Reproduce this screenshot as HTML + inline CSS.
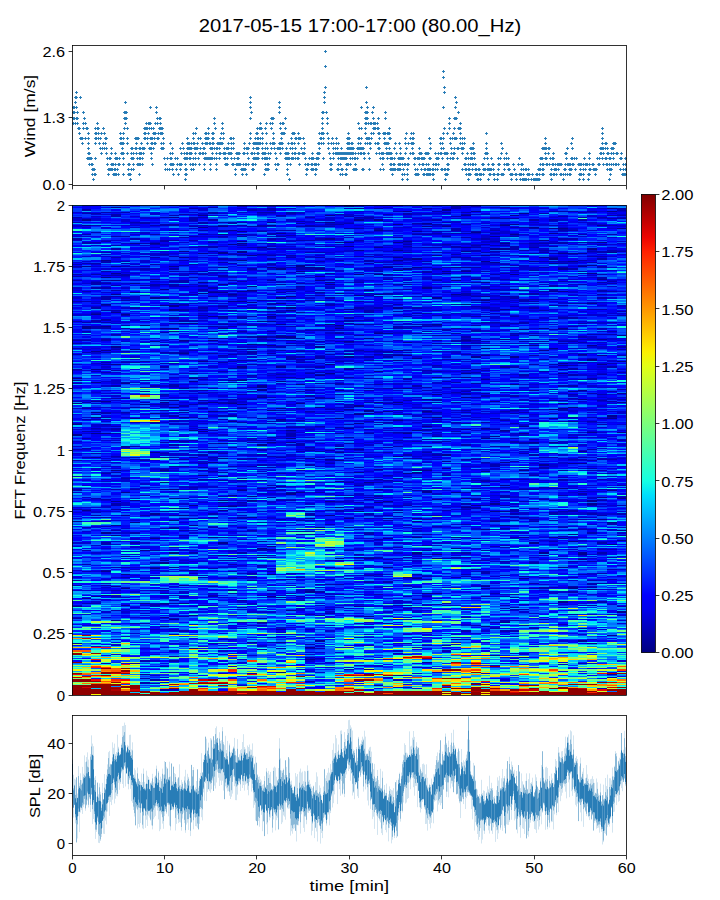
<!DOCTYPE html>
<html><head><meta charset="utf-8"><title>chart</title>
<style>html,body{margin:0;padding:0;background:#fff;overflow:hidden}svg{display:block}text{font-family:"Liberation Sans",sans-serif;fill:#000}</style></head><body>
<svg width="720" height="900" viewBox="0 0 720 900">
<rect width="720" height="900" fill="#fff"/>
<rect x="72.0" y="205.0" width="554.4" height="490.0" fill="#0018e8"/>
<g transform="translate(72.0 694.443) scale(9.7263 -1.11364)" fill="none" stroke-width="1.02" shape-rendering="crispEdges">
<path stroke="#000090" d="M31 8h1M33 17h1M7 18h1M55 18h1M21 20h1M30 22h1M36 29h1M24 31h1M46 33h1M43 35h1M12 41h1M24 42h1M38 44h1M0 46h1M53 46h1M18 47h1M21 47h1M25 48h1M52 48h1M55 53h1M21 58h1M52 59h1M9 61h1M34 61h1M42 61h1M19 65h1M44 65h1M4 66h1M10 67h1M9 69h1M30 70h1M12 71h1M56 74h1M22 75h1M40 76h1M0 79h1M29 79h1M5 80h1M34 80h1M7 82h1M9 82h1M11 82h1M50 83h1M1 86h1M21 87h1M2 88h1M20 88h1M42 88h1M3 89h1M36 91h2M24 92h1M16 93h1M53 94h1M5 95h1M42 95h1M51 95h1M51 96h1M4 97h1M42 97h1M11 98h1M35 104h1M46 104h1M34 105h1M5 108h1M20 108h1M3 110h1M12 111h1M41 112h1M8 113h1M10 114h1M32 114h1M50 114h1M9 118h1M52 121h1M27 122h1M30 122h1M37 122h1M19 123h1M29 123h1M5 124h1M15 125h1M19 125h1M37 126h1M52 126h1M10 127h1M35 127h1M48 127h1M52 127h1M7 129h1M20 130h1M19 131h1M39 131h1M20 133h1M55 135h1M15 136h1M47 136h1M51 137h1M56 138h1M8 140h1M32 140h1M50 140h1M14 141h1M35 141h1M39 141h1M46 141h1M49 141h1M4 143h1M51 144h1M3 145h1M56 147h1M42 148h1M10 149h1M25 150h1M28 150h1M4 152h1M12 152h1M44 152h1M6 154h1M55 154h1M0 155h1M35 155h1M43 155h1M10 156h1M54 157h1M24 158h1M28 158h1M32 158h1M35 158h1M18 159h1M5 161h1M11 161h1M26 161h1M8 162h1M29 164h1M43 164h2M1 165h1M15 165h1M11 167h1M27 168h1M40 168h1M15 169h2M12 170h1M41 170h1M43 171h1M53 171h1M31 172h1M4 173h1M26 173h1M32 173h1M53 173h1M6 174h1M15 174h1M18 174h1M53 174h1M37 175h1M10 176h1M40 176h1M56 176h1M54 177h1M18 178h1M16 179h1M22 180h1M5 181h1M23 181h1M36 181h1M39 181h1M36 182h1M17 183h1M55 183h1M9 184h2M31 184h1M50 185h1M21 187h1M42 188h1M44 188h1M9 190h1M30 190h1M27 191h1M15 196h1M13 197h1M34 198h1M29 199h1M35 199h1M42 200h1M4 201h1M9 201h1M35 201h2M46 201h1M31 202h1M38 203h1M48 206h1M51 207h2M14 208h1M44 208h1M38 209h1M27 210h1M26 211h1M15 212h1M24 212h1M2 213h1M33 214h1M38 215h1M8 217h1M27 217h1M52 218h1M29 220h1M27 221h1M5 223h1M19 224h1M15 225h1M20 226h1M22 226h1M47 226h1M49 226h1M10 228h1M22 230h1M42 230h1M43 232h1M0 233h1M2 234h2M34 234h1M46 234h1M53 235h1M56 235h1M13 236h1M12 237h1M22 237h1M35 237h1M44 237h1M13 238h1M40 238h1M28 239h1M42 239h1M36 241h1M46 241h1M0 242h1M29 243h1M8 244h1M16 245h1M51 245h1M33 246h1M21 247h1M6 248h1M27 248h1M49 248h1M55 248h1M2 249h1M11 249h1M37 249h1M55 250h1M29 251h1M8 252h1M30 252h1M2 253h1M14 254h1M30 254h1M32 254h1M36 254h1M20 255h1M30 255h1M28 256h1M49 256h1M21 257h1M50 257h1M10 258h1M25 258h1M51 258h1M29 259h1M7 260h1M17 260h1M0 261h1M16 261h1M23 261h1M50 261h1M9 262h1M14 262h1M31 262h1M33 262h1M56 262h1M2 263h2M43 263h1M10 264h1M49 264h1M36 265h1M52 265h1M19 267h1M40 267h1M37 269h1M56 270h1M51 272h1M19 273h1M27 273h1M47 273h1M52 273h1M19 274h1M34 275h1M19 276h1M19 277h1M23 278h1M45 278h1M5 279h1M2 280h1M12 281h1M21 281h1M0 282h1M16 282h2M42 283h1M0 284h1M12 284h1M37 285h1M40 285h1M25 286h1M26 288h1M40 288h1M50 288h1M31 290h1M2 292h1M28 292h1M50 292h1M17 294h1M21 294h1M44 294h1M50 295h1M4 296h1M26 296h1M54 296h1M50 297h1M52 298h1M13 299h1M56 299h1M33 300h1M53 300h1M53 301h1M35 302h1M28 303h1M41 303h1M45 303h1M33 304h2M42 304h1M54 304h1M28 305h1M52 305h1M11 306h1M2 308h1M3 309h1M33 309h1M48 309h1M6 310h1M18 310h1M42 311h1M49 311h1M4 312h1M25 312h1M20 313h1M47 313h1M53 313h1M18 314h1M34 316h1M8 317h1M28 317h1M11 318h1M14 318h1M40 318h1M44 319h1M49 319h1M54 319h1M30 320h1M19 321h1M21 321h2M56 322h1M31 324h2M10 326h1M6 328h2M46 328h1M1 329h1M9 329h2M15 329h1M27 329h1M48 329h1M50 329h1M1 330h1M3 330h1M7 331h1M27 331h1M21 332h1M26 332h1M29 332h1M37 332h1M11 333h2M19 335h2M14 339h2M20 339h1M2 341h1M5 341h1M4 343h1M10 345h1M22 345h1M10 346h1M28 346h1M44 346h1M20 347h1M22 347h1M33 347h1M10 348h1M9 349h2M3 350h1M40 350h1M21 351h1M53 351h1M18 352h1M16 353h2M42 354h1M8 356h1M21 356h1M37 356h1M22 357h1M42 357h1M29 358h1M4 359h1M16 359h1M31 359h1M39 359h1M13 360h1M27 360h1M6 361h1M14 361h2M17 362h1M49 362h2M18 363h1M30 363h1M9 364h1M45 364h1M36 365h1M18 366h1M15 368h1M26 368h1M6 369h1M13 370h1M26 370h1M42 370h1M4 372h1M25 372h1M39 372h1M8 373h1M41 373h1M54 373h1M3 374h1M25 375h1M29 377h1M31 377h1M45 377h1M4 378h1M38 378h1M53 378h1M23 380h1M38 380h1M40 380h1M33 381h1M21 382h1M25 382h1M34 382h1M50 382h1M15 383h1M20 383h1M24 383h1M32 383h1M35 383h1M39 383h2M1 384h1M4 384h1M10 384h1M23 384h1M52 384h1M23 385h1M53 385h1M49 387h1M43 388h1M42 389h1M47 389h1M51 389h1M3 390h1M17 390h1M33 390h1M35 391h1M49 391h1M11 392h1M33 392h1M48 392h1M18 394h1M37 394h1M42 394h1M13 396h1M15 396h1M50 396h3M15 397h1M17 397h1M55 397h1M11 398h1M17 398h1M40 398h1M29 399h1M33 399h1M43 400h2M53 400h1M19 401h1M31 401h1M40 401h1M28 402h1M16 404h1M6 405h1M8 405h1M17 405h1M44 405h1M27 406h2M33 406h1M54 406h1M17 407h1M34 407h1M48 408h1M26 409h1M43 411h1M15 413h1M17 413h1M45 413h1M21 414h1M49 414h1M41 415h1M17 416h1M35 416h1M16 417h1M31 417h1M49 418h2M56 418h1M13 419h1M47 419h1M15 420h1M36 420h1M38 420h1M1 421h1M20 421h1M44 421h1M54 421h1M33 422h1M45 422h1M36 423h1M20 424h1M26 424h1M1 426h1M29 426h1M31 426h1M10 428h1M13 430h1M26 430h1M40 430h1M45 430h1M46 432h1M34 434h1M41 434h1M55 434h1M38 435h1M29 436h1M55 436h1M4 437h1M28 438h1M28 439h1"/>
<path stroke="#0000b0" d="M9 4h1M54 5h1M7 10h2M41 10h1M7 11h1M9 11h1M24 12h1M8 13h1M33 13h1M7 14h1M32 15h1M55 15h1M18 19h1M10 20h1M28 22h1M9 25h1M29 26h1M50 27h1M3 28h1M6 28h1M16 28h1M52 28h1M7 30h1M10 30h1M25 32h1M24 33h1M10 34h1M33 37h1M38 39h1M19 40h1M5 41h1M15 41h1M21 41h1M24 41h2M30 44h1M36 44h1M24 45h1M14 46h1M34 46h1M20 47h1M16 49h1M39 49h1M20 51h1M29 51h1M10 54h1M11 57h1M40 57h1M44 57h2M8 58h1M24 58h1M43 59h1M47 59h1M29 60h1M26 62h1M41 62h1M46 62h1M50 63h1M6 64h2M32 64h1M17 65h1M43 65h1M44 66h2M33 67h1M35 67h1M48 67h1M0 68h1M19 68h1M40 69h1M11 70h1M29 70h1M25 71h1M24 72h1M51 72h1M26 73h1M4 75h1M26 76h1M45 76h2M34 77h1M44 77h1M17 78h1M45 78h1M30 79h1M32 79h1M56 79h1M8 80h1M13 80h1M33 80h1M44 80h1M53 80h1M8 81h2M37 81h1M46 81h1M1 82h2M10 82h1M38 82h1M54 83h1M10 84h1M17 84h1M23 84h1M35 85h1M45 87h1M4 88h1M11 88h1M14 88h1M23 88h1M34 88h1M36 88h1M44 88h1M14 89h1M27 90h1M31 90h1M45 90h1M9 91h1M16 91h1M22 91h1M43 91h1M25 92h1M51 92h1M4 93h1M8 93h2M20 93h1M24 93h1M24 94h1M47 95h2M48 96h2M53 96h1M14 97h1M51 97h1M0 98h1M3 98h1M34 98h1M42 98h1M25 99h3M53 99h1M47 100h1M53 100h2M30 101h1M32 101h1M0 102h1M18 102h1M53 102h1M21 103h2M25 103h2M36 103h1M55 103h1M16 104h1M28 104h1M5 105h1M13 105h1M18 105h1M23 105h1M35 105h1M39 105h1M48 105h1M51 105h1M36 106h1M40 106h1M46 106h1M30 107h1M44 107h1M31 108h1M35 108h1M40 108h1M52 108h1M12 109h1M18 109h1M22 109h1M42 109h1M54 109h1M1 110h1M16 110h1M20 110h1M42 110h1M3 111h1M11 111h1M55 112h1M14 113h1M4 114h2M8 114h1M26 114h1M40 115h1M19 116h1M1 117h1M16 117h1M8 118h1M47 118h1M44 119h1M51 119h1M53 119h1M9 120h1M15 120h2M26 120h2M29 120h1M41 120h2M32 121h1M31 122h1M38 122h1M30 123h2M34 123h1M39 123h2M55 123h1M48 125h1M29 126h1M35 126h1M12 127h1M17 127h1M40 127h1M54 127h1M1 129h1M8 129h1M19 129h1M28 129h1M36 129h1M42 129h1M19 130h1M49 130h1M54 130h2M26 132h1M33 132h1M44 132h1M43 133h1M52 133h1M36 134h1M44 134h1M3 135h1M3 136h1M6 136h1M54 136h1M19 137h1M49 137h1M31 139h1M41 140h1M15 141h1M45 141h1M51 141h1M50 142h1M11 143h1M56 143h1M23 144h2M30 144h1M36 144h1M6 145h1M30 145h1M53 145h1M23 146h2M4 147h1M11 147h1M18 147h1M23 148h1M52 148h2M9 149h1M35 149h1M44 149h1M1 150h1M10 150h1M14 150h1M17 150h1M50 150h1M3 151h1M37 151h1M34 152h1M26 153h1M40 153h1M55 153h1M19 154h1M47 155h1M23 156h2M32 156h1M43 156h1M45 156h1M49 156h1M21 157h1M36 157h1M47 157h1M52 157h1M11 158h2M17 158h1M30 158h1M46 158h1M3 159h1M14 159h1M17 159h1M45 159h1M44 160h1M2 161h1M7 161h1M10 161h1M24 161h1M32 161h1M36 161h2M54 161h1M14 162h1M24 162h1M30 162h1M45 162h1M49 162h1M53 162h1M56 162h1M33 163h1M49 163h1M9 164h1M24 164h1M27 164h1M45 164h1M50 164h2M21 165h1M26 165h2M31 165h1M33 165h1M38 165h1M45 165h1M51 165h1M0 166h1M4 166h1M29 166h1M40 166h1M45 166h1M49 166h1M10 167h1M41 167h1M47 167h1M30 168h1M41 168h1M40 169h1M4 170h1M16 170h2M34 170h1M42 170h1M44 170h1M53 170h1M56 170h1M4 171h1M40 171h1M15 172h1M17 172h1M29 172h1M18 173h1M27 173h1M43 173h1M46 173h1M21 174h2M49 174h1M54 174h1M3 175h1M30 175h1M41 175h1M48 175h1M2 176h1M11 176h1M26 176h1M31 176h1M41 176h1M13 177h1M20 177h1M28 177h1M30 177h1M34 177h1M44 177h1M56 177h1M15 178h1M31 178h1M44 178h1M7 179h1M27 179h2M31 179h1M41 179h1M44 179h1M50 179h1M52 180h1M22 181h1M25 181h1M40 181h1M52 182h1M0 183h1M20 183h2M35 183h2M0 184h1M4 184h1M6 184h1M17 184h1M46 184h2M54 184h1M19 185h1M40 185h2M49 185h1M12 186h1M20 186h1M44 186h1M48 186h1M17 187h1M20 188h1M29 188h1M56 188h1M28 190h1M31 190h1M33 191h1M42 191h2M15 192h1M17 192h1M19 192h1M32 192h1M41 192h2M50 192h1M3 193h1M8 193h1M13 193h2M31 193h1M37 193h1M44 193h3M50 193h1M54 193h1M5 194h1M17 194h1M33 194h1M50 195h1M32 197h1M38 197h1M47 197h1M3 198h1M21 198h1M35 198h1M46 198h1M55 198h1M4 199h1M15 199h1M14 200h1M13 201h1M23 201h1M50 201h1M53 201h2M9 202h1M35 202h1M48 203h1M53 203h1M13 204h1M20 204h1M29 204h1M48 204h1M10 205h2M16 205h1M18 205h1M43 205h1M19 206h1M24 206h1M43 206h1M13 207h1M26 207h1M42 208h1M45 209h1M0 210h1M3 210h1M7 210h1M26 210h1M53 210h1M6 211h1M11 211h1M17 211h1M40 211h2M51 211h2M54 211h2M18 212h1M34 212h2M54 212h1M1 213h1M6 213h1M9 213h2M12 213h1M14 213h1M21 213h1M48 213h2M52 213h1M4 214h1M20 214h1M13 215h1M19 215h1M34 215h1M37 215h1M47 215h1M2 216h1M9 216h1M15 216h1M46 216h1M14 217h1M29 217h1M32 217h1M36 217h1M14 218h1M23 218h1M25 218h1M19 219h1M24 219h1M26 219h1M0 220h1M19 220h1M28 220h1M38 220h1M41 220h1M47 220h1M53 220h1M1 221h1M5 222h1M16 222h1M24 222h1M32 222h1M6 223h1M27 223h1M33 223h1M36 223h1M43 223h2M50 223h1M10 224h1M23 224h1M40 224h1M14 225h1M23 225h1M28 225h1M46 225h2M9 226h1M18 226h1M37 226h1M45 226h2M11 227h1M35 227h1M38 227h1M45 227h1M12 228h1M15 228h1M18 228h3M33 228h1M56 228h1M36 229h2M47 229h1M1 230h1M18 230h1M45 230h1M20 231h1M28 231h1M34 231h1M51 231h1M22 232h1M37 232h1M22 233h1M4 234h1M22 234h1M27 234h1M30 234h1M36 234h1M40 234h1M33 235h2M1 236h2M39 236h1M44 236h1M10 237h1M14 237h1M36 237h1M4 238h1M24 238h1M30 238h1M36 238h2M42 238h2M2 239h1M4 239h1M22 240h2M27 240h1M4 241h1M25 241h1M3 242h1M28 242h1M54 242h1M0 243h1M40 243h1M45 243h1M6 244h1M17 244h1M31 244h2M39 244h1M42 244h1M10 245h1M20 245h2M30 245h1M37 245h1M50 245h1M53 245h1M21 246h1M23 246h1M44 246h1M1 247h3M15 247h1M31 247h1M37 247h1M13 248h1M19 248h1M43 248h1M54 248h1M3 249h1M12 249h1M36 249h1M46 249h1M51 249h1M53 249h1M55 249h1M10 250h1M15 250h2M2 251h1M33 251h2M3 252h1M9 252h1M29 252h1M45 252h1M49 252h1M3 253h1M5 253h1M11 253h1M31 253h1M36 253h2M40 253h1M46 253h1M15 254h2M24 254h1M27 254h1M44 254h1M9 255h1M11 255h1M21 255h1M33 255h1M40 255h1M45 255h1M50 255h1M26 256h1M47 256h1M50 256h1M1 257h1M13 257h1M17 257h1M23 257h1M36 257h1M6 258h1M28 258h1M31 258h1M11 259h1M8 260h3M12 260h1M28 260h1M33 260h1M13 261h1M15 261h1M32 261h1M1 262h1M7 262h1M13 262h1M15 262h2M20 262h1M30 262h1M36 262h2M39 262h1M0 263h1M27 263h1M55 263h1M9 264h1M13 264h1M34 264h1M37 264h1M47 264h1M50 264h1M54 264h1M15 265h2M18 265h1M24 265h1M37 265h1M56 265h1M4 266h2M25 266h2M51 266h1M20 267h1M25 267h1M41 267h1M19 268h1M24 268h1M42 268h1M45 268h1M7 269h1M9 269h1M17 269h1M27 269h1M40 269h1M51 269h1M54 269h1M13 270h1M40 270h1M42 270h1M53 270h1M39 271h1M7 272h1M18 272h1M23 272h1M40 272h1M55 272h1M13 273h1M24 273h1M30 273h1M36 273h1M41 273h1M43 273h1M41 274h1M49 274h1M56 274h1M11 275h1M14 275h1M30 275h1M32 275h2M18 276h1M36 276h1M38 276h1M4 277h1M8 277h1M10 277h1M35 277h1M50 277h2M10 278h1M13 278h1M27 278h1M31 278h1M0 279h1M25 279h1M27 279h1M41 279h1M5 280h1M16 280h1M39 280h1M38 281h1M7 282h1M13 283h1M17 283h1M34 283h1M52 283h2M23 284h1M30 284h1M34 284h1M53 284h1M12 285h2M21 285h2M28 285h1M38 285h1M18 286h1M46 286h1M51 286h1M21 287h1M25 287h1M46 287h1M51 287h1M54 287h1M12 288h1M24 288h1M3 289h1M25 289h1M41 289h1M56 289h1M2 290h1M15 290h1M37 290h1M48 290h1M4 291h1M36 291h1M40 291h1M42 291h1M0 292h1M3 292h1M41 292h1M51 292h1M16 293h2M28 293h2M51 293h1M9 294h1M25 294h1M45 294h1M55 294h1M37 295h1M51 295h1M3 296h1M18 296h1M47 296h1M49 296h1M9 297h2M41 297h1M55 297h1M3 298h1M5 298h2M15 298h1M23 298h1M7 299h1M16 299h1M27 299h1M17 300h2M30 300h1M22 301h3M38 301h2M48 301h1M22 302h1M25 302h1M22 303h2M25 303h1M30 303h1M32 303h1M15 304h1M44 304h1M47 304h1M52 304h1M56 304h1M0 305h1M16 305h1M26 305h1M31 305h3M40 305h1M10 306h1M14 306h1M18 306h1M20 306h1M1 307h1M3 307h1M9 307h3M18 307h1M32 307h1M34 307h1M5 308h1M18 308h1M23 308h1M26 308h1M28 308h1M30 308h3M37 308h1M12 309h1M21 309h1M29 309h1M34 309h1M4 310h1M17 310h1M56 310h1M0 311h1M21 312h1M56 312h1M9 313h1M40 313h1M42 313h1M46 313h1M15 314h1M19 314h1M0 315h1M22 315h1M37 315h2M41 315h1M47 315h1M50 315h1M28 316h1M52 316h1M11 317h1M25 317h1M27 317h1M39 317h2M42 317h1M46 317h1M48 317h1M50 317h2M0 318h2M3 318h1M20 318h1M22 318h1M37 318h1M39 318h1M41 318h1M3 319h1M19 319h1M40 319h1M52 319h2M14 320h2M22 320h2M27 320h1M18 321h1M20 321h1M40 321h1M52 321h1M21 322h1M29 322h1M37 322h2M45 322h1M47 322h1M4 323h1M53 323h3M27 324h1M35 324h1M39 324h1M45 324h3M9 325h1M27 325h1M31 325h1M1 326h1M14 326h1M17 326h1M20 326h1M36 326h1M41 326h1M55 326h1M24 327h3M38 327h1M41 327h1M38 328h1M49 328h2M2 329h2M5 329h1M33 329h2M39 329h1M54 329h1M2 330h1M14 330h1M16 330h1M22 330h1M33 330h1M35 330h2M51 330h1M5 331h1M18 331h1M25 331h1M37 331h1M41 331h1M44 331h1M15 332h1M17 332h1M30 332h1M35 332h2M10 333h1M28 333h1M45 333h2M52 333h1M1 334h1M3 334h1M42 334h2M46 334h1M53 334h1M55 334h1M0 335h1M2 335h1M11 335h2M16 335h1M27 335h2M2 336h2M11 336h1M28 336h3M3 337h1M47 337h1M10 338h1M15 338h1M17 338h1M20 338h1M28 338h1M50 338h2M17 339h2M34 339h1M41 339h2M45 339h1M5 340h1M13 340h1M37 340h1M56 340h1M20 341h1M2 342h1M35 342h2M43 342h1M21 343h1M23 343h1M30 343h1M20 344h1M30 344h1M33 344h1M56 344h1M3 345h2M11 345h1M13 345h1M16 345h1M30 345h1M37 345h1M43 345h1M48 345h1M11 346h1M53 346h2M2 347h1M6 347h1M13 347h1M29 347h1M31 347h1M35 347h1M42 347h1M47 347h1M15 348h1M17 348h1M41 348h1M45 348h1M3 349h1M11 349h1M22 349h1M26 349h1M49 349h2M11 350h1M20 350h1M26 350h1M33 350h1M39 350h1M10 351h1M20 351h1M51 351h2M42 352h1M0 353h2M29 353h1M46 353h2M5 354h1M19 354h2M22 354h1M24 354h1M39 354h1M41 354h1M46 354h1M3 355h1M33 355h1M42 355h2M46 355h2M49 355h1M3 356h1M5 356h1M9 356h1M26 356h1M45 356h1M54 356h1M3 357h2M14 357h1M31 357h1M36 357h1M41 357h1M44 357h2M16 358h1M25 358h1M30 358h1M40 358h1M12 359h1M32 359h1M40 359h1M47 359h1M54 359h1M30 360h1M32 360h1M40 360h1M44 360h1M47 360h1M21 361h1M25 361h1M1 362h1M14 362h1M18 362h1M22 362h1M48 362h1M54 362h2M4 363h1M13 363h1M28 363h1M46 363h1M49 363h1M54 363h1M13 364h1M21 364h2M34 364h1M43 364h1M49 364h1M2 365h2M14 365h1M42 365h1M10 366h2M13 366h1M23 366h1M38 366h1M49 366h1M4 367h1M7 367h2M10 367h1M13 367h1M49 367h1M2 368h1M8 368h3M21 368h1M31 368h1M33 368h2M44 368h1M52 368h1M2 369h2M16 369h1M23 369h1M55 369h1M2 370h1M11 370h1M29 370h1M41 370h1M54 370h1M10 371h2M17 371h1M50 371h1M55 371h1M0 372h1M3 372h1M11 372h1M16 372h1M20 372h1M37 372h1M45 372h1M32 373h1M44 373h1M12 374h1M39 374h1M54 374h1M0 375h1M15 375h1M3 376h3M15 376h1M0 377h1M2 377h1M5 377h1M13 377h1M32 377h1M43 377h1M54 377h1M12 378h1M26 378h1M44 378h1M52 378h1M36 379h1M3 380h1M10 380h1M12 380h2M31 380h1M36 380h1M42 380h1M52 380h1M40 381h1M45 381h1M47 381h1M7 382h1M10 382h1M18 382h1M23 382h2M37 382h1M51 382h1M22 383h2M25 383h1M31 383h1M36 383h1M38 383h1M41 383h1M44 383h1M48 383h1M50 383h1M54 383h1M0 384h1M5 384h1M7 384h1M32 384h1M54 384h1M11 385h1M17 385h1M24 385h1M45 385h1M52 385h1M0 386h1M8 386h1M12 386h1M20 386h1M28 386h1M33 386h1M44 386h1M1 387h2M5 387h1M16 387h1M30 387h1M50 387h1M3 388h1M15 388h1M31 388h1M53 388h1M3 389h1M5 389h1M25 389h1M30 389h1M36 389h1M48 389h3M10 390h2M27 390h1M30 390h1M52 390h1M15 391h1M20 391h1M34 391h1M54 391h1M4 392h1M8 392h1M22 392h1M25 392h1M39 392h2M49 392h1M10 393h1M29 393h2M46 393h1M53 393h2M20 394h1M22 394h1M9 395h1M16 395h2M19 395h1M39 395h1M47 396h1M49 396h1M3 397h1M24 397h2M34 397h1M37 397h1M42 397h1M48 397h1M54 397h1M14 398h1M41 398h1M43 398h1M53 398h4M41 399h1M46 399h1M48 399h1M55 399h1M4 400h1M20 400h1M45 400h1M12 401h1M14 401h1M18 401h1M36 401h2M39 401h1M41 401h1M45 401h1M47 401h1M13 402h2M20 402h1M26 402h1M34 402h1M39 402h1M45 402h1M49 402h1M4 403h1M17 403h1M41 403h1M43 403h2M8 404h1M34 404h1M38 404h1M42 404h1M54 404h1M1 405h1M7 405h1M47 405h4M1 406h2M14 406h1M50 406h1M52 406h2M3 407h1M9 407h1M43 407h1M9 408h2M12 408h1M23 408h2M29 408h1M0 409h1M6 409h1M20 409h1M25 409h1M42 409h1M50 409h2M11 410h1M33 410h1M40 410h1M4 411h2M12 411h1M15 411h1M17 411h1M21 411h1M38 411h1M45 411h1M22 412h1M1 413h1M8 413h1M13 413h1M20 413h1M35 413h2M52 413h1M55 413h1M20 414h1M29 414h1M37 414h1M39 414h2M43 414h1M2 415h1M15 416h1M19 416h1M37 416h1M41 416h1M10 417h1M13 417h1M15 417h1M21 417h2M32 417h1M39 417h1M43 417h1M50 417h2M28 418h2M31 418h1M39 418h1M47 418h1M45 419h2M12 420h1M14 420h1M18 420h2M23 420h4M2 421h1M8 421h3M15 421h1M17 421h1M19 421h1M24 421h1M38 421h1M49 421h1M55 421h1M9 422h2M26 422h2M36 422h2M40 422h1M44 422h1M7 423h1M13 423h1M16 423h1M23 423h1M28 423h1M35 423h1M0 424h1M6 424h2M13 424h1M15 424h3M25 424h1M38 424h1M23 425h1M12 426h1M14 426h1M37 426h1M47 426h1M49 426h1M52 426h1M12 427h1M30 427h1M43 427h3M55 427h2M0 428h1M9 428h1M12 428h2M24 428h1M29 428h2M43 428h1M52 428h1M54 428h1M4 429h1M28 429h1M39 429h1M50 429h1M4 430h1M10 430h1M21 430h1M55 430h2M4 431h1M11 431h1M27 431h1M32 431h1M34 431h1M40 431h1M1 432h2M14 432h1M22 432h1M34 432h1M48 432h1M3 433h1M5 433h1M14 433h1M19 433h2M22 433h1M38 433h1M40 433h1M52 433h1M33 434h1M37 434h1M49 434h3M53 434h1M1 435h1M18 435h1M20 435h1M56 435h1M12 436h1M20 436h1M31 436h1M36 436h1M39 436h1M56 436h1M14 437h1M39 437h1M44 437h1M17 438h1M20 438h1M39 438h1M41 438h1M10 439h1M13 439h1M17 439h1M21 439h1M23 439h1M25 439h2M33 439h1M51 439h1"/>
<path stroke="#0000d0" d="M10 4h1M24 6h1M33 6h2M17 8h1M36 9h1M44 10h1M44 13h1M15 14h1M9 15h1M8 17h1M34 17h1M12 19h1M15 19h1M35 19h1M42 19h1M25 20h1M37 20h1M24 21h1M23 22h1M51 23h1M26 24h1M28 24h1M35 24h2M16 25h1M31 25h1M30 26h2M43 26h1M25 28h1M53 28h1M17 29h1M26 29h1M8 30h1M24 30h1M56 30h1M17 31h1M25 31h1M30 31h1M32 31h2M24 32h1M45 32h1M44 33h1M28 34h1M18 35h1M4 36h1M8 36h1M24 36h1M34 36h1M46 36h1M45 37h2M24 38h2M27 38h1M51 38h1M10 39h1M15 39h1M33 39h1M7 41h1M9 42h1M35 42h1M2 43h1M19 43h1M25 43h1M4 44h1M19 44h1M25 44h1M29 44h1M4 45h1M11 45h1M39 45h1M10 46h1M15 46h1M33 46h1M39 47h1M42 47h1M50 48h1M4 49h1M15 49h1M40 49h1M53 49h1M23 50h1M24 51h1M26 51h1M30 51h1M5 52h1M45 52h1M22 54h2M30 54h1M34 54h1M36 54h1M39 54h1M52 54h1M6 55h1M41 55h1M21 56h1M36 56h1M10 57h1M26 57h1M42 57h1M6 58h1M9 58h2M54 58h1M16 59h1M21 59h1M27 59h1M21 60h2M30 60h1M43 60h1M47 60h1M1 62h2M16 62h1M18 62h2M40 62h1M12 63h1M30 63h1M40 63h1M19 64h1M23 64h1M29 64h1M56 64h1M16 65h1M30 65h2M37 66h1M46 66h1M56 66h1M34 67h1M51 67h1M10 68h1M30 68h1M0 69h1M3 69h1M6 69h2M34 69h1M10 70h1M32 70h1M10 71h1M16 71h1M56 71h1M1 72h1M23 72h1M53 72h1M55 72h1M7 73h1M47 73h1M3 74h1M5 74h1M12 74h1M18 74h3M26 74h1M32 74h1M35 74h1M46 74h1M6 75h2M23 75h1M33 75h1M35 75h2M45 75h1M51 75h1M5 76h1M17 76h1M23 76h1M34 76h1M38 76h1M23 77h1M28 77h1M6 78h1M26 78h2M35 78h1M50 78h1M8 79h1M12 79h1M19 79h2M23 79h1M31 79h1M41 79h1M0 80h1M7 80h1M14 80h1M25 80h1M27 80h2M36 80h1M38 80h2M52 80h1M18 81h1M29 81h1M36 81h1M50 81h1M55 81h1M8 82h1M18 82h1M25 82h1M32 82h2M48 82h1M52 82h1M2 83h1M17 83h1M33 83h2M53 83h1M12 84h1M30 84h1M33 84h1M46 84h1M2 85h2M21 85h2M23 86h1M37 86h1M41 86h1M4 87h2M9 87h1M11 87h1M15 87h1M20 87h1M24 87h2M28 87h1M9 88h1M26 88h1M43 88h1M4 89h1M10 89h1M19 89h1M21 89h2M36 89h1M20 90h1M26 90h1M29 90h2M44 90h1M53 90h1M11 91h1M14 91h1M20 91h1M26 91h1M35 91h1M49 91h1M6 92h1M11 92h1M23 92h1M49 92h2M0 93h4M7 93h1M23 93h1M48 93h1M54 94h2M9 95h1M29 95h1M43 95h4M3 96h1M5 96h1M25 96h1M31 96h1M35 96h1M38 96h2M50 96h1M52 96h1M10 97h1M32 97h1M34 97h2M41 97h1M53 97h1M12 98h1M20 98h1M22 98h1M41 98h1M8 99h1M48 99h1M3 100h1M43 100h1M55 100h2M51 102h1M54 102h1M3 103h1M23 103h1M7 104h2M15 104h1M17 104h1M34 104h1M0 105h1M4 105h1M7 105h1M16 105h1M41 105h1M17 106h1M27 106h1M31 106h1M37 106h1M43 106h1M56 106h1M6 107h1M8 107h1M11 107h1M13 107h1M28 107h2M36 107h1M18 108h1M30 108h1M32 108h1M53 108h1M17 109h1M23 109h1M53 109h1M2 110h1M9 110h1M41 110h1M0 111h1M5 111h1M8 111h1M6 112h1M40 112h1M45 112h1M56 112h1M20 113h1M27 113h1M29 113h1M6 114h2M13 114h1M15 114h1M19 114h1M30 114h1M16 115h1M19 115h1M31 115h1M34 115h1M44 115h1M51 115h1M17 116h1M30 116h1M35 116h2M56 116h1M11 118h1M32 118h1M44 118h1M12 119h2M35 119h1M43 119h1M47 119h1M52 119h1M4 120h1M11 120h1M33 120h3M54 120h1M30 121h1M43 121h1M48 121h1M9 122h1M33 122h1M35 122h1M39 122h1M43 122h1M50 122h1M52 122h2M17 123h1M20 123h1M47 123h1M16 124h1M35 124h2M42 124h1M45 124h1M50 124h1M56 124h1M14 125h1M20 125h1M34 125h1M39 125h1M42 125h1M52 125h1M6 126h1M36 126h1M40 126h1M53 126h2M2 127h1M33 127h1M39 127h1M5 128h1M16 128h1M51 128h1M11 129h2M16 129h1M18 129h1M20 129h1M45 129h1M29 130h1M51 130h1M3 131h1M7 131h1M29 131h1M32 131h1M36 131h1M41 131h1M54 131h1M6 132h1M10 132h1M31 132h1M51 132h1M0 133h1M6 133h1M45 133h2M2 134h1M37 134h1M4 135h1M15 135h1M20 135h1M31 135h1M49 135h1M0 136h2M7 136h1M31 136h1M33 136h2M37 136h2M4 137h1M52 137h1M54 137h2M30 138h2M42 138h1M48 138h2M52 138h1M6 139h1M17 139h1M20 139h1M39 139h1M6 140h1M29 140h2M45 140h1M8 141h1M11 141h1M40 141h1M48 141h1M52 141h1M34 142h2M16 143h2M19 143h1M32 143h1M9 144h1M35 144h1M4 145h2M12 145h1M46 145h1M56 145h1M1 146h1M16 146h3M22 146h1M34 146h2M45 146h1M12 147h1M35 147h1M50 147h2M55 147h1M13 148h1M29 148h1M41 148h1M43 148h2M51 148h1M55 148h1M5 149h1M15 149h1M41 149h1M52 149h1M29 150h1M31 150h2M34 150h1M37 150h1M39 150h1M47 150h1M56 150h1M2 151h1M14 151h1M38 151h1M45 151h1M50 151h2M16 152h1M19 152h1M43 152h1M45 152h1M39 153h1M53 153h1M11 154h1M21 154h2M51 154h1M2 155h1M3 156h2M6 156h1M26 156h1M41 156h1M44 156h1M47 156h1M19 157h1M26 157h1M51 157h1M53 157h1M0 158h1M13 158h1M16 158h1M20 158h1M22 158h1M31 158h1M33 158h1M37 158h1M43 158h1M2 159h1M20 159h1M28 159h1M46 159h2M52 159h2M31 160h1M33 160h1M45 160h1M8 161h1M12 161h1M17 161h1M25 161h1M30 161h2M39 161h1M35 162h1M46 162h1M50 162h3M54 162h2M0 163h1M2 163h1M17 163h1M41 163h1M46 163h1M50 163h1M52 163h2M1 164h4M10 164h1M19 164h1M25 164h1M28 164h1M56 164h1M13 165h1M23 165h1M42 165h1M1 166h1M5 166h1M17 166h1M28 166h1M36 166h1M39 166h1M50 166h1M29 167h1M40 167h1M0 168h4M29 168h1M38 168h1M3 169h1M7 169h1M24 169h1M30 169h1M32 169h2M35 169h1M37 169h1M39 169h1M45 169h1M54 169h1M5 170h1M32 170h2M38 170h1M55 170h1M5 171h1M11 171h1M17 171h1M24 171h1M34 171h1M45 171h1M54 171h1M5 172h1M13 172h1M16 172h1M20 172h1M26 172h3M32 172h1M20 173h1M28 173h1M51 173h2M3 174h1M16 174h2M19 174h1M28 174h1M31 174h1M44 174h2M50 174h1M1 175h2M21 175h2M43 175h1M50 175h1M54 175h1M6 176h1M25 176h1M42 176h1M47 176h2M53 176h1M1 177h1M12 177h1M32 177h1M45 177h2M53 177h1M45 178h1M56 178h1M29 179h2M34 179h1M43 179h1M19 180h3M26 180h1M29 180h1M37 180h1M0 181h1M24 181h1M43 181h1M51 181h1M10 182h1M44 182h1M53 182h2M19 183h1M25 183h1M31 183h2M38 183h1M41 183h1M11 184h2M21 184h1M26 184h1M28 184h1M34 184h1M45 184h1M52 184h1M55 184h1M0 185h2M6 185h1M12 185h1M37 185h1M46 185h3M51 185h1M7 186h1M11 186h1M13 186h2M32 186h1M43 186h1M55 186h1M11 187h4M22 187h1M32 187h1M51 187h1M1 188h1M53 188h1M7 189h1M29 189h2M16 190h1M21 190h1M24 190h3M34 190h1M41 190h1M48 190h1M51 190h1M3 191h1M5 191h1M17 191h1M28 191h1M32 191h1M1 192h1M4 192h2M13 192h1M16 192h1M29 192h3M48 192h1M55 192h1M5 193h1M10 193h1M36 193h1M47 193h1M12 194h1M41 194h1M5 195h1M20 195h1M29 195h1M31 195h1M35 195h1M0 196h2M4 196h1M24 196h1M28 196h1M32 196h1M34 196h1M54 196h2M4 197h1M26 197h1M19 198h1M22 198h2M38 198h1M47 198h2M54 198h1M3 199h1M14 199h1M28 199h1M33 199h1M37 199h1M9 200h1M19 200h1M30 200h1M5 201h1M10 201h1M20 201h1M25 201h1M31 201h1M34 201h1M52 201h1M2 202h1M6 202h1M8 202h1M16 202h1M19 202h1M33 202h2M36 202h1M41 202h3M46 202h1M2 203h1M4 203h1M8 203h3M14 203h1M43 203h1M47 203h1M52 203h1M55 203h1M19 204h1M46 204h1M3 205h2M17 205h1M25 205h2M31 205h1M40 205h2M49 205h1M53 205h1M56 205h1M20 206h2M44 206h1M49 206h1M35 207h1M42 207h2M47 207h1M50 207h1M4 208h1M12 208h2M15 208h1M26 208h1M36 208h1M50 208h1M13 209h1M48 209h1M8 210h1M19 210h1M21 210h1M23 210h1M28 210h1M40 210h1M51 210h2M4 211h1M7 211h1M13 211h2M18 211h1M22 211h1M25 211h1M36 211h2M3 212h1M14 212h1M17 212h1M23 212h1M28 212h1M41 212h1M50 212h2M55 212h2M4 213h2M8 213h1M25 213h1M30 213h1M37 213h1M53 213h1M15 214h1M21 214h3M26 214h1M31 214h1M35 214h1M9 215h4M17 215h2M22 215h1M36 215h1M50 215h1M0 216h1M10 216h2M37 216h1M49 216h1M9 217h1M13 217h1M15 217h1M28 217h1M30 217h2M43 217h2M27 218h1M36 218h1M42 218h1M46 218h1M11 219h2M21 219h1M29 219h1M52 219h1M1 220h1M13 220h1M23 220h3M37 220h1M40 220h1M42 220h1M46 220h1M5 221h1M7 221h1M24 221h1M29 221h1M47 221h1M54 221h1M10 222h1M12 222h1M14 222h1M0 223h1M49 223h1M54 223h1M22 224h1M27 224h1M30 224h1M52 224h1M56 224h1M20 225h1M25 225h1M29 225h1M31 225h1M49 225h2M4 226h1M11 226h1M19 226h1M21 226h1M30 226h1M33 226h1M50 226h1M0 227h1M16 227h2M23 227h2M31 227h1M34 227h1M37 227h1M43 227h1M50 227h1M3 228h2M11 228h1M16 228h2M24 228h2M28 228h1M43 228h1M18 229h1M56 229h1M4 230h1M21 230h1M43 230h1M24 231h1M42 231h1M53 231h2M11 232h1M21 232h1M40 232h1M42 232h1M55 232h1M15 233h1M37 233h1M45 233h2M51 233h2M1 234h1M13 234h2M20 234h1M24 234h1M33 234h1M39 234h1M45 234h1M22 235h2M30 235h1M32 235h1M37 235h1M52 235h1M54 235h1M22 236h1M26 236h1M53 236h1M4 237h1M21 237h1M32 237h1M41 237h1M56 237h1M0 238h1M2 238h2M26 238h1M38 238h2M3 239h1M12 239h1M17 239h2M20 239h1M24 239h1M32 239h1M39 239h1M43 239h1M47 239h1M24 240h2M28 240h2M33 240h1M38 240h1M54 240h1M2 241h2M12 241h1M15 241h2M22 241h2M37 241h1M2 242h1M10 242h2M31 242h1M36 242h1M44 242h1M46 242h1M56 242h1M8 243h1M10 243h2M13 243h1M19 243h2M22 243h1M32 243h1M39 243h1M47 243h1M9 244h1M35 244h1M53 244h2M3 245h1M11 245h1M13 245h2M23 245h1M29 245h1M48 245h1M52 245h1M10 246h3M16 246h1M22 246h1M28 246h1M32 246h1M34 246h2M47 246h1M33 247h1M38 247h1M41 247h1M44 247h1M47 247h1M8 248h1M20 248h1M23 248h1M26 248h1M51 248h1M1 249h1M5 249h1M18 249h1M20 249h1M39 249h1M41 249h1M50 249h1M9 250h1M14 250h1M35 250h1M40 250h1M7 251h1M16 251h1M21 251h1M28 251h1M36 251h2M47 251h1M5 252h1M10 252h1M25 252h1M37 252h1M41 252h3M56 252h1M4 253h1M24 253h1M33 253h1M39 253h1M44 253h1M53 253h1M56 253h1M26 254h1M42 254h1M45 254h1M51 254h1M55 254h2M22 255h1M28 255h1M36 255h1M39 255h1M46 255h1M51 255h1M53 255h1M18 256h1M23 256h1M27 256h1M41 256h1M45 256h1M48 256h1M53 256h2M0 257h1M5 257h1M15 257h1M22 257h1M26 257h1M37 257h1M52 257h1M1 258h3M7 258h1M9 258h1M17 258h1M27 258h1M35 258h2M46 258h1M9 259h1M28 259h1M54 259h1M6 260h1M22 260h1M27 260h1M35 260h1M41 260h1M47 260h2M2 261h1M5 261h1M9 261h1M34 261h1M55 261h1M3 262h1M11 262h1M17 262h1M23 262h1M32 262h1M16 263h2M22 263h1M52 263h1M54 263h1M1 264h2M4 264h1M6 264h1M16 264h1M30 264h1M32 264h1M40 264h1M46 264h1M8 265h1M12 265h1M17 265h1M32 265h1M35 265h1M46 265h1M51 265h1M53 265h3M3 266h1M17 266h2M30 266h1M49 266h1M55 266h1M10 267h3M22 267h2M32 267h1M35 267h1M54 267h1M56 267h1M4 268h1M9 268h1M15 268h1M44 268h1M51 268h1M6 269h1M29 269h1M34 269h3M55 269h1M3 270h2M11 270h2M25 270h1M38 270h2M41 270h1M49 270h2M2 271h1M14 271h1M20 271h1M24 271h1M37 271h1M44 271h1M12 272h1M21 272h1M28 272h1M52 272h1M3 273h1M11 273h2M28 273h1M33 273h1M37 273h1M40 273h1M46 273h1M24 274h1M16 275h2M20 275h1M31 275h1M35 275h1M0 276h1M7 276h1M10 276h3M24 276h2M39 276h2M44 276h1M46 276h2M54 276h2M3 277h1M9 277h1M53 277h1M11 278h1M28 278h1M30 278h1M33 278h1M46 278h2M4 279h1M7 279h1M21 279h1M26 279h1M33 279h2M37 279h1M42 279h1M48 279h1M52 279h1M4 280h1M6 280h1M15 280h1M17 280h1M37 280h1M3 281h2M24 281h1M32 281h1M34 281h1M43 281h1M45 281h1M4 282h1M15 282h1M27 282h1M45 282h1M9 283h1M15 283h1M51 283h1M31 284h1M42 284h1M10 285h1M18 285h1M24 285h1M27 285h1M39 285h1M41 285h1M45 285h4M2 286h1M17 286h1M20 286h1M30 286h1M42 286h1M50 286h1M52 286h2M56 286h1M10 287h1M22 287h1M26 287h1M44 287h2M52 287h1M7 288h1M11 288h1M20 288h3M36 288h1M41 288h2M54 288h1M4 289h1M24 289h1M27 289h1M36 289h1M40 289h1M12 290h1M36 290h1M38 290h2M46 290h1M0 291h2M22 291h1M26 291h1M35 291h1M9 292h1M24 292h1M53 292h2M56 292h1M12 293h1M31 293h1M40 293h1M42 293h1M46 293h1M3 294h1M14 294h1M23 294h2M37 294h1M49 294h1M54 294h1M21 295h1M32 295h1M0 296h1M7 296h1M17 296h1M19 296h1M36 296h1M39 296h1M2 297h1M25 297h1M28 297h1M31 297h1M51 297h2M54 297h1M24 298h1M26 298h1M29 298h1M51 298h1M53 298h1M5 299h1M10 299h1M14 299h1M23 299h1M28 299h1M40 299h1M55 299h1M12 300h2M23 300h1M27 300h2M32 300h1M34 300h1M37 300h1M55 300h1M6 301h1M19 301h1M40 301h1M44 301h1M52 301h1M26 302h2M53 302h1M6 303h1M15 303h1M18 303h1M27 303h1M29 303h1M35 303h1M38 303h1M49 303h1M20 304h2M25 304h1M31 304h2M43 304h1M11 305h1M17 305h2M41 305h2M2 306h1M9 306h1M13 306h1M17 306h1M27 306h2M39 306h1M48 306h1M51 306h1M53 306h1M2 307h1M22 307h1M31 307h1M33 307h1M39 307h1M4 308h1M6 308h1M8 308h1M11 308h1M16 308h2M20 308h1M24 308h1M29 308h1M38 308h2M11 309h1M15 309h2M20 309h1M23 309h1M28 309h1M31 309h1M1 310h1M14 310h1M40 310h2M49 310h1M2 311h1M4 311h1M51 311h2M54 311h1M17 312h2M20 312h1M40 312h1M53 312h2M8 313h1M12 313h1M19 313h1M22 313h3M30 313h1M36 313h1M41 313h1M43 313h1M4 314h1M24 314h2M28 314h1M54 314h1M1 315h1M14 315h1M23 315h1M26 315h1M40 315h1M42 315h1M44 315h2M48 315h1M51 315h1M7 316h1M9 316h1M17 316h1M35 316h1M41 316h1M54 316h1M5 317h1M15 317h1M23 317h2M29 317h4M41 317h1M47 317h1M9 318h1M12 318h1M19 318h1M21 318h1M26 318h1M33 318h1M50 318h2M56 318h1M0 319h2M5 319h1M10 319h1M20 319h1M43 319h1M45 319h3M55 319h1M3 320h1M19 320h1M40 320h2M53 320h1M55 320h2M17 321h1M53 321h1M4 322h1M1 323h1M28 323h1M45 323h1M15 324h2M18 324h1M20 324h1M22 324h1M26 324h1M33 324h2M36 324h1M48 324h1M50 324h1M1 325h1M17 325h1M24 325h1M26 325h1M33 325h2M5 326h1M23 326h1M31 326h2M42 326h2M54 326h1M23 327h1M27 327h2M42 327h1M44 327h1M9 328h1M25 328h1M37 328h1M40 328h2M45 328h1M51 328h1M54 328h1M47 329h1M13 330h1M15 330h1M21 330h1M23 330h1M26 330h2M34 330h1M37 330h1M43 330h1M9 331h1M19 331h1M36 331h1M52 331h1M55 331h1M14 332h1M16 332h1M18 332h3M31 332h1M33 332h2M44 332h1M49 332h1M4 333h1M15 333h1M17 333h1M34 333h1M41 333h4M54 333h1M2 334h1M5 334h1M38 334h1M48 334h1M54 334h1M4 335h1M7 335h1M10 335h1M21 335h2M26 335h1M33 335h1M52 335h1M6 336h1M12 336h2M10 337h1M22 337h1M24 337h1M30 337h1M46 337h1M49 337h1M13 338h1M43 338h1M48 338h1M22 339h1M29 339h1M40 339h1M43 339h1M50 339h1M0 340h1M10 340h2M21 340h2M33 340h1M35 340h1M38 340h1M40 340h1M45 340h1M51 340h5M0 341h2M29 341h1M34 341h1M38 341h1M40 341h2M44 341h1M53 341h2M5 342h1M13 342h2M39 342h1M44 342h1M55 342h2M2 343h1M27 343h1M42 343h1M4 344h1M17 344h1M19 344h1M21 344h2M26 344h1M28 344h1M52 344h1M15 345h1M18 345h1M21 345h1M31 345h1M34 345h3M47 345h1M12 346h2M24 346h2M27 346h1M29 346h2M43 346h1M45 346h1M49 346h1M5 347h1M15 347h1M18 347h1M21 347h1M30 347h1M34 347h1M36 347h1M41 347h1M43 347h1M46 347h1M2 348h1M13 348h2M30 348h1M32 348h1M40 348h1M42 348h1M56 348h1M15 349h1M18 349h1M25 349h1M32 349h1M54 349h1M56 349h1M27 350h1M43 350h1M2 351h1M12 351h1M14 351h2M26 351h1M32 351h1M47 351h1M50 351h1M30 352h1M36 352h1M41 352h1M45 352h1M50 352h1M53 352h2M2 353h1M23 353h1M44 353h1M49 353h1M11 354h1M14 354h1M21 354h1M25 354h3M45 354h1M6 355h1M41 355h1M44 355h1M48 355h1M50 355h1M0 356h1M2 356h1M6 356h1M17 356h1M24 356h1M44 356h1M55 356h1M6 357h1M16 357h1M33 357h3M39 357h1M43 357h1M7 358h1M11 358h1M17 358h1M24 358h1M39 358h1M41 358h1M43 358h1M51 358h2M11 359h1M15 359h1M17 359h1M20 359h1M30 359h1M33 359h1M42 359h1M46 359h1M48 359h1M16 360h1M25 360h1M28 360h1M33 360h1M35 360h1M41 360h1M3 361h1M12 361h1M38 361h1M51 361h1M13 362h1M15 362h2M24 362h1M40 362h1M47 362h1M51 362h1M56 362h1M0 363h1M20 363h1M25 363h1M44 363h1M23 364h1M30 364h1M33 364h1M44 364h1M0 365h1M5 365h1M23 365h1M26 365h1M37 365h1M41 365h1M8 366h1M12 366h1M26 366h1M36 366h1M42 366h6M51 366h1M55 366h1M12 368h1M30 368h1M37 368h1M39 368h1M48 368h1M51 368h1M54 368h1M1 369h1M5 369h1M24 369h1M3 370h1M10 370h1M14 370h1M20 370h2M28 370h1M34 370h1M38 370h1M40 370h1M48 370h1M2 371h1M8 371h1M21 371h1M29 371h1M49 371h1M51 371h1M6 372h1M10 372h1M18 372h1M26 372h1M29 372h2M34 372h1M47 372h1M55 372h1M7 373h1M20 373h1M26 373h1M34 373h1M36 373h2M42 373h2M50 373h2M56 373h1M4 374h1M15 374h2M18 374h1M21 374h1M24 374h1M27 374h1M32 374h2M36 374h1M41 374h1M43 374h1M53 374h1M1 375h1M5 375h1M16 375h1M23 375h1M40 375h1M51 375h1M11 376h1M14 376h1M32 376h2M47 376h1M53 376h1M4 377h1M10 377h2M37 377h1M6 378h1M11 378h1M13 378h2M20 378h1M23 378h1M30 378h2M37 378h1M40 378h1M5 379h1M14 379h2M22 379h1M29 379h1M35 379h1M45 379h1M48 379h1M11 380h1M24 380h1M27 380h1M39 380h1M41 380h1M7 381h1M14 381h2M18 381h2M26 381h2M30 381h2M55 381h1M3 382h1M5 382h2M8 382h1M20 382h1M29 382h3M33 382h1M35 382h1M46 382h2M0 383h1M14 383h1M21 383h1M45 383h3M55 383h1M2 384h1M6 384h1M19 384h1M27 384h1M33 384h1M46 384h1M51 384h1M20 385h1M22 385h1M25 385h1M37 385h1M46 385h1M2 386h1M6 386h1M32 386h1M39 386h5M20 387h1M36 387h1M42 387h3M51 387h1M54 387h1M0 388h1M7 388h1M32 388h1M34 388h1M42 388h1M50 388h3M1 389h1M4 389h1M7 389h1M12 389h1M32 389h2M35 389h1M7 390h1M16 390h1M34 390h1M41 390h1M46 390h1M53 390h1M16 391h1M26 391h1M40 391h2M12 392h2M24 392h1M31 392h1M1 393h1M3 393h1M7 393h1M22 393h1M24 393h1M27 393h1M32 393h2M39 393h1M49 393h2M55 393h1M8 394h2M14 394h1M17 394h1M19 394h1M25 394h1M31 394h1M36 394h1M41 394h1M43 394h3M3 395h1M7 395h2M20 395h2M30 395h2M43 395h1M51 395h1M54 395h1M56 395h1M5 396h1M7 396h5M14 396h1M16 396h1M40 396h1M2 397h1M26 397h1M38 397h1M43 397h1M50 397h1M53 397h1M9 398h1M27 398h2M32 398h1M44 398h1M48 398h1M28 399h1M31 399h1M34 399h1M40 399h1M49 399h1M53 399h1M56 399h1M19 400h1M21 400h4M33 400h1M48 400h1M8 401h1M11 401h1M13 401h1M17 401h1M32 401h1M34 401h2M42 401h1M55 401h1M15 402h1M21 402h2M25 402h1M27 402h1M31 402h1M41 402h1M47 402h1M2 403h1M7 403h1M9 403h1M20 403h1M32 403h1M37 403h2M47 403h2M9 404h1M17 404h1M22 404h1M24 404h2M27 404h1M36 404h2M39 404h3M44 404h1M47 404h1M51 404h3M55 404h1M2 405h1M5 405h1M19 405h2M34 405h1M40 405h1M46 405h1M56 405h1M8 406h1M11 406h1M34 406h1M42 406h3M48 406h2M51 406h1M14 407h1M22 407h1M29 407h1M31 407h1M42 407h1M49 407h1M56 407h1M0 408h1M3 408h2M7 408h1M20 408h1M22 408h1M25 408h1M34 408h1M43 408h1M47 408h1M21 409h1M27 409h1M41 409h1M43 409h1M15 410h1M28 410h1M31 410h1M42 410h1M49 410h1M55 410h1M0 411h2M13 411h2M20 411h1M42 411h1M44 411h1M52 411h1M11 412h1M18 412h1M21 412h1M28 412h1M38 412h1M42 412h1M45 412h1M51 412h1M0 413h1M6 413h1M14 413h1M16 413h1M18 413h1M37 413h1M43 413h1M46 413h1M7 414h1M22 414h1M27 414h1M35 414h2M38 414h1M41 414h1M44 414h2M50 414h1M6 415h2M30 415h1M42 415h3M31 416h1M36 416h1M38 416h3M44 416h1M49 416h2M11 417h1M19 417h2M53 417h1M12 418h1M36 418h1M43 418h1M48 418h1M51 418h1M55 418h1M1 419h1M3 419h1M6 419h1M33 419h2M42 419h1M50 419h1M0 420h1M20 420h1M37 420h1M56 420h1M0 421h1M5 421h2M12 421h2M16 421h1M25 421h2M29 421h1M37 421h1M43 421h1M48 421h1M50 421h1M56 421h1M30 422h1M35 422h1M47 422h2M53 422h2M6 423h1M26 423h2M42 423h1M50 423h1M53 423h1M8 424h1M24 424h1M27 424h2M39 424h1M44 424h1M47 424h1M52 424h2M5 425h1M12 425h1M22 425h1M24 425h1M32 425h1M39 425h1M49 425h1M0 426h1M2 426h1M5 426h1M22 426h1M25 426h2M30 426h1M36 426h1M50 426h1M0 427h3M7 427h2M26 427h1M29 427h1M35 427h1M39 427h2M42 427h1M54 427h1M7 428h1M26 428h1M31 428h2M34 428h1M49 428h1M56 428h1M2 429h1M6 429h1M21 429h1M30 429h1M53 429h1M14 430h1M28 430h2M53 430h1M2 431h2M8 431h1M12 431h2M19 431h1M22 431h1M28 431h1M35 431h2M41 431h2M56 431h1M8 432h1M13 432h1M15 432h1M19 432h2M23 432h1M35 432h4M55 432h1M0 433h2M4 433h1M12 433h1M17 433h1M23 433h1M53 433h1M29 434h1M54 434h1M56 434h1M13 435h1M19 435h1M13 436h1M17 436h1M22 436h1M28 436h1M45 436h1M48 436h1M54 436h1M32 437h1M40 437h1M43 437h1M19 438h1M27 438h1M29 438h1M22 439h1M27 439h1M29 439h1M32 439h1M40 439h1"/>
<path stroke="#0000f0" d="M30 4h1M24 5h1M25 6h1M9 8h1M34 9h1M24 11h1M18 12h1M46 12h1M9 13h1M16 14h1M43 14h1M56 16h1M24 17h1M53 17h1M52 19h1M55 20h1M50 21h1M56 21h1M8 22h1M24 22h1M17 23h2M29 23h1M37 23h1M53 23h1M8 25h1M19 27h1M5 28h1M9 28h1M14 28h1M17 28h1M24 28h1M26 28h1M35 28h1M44 28h1M50 29h1M2 30h1M15 30h1M45 30h1M6 34h1M29 34h2M3 35h1M41 35h1M44 35h1M15 36h1M16 37h2M7 38h1M30 38h1M38 38h1M50 38h1M53 38h1M17 39h1M42 39h1M8 40h1M39 40h1M13 41h1M36 41h1M27 42h2M38 42h1M13 43h1M47 43h1M47 45h1M8 46h1M11 46h1M18 46h1M48 46h1M52 46h1M4 47h1M7 47h1M35 47h1M41 47h1M16 48h1M36 48h1M51 48h1M54 48h2M28 49h1M35 49h1M37 50h1M18 51h2M21 51h1M32 51h1M34 51h3M39 51h1M21 52h1M44 52h1M19 54h1M25 54h1M44 54h1M15 55h1M34 55h2M39 55h2M49 55h1M51 55h1M1 56h1M4 56h1M12 56h1M40 56h1M44 56h1M3 57h1M8 57h2M21 57h1M24 57h1M52 57h1M19 58h2M39 58h1M7 59h1M17 59h1M20 59h1M24 59h1M8 60h1M16 60h1M28 60h1M32 60h1M8 61h1M10 61h1M17 61h1M43 61h1M44 62h2M0 63h1M2 63h1M4 63h1M15 64h1M18 65h1M20 65h1M40 65h1M9 66h1M52 67h2M9 68h1M44 68h2M49 68h1M5 69h1M26 69h1M55 69h1M26 70h1M40 70h1M42 70h1M5 71h1M7 71h1M27 71h2M0 72h1M22 72h1M36 72h1M44 72h1M50 72h1M56 72h1M5 73h1M9 73h1M11 73h1M24 73h2M27 73h1M29 73h1M31 73h1M41 73h1M13 74h1M49 74h1M55 74h1M1 75h2M5 75h1M14 75h1M18 75h1M28 75h1M34 75h1M44 75h1M55 75h1M9 76h1M13 76h1M16 76h1M18 76h1M37 76h1M6 77h2M19 77h1M24 77h1M32 77h1M36 77h1M34 78h1M9 80h2M12 80h1M21 80h2M29 80h1M31 80h1M5 81h1M28 81h1M51 81h1M13 82h1M35 82h1M49 82h2M55 82h1M0 83h1M12 83h1M16 83h1M51 83h1M3 84h2M15 84h1M5 85h1M14 85h1M16 85h1M23 85h1M45 85h1M0 86h1M9 86h1M11 86h2M31 86h2M47 86h1M8 87h1M12 87h2M16 87h1M19 87h1M22 87h2M31 87h1M36 87h1M38 87h1M47 87h1M6 88h1M8 88h1M31 88h1M54 88h1M1 89h1M9 89h1M25 89h1M32 89h2M35 89h1M47 89h1M54 89h1M14 90h1M28 90h1M43 90h1M54 90h1M4 91h1M7 91h1M10 91h1M21 91h1M41 91h1M52 91h1M54 91h1M4 92h1M9 92h1M30 92h1M39 92h2M43 92h1M14 93h2M21 93h1M26 93h2M47 93h1M14 94h1M16 94h1M23 94h1M26 94h1M30 94h3M40 94h1M52 94h1M2 95h2M13 95h1M27 95h1M34 95h1M50 95h1M18 96h1M23 96h1M26 96h1M13 97h1M31 97h1M50 97h1M2 98h1M10 99h1M45 99h1M47 99h1M0 100h1M22 100h1M28 100h1M29 101h1M31 101h1M43 101h1M2 102h1M7 102h1M23 102h1M25 102h1M33 102h1M31 103h1M34 103h2M46 103h1M3 104h1M5 104h1M14 104h1M18 104h1M33 104h1M43 104h1M49 104h2M8 105h1M14 105h2M22 105h1M29 105h1M47 105h1M49 105h2M0 106h1M6 106h1M18 106h1M38 106h1M47 106h1M53 106h1M10 107h1M12 107h1M31 107h1M35 107h1M45 107h1M21 108h2M45 108h1M0 109h1M3 109h1M8 109h1M30 109h1M38 109h1M50 109h1M7 110h1M10 110h1M12 110h1M14 110h1M18 110h1M40 110h1M43 110h1M2 111h1M9 111h1M14 111h1M19 111h1M36 111h1M40 111h1M46 111h2M49 111h2M33 112h1M38 112h2M44 112h1M28 113h1M3 114h1M12 114h1M16 114h1M29 114h1M44 114h2M51 114h1M15 115h1M17 115h1M20 115h1M30 115h1M39 115h1M2 116h1M29 116h1M40 116h1M52 116h1M0 117h1M14 118h1M35 118h1M41 118h1M51 118h1M55 118h1M11 119h1M20 119h1M27 119h1M40 119h1M45 119h1M54 119h1M3 120h1M5 120h1M13 120h1M17 120h2M28 120h1M56 120h1M11 121h2M42 121h1M49 121h1M0 122h1M5 122h1M13 122h1M16 122h1M29 122h1M42 122h1M0 123h3M14 123h1M18 123h1M28 123h1M6 124h1M43 124h2M52 124h2M29 125h1M32 125h1M35 125h1M47 125h1M50 125h1M5 126h1M8 126h1M26 126h1M31 126h2M34 126h1M41 126h1M55 126h1M3 127h1M16 127h1M37 127h1M55 127h1M6 128h1M15 128h1M18 128h1M20 128h1M44 128h1M46 128h1M48 128h1M54 128h2M9 129h2M15 129h1M17 129h1M26 129h1M29 129h1M43 129h2M48 129h2M0 130h1M10 130h2M18 130h1M26 130h1M30 130h1M35 130h1M37 130h1M47 130h1M50 130h1M1 131h1M8 131h1M14 131h1M30 131h1M35 131h1M40 131h1M7 132h2M12 132h3M18 132h1M32 132h1M7 133h2M13 133h1M17 133h3M17 134h1M24 134h1M28 134h1M46 134h1M49 134h1M10 135h1M19 135h1M21 135h1M34 135h1M40 135h1M48 135h1M54 135h1M36 136h1M40 136h1M3 137h1M5 137h1M30 137h1M36 137h1M48 137h1M53 137h1M9 138h1M21 138h1M24 138h1M47 138h1M50 138h2M7 139h1M32 139h1M46 139h1M9 140h1M11 140h1M51 140h1M55 140h1M6 141h1M16 141h1M23 141h1M34 141h1M36 141h1M38 141h1M50 141h1M11 142h1M20 142h2M48 142h1M51 142h1M0 143h1M5 143h1M29 143h1M31 143h1M44 143h2M47 143h1M14 144h1M42 144h1M1 145h1M9 145h1M14 145h1M16 145h1M20 145h1M29 145h1M31 145h1M42 145h1M44 145h2M54 145h1M5 146h1M7 146h1M15 146h1M36 146h1M39 146h1M48 146h1M53 146h1M2 147h1M9 147h1M14 147h1M20 147h1M36 147h1M49 147h1M53 147h1M0 148h1M4 148h1M21 148h1M24 148h2M54 148h1M1 149h1M8 149h1M11 149h2M17 149h1M33 149h1M36 149h1M2 150h1M30 150h1M38 150h1M48 150h1M5 151h1M24 151h1M33 151h1M40 151h2M43 151h2M48 151h2M52 151h1M5 152h1M21 152h2M33 152h1M46 152h1M56 152h1M8 153h1M23 153h2M31 153h1M33 153h1M41 153h1M48 153h1M16 154h1M18 154h1M20 154h1M31 154h2M54 154h1M56 154h1M3 155h1M24 155h1M28 155h1M42 155h1M44 155h1M16 156h1M21 156h1M28 156h1M30 156h2M34 156h1M42 156h1M6 157h1M8 157h1M10 157h1M22 157h2M27 157h1M35 157h1M43 157h1M48 157h1M55 157h1M9 158h1M14 158h1M23 158h1M36 158h1M47 158h2M1 159h1M34 159h1M37 159h2M42 159h1M50 159h1M27 160h1M29 160h1M39 160h2M52 160h1M56 160h1M4 161h1M9 161h1M29 161h1M38 161h1M1 162h1M7 162h1M9 162h2M15 162h1M27 162h2M32 162h1M40 162h1M7 163h1M11 163h2M14 163h1M18 163h1M40 163h1M42 163h1M45 163h1M51 163h1M54 163h1M8 164h1M15 164h1M20 164h4M38 164h1M40 164h2M49 164h1M2 165h1M28 165h1M32 165h1M37 165h1M43 165h1M2 166h1M16 166h1M18 166h1M33 166h1M35 166h1M47 166h2M54 166h2M7 167h1M18 167h1M30 167h1M56 167h1M5 168h1M23 168h1M6 169h1M14 169h1M53 169h1M55 169h1M3 170h1M6 170h1M8 170h3M15 170h1M39 170h1M43 170h1M15 171h2M20 171h1M26 171h1M29 171h3M35 171h2M39 171h1M42 171h1M52 171h1M55 171h1M22 172h3M33 172h2M43 172h1M12 173h2M19 173h1M34 173h1M47 173h1M55 173h1M2 174h1M5 174h1M14 174h1M24 174h2M29 174h2M33 174h1M41 174h2M51 174h2M55 174h1M23 175h1M34 175h1M39 175h1M51 175h2M4 176h1M18 176h1M28 176h1M37 176h1M29 177h1M31 177h1M33 177h1M36 177h1M43 177h1M3 178h1M8 178h2M16 178h1M43 178h1M17 179h1M20 179h2M23 179h1M32 179h1M52 179h1M4 180h1M23 180h2M45 180h1M47 180h1M50 180h2M56 180h1M9 181h1M27 181h1M32 181h1M45 181h1M48 181h1M50 181h1M53 181h1M5 182h1M9 182h1M15 182h1M23 182h1M32 182h1M2 183h1M30 183h1M37 183h1M42 183h1M3 184h1M8 184h1M15 184h2M19 184h1M29 184h1M32 184h1M56 184h1M7 185h1M29 185h1M35 185h2M38 185h1M42 185h1M44 185h1M8 186h1M15 186h1M19 186h1M21 186h1M24 186h1M33 186h2M37 186h1M45 186h1M51 186h1M53 186h1M56 186h1M3 187h2M10 187h1M26 187h3M41 187h1M50 187h1M8 188h1M13 188h1M17 188h1M21 188h1M24 188h3M39 188h3M51 188h1M54 188h2M3 189h2M12 189h2M45 189h2M56 189h1M11 190h1M22 190h1M29 190h1M32 190h1M35 190h1M42 190h1M47 190h1M50 190h1M52 190h1M55 190h1M2 191h1M4 191h1M16 191h1M18 191h1M31 191h1M34 191h1M41 191h1M46 191h2M53 191h1M8 192h1M18 192h1M40 192h1M43 192h2M47 192h1M49 192h1M51 192h1M53 192h2M56 192h1M1 193h1M4 193h1M25 193h1M27 193h1M38 193h1M42 193h1M51 193h1M55 193h2M8 194h1M11 194h1M22 194h1M26 194h1M28 194h1M38 194h1M46 194h1M6 195h1M30 195h1M27 196h1M29 196h1M33 196h1M53 196h1M3 197h1M12 197h1M16 197h3M33 197h2M36 197h1M50 197h1M17 198h1M20 198h1M33 198h1M53 198h1M21 199h1M27 199h1M30 199h1M36 199h1M38 199h4M53 199h1M8 200h1M10 200h2M33 200h1M36 200h1M55 200h2M0 201h1M2 201h1M8 201h1M12 201h1M14 201h2M17 201h1M26 201h1M30 201h1M38 201h1M42 201h1M14 202h1M18 202h1M29 202h1M32 202h1M40 202h1M0 203h1M3 203h1M32 203h2M36 203h1M11 204h2M40 204h1M49 204h1M51 204h1M21 205h1M27 205h1M42 205h1M48 205h1M54 205h1M0 206h1M7 206h1M17 206h2M22 206h1M40 206h3M47 206h1M50 206h1M15 207h1M39 207h2M48 207h2M2 208h2M56 208h1M9 209h1M24 209h3M36 209h1M1 210h2M14 210h1M20 210h1M22 210h1M33 210h1M44 210h1M47 210h1M50 210h1M55 210h1M10 211h1M24 211h1M27 211h1M50 211h1M56 211h1M1 212h1M11 212h1M13 212h1M22 212h1M36 212h1M38 212h1M42 212h1M20 213h1M29 213h1M38 213h1M44 213h1M56 213h1M3 214h1M8 214h1M13 214h2M18 214h2M25 214h1M27 214h1M30 214h1M36 214h1M43 214h1M54 214h1M0 215h1M4 215h1M8 215h1M28 215h1M30 215h1M35 215h1M41 215h1M53 215h1M56 215h1M1 216h1M3 216h1M8 216h1M21 216h1M34 216h3M26 217h1M34 217h2M38 217h3M45 217h3M2 218h2M10 218h1M15 218h1M24 218h1M26 218h1M35 218h1M38 218h1M0 219h2M23 219h1M43 219h1M45 219h1M14 220h1M17 220h2M20 220h1M27 220h1M31 220h1M39 220h1M43 220h1M8 221h1M18 221h1M28 221h1M9 222h1M13 222h1M23 222h1M31 222h1M9 223h1M34 223h1M41 223h1M47 223h1M51 223h1M11 224h1M21 224h1M29 224h1M32 224h1M34 224h1M39 224h1M41 224h1M0 225h1M16 225h1M21 225h1M33 225h1M55 225h2M0 226h1M2 226h1M24 226h1M34 226h1M36 226h1M40 226h3M48 226h1M51 226h3M10 227h1M12 227h2M21 227h2M33 227h1M36 227h1M41 227h2M44 227h1M46 227h2M53 227h1M26 228h1M31 228h1M34 228h2M40 228h3M44 228h1M47 228h1M1 229h2M20 229h1M29 229h1M38 229h1M40 229h2M44 229h1M2 230h1M17 230h1M20 230h1M32 230h1M44 230h1M55 230h1M21 231h1M23 231h1M31 231h1M35 231h1M50 231h1M52 231h1M2 232h1M17 232h1M31 232h1M39 232h1M2 233h1M11 233h1M14 233h1M23 233h1M32 233h1M53 233h2M0 234h1M21 234h1M25 234h1M37 234h1M42 234h1M0 235h1M15 235h1M31 235h1M44 235h1M4 236h1M18 236h1M25 236h1M43 236h1M54 236h2M3 237h1M23 237h2M30 237h2M33 237h2M37 237h2M53 237h1M1 238h1M12 238h1M15 238h1M25 238h1M27 238h1M31 238h1M34 238h2M49 238h2M1 239h1M22 239h2M27 239h1M34 239h1M38 239h1M41 239h1M46 239h1M0 240h1M2 240h1M13 240h1M21 240h1M36 240h1M52 240h1M17 241h1M24 241h1M29 241h1M41 241h1M4 242h1M12 242h1M27 242h1M33 242h2M37 242h1M43 242h1M45 242h1M47 242h1M55 242h1M12 243h1M18 243h1M34 243h2M7 244h1M12 244h1M18 244h1M30 244h1M33 244h1M36 244h1M38 244h1M55 244h2M9 245h1M12 245h1M17 245h1M19 245h1M22 245h1M24 245h1M28 245h1M33 245h1M36 245h1M47 245h1M49 245h1M1 246h1M19 246h1M27 246h1M29 246h2M36 246h2M53 246h1M0 247h1M24 247h1M39 247h1M43 247h1M54 247h1M0 248h1M11 248h1M40 248h1M48 248h1M6 249h2M17 249h1M21 249h2M28 249h1M42 249h1M52 249h1M56 249h1M3 250h1M12 250h1M22 250h1M28 250h1M38 250h1M47 250h1M56 250h1M0 251h1M5 251h1M9 251h1M11 251h2M35 251h1M39 251h1M42 251h1M50 251h1M4 252h1M26 252h2M31 252h1M38 252h1M44 252h1M50 252h1M14 253h1M20 253h2M41 253h1M43 253h1M45 253h1M51 253h1M54 253h1M4 254h1M25 254h1M31 254h1M37 254h1M40 254h1M43 254h1M4 255h1M6 255h1M34 255h2M44 255h1M52 255h1M54 255h1M2 256h1M13 256h1M19 256h1M24 256h1M38 256h1M42 256h1M46 256h1M51 256h2M8 257h1M20 257h1M24 257h1M27 257h1M34 257h2M51 257h1M4 258h2M26 258h1M37 258h1M44 258h1M47 258h1M53 258h1M55 258h1M8 259h1M22 259h1M30 259h1M35 259h1M46 259h2M56 259h1M11 260h1M13 260h1M16 260h1M25 260h2M40 260h1M43 260h1M49 260h1M54 260h1M11 261h2M17 261h2M22 261h1M33 261h1M45 261h3M4 262h1M29 262h1M35 262h1M52 262h1M55 262h1M1 263h1M5 263h2M14 263h1M33 263h1M0 264h1M3 264h1M14 264h2M29 264h1M35 264h2M39 264h1M44 264h2M56 264h1M20 265h2M33 265h2M9 266h2M12 266h1M19 266h1M29 266h1M32 266h1M34 266h1M39 266h1M41 266h1M47 266h2M50 266h1M17 267h2M31 267h1M38 267h1M47 267h2M52 267h1M55 267h1M3 268h1M14 268h1M43 268h1M46 268h1M52 268h1M54 268h1M8 269h1M14 269h3M18 269h1M26 269h1M39 269h1M41 269h1M43 269h1M56 269h1M2 270h1M14 270h1M32 270h1M36 270h1M45 270h1M54 270h1M0 271h1M13 271h1M15 271h1M17 271h1M22 271h1M29 271h1M31 271h1M41 271h1M45 271h1M47 271h1M50 271h1M54 271h1M2 272h1M20 272h1M35 272h1M38 272h2M54 272h1M31 273h1M39 273h1M42 273h1M45 273h1M25 274h2M31 274h2M37 274h2M38 275h1M46 275h1M8 276h1M26 276h1M28 276h2M33 276h1M35 276h1M42 276h1M53 276h1M0 277h1M18 277h1M20 277h1M41 277h1M47 277h1M54 277h1M12 278h1M19 278h1M21 278h2M32 278h1M34 278h1M44 278h1M3 279h1M9 279h1M31 279h2M38 279h1M47 279h1M50 279h1M53 279h1M0 280h1M3 280h1M7 280h1M12 280h1M27 280h1M31 280h1M55 280h2M22 281h2M31 281h1M9 282h1M13 282h1M40 282h1M42 282h1M46 282h2M49 282h1M4 283h1M18 283h1M39 283h2M44 283h1M50 283h1M56 283h1M10 284h1M13 284h1M16 284h1M22 284h1M26 284h4M55 284h1M0 285h1M3 285h2M11 285h1M15 285h1M20 285h1M35 285h2M43 285h1M50 285h1M53 285h2M15 286h2M21 286h1M23 286h2M26 286h2M32 286h1M35 286h1M7 287h1M19 287h2M28 287h1M39 287h1M42 287h1M47 287h1M49 287h2M53 287h1M3 288h3M13 288h1M47 288h1M53 288h1M0 289h1M15 289h1M26 289h1M30 289h1M34 289h1M37 289h2M48 289h1M51 289h1M54 289h2M13 290h2M17 290h1M25 290h2M32 290h1M40 290h2M47 290h1M54 290h1M56 290h1M14 291h1M19 291h2M28 291h2M34 291h1M37 291h2M41 291h1M6 292h1M21 292h2M33 292h2M52 292h1M1 293h1M3 293h2M19 293h1M30 293h1M39 293h1M53 293h2M13 294h1M16 294h1M38 294h3M43 294h1M50 294h1M53 294h1M14 295h1M17 295h1M19 295h2M23 295h4M34 295h3M44 295h2M52 295h4M2 296h1M5 296h1M8 296h1M10 296h2M15 296h1M20 296h1M24 296h1M34 296h2M50 296h1M3 297h1M13 297h1M15 297h1M30 297h1M4 298h1M17 298h1M27 298h1M33 298h1M37 298h1M54 298h1M3 299h1M6 299h1M11 299h1M15 299h1M17 299h1M21 299h1M41 299h4M16 300h1M26 300h1M29 300h1M31 300h1M43 300h2M52 300h1M54 300h1M26 301h1M30 301h1M37 301h1M45 301h2M24 302h1M29 302h3M34 302h1M42 302h1M45 302h1M52 302h1M56 302h1M2 303h1M16 303h1M26 303h1M36 303h1M50 303h1M5 304h2M16 304h1M19 304h1M22 304h1M41 304h1M53 304h1M24 305h1M30 305h1M34 305h1M36 305h1M38 305h1M51 305h1M56 305h1M15 306h2M25 306h1M29 306h1M40 306h1M52 306h1M54 306h2M4 307h2M17 307h1M20 307h1M29 307h2M38 307h1M3 308h1M19 308h1M27 308h1M51 308h1M2 309h1M8 309h1M13 309h1M22 309h1M2 310h2M8 310h1M12 310h1M15 310h2M29 310h1M37 310h1M50 310h1M1 311h1M40 311h1M55 311h1M1 312h3M10 312h1M24 312h1M55 312h1M6 313h1M17 313h2M21 313h1M31 313h1M37 313h3M50 313h1M3 314h1M17 314h1M29 314h1M2 315h1M24 315h1M39 315h1M46 315h1M52 315h2M0 316h2M10 316h2M15 316h1M23 316h1M25 316h1M29 316h1M51 316h1M53 316h1M2 317h2M7 317h1M10 317h1M14 317h1M16 317h1M19 317h1M26 317h1M33 317h1M35 317h1M44 317h1M52 317h1M55 317h1M2 318h1M5 318h1M17 318h1M24 318h1M49 318h1M52 318h4M2 319h1M4 319h1M7 319h1M42 319h1M50 319h2M56 319h1M2 320h1M8 320h1M21 320h1M28 320h2M43 320h1M54 320h1M1 321h1M12 321h1M51 321h1M24 322h1M26 322h1M31 322h1M36 322h1M39 322h2M43 322h1M48 322h1M52 322h1M13 323h1M26 323h1M40 323h1M46 323h1M11 324h1M28 324h1M42 324h2M49 324h1M20 325h1M23 325h1M28 325h1M32 325h1M55 325h1M0 326h1M9 326h1M11 326h1M19 326h1M33 326h2M40 326h1M52 326h1M0 327h1M17 327h1M21 327h1M29 327h1M34 327h1M0 328h1M10 328h1M13 328h1M24 328h1M26 328h1M28 328h3M39 328h1M44 328h1M4 329h1M17 329h1M26 329h1M32 329h1M35 329h1M55 329h1M44 330h2M50 330h1M2 331h2M17 331h1M20 331h1M26 331h1M43 331h1M51 331h1M56 331h1M1 332h1M9 332h1M11 332h1M13 332h1M28 332h1M42 332h2M45 332h1M47 332h1M56 332h1M9 333h1M18 333h1M32 333h1M51 333h1M53 333h1M4 334h1M21 334h3M39 334h2M44 334h1M47 334h1M49 334h1M52 334h1M56 334h1M1 335h1M5 335h2M13 335h1M25 335h1M29 335h1M32 335h1M34 335h1M37 335h1M46 335h1M51 335h1M4 336h1M6 337h2M11 337h1M21 337h1M48 337h1M2 338h1M4 338h1M9 338h1M11 338h1M30 338h1M35 338h1M38 338h1M45 338h2M52 338h1M55 338h1M2 339h1M13 339h1M16 339h1M21 339h1M36 339h1M46 339h1M49 339h1M54 339h1M1 340h2M23 340h2M34 340h1M36 340h1M50 340h1M11 341h1M13 341h1M19 341h1M26 341h1M30 341h1M33 341h1M37 341h1M39 341h1M42 341h1M49 341h1M51 341h1M56 341h1M1 342h1M3 342h1M6 342h1M16 342h1M20 343h1M26 343h1M31 343h1M50 343h1M53 343h1M55 343h1M6 344h1M11 344h1M13 344h1M16 344h1M29 344h1M31 344h1M34 344h1M47 344h1M49 344h1M54 344h2M12 345h1M14 345h1M25 345h1M29 345h1M42 345h1M44 345h1M46 345h1M49 345h1M51 345h1M55 345h2M31 346h1M36 346h3M40 346h1M42 346h1M47 346h2M0 347h1M8 347h1M11 347h2M16 347h1M19 347h1M23 347h2M32 347h1M37 347h1M40 347h1M56 347h1M1 348h1M3 348h2M29 348h1M31 348h1M37 348h1M39 348h1M44 348h1M47 348h1M52 348h1M54 348h1M0 349h2M8 349h1M16 349h1M30 349h2M43 349h3M9 350h2M18 350h1M31 350h1M44 350h2M54 350h1M4 351h2M8 351h1M11 351h1M13 351h1M16 351h1M44 351h1M46 351h1M54 351h1M0 352h1M2 352h1M6 352h1M16 352h2M31 352h1M33 352h1M44 352h1M55 352h1M15 353h1M28 353h1M37 353h1M43 353h1M4 354h1M6 354h1M8 354h2M17 354h1M23 354h1M31 354h1M40 354h1M43 354h2M47 354h1M51 354h1M53 354h1M2 355h1M5 355h1M30 355h2M38 355h1M45 355h1M4 356h1M10 356h1M13 356h1M22 356h2M40 356h1M43 356h1M0 357h1M5 357h1M9 357h1M38 357h1M40 357h1M47 357h1M12 358h1M14 358h2M26 358h3M42 358h1M53 358h4M2 359h1M29 359h1M36 359h3M41 359h1M44 359h1M51 359h1M55 359h2M4 360h1M14 360h2M17 360h1M19 360h1M22 360h3M29 360h1M31 360h1M43 360h1M46 360h1M48 360h2M1 361h1M7 361h2M17 361h3M33 361h1M36 361h1M39 361h2M48 361h1M2 362h1M21 362h1M38 362h1M42 362h1M2 363h1M11 363h1M15 363h2M19 363h1M21 363h4M27 363h1M29 363h1M36 363h1M43 363h1M52 363h1M55 363h1M0 364h1M12 364h1M36 364h1M42 364h1M50 364h1M7 365h2M10 365h2M13 365h1M35 365h1M44 365h1M3 366h1M25 366h1M27 366h2M34 366h1M41 366h1M48 366h1M50 366h1M6 367h1M9 367h1M15 367h1M26 367h1M33 367h1M36 367h1M47 367h1M50 367h1M53 367h1M0 368h1M3 368h3M11 368h1M17 368h2M27 368h1M29 368h1M43 368h1M46 368h1M0 369h1M4 369h1M7 369h1M13 369h1M17 369h1M25 369h1M54 369h1M1 370h1M8 370h2M22 370h2M25 370h1M27 370h1M35 370h1M51 370h1M55 370h2M1 371h1M9 371h1M22 371h1M33 371h1M38 371h1M52 371h1M1 372h2M7 372h1M17 372h1M27 372h1M31 372h1M40 372h1M44 372h1M46 372h1M56 372h1M6 373h1M14 373h1M19 373h1M25 373h1M38 373h1M52 373h1M55 373h1M5 374h1M11 374h1M34 374h1M40 374h1M44 374h1M52 374h1M8 375h1M26 375h2M36 375h1M44 375h2M49 375h2M1 376h1M7 376h1M9 376h1M24 376h2M44 376h1M1 377h1M6 377h1M14 377h1M21 377h1M26 377h3M36 377h1M53 377h1M2 378h1M5 378h1M17 378h2M28 378h1M39 378h1M43 378h1M46 378h1M48 378h1M3 379h1M6 379h1M34 379h1M38 379h1M44 379h1M47 379h1M4 380h1M19 380h1M37 380h1M54 380h1M0 381h2M5 381h1M23 381h2M37 381h1M41 381h1M43 381h2M48 381h1M54 381h1M2 382h1M26 382h1M41 382h3M48 382h1M9 383h2M12 383h1M18 383h2M30 383h1M49 383h1M3 384h1M9 384h1M16 384h1M21 384h1M49 384h2M5 385h1M10 385h1M18 385h2M28 385h1M38 385h2M41 385h2M51 385h1M10 386h1M13 386h1M15 386h1M19 386h1M24 386h1M27 386h1M34 386h1M36 386h1M6 387h1M33 387h2M40 387h2M47 387h2M11 388h1M24 388h2M33 388h1M40 388h1M49 388h1M2 389h1M13 389h1M24 389h1M27 389h1M29 389h1M31 389h1M52 389h1M2 390h1M4 390h2M9 390h1M15 390h1M20 390h2M24 390h3M35 390h1M45 390h1M51 390h1M4 391h1M8 391h2M12 391h1M14 391h1M17 391h2M23 391h1M27 391h2M33 391h1M36 391h3M42 391h1M48 391h1M50 391h2M53 391h1M5 392h1M18 392h1M32 392h1M34 392h1M38 392h1M41 392h3M47 392h1M54 392h1M2 393h1M4 393h3M34 393h2M52 393h1M2 394h1M34 394h2M50 394h1M53 394h1M10 395h1M18 395h1M25 395h3M32 395h1M50 395h1M4 396h1M6 396h1M12 396h1M18 396h1M20 396h1M26 396h1M39 396h1M46 396h1M53 396h1M4 397h1M6 397h1M9 397h1M12 397h1M14 397h1M21 397h1M27 397h1M35 397h2M39 397h1M3 398h1M8 398h1M13 398h1M15 398h1M21 398h1M23 398h4M29 398h1M33 398h2M50 398h1M13 399h1M19 399h1M26 399h2M30 399h1M32 399h1M39 399h1M47 399h1M6 400h2M9 400h2M25 400h1M28 400h1M34 400h1M40 400h1M42 400h1M47 400h1M55 400h2M7 401h1M27 401h1M38 401h1M0 402h2M3 402h1M16 402h1M19 402h1M38 402h1M40 402h1M44 402h1M3 403h1M5 403h2M18 403h1M21 403h1M33 403h2M36 403h1M42 403h1M49 403h1M54 403h1M6 404h1M10 404h1M15 404h1M20 404h2M23 404h1M26 404h1M28 404h1M46 404h1M48 404h1M56 404h1M9 405h1M14 405h1M24 405h1M30 405h1M36 405h1M38 405h1M43 405h1M53 405h1M9 406h2M15 406h1M41 406h1M47 406h1M1 407h1M8 407h1M12 407h1M16 407h1M21 407h1M32 407h2M35 407h1M37 407h1M5 408h1M26 408h2M33 408h1M44 408h3M50 408h1M54 408h1M7 409h1M9 409h1M23 409h1M9 410h1M12 410h2M22 410h1M25 410h2M30 410h1M34 410h2M2 411h1M22 411h1M24 411h1M27 411h1M47 411h1M54 411h1M0 412h1M10 412h1M16 412h2M23 412h1M25 412h2M33 412h1M44 412h1M46 412h3M50 412h1M7 413h1M38 413h1M41 413h1M54 413h1M28 414h1M30 414h1M33 414h1M51 414h2M10 415h1M21 415h1M29 415h1M37 415h1M45 415h1M56 415h1M0 416h1M16 416h1M18 416h1M30 416h1M32 416h2M42 416h1M8 417h2M14 417h1M33 417h1M35 417h1M44 417h1M46 417h1M3 418h1M9 418h2M14 418h1M30 418h1M33 418h2M46 418h1M52 418h1M54 418h1M14 419h1M29 419h1M40 419h1M44 419h1M55 419h1M1 420h1M7 420h2M13 420h1M16 420h2M21 420h2M27 420h1M30 420h1M35 420h1M44 420h2M50 420h1M54 420h2M4 421h1M7 421h1M11 421h1M23 421h1M27 421h1M32 421h1M40 421h1M42 421h1M47 421h1M51 421h1M53 421h1M6 422h1M11 422h1M25 422h1M32 422h1M38 422h2M46 422h1M4 423h1M8 423h1M12 423h1M14 423h1M24 423h1M41 423h1M44 423h1M47 423h2M54 423h1M1 424h3M5 424h1M14 424h1M18 424h1M37 424h1M42 424h2M45 424h2M50 424h2M6 425h1M11 425h1M19 425h2M28 425h1M33 425h3M42 425h1M51 425h1M3 426h1M10 426h1M20 426h1M28 426h1M32 426h1M34 426h2M48 426h1M55 426h1M3 427h1M11 427h1M13 427h1M24 427h1M27 427h1M36 427h1M50 427h1M2 428h1M8 428h1M27 428h1M35 428h2M38 428h1M47 428h1M50 428h1M16 429h1M24 429h1M34 429h1M38 429h1M40 429h1M49 429h1M54 429h1M15 430h1M27 430h1M34 430h1M46 430h1M50 430h1M18 431h1M20 431h1M26 431h1M33 431h1M37 431h1M46 431h1M4 432h1M6 432h1M9 432h1M21 432h1M29 432h1M31 432h1M42 432h1M44 432h1M56 432h1M2 433h1M8 433h1M11 433h1M15 433h1M27 433h2M31 433h1M35 433h1M37 433h1M47 433h1M55 433h2M11 434h1M16 434h1M24 434h1M30 434h1M38 434h1M52 434h1M7 435h1M21 435h1M36 435h1M47 435h1M49 435h1M53 435h1M1 436h1M18 436h2M37 436h2M40 436h1M44 436h1M47 436h1M50 436h1M53 436h1M1 437h1M3 437h1M12 437h1M35 437h1M41 437h2M46 437h2M1 438h1M23 438h1M31 438h1M33 438h1M35 438h1M37 438h1M40 438h1M53 438h1M3 439h1M18 439h2M44 439h1"/>
<path stroke="#0000ff" d="M15 4h1M25 5h1M31 5h1M35 5h1M13 7h1M25 7h1M27 8h1M43 8h1M45 9h1M19 10h1M29 10h1M11 12h1M25 13h1M34 13h1M18 14h1M20 14h2M32 14h1M44 14h1M54 14h1M36 16h1M13 17h1M11 18h1M29 19h2M9 20h1M11 20h1M16 20h1M20 20h1M19 22h1M25 24h1M7 25h1M11 25h1M30 25h1M9 26h1M22 26h2M14 27h2M23 27h1M32 27h1M46 27h1M36 28h1M45 28h1M48 28h1M14 29h1M24 29h1M27 29h2M0 30h1M9 30h1M11 30h1M21 30h1M25 30h1M11 31h1M1 32h1M11 32h1M29 32h1M25 33h1M28 33h1M31 33h1M37 33h1M45 33h1M47 33h1M26 34h1M5 35h1M7 35h1M16 35h1M40 35h1M42 35h1M7 36h1M22 36h2M33 36h1M7 37h1M22 37h1M8 38h3M17 38h1M21 38h1M47 38h1M52 38h1M13 39h1M16 39h1M32 39h1M0 40h1M7 40h1M35 40h2M8 41h1M14 41h1M16 41h1M38 41h1M42 41h1M16 42h1M39 42h1M44 42h1M0 44h1M15 44h1M28 44h1M33 44h1M37 44h1M3 45h1M6 45h1M10 45h1M14 45h1M19 45h1M29 45h2M32 45h1M44 45h1M2 46h1M16 46h2M25 46h1M49 46h1M6 47h1M9 47h1M19 47h1M22 47h1M47 47h1M51 47h1M5 48h1M32 48h1M41 48h1M53 48h1M26 49h1M33 49h1M42 49h1M12 50h1M22 50h1M55 50h1M25 51h1M33 51h1M40 51h1M54 52h1M19 53h1M36 53h2M18 54h1M21 54h1M40 54h1M38 55h1M42 55h1M45 55h1M47 55h1M50 55h1M8 56h1M31 56h1M50 56h1M12 57h1M37 57h1M22 58h1M27 58h1M38 58h1M42 58h1M8 59h1M10 59h1M19 59h1M44 59h2M50 59h1M53 59h1M23 60h1M33 60h1M41 60h1M54 60h1M16 61h1M19 61h1M23 61h1M28 61h3M32 61h2M22 62h1M25 62h1M50 62h1M1 63h1M8 63h1M17 63h1M33 63h1M39 63h1M43 63h1M1 64h1M3 64h1M5 64h1M14 64h1M17 64h1M22 64h1M31 64h1M40 64h1M50 64h1M11 65h1M33 65h1M48 65h1M50 65h1M13 66h1M21 66h1M39 66h1M42 66h1M8 67h1M32 67h1M42 67h1M7 68h2M47 68h1M8 69h1M33 69h1M48 69h1M53 69h1M5 70h1M22 70h1M35 70h1M4 71h1M9 71h1M11 71h1M17 71h1M29 71h1M10 72h1M43 72h1M48 72h1M52 72h1M2 73h1M8 74h1M14 74h1M23 74h1M8 75h1M25 75h1M50 75h1M20 76h1M25 76h1M33 76h1M41 76h1M26 77h1M29 77h1M39 77h1M21 78h1M32 78h2M47 78h1M52 78h1M1 79h1M6 79h1M10 79h2M18 79h1M21 79h1M24 79h1M26 79h1M33 79h1M23 80h1M30 80h1M46 80h1M56 80h1M7 81h1M17 81h1M45 81h1M47 81h2M0 82h1M5 82h2M14 82h1M44 82h1M51 82h1M53 82h1M1 83h1M13 83h1M18 83h1M42 83h1M45 83h1M52 83h1M13 84h1M16 84h1M31 84h1M40 84h2M45 84h1M6 85h1M20 85h1M36 85h1M17 86h1M26 86h1M33 86h1M36 86h1M52 86h1M1 87h1M3 87h1M14 87h1M29 87h2M41 87h1M3 88h1M12 88h1M48 88h1M55 88h1M2 89h1M8 89h1M11 89h1M15 89h1M20 89h1M24 89h1M30 89h2M39 89h1M51 89h1M55 89h2M19 90h1M32 90h1M36 90h1M48 90h1M51 90h1M3 91h1M17 91h3M25 91h1M27 91h1M30 91h1M38 91h1M55 91h1M5 92h1M21 92h1M47 92h2M5 93h2M17 93h1M3 94h2M13 94h1M42 94h1M4 95h1M8 95h1M26 95h1M28 95h1M32 95h2M49 95h1M8 96h1M10 96h2M15 96h1M28 96h1M45 96h1M47 96h1M29 97h1M33 97h1M52 97h1M9 98h1M13 98h1M21 98h1M35 98h1M37 98h2M50 98h1M1 99h1M20 99h1M28 99h1M35 99h1M41 99h1M46 99h1M49 99h1M1 100h2M5 100h1M10 100h1M31 100h1M36 100h2M55 101h1M19 102h2M26 102h1M46 102h1M55 102h2M6 103h1M24 103h1M29 103h1M32 103h1M41 103h1M53 103h2M4 104h1M19 104h1M29 104h1M31 104h1M38 104h2M42 104h1M48 104h1M6 105h1M17 105h1M19 105h1M25 105h2M42 105h1M44 105h1M54 105h1M5 106h1M14 106h1M16 106h1M23 106h1M32 106h1M51 106h2M55 106h1M5 107h1M7 107h1M53 107h1M56 107h1M6 108h1M50 108h2M20 109h1M31 109h1M37 109h1M40 109h1M55 109h1M8 110h1M13 110h1M15 110h1M19 110h1M26 110h1M36 110h2M44 110h1M55 110h1M13 111h1M17 111h1M20 111h1M44 111h2M4 112h1M10 112h1M42 112h2M47 112h1M50 112h1M5 113h2M9 113h1M26 113h1M36 113h1M42 113h1M9 114h1M14 114h1M31 114h1M11 115h1M13 115h1M25 115h1M35 115h1M55 115h1M3 116h1M5 116h2M16 116h1M20 116h1M33 116h1M39 116h1M41 116h1M51 116h1M53 116h1M55 116h1M17 117h2M33 117h2M12 118h1M15 118h1M42 118h1M46 118h1M4 119h2M14 119h1M31 119h1M2 120h1M6 120h1M12 120h1M19 120h1M30 120h1M9 121h2M31 121h1M53 121h2M6 122h1M10 122h1M14 122h1M32 122h1M40 122h1M48 122h1M51 122h1M3 123h1M10 123h1M48 123h1M54 123h1M12 124h1M7 125h1M16 125h3M33 125h1M41 125h1M45 125h1M27 126h1M33 126h1M39 126h1M49 126h1M51 126h1M0 127h2M9 127h1M11 127h1M34 127h1M44 127h1M51 127h1M4 128h1M12 128h2M53 128h1M56 128h1M14 129h1M35 129h1M40 129h1M52 129h1M54 129h2M8 130h1M17 130h1M21 130h1M28 130h1M33 130h1M36 130h1M41 130h1M45 130h1M56 130h1M2 131h1M5 131h1M13 131h1M34 131h1M42 131h1M55 131h1M3 132h1M11 132h1M17 132h1M43 132h1M50 132h1M3 133h1M23 133h1M51 133h1M53 133h1M55 133h2M13 134h1M29 134h1M35 134h1M43 134h1M45 134h1M47 134h1M6 135h1M12 135h1M16 135h1M36 135h1M42 135h3M56 135h1M14 136h1M18 136h1M35 136h1M49 136h2M55 136h1M1 137h1M6 137h1M23 137h1M28 137h1M38 137h1M56 137h1M0 138h1M23 138h1M29 138h1M32 138h2M41 138h1M55 138h1M0 139h1M8 139h1M37 139h1M0 140h1M10 140h1M24 140h1M40 140h1M44 140h1M49 140h1M0 141h2M7 141h1M9 141h1M13 141h1M32 141h2M37 141h1M47 141h1M53 141h2M19 142h1M22 142h1M45 142h1M52 142h1M2 143h2M12 143h1M15 143h1M18 143h1M20 143h1M33 143h1M46 143h1M52 143h1M54 143h1M25 144h1M31 144h1M37 144h1M0 145h1M8 145h1M10 145h1M13 145h1M40 145h1M9 146h1M11 146h1M14 146h1M20 146h2M26 146h1M5 147h1M8 147h1M15 147h2M33 147h1M18 148h1M35 148h2M3 149h1M39 149h1M45 149h1M53 149h1M5 150h1M11 150h1M36 150h1M41 150h1M44 150h1M55 150h1M0 151h1M4 151h1M16 151h2M21 151h1M35 151h1M46 151h1M54 151h1M20 152h1M9 153h3M30 153h1M32 153h1M34 153h1M42 153h1M49 153h1M56 153h1M8 154h1M15 154h1M26 154h1M35 154h3M40 154h2M53 154h1M1 155h1M11 155h2M17 155h1M26 155h1M30 155h1M46 155h1M5 156h1M8 156h2M13 156h1M22 156h1M25 156h1M29 156h1M7 157h1M9 157h1M11 157h1M18 157h1M20 157h1M28 157h1M30 157h2M38 157h1M40 157h1M44 157h1M18 158h1M21 158h1M27 158h1M41 158h1M4 159h1M13 159h1M16 159h1M19 159h1M41 159h1M43 159h2M0 160h1M7 160h1M20 160h1M25 160h1M50 160h1M1 161h1M16 161h1M35 161h1M40 161h1M43 161h1M0 162h1M13 162h1M37 162h2M47 162h1M1 163h1M5 163h1M13 163h1M38 163h1M47 163h2M55 163h1M0 164h1M14 164h1M18 164h1M31 164h1M39 164h1M52 164h1M3 165h1M5 165h1M17 165h2M20 165h1M22 165h1M25 165h1M36 165h1M40 165h1M50 165h1M52 165h2M7 166h1M31 166h1M42 166h1M0 167h1M9 167h1M14 167h2M17 167h1M20 167h1M42 167h1M46 167h1M55 167h1M6 168h1M12 168h1M26 168h1M33 168h1M39 168h1M50 168h1M12 169h1M17 169h1M36 169h1M38 169h1M41 169h1M7 170h1M18 170h1M31 170h1M52 170h1M6 171h1M8 171h3M13 171h2M21 171h1M28 171h1M33 171h1M41 171h1M44 171h1M3 172h2M7 172h1M14 172h1M25 172h1M36 172h1M38 172h1M44 172h1M51 172h1M0 173h1M3 173h1M5 173h1M7 173h1M9 173h1M21 173h1M25 173h1M31 173h1M50 173h1M1 174h1M4 174h1M26 174h1M32 174h1M35 174h2M39 174h1M43 174h1M4 175h1M16 175h1M33 175h1M45 175h1M56 175h1M0 176h1M15 176h2M27 176h1M29 176h1M32 176h1M38 176h2M43 176h1M55 177h1M12 178h2M17 178h1M29 178h1M32 178h1M42 178h1M55 178h1M6 179h1M15 179h1M19 179h1M35 179h1M40 179h1M42 179h1M45 179h1M51 179h1M14 180h1M25 180h1M27 180h1M38 180h1M40 180h1M43 180h1M53 180h1M2 181h1M4 181h1M6 181h1M10 181h1M15 181h1M20 181h1M31 181h1M38 181h1M44 181h1M47 181h1M52 181h1M20 182h1M25 182h1M33 182h1M39 182h1M43 182h1M51 182h1M56 182h1M5 183h1M22 183h1M26 183h2M29 183h1M51 183h1M53 183h2M56 183h1M25 184h1M48 184h1M53 184h1M11 185h1M16 185h2M20 185h1M43 185h1M45 185h1M16 186h2M22 186h1M35 186h1M42 186h1M49 186h1M52 186h1M6 187h1M18 187h1M23 187h2M29 187h1M33 187h1M45 187h1M2 188h2M16 188h1M36 188h1M43 188h1M46 188h1M50 188h1M52 188h1M1 189h2M8 189h1M28 189h1M43 189h1M50 189h1M54 189h1M6 190h1M10 190h1M15 190h1M27 190h1M37 190h1M44 190h2M6 191h1M29 191h2M35 191h1M40 191h1M44 191h1M48 191h2M56 191h1M0 192h1M3 192h1M6 192h2M10 192h1M12 192h1M14 192h1M33 192h1M46 192h1M0 193h1M11 193h1M15 193h1M24 193h1M28 193h2M41 193h1M52 193h1M4 194h1M6 194h1M10 194h1M21 194h1M27 194h1M32 194h1M40 194h1M45 194h1M53 194h1M55 194h1M13 195h2M32 195h1M36 195h1M38 195h2M49 195h1M51 195h1M53 195h1M11 196h2M16 196h1M25 196h2M31 196h1M36 196h1M40 196h2M48 196h1M50 196h1M56 196h1M5 197h1M10 197h1M14 197h2M20 197h1M22 197h1M29 197h3M40 197h1M51 197h1M5 198h1M16 198h1M31 198h1M36 198h1M0 199h1M2 199h1M20 199h1M22 199h1M32 199h1M48 199h1M56 199h1M5 200h1M13 200h1M24 200h1M29 200h1M40 200h2M48 200h1M24 201h1M27 201h1M37 201h1M41 201h1M47 201h1M10 202h1M20 202h1M30 202h1M44 202h1M47 202h1M23 203h1M28 203h1M40 203h1M49 203h2M54 203h1M56 203h1M4 204h1M10 204h1M21 204h1M38 204h1M41 204h1M44 204h1M53 204h1M56 204h1M0 205h1M12 205h2M30 205h1M50 205h1M52 205h1M55 205h1M1 206h1M13 206h1M26 206h1M35 206h1M37 206h1M46 206h1M7 207h1M10 207h1M12 207h1M21 207h2M28 207h1M37 207h2M55 207h2M8 208h2M11 208h1M17 208h1M19 208h2M25 208h1M30 208h1M37 208h1M45 208h3M51 208h2M6 209h3M12 209h1M19 209h1M31 209h1M41 209h1M49 209h1M53 209h1M55 209h2M4 210h3M24 210h1M29 210h2M46 210h1M56 210h1M12 211h1M19 211h1M21 211h1M2 212h1M12 212h1M16 212h1M19 212h2M33 212h1M37 212h1M47 212h1M0 213h1M11 213h1M22 213h1M31 213h1M35 213h1M51 213h1M16 214h1M37 214h1M39 214h1M55 214h1M31 215h1M33 215h1M39 215h1M48 215h1M55 215h1M4 216h1M14 216h1M20 216h1M32 216h1M48 216h1M23 217h1M52 217h3M4 218h1M8 218h1M28 218h1M44 218h1M25 219h1M28 219h1M37 219h1M40 219h1M44 219h1M47 219h1M4 220h1M22 220h1M26 220h1M30 220h1M32 220h1M36 220h1M56 220h1M2 221h1M4 221h1M6 221h1M17 221h1M23 221h1M25 221h1M2 222h1M4 222h1M15 222h1M53 222h1M3 223h1M8 223h1M13 223h1M23 223h2M29 223h1M35 223h1M52 223h1M55 223h2M9 224h1M13 224h1M20 224h1M25 224h2M54 224h1M30 225h1M34 225h6M45 225h1M54 225h1M1 226h1M3 226h1M10 226h1M12 226h1M26 226h1M29 226h1M31 226h1M35 226h1M39 226h1M44 226h1M15 227h1M29 227h2M32 227h1M40 227h1M48 227h1M51 227h1M56 227h1M2 228h1M9 228h1M22 228h2M27 228h1M29 228h1M32 228h1M45 228h1M54 228h1M14 229h2M17 229h1M26 229h1M48 229h1M55 229h1M0 230h1M3 230h1M13 230h2M19 230h1M51 230h1M1 231h2M22 231h1M27 231h1M33 231h1M40 231h1M4 232h1M9 232h1M18 232h1M32 232h3M38 232h1M41 232h1M51 232h1M54 232h1M3 233h2M9 233h1M24 233h1M31 233h1M33 233h2M44 233h1M47 233h1M55 233h2M26 234h1M29 234h1M32 234h1M38 234h1M43 234h1M53 234h1M1 235h2M13 235h2M20 235h2M28 235h1M35 235h1M40 235h1M46 235h1M0 236h1M21 236h1M23 236h2M27 236h1M31 236h1M56 236h1M2 237h1M13 237h1M39 237h1M42 237h1M52 237h1M11 238h1M17 238h1M19 238h1M28 238h1M48 238h1M51 238h1M19 239h1M21 239h1M25 239h1M35 239h1M40 239h1M53 239h1M1 240h1M12 240h1M18 240h1M20 240h1M34 240h1M18 241h1M30 241h1M35 241h1M26 242h1M53 242h1M26 243h1M33 243h1M52 243h2M55 243h2M0 244h1M13 244h3M27 244h1M37 244h1M40 244h1M43 244h1M45 244h2M18 245h1M26 245h2M38 245h1M44 245h2M3 246h2M13 246h1M25 246h1M31 246h1M39 246h1M43 246h1M45 246h1M48 246h1M51 246h2M54 246h1M22 247h2M25 247h1M30 247h1M32 247h1M34 247h1M36 247h1M40 247h1M42 247h1M46 247h1M49 247h1M52 247h1M55 247h1M2 248h1M5 248h1M7 248h1M9 248h2M21 248h1M37 248h1M50 248h1M52 248h1M4 249h1M10 249h1M14 249h1M23 249h1M31 249h1M54 249h1M4 250h1M24 250h2M41 250h3M50 250h1M6 251h1M13 251h2M20 251h1M30 251h2M38 251h1M41 251h1M43 251h1M48 251h1M53 251h2M7 252h1M16 252h1M19 252h2M24 252h1M33 252h2M36 252h1M46 252h2M51 252h1M54 252h2M10 253h1M15 253h1M22 253h2M25 253h2M38 253h1M47 253h1M3 254h1M12 254h2M17 254h1M23 254h1M33 254h2M38 254h1M46 254h1M3 255h1M7 255h2M10 255h1M18 255h1M23 255h1M27 255h1M29 255h1M32 255h1M37 255h2M41 255h1M22 256h1M25 256h1M29 256h2M40 256h1M55 256h1M2 257h1M4 257h1M16 257h1M25 257h1M32 257h1M53 257h1M11 258h1M13 258h1M18 258h1M30 258h1M39 258h1M54 258h1M16 259h1M26 259h1M34 259h1M38 259h2M48 259h1M14 260h2M18 260h2M29 260h1M32 260h1M34 260h1M42 260h1M50 260h1M53 260h1M3 261h1M8 261h1M14 261h1M20 261h2M27 261h1M29 261h1M31 261h1M35 261h2M41 261h1M51 261h4M12 262h1M18 262h2M22 262h1M34 262h1M40 262h1M42 262h1M44 262h1M53 262h2M11 263h1M24 263h1M28 263h1M30 263h1M34 263h1M38 263h1M42 263h1M47 263h1M51 263h1M5 264h1M17 264h1M31 264h1M33 264h1M38 264h1M41 264h1M43 264h1M48 264h1M53 264h1M38 265h1M44 265h1M49 265h1M11 266h1M52 266h3M56 266h1M0 267h1M5 267h1M15 267h2M21 267h1M26 267h1M29 267h2M33 267h2M42 267h1M45 267h1M53 267h1M10 268h1M12 268h1M17 268h2M20 268h2M23 268h1M25 268h1M37 268h1M39 268h1M55 268h1M28 269h1M31 269h1M42 269h1M44 269h1M0 270h1M5 270h1M24 270h1M33 270h1M35 270h1M47 270h1M51 270h1M4 271h1M25 271h2M30 271h1M32 271h2M38 271h1M40 271h1M46 271h1M48 271h1M55 271h1M9 272h2M16 272h1M24 272h1M26 272h2M30 272h1M53 272h1M2 273h1M4 273h1M14 273h1M25 273h1M29 273h1M32 273h1M44 273h1M54 273h1M20 274h1M23 274h1M27 274h1M39 274h2M42 274h1M45 274h2M0 275h1M10 275h1M15 275h1M21 275h1M26 275h1M43 275h1M1 276h2M9 276h1M13 276h1M17 276h1M20 276h1M22 276h1M34 276h1M41 276h1M49 276h1M56 276h1M1 277h1M11 277h1M33 277h1M39 277h2M49 277h1M55 277h2M4 278h1M8 278h1M17 278h1M35 278h1M38 278h4M43 278h1M48 278h1M52 278h1M2 279h1M12 279h1M28 279h1M35 279h1M45 279h1M49 279h1M54 279h1M18 280h1M38 280h1M42 280h1M50 280h1M52 280h1M10 281h1M33 281h1M39 281h1M42 281h1M44 281h1M1 282h2M8 282h1M14 282h1M20 282h1M24 282h1M35 282h1M39 282h1M41 282h1M44 282h1M50 282h1M10 283h1M14 283h1M16 283h1M21 283h1M43 283h1M19 284h3M25 284h1M33 284h1M44 284h1M47 284h1M51 284h1M54 284h1M56 284h1M14 285h1M17 285h1M19 285h1M23 285h1M26 285h1M29 285h1M42 285h1M49 285h1M56 285h1M14 286h1M22 286h1M33 286h1M44 286h2M47 286h1M55 286h1M4 287h1M23 287h2M55 287h1M0 288h1M17 288h1M23 288h1M28 288h2M35 288h1M48 288h1M52 288h1M56 288h1M2 289h1M8 289h1M18 289h2M21 289h1M23 289h1M28 289h2M31 289h1M35 289h1M39 289h1M50 289h1M0 290h1M3 290h1M16 290h1M19 290h1M22 290h1M27 290h1M42 290h1M49 290h1M51 290h1M53 290h1M2 291h1M5 291h1M8 291h1M12 291h2M15 291h1M21 291h1M23 291h1M25 291h1M32 291h2M39 291h1M43 291h1M54 291h1M35 292h1M42 292h1M11 293h1M25 293h1M43 293h2M56 293h1M1 294h1M15 294h1M26 294h1M32 294h2M2 295h2M9 295h1M15 295h2M31 295h1M33 295h1M38 295h1M40 295h1M43 295h1M48 295h1M1 296h1M22 296h2M37 296h2M51 296h1M53 296h1M55 296h1M14 297h1M16 297h1M27 297h1M36 297h2M39 297h1M53 297h1M56 297h1M7 298h1M34 298h1M45 298h1M50 298h1M0 299h1M2 299h1M8 299h2M12 299h1M18 299h3M22 299h1M24 299h1M29 299h1M32 299h1M36 299h1M39 299h1M45 299h1M11 300h1M20 300h2M36 300h1M38 300h2M41 300h1M47 300h1M2 301h1M16 301h1M27 301h2M47 301h1M51 301h1M14 302h1M23 302h1M28 302h1M5 303h1M14 303h1M21 303h1M24 303h1M31 303h1M46 303h1M55 303h1M8 304h1M12 304h1M37 304h2M50 304h2M55 304h1M13 305h1M23 305h1M27 305h1M29 305h1M39 305h1M43 305h1M50 305h1M53 305h1M0 306h1M31 306h1M47 306h1M12 307h1M21 307h1M25 307h1M35 307h1M1 308h1M7 308h1M12 308h1M15 308h1M22 308h1M25 308h1M33 308h1M47 308h1M52 308h1M1 309h1M4 309h1M14 309h1M24 309h1M30 309h1M32 309h1M52 309h1M7 310h1M26 310h1M30 310h2M38 310h1M55 310h1M5 311h1M14 311h1M24 311h1M43 311h2M47 311h1M50 311h1M56 311h1M5 312h1M11 312h1M19 312h1M27 312h2M45 312h1M49 312h2M11 313h1M16 313h1M28 313h1M34 313h1M44 313h1M49 313h1M54 313h1M56 313h1M9 314h1M12 314h3M16 314h1M20 314h1M30 314h1M34 314h1M49 314h1M27 315h1M49 315h1M54 315h1M56 315h1M3 316h1M22 316h1M27 316h1M33 316h1M36 316h1M40 316h1M0 317h1M13 317h1M17 317h1M20 317h1M22 317h1M34 317h1M37 317h1M8 318h1M27 318h2M16 319h2M29 319h1M41 319h1M13 320h1M16 320h1M26 320h1M31 320h1M36 320h1M45 320h1M52 320h1M11 321h1M26 321h1M44 321h2M2 322h1M11 322h1M22 322h1M30 322h1M33 322h1M41 322h1M49 322h1M0 323h1M3 323h1M6 323h1M10 323h1M25 323h1M27 323h1M29 323h2M33 323h1M41 323h1M43 323h1M52 323h1M5 324h1M8 324h1M17 324h1M19 324h1M21 324h1M24 324h1M37 324h1M0 325h1M6 325h1M18 325h2M30 325h1M13 326h1M22 326h1M24 326h1M30 326h1M37 326h1M39 326h1M47 326h1M15 327h1M20 327h1M22 327h1M31 327h3M43 327h1M55 327h1M4 328h1M21 328h1M27 328h1M31 328h1M36 328h1M43 328h1M47 328h1M8 329h1M14 329h1M16 329h1M18 329h1M21 329h1M28 329h1M40 329h1M53 329h1M0 330h1M11 330h1M19 330h2M25 330h1M31 330h1M52 330h1M16 331h1M23 331h1M38 331h1M40 331h1M46 331h2M53 331h1M0 332h1M2 332h1M12 332h1M22 332h1M25 332h1M27 332h1M48 332h1M13 333h2M16 333h1M19 333h1M21 333h1M27 333h1M55 333h1M0 334h1M6 334h2M14 334h1M27 334h1M32 334h1M35 334h1M51 334h1M3 335h1M14 335h1M18 335h1M24 335h1M30 335h1M36 335h1M47 335h1M54 335h1M0 336h1M8 336h1M10 336h1M22 336h1M24 336h1M26 336h2M42 336h2M47 336h2M4 337h1M23 337h1M45 337h1M3 338h1M8 338h1M14 338h1M23 338h1M29 338h1M31 338h2M36 338h1M44 338h1M5 339h1M24 339h1M27 339h1M32 339h2M38 339h1M3 340h1M6 340h2M12 340h1M14 340h1M19 340h2M25 340h2M39 340h1M41 340h1M44 340h1M46 340h1M3 341h1M8 341h1M14 341h2M22 341h1M28 341h1M36 341h1M47 341h2M52 341h1M0 342h1M4 342h1M7 342h1M15 342h1M34 342h1M37 342h1M40 342h1M51 342h1M53 342h1M1 343h1M3 343h1M24 343h1M28 343h1M35 343h1M52 343h1M0 344h3M12 344h1M18 344h1M27 344h1M36 344h1M43 344h1M53 344h1M9 345h1M27 345h1M38 345h1M52 345h3M7 346h1M9 346h1M14 346h1M23 346h1M32 346h1M35 346h1M39 346h1M46 346h1M50 346h3M55 346h1M4 347h1M7 347h1M10 347h1M14 347h1M17 347h1M25 347h2M39 347h1M45 347h1M48 347h1M11 348h1M18 348h1M26 348h2M34 348h1M43 348h1M46 348h1M53 348h1M55 348h1M2 349h1M12 349h1M14 349h1M17 349h1M23 349h1M27 349h1M29 349h1M33 349h1M42 349h1M7 350h1M16 350h1M21 350h1M35 350h1M37 350h1M41 350h2M7 351h1M9 351h1M17 351h1M22 351h1M25 351h1M29 351h1M31 351h1M33 351h1M43 351h1M55 351h1M8 352h1M23 352h1M28 352h2M32 352h1M34 352h1M49 352h1M14 353h1M19 353h2M22 353h1M27 353h1M30 353h3M45 353h1M50 353h1M0 354h1M2 354h1M7 354h1M13 354h1M18 354h1M48 354h1M0 355h2M16 355h2M26 355h1M32 355h1M36 355h1M39 355h2M11 356h1M20 356h1M29 356h1M31 356h1M39 356h1M47 356h1M50 356h2M10 357h1M15 357h1M17 357h2M20 357h2M23 357h1M30 357h1M37 357h1M48 357h1M18 358h1M23 358h1M36 358h1M38 358h1M3 359h1M14 359h1M21 359h1M23 359h1M9 360h4M20 360h1M34 360h1M39 360h1M53 360h1M0 361h1M4 361h1M23 361h2M34 361h2M47 361h1M50 361h1M52 361h1M0 362h1M6 362h1M12 362h1M36 362h1M53 362h1M1 363h1M5 363h1M8 363h1M12 363h1M14 363h1M26 363h1M35 363h1M38 363h1M40 363h1M45 363h1M47 363h1M51 363h1M11 364h1M14 364h1M24 364h1M31 364h1M35 364h1M40 364h1M48 364h1M4 365h1M12 365h1M17 365h1M24 365h1M40 365h1M43 365h1M9 366h1M14 366h1M24 366h1M35 366h1M37 366h1M11 367h2M19 367h1M27 367h1M29 367h1M43 367h1M51 367h1M16 368h1M19 368h2M35 368h2M38 368h1M40 368h1M42 368h1M45 368h1M53 368h1M8 369h1M18 369h1M26 369h1M36 369h1M44 369h2M49 369h1M53 369h1M16 370h4M36 370h2M39 370h1M49 370h1M52 370h1M18 371h1M30 371h3M48 371h1M5 372h1M12 372h1M15 372h1M33 372h1M38 372h1M50 372h1M54 372h1M0 373h1M5 373h1M9 373h1M11 373h1M13 373h1M15 373h1M18 373h1M29 373h1M40 373h1M45 373h1M53 373h1M10 374h1M13 374h2M17 374h1M25 374h1M28 374h1M31 374h1M38 374h1M46 374h1M2 375h3M9 375h1M17 375h1M21 375h1M42 375h1M0 376h1M34 376h1M42 376h1M45 376h2M52 376h1M3 377h1M12 377h1M20 377h1M25 377h1M33 377h1M35 377h1M44 377h1M48 377h1M55 377h1M3 378h1M8 378h3M15 378h1M22 378h1M27 378h1M36 378h1M41 378h2M45 378h1M0 379h1M4 379h1M7 379h1M9 379h1M17 379h2M37 379h1M39 379h3M46 379h1M49 379h1M0 380h1M5 380h1M8 380h1M18 380h1M30 380h1M35 380h1M43 380h1M45 380h1M50 380h2M53 380h1M2 381h1M8 381h2M13 381h1M17 381h1M25 381h1M38 381h1M49 381h2M4 382h1M9 382h1M12 382h2M22 382h1M32 382h1M36 382h1M38 382h1M45 382h1M49 382h1M13 383h1M17 383h1M28 383h1M37 383h1M42 383h1M51 383h1M12 384h1M28 384h1M31 384h1M42 384h1M47 384h1M0 385h1M2 385h1M7 385h1M9 385h1M12 385h2M21 385h1M27 385h1M31 385h1M35 385h1M40 385h1M43 385h1M54 385h1M1 386h1M9 386h1M11 386h1M16 386h1M30 386h2M35 386h1M45 386h1M56 386h1M0 387h1M11 387h1M15 387h1M21 387h1M27 387h1M35 387h1M52 387h1M8 388h1M14 388h1M21 388h1M35 388h1M39 388h1M48 388h1M11 389h1M23 389h1M26 389h1M46 389h1M53 389h1M56 389h1M14 390h1M19 390h1M23 390h1M31 390h2M36 390h1M42 390h2M48 390h1M50 390h1M19 391h1M22 391h1M29 391h1M47 391h1M6 392h1M14 392h1M19 392h1M21 392h1M37 392h1M50 392h1M56 392h1M12 393h1M19 393h1M23 393h1M25 393h1M28 393h1M31 393h1M40 393h1M47 393h1M51 393h1M5 394h1M21 394h1M23 394h1M29 394h1M39 394h2M46 394h1M49 394h1M54 394h3M4 395h1M6 395h1M15 395h1M29 395h1M34 395h1M36 395h1M17 396h1M19 396h1M22 396h1M29 396h1M38 396h1M41 396h1M48 396h1M0 397h1M10 397h1M20 397h1M23 397h1M29 397h1M33 397h1M2 398h1M10 398h1M20 398h1M22 398h1M30 398h1M35 398h1M42 398h1M45 398h1M21 399h1M25 399h1M35 399h2M42 399h1M8 400h1M13 400h1M16 400h3M26 400h2M31 400h2M54 400h1M6 401h1M16 401h1M21 401h2M28 401h3M33 401h1M46 401h1M8 402h2M12 402h1M17 402h2M29 402h2M32 402h2M43 402h1M46 402h1M48 402h1M0 403h1M8 403h1M15 403h1M26 403h1M28 403h1M40 403h1M46 403h1M56 403h1M5 404h1M12 404h1M14 404h1M18 404h1M29 404h1M43 404h1M10 405h1M13 405h1M18 405h1M28 405h1M33 405h1M35 405h1M39 405h1M41 405h2M51 405h1M54 405h1M3 406h2M13 406h1M26 406h1M29 406h1M31 406h1M2 407h1M7 407h1M13 407h1M15 407h1M28 407h1M46 407h2M55 407h1M2 408h1M8 408h1M11 408h1M16 408h2M19 408h1M21 408h1M35 408h3M41 408h2M49 408h1M51 408h1M5 409h1M10 409h1M12 409h2M24 409h1M29 409h3M34 409h1M36 409h1M49 409h1M14 410h1M23 410h2M32 410h1M41 410h1M43 410h1M47 410h2M19 411h1M37 411h1M41 411h1M51 411h1M53 411h1M6 412h1M12 412h4M19 412h1M24 412h1M36 412h2M39 412h3M43 412h1M49 412h1M53 412h1M3 413h1M21 413h2M39 413h2M42 413h1M44 413h1M48 413h1M50 413h1M53 413h1M1 414h1M13 414h1M16 414h1M31 414h1M34 414h1M47 414h2M56 414h1M4 415h1M12 415h1M16 415h2M31 415h1M34 415h1M46 415h1M43 416h1M45 416h1M48 416h1M17 417h2M25 417h1M34 417h1M40 417h1M42 417h1M48 417h1M54 417h2M1 418h1M4 418h1M13 418h1M17 418h2M35 418h1M37 418h1M40 418h1M44 418h2M0 419h1M5 419h1M7 419h1M27 419h2M31 419h1M51 419h2M56 419h1M5 420h1M28 420h2M34 420h1M39 420h2M3 421h1M21 421h2M28 421h1M33 421h1M35 421h1M39 421h1M7 422h1M19 422h1M22 422h1M24 422h1M28 422h2M34 422h1M43 422h1M50 422h1M55 422h2M5 423h1M11 423h1M33 423h1M39 423h1M46 423h1M23 424h1M17 425h1M21 425h1M27 425h1M38 425h1M47 425h2M56 425h1M4 426h1M6 426h3M11 426h1M13 426h1M23 426h1M51 426h1M53 426h1M25 427h1M38 427h1M41 427h1M48 427h2M6 428h1M40 428h3M44 428h3M55 428h1M3 429h1M13 429h1M25 429h1M37 429h1M44 429h1M51 429h1M12 430h1M19 430h1M32 430h1M54 430h1M5 431h1M17 431h1M21 431h1M23 431h1M38 431h1M47 431h1M55 431h1M0 432h1M16 432h1M28 432h1M32 432h2M40 432h1M45 432h1M18 433h1M21 433h1M29 433h1M36 433h1M39 433h1M41 433h1M51 433h1M54 433h1M6 434h1M18 434h3M25 434h1M40 434h1M42 434h3M47 434h2M4 435h1M11 435h1M16 435h2M33 435h3M39 435h2M54 435h1M2 436h1M16 436h1M21 436h1M30 436h1M32 436h2M46 436h1M0 437h1M2 437h1M5 437h1M10 437h1M13 437h1M16 437h2M30 437h2M38 437h1M45 437h1M48 437h1M2 438h1M11 438h1M18 438h1M21 438h2M24 438h1M26 438h1M32 438h1M4 439h3M8 439h1M11 439h2M41 439h1M53 439h2"/>
<path stroke="#001cff" d="M21 3h1M38 7h1M36 8h1M17 9h1M43 10h1M45 10h1M42 11h1M29 12h1M52 12h1M26 13h1M2 14h1M8 15h1M16 15h1M25 15h1M49 15h1M17 16h1M9 17h1M22 17h1M45 17h1M8 18h2M7 20h1M52 21h1M7 22h1M25 22h2M7 23h1M36 23h1M54 23h1M32 24h1M38 24h1M43 24h1M47 24h1M51 24h1M13 25h1M32 25h1M37 25h1M49 25h1M13 26h1M21 26h1M33 26h1M41 26h2M15 28h1M19 28h1M38 28h1M42 28h1M54 28h1M4 29h1M10 29h1M13 29h1M52 29h1M44 30h1M53 30h1M23 31h1M31 31h1M36 31h1M16 32h1M26 32h3M20 33h1M23 33h1M5 34h1M25 34h1M6 35h1M20 35h1M31 35h1M13 36h1M25 36h1M35 36h1M8 37h1M14 37h1M25 37h1M35 37h1M31 38h1M46 38h1M56 38h1M7 39h1M18 39h1M30 39h2M1 40h1M18 40h1M24 40h1M40 41h1M7 42h1M17 42h1M31 42h1M11 43h1M24 43h1M31 43h1M46 43h1M56 43h1M20 44h1M34 44h1M20 45h1M26 45h1M33 45h1M36 45h1M42 45h2M9 46h1M19 46h1M21 46h1M23 46h1M44 46h1M31 47h1M14 48h1M17 48h1M33 48h1M56 48h1M7 49h1M12 49h2M17 49h2M21 49h1M24 49h2M50 49h1M52 49h1M54 49h1M56 49h1M15 50h1M33 50h1M23 51h1M31 51h1M11 52h1M22 52h1M26 52h1M30 52h1M32 52h1M25 53h1M0 54h2M7 54h1M12 54h1M17 54h1M31 54h1M35 54h1M41 54h1M2 55h1M5 55h1M8 55h1M44 55h1M2 56h1M14 56h1M35 56h1M47 56h1M0 57h3M14 57h2M20 57h1M38 57h1M25 58h1M22 59h1M42 59h1M46 59h1M51 59h1M56 59h1M0 60h1M12 60h1M25 60h2M48 60h1M53 60h1M11 61h1M20 61h1M38 61h1M6 62h1M47 62h1M51 62h1M6 63h1M14 63h1M4 64h1M30 64h1M43 64h1M9 65h1M21 65h1M54 65h1M0 66h1M10 66h1M12 66h1M14 66h1M53 66h1M12 67h1M15 67h1M43 67h1M49 67h2M6 68h1M12 68h1M18 68h1M22 68h2M31 68h1M43 68h1M46 68h1M51 68h1M4 69h1M17 69h1M20 69h1M27 69h1M38 69h1M41 69h2M44 69h2M54 69h1M8 70h1M20 70h1M47 70h1M54 70h1M13 71h1M24 71h1M36 71h1M14 72h1M25 72h3M37 72h1M54 72h1M8 73h1M22 73h2M28 73h1M48 73h1M6 74h1M11 74h1M24 74h1M31 74h1M36 74h1M40 74h1M0 75h1M26 75h1M49 75h1M22 76h1M56 76h1M8 77h1M13 77h2M25 77h1M35 77h1M37 77h2M40 77h2M47 77h1M14 78h3M25 78h1M53 78h1M4 79h2M9 79h1M40 79h1M54 79h1M11 80h1M20 80h1M40 80h1M50 80h1M0 81h1M13 81h2M16 81h1M30 81h1M12 82h1M24 82h1M56 82h1M11 83h1M29 83h1M32 83h1M55 83h1M5 84h1M18 84h3M29 84h1M37 84h1M44 84h1M47 84h1M0 85h1M8 85h1M10 85h1M15 85h1M26 85h1M47 85h1M8 86h1M16 86h1M22 86h1M24 86h1M30 86h1M35 86h1M38 86h3M42 86h1M46 86h1M50 86h1M26 87h1M46 87h1M48 87h1M49 88h2M17 89h1M34 89h1M43 89h2M48 89h1M53 89h1M13 90h1M17 90h1M21 90h1M33 90h1M37 90h1M46 90h1M52 90h1M23 91h1M47 91h1M29 92h1M31 92h1M35 92h1M37 92h1M41 92h1M55 92h1M12 93h2M18 93h1M28 93h1M34 93h2M43 93h2M0 94h1M2 94h1M6 94h1M10 94h2M15 94h1M27 94h1M37 94h1M41 94h1M7 95h1M31 95h1M7 96h1M12 96h1M16 96h2M22 96h1M30 96h1M37 96h1M42 96h3M55 96h1M2 97h2M15 97h1M17 97h1M28 97h1M30 97h1M40 97h1M49 97h1M8 98h1M14 98h1M25 98h1M33 98h1M43 98h1M56 98h1M0 99h1M6 99h1M9 99h1M29 99h1M33 99h2M36 99h1M50 99h1M52 99h1M19 100h1M21 100h1M23 100h1M27 100h1M30 100h1M32 100h1M50 100h1M25 101h1M27 101h2M44 101h1M48 101h2M6 102h1M21 102h1M34 102h1M50 102h1M2 103h1M7 103h1M14 103h1M18 103h1M20 103h1M56 103h1M0 104h1M26 104h1M30 104h1M32 104h1M36 104h1M40 104h2M45 104h1M47 104h1M51 104h2M1 105h2M27 105h1M46 105h1M52 105h1M55 105h2M4 106h1M7 106h1M25 106h1M30 106h1M35 106h1M39 106h1M41 106h1M45 106h1M4 107h1M9 107h1M37 107h1M39 107h2M43 107h1M52 107h1M3 108h2M12 108h1M19 108h1M25 108h1M42 108h1M1 109h2M4 109h1M13 109h1M28 109h2M43 109h1M47 109h1M49 109h1M52 109h1M0 110h1M5 110h1M11 110h1M25 110h1M31 110h2M39 110h1M49 110h2M16 111h1M18 111h1M35 111h1M39 111h1M41 111h2M48 111h1M55 111h2M5 112h1M8 112h1M11 112h1M20 112h1M52 112h1M2 113h2M7 113h1M13 113h1M17 113h1M32 113h1M2 114h1M11 114h1M25 114h1M33 114h2M43 114h1M49 114h1M53 114h1M6 115h1M14 115h1M18 115h1M41 115h1M43 115h1M28 116h1M42 116h1M6 117h2M52 117h1M10 118h1M16 118h1M29 118h1M33 118h2M48 118h2M52 118h2M56 118h1M1 119h1M10 119h1M17 119h1M19 119h1M26 119h1M32 119h1M46 119h1M7 120h1M20 120h1M31 120h2M43 120h1M45 120h1M53 120h1M3 121h1M8 121h1M13 121h1M33 121h1M44 121h1M47 121h1M51 121h1M55 121h2M2 122h1M11 122h1M15 122h1M18 122h1M47 122h1M54 122h1M9 123h1M11 123h1M21 123h1M35 123h2M38 123h1M41 123h1M43 123h3M56 123h1M4 124h1M14 124h1M37 124h1M51 124h1M30 125h1M37 125h1M40 125h1M54 125h1M2 126h1M38 126h1M50 126h1M4 127h1M8 127h1M14 127h2M19 127h3M32 127h1M41 127h1M47 127h1M53 127h1M56 127h1M1 128h1M3 128h1M7 128h1M17 128h1M43 128h1M47 128h1M52 128h1M34 129h1M3 130h1M22 130h2M32 130h1M43 130h1M48 130h1M4 131h1M6 131h1M15 131h1M20 131h1M31 131h1M53 131h1M2 132h1M15 132h1M20 132h1M27 132h1M29 132h2M40 132h1M45 132h1M16 133h1M28 133h1M33 133h1M42 133h1M54 133h1M0 134h1M9 134h1M14 134h1M16 134h1M18 134h2M23 134h1M31 134h1M42 134h1M13 135h2M18 135h1M29 135h1M47 135h1M8 136h1M10 136h2M17 136h1M39 136h1M41 136h1M48 136h1M52 136h1M16 137h1M24 137h1M31 137h1M39 137h1M46 137h1M50 137h1M8 138h1M28 138h1M36 138h1M53 138h2M1 139h1M5 139h1M18 139h1M33 139h1M48 139h2M51 139h1M56 139h1M1 140h2M7 140h1M17 140h1M31 140h1M42 140h1M46 140h2M56 140h1M3 141h1M10 141h1M17 141h2M29 141h1M0 142h1M25 142h3M33 142h1M36 142h1M47 142h1M7 143h1M10 143h1M42 143h2M48 143h1M5 144h1M10 144h2M15 144h3M20 144h2M43 144h1M48 144h1M52 144h2M56 144h1M2 145h1M7 145h1M28 145h1M39 145h1M2 146h1M6 146h1M8 146h1M10 146h1M19 146h1M43 146h1M46 146h2M3 147h1M6 147h2M10 147h1M17 147h1M19 147h1M21 147h1M28 147h1M47 147h2M2 148h1M8 148h1M11 148h1M14 148h1M16 148h1M20 148h1M22 148h1M27 148h1M32 148h1M50 148h1M6 149h2M20 149h1M34 149h1M38 149h1M4 150h1M9 150h1M16 150h1M18 150h1M24 150h1M26 150h1M33 150h1M49 150h1M52 150h1M11 151h1M27 151h1M42 151h1M47 151h1M2 152h2M17 152h2M23 152h1M26 152h1M31 152h1M37 152h2M42 152h1M51 152h1M54 152h1M5 153h1M25 153h1M27 153h1M43 153h1M5 154h1M9 154h1M27 154h2M50 154h1M52 154h1M5 155h3M25 155h1M29 155h1M32 155h1M50 155h2M56 155h1M7 156h1M33 156h1M50 156h1M33 157h1M37 157h1M39 157h1M41 157h1M46 157h1M50 157h1M4 158h2M10 158h1M19 158h1M25 158h2M29 158h1M34 158h1M38 158h1M49 158h1M5 159h1M9 159h1M25 159h3M35 159h1M39 159h1M48 159h1M6 160h1M19 160h1M26 160h1M32 160h1M53 160h1M3 161h1M13 161h1M20 161h2M55 161h2M6 162h1M12 162h1M16 162h1M19 162h1M21 162h1M25 162h2M36 162h1M41 162h4M3 163h1M6 163h1M20 163h1M25 163h1M27 163h1M32 163h1M43 163h1M7 164h1M11 164h1M30 164h1M42 164h1M53 164h1M55 164h1M0 165h1M4 165h1M29 165h2M34 165h1M39 165h1M44 165h1M46 165h1M55 165h1M30 166h1M32 166h1M34 166h1M37 166h1M51 166h1M56 166h1M1 167h1M4 167h1M8 167h1M12 167h1M19 167h1M21 167h1M38 167h1M4 168h1M20 168h1M28 168h1M34 168h1M37 168h1M44 168h1M56 168h1M4 169h1M11 169h1M28 169h1M43 169h1M14 170h1M30 170h1M36 170h2M45 170h1M51 170h1M54 170h1M12 171h1M18 171h1M23 171h1M27 171h1M37 171h1M46 171h1M21 172h1M42 172h1M55 172h1M2 173h1M6 173h1M17 173h1M33 173h1M54 173h1M7 174h1M11 174h2M23 174h1M27 174h1M46 174h1M56 174h1M12 175h2M24 175h1M28 175h1M32 175h1M36 175h1M38 175h1M47 175h1M49 175h1M53 175h1M1 176h1M5 176h1M19 176h1M24 176h1M30 176h1M36 176h1M45 176h1M51 176h1M3 177h1M8 177h1M27 177h1M40 177h1M50 177h1M52 177h1M4 178h1M19 178h1M21 178h1M23 178h1M30 178h1M33 178h1M35 178h2M53 178h2M4 179h1M22 179h1M33 179h1M53 179h2M1 180h1M18 180h1M34 180h1M36 180h1M42 180h1M1 181h1M12 181h1M14 181h1M17 181h2M37 181h1M42 181h1M49 181h1M54 181h1M3 182h1M6 182h1M17 182h1M19 182h1M21 182h1M29 182h1M35 182h1M37 182h2M41 182h1M1 183h1M6 183h2M14 183h1M23 183h2M39 183h1M50 183h1M52 183h1M5 184h1M14 184h1M18 184h1M30 184h1M43 184h2M49 184h1M2 185h2M13 185h1M52 185h1M27 186h1M31 186h1M41 186h1M46 186h2M50 186h1M2 187h1M36 187h1M46 187h1M52 187h1M6 188h1M12 188h1M14 188h2M30 188h1M32 188h1M34 188h2M37 188h1M45 188h1M0 189h1M6 189h1M10 189h2M15 189h1M18 189h2M31 189h1M33 189h1M55 189h1M7 190h1M14 190h1M17 190h1M36 190h1M39 190h1M46 190h1M49 190h1M53 190h2M39 191h1M50 191h1M52 191h1M2 192h1M9 192h1M28 192h1M35 192h1M52 192h1M9 193h1M26 193h1M33 193h1M7 194h1M23 194h1M42 194h1M44 194h1M47 194h1M52 194h1M56 194h1M11 195h2M21 195h1M34 195h1M42 195h1M3 196h1M5 196h1M10 196h1M13 196h1M19 196h1M11 197h1M21 197h1M35 197h1M37 197h1M39 197h1M43 197h1M6 198h1M14 198h1M18 198h1M30 198h1M32 198h1M31 199h1M47 199h1M49 199h1M55 199h1M4 200h1M17 200h1M39 200h1M44 200h2M49 200h1M54 200h1M1 201h1M3 201h1M28 201h1M40 201h1M48 201h1M5 202h1M7 202h1M28 202h1M38 202h1M55 202h1M1 203h1M17 203h1M30 203h1M34 203h2M37 203h1M51 203h1M14 204h1M17 204h2M26 204h1M31 204h1M42 204h2M45 204h1M47 204h1M50 204h1M54 204h1M2 205h1M7 205h1M22 205h1M32 205h2M37 205h1M3 206h1M16 206h1M25 206h1M30 206h1M45 206h1M51 206h1M53 206h1M2 207h1M4 207h1M6 207h1M11 207h1M14 207h1M20 207h1M25 207h1M30 207h2M34 207h1M44 207h1M18 208h1M32 208h1M41 208h1M43 208h1M55 208h1M1 209h1M14 209h1M20 209h1M30 209h1M37 209h1M50 209h2M12 210h1M25 210h1M49 210h1M3 211h1M5 211h1M20 211h1M29 211h1M48 211h2M53 211h1M4 212h2M21 212h1M26 212h1M31 212h1M48 212h2M3 213h1M7 213h1M13 213h1M23 213h1M36 213h1M47 213h1M55 213h1M1 214h2M17 214h1M24 214h1M34 214h1M40 214h3M52 214h1M3 215h1M15 215h1M23 215h1M25 215h1M29 215h1M32 215h1M40 215h1M45 215h2M49 215h1M51 215h1M30 216h2M45 216h1M4 217h1M12 217h1M16 217h1M19 217h4M0 218h2M9 218h1M12 218h2M19 218h1M29 218h2M32 218h1M39 218h1M47 218h1M56 218h1M3 219h1M18 219h1M30 219h1M36 219h1M2 220h1M15 220h2M21 220h1M34 220h1M45 220h1M0 221h1M3 221h1M16 221h1M20 221h3M31 221h1M37 221h2M53 221h1M7 222h1M30 222h1M42 222h1M44 222h1M1 223h1M7 223h1M17 223h1M25 223h1M48 223h1M1 224h2M12 224h1M18 224h1M33 224h1M38 224h1M53 224h1M1 225h1M26 225h2M53 225h1M13 226h1M23 226h1M25 226h1M27 226h1M38 226h1M43 226h1M54 226h1M3 227h1M14 227h1M18 227h3M39 227h1M21 228h1M30 228h1M39 228h1M48 228h1M4 229h1M33 229h1M39 229h1M45 229h1M16 230h1M26 230h3M31 230h1M33 230h2M47 230h1M50 230h1M53 230h2M30 231h1M1 232h1M10 232h1M14 232h1M16 232h1M19 232h1M23 232h1M50 232h1M1 233h1M12 233h1M21 233h1M36 233h1M38 233h2M41 233h2M50 233h1M15 234h1M18 234h2M23 234h1M28 234h1M48 234h2M16 235h1M27 235h1M43 235h1M47 235h1M51 235h1M3 236h1M15 236h1M28 236h1M30 236h1M36 236h3M40 236h1M47 236h1M49 236h1M0 237h2M26 237h1M28 237h2M45 237h1M47 237h3M10 238h1M18 238h1M22 238h2M29 238h1M32 238h2M41 238h1M45 238h1M52 238h1M56 238h1M33 239h1M37 239h1M54 239h2M3 240h2M26 240h1M30 240h1M32 240h1M35 240h1M37 240h1M42 240h2M47 240h1M53 240h1M55 240h1M9 241h1M26 241h2M43 241h3M52 241h2M55 241h1M13 242h1M21 242h1M25 242h1M29 242h1M35 242h1M1 243h1M6 243h1M9 243h1M14 243h1M27 243h1M42 243h3M46 243h1M5 244h1M16 244h1M19 244h1M26 244h1M34 244h1M41 244h1M52 244h1M15 245h1M34 245h2M43 245h1M55 245h1M0 246h1M26 246h1M42 246h1M55 246h2M4 247h1M26 247h1M45 247h1M53 247h1M56 247h1M4 248h1M14 248h1M28 248h1M41 248h2M47 248h1M53 248h1M56 248h1M0 249h1M32 249h1M38 249h1M43 249h1M47 249h1M0 250h1M5 250h1M7 250h1M17 250h1M21 250h1M23 250h1M26 250h1M29 250h1M36 250h1M39 250h1M44 250h2M53 250h1M4 251h1M22 251h1M24 251h1M32 251h1M46 251h1M2 252h1M14 252h2M17 252h1M32 252h1M39 252h2M48 252h1M0 253h1M6 253h1M9 253h1M13 253h1M17 253h1M48 253h1M50 253h1M55 253h1M0 254h1M6 254h2M35 254h1M39 254h1M41 254h1M49 254h1M52 254h1M54 254h1M14 255h1M16 255h1M24 255h3M43 255h1M56 255h1M1 256h1M3 256h1M11 256h2M14 256h1M20 256h1M43 256h2M56 256h1M10 257h1M12 257h1M14 257h1M28 257h1M33 257h1M41 257h2M33 258h2M38 258h1M40 258h1M50 258h1M52 258h1M0 259h1M10 259h1M12 259h1M14 259h2M17 259h1M19 259h1M33 259h1M37 259h1M45 259h1M49 259h1M55 259h1M21 260h1M36 260h2M44 260h1M4 261h1M6 261h1M10 261h1M26 261h1M39 261h1M42 261h1M48 261h1M56 261h1M5 262h1M10 262h1M21 262h1M43 262h1M4 263h1M7 263h1M13 263h1M15 263h1M21 263h1M29 263h1M48 263h1M50 263h1M53 263h1M20 264h1M23 264h1M3 265h1M23 265h1M30 265h1M39 265h2M50 265h1M2 266h1M31 266h1M33 266h1M35 266h1M40 266h1M44 266h1M4 267h1M9 267h1M13 267h2M24 267h1M46 267h1M49 267h1M2 268h1M11 268h1M13 268h1M26 268h1M32 268h2M38 268h1M41 268h1M48 268h2M2 269h1M10 269h3M19 269h1M38 269h1M50 269h1M53 269h1M1 270h1M6 270h1M10 270h1M15 270h2M30 270h2M34 270h1M37 270h1M52 270h1M1 271h1M3 271h1M11 271h1M21 271h1M36 271h1M51 271h1M53 271h1M3 272h1M11 272h1M13 272h1M17 272h1M19 272h1M22 272h1M32 272h1M37 272h1M56 272h1M9 273h2M22 273h1M35 273h1M38 273h1M51 273h1M56 273h1M18 274h1M22 274h1M35 274h1M43 274h2M47 274h2M18 275h1M29 275h1M36 275h1M14 276h1M23 276h1M30 276h1M48 276h1M51 276h2M2 277h1M21 277h1M24 277h1M31 277h1M37 277h1M48 277h1M52 277h1M3 278h1M6 278h2M9 278h1M14 278h1M18 278h1M29 278h1M36 278h2M51 278h1M53 278h1M1 279h1M10 279h2M13 279h1M23 279h2M36 279h1M40 279h1M13 280h2M19 280h1M30 280h1M47 280h1M51 280h1M54 280h1M2 281h1M6 281h1M25 281h1M36 281h1M51 281h1M3 282h1M6 282h1M29 282h1M31 282h1M33 282h2M38 282h1M43 282h1M48 282h1M3 283h1M11 283h1M20 283h1M41 283h1M49 283h1M1 284h2M11 284h1M17 284h1M35 284h2M41 284h1M46 284h1M48 284h1M50 284h1M52 284h1M25 285h1M44 285h1M11 286h1M19 286h1M29 286h1M31 286h1M34 286h1M36 286h2M48 286h1M54 286h1M3 287h1M5 287h1M27 287h1M33 287h3M1 288h1M6 288h1M9 288h2M14 288h1M38 288h2M45 288h1M49 288h1M51 288h1M55 288h1M6 289h2M11 289h1M22 289h1M43 289h2M52 289h2M18 290h1M23 290h2M29 290h2M34 290h1M52 290h1M55 290h1M7 291h1M11 291h1M17 291h1M24 291h1M27 291h1M30 291h1M46 291h2M50 291h1M53 291h1M55 291h2M4 292h1M11 292h2M15 292h1M20 292h1M23 292h1M27 292h1M36 292h1M2 293h1M14 293h1M18 293h1M36 293h1M50 293h1M0 294h1M2 294h1M18 294h3M35 294h1M42 294h1M46 294h1M51 294h1M56 294h1M1 295h1M4 295h1M22 295h1M30 295h1M39 295h1M49 295h1M12 296h1M16 296h1M21 296h1M25 296h1M27 296h1M40 296h1M11 297h1M29 297h1M32 297h3M40 297h1M42 297h1M2 298h1M16 298h1M30 298h1M41 298h1M46 298h1M55 298h2M4 299h1M37 299h1M47 299h1M49 299h1M0 300h2M42 300h1M45 300h1M56 300h1M1 301h1M5 301h1M14 301h1M17 301h2M29 301h1M43 301h1M54 301h1M0 302h1M17 302h1M20 302h1M36 302h1M46 302h1M48 302h1M50 302h1M54 302h2M1 303h1M7 303h1M17 303h1M34 303h1M37 303h1M42 303h1M47 303h2M53 303h2M0 304h1M11 304h1M14 304h1M26 304h1M30 304h1M35 304h2M40 304h1M45 304h2M48 304h1M1 305h2M7 305h1M12 305h1M14 305h2M20 305h3M25 305h1M45 305h2M49 305h1M1 306h1M3 306h1M12 306h1M19 306h1M30 306h1M38 306h1M46 306h1M56 306h1M13 307h2M19 307h1M24 307h1M27 307h1M36 307h2M41 307h1M49 307h1M0 308h1M9 308h1M21 308h1M36 308h1M40 308h1M42 308h1M9 309h2M17 309h1M25 309h1M35 309h1M43 309h1M45 309h1M47 309h1M49 309h1M51 309h1M55 309h2M0 310h1M10 310h2M13 310h1M20 310h1M32 310h1M34 310h1M48 310h1M3 311h1M6 311h1M15 311h1M28 311h3M53 311h1M0 312h1M6 312h2M35 312h1M38 312h2M7 313h1M10 313h1M27 313h1M33 313h1M45 313h1M52 313h1M6 314h1M23 314h1M33 314h1M47 314h1M50 314h1M53 314h1M55 314h1M3 315h1M15 315h1M28 315h2M31 315h1M36 315h1M43 315h1M16 316h1M26 316h1M30 316h1M42 316h1M50 316h1M56 316h1M6 317h1M9 317h1M12 317h1M18 317h1M21 317h1M38 317h1M56 317h1M4 318h1M6 318h1M13 318h1M15 318h2M18 318h1M23 318h1M31 318h1M36 318h1M38 318h1M9 319h1M18 319h1M25 319h3M31 319h1M48 319h1M4 320h2M7 320h1M12 320h1M20 320h1M37 320h3M50 320h1M0 321h1M28 321h1M32 321h1M49 321h2M54 321h1M3 322h1M5 322h3M20 322h1M25 322h1M27 322h1M42 322h1M44 322h1M50 322h1M53 322h3M5 323h1M15 323h1M31 323h1M39 323h1M42 323h1M2 324h1M4 324h1M7 324h1M12 324h1M25 324h1M38 324h1M44 324h1M53 324h3M2 325h1M16 325h1M25 325h1M35 325h1M38 325h1M46 325h2M2 326h1M4 326h1M6 326h1M18 326h1M25 326h2M44 326h1M50 326h1M1 327h1M16 327h1M30 327h1M49 327h1M8 328h1M19 328h1M22 328h1M48 328h1M52 328h2M0 329h1M22 329h1M29 329h1M38 329h1M41 329h1M43 329h1M4 330h1M12 330h1M24 330h1M28 330h1M30 330h1M47 330h1M49 330h1M1 331h1M4 331h1M30 331h1M39 331h1M45 331h1M50 331h1M54 331h1M10 332h1M23 332h1M39 332h3M54 332h1M5 333h1M24 333h1M31 333h1M38 333h2M47 333h1M50 333h1M8 334h1M17 334h1M24 334h1M26 334h1M36 334h1M41 334h1M45 334h1M50 334h1M8 335h1M17 335h1M31 335h1M1 336h1M9 336h1M16 336h1M20 336h2M31 336h1M45 336h2M0 337h1M9 337h1M13 337h1M20 337h1M28 337h2M42 337h3M50 337h1M12 338h1M16 338h1M19 338h1M21 338h1M24 338h1M27 338h1M39 338h1M41 338h1M47 338h1M53 338h2M4 339h1M23 339h1M35 339h1M39 339h1M48 339h1M51 339h1M17 340h1M27 340h3M47 340h3M4 341h1M7 341h1M9 341h1M12 341h1M21 341h1M27 341h1M32 341h1M43 341h1M45 341h1M50 341h1M55 341h1M12 342h1M41 342h1M46 342h1M50 342h1M54 342h1M13 343h1M19 343h1M22 343h1M29 343h1M54 343h1M7 344h1M15 344h1M41 344h1M48 344h1M50 344h1M5 345h1M23 345h2M39 345h1M45 345h1M0 346h2M3 346h2M6 346h1M8 346h1M22 346h1M41 346h1M3 347h1M38 347h1M44 347h1M55 347h1M19 348h1M24 348h1M36 348h1M38 348h1M48 348h1M50 348h1M7 349h1M13 349h1M21 349h1M41 349h1M51 349h1M55 349h1M1 350h2M19 350h1M28 350h2M34 350h1M38 350h1M49 350h1M53 350h1M0 351h2M27 351h1M34 351h1M42 351h1M45 351h1M1 352h1M9 352h1M21 352h1M35 352h1M43 352h1M51 352h2M3 353h1M8 353h1M21 353h1M33 353h1M35 353h2M39 353h1M42 353h1M48 353h1M1 354h1M12 354h1M15 354h2M33 354h1M38 354h1M49 354h2M52 354h1M54 354h1M24 355h1M27 355h1M29 355h1M35 355h1M52 355h1M54 355h1M12 356h1M25 356h1M27 356h1M41 356h1M46 356h1M52 356h1M1 357h1M8 357h1M25 357h1M49 357h1M13 358h1M19 358h1M48 358h1M0 359h1M18 359h1M25 359h1M34 359h2M43 359h1M49 359h2M1 360h1M3 360h1M18 360h1M21 360h1M26 360h1M37 360h2M50 360h3M2 361h1M5 361h1M9 361h1M26 361h1M28 361h1M41 361h1M53 361h2M4 362h1M23 362h1M29 362h2M35 362h1M37 362h1M41 362h1M52 362h1M3 363h1M9 363h1M17 363h1M31 363h1M37 363h1M42 363h1M50 363h1M53 363h1M56 363h1M5 364h1M8 364h1M27 364h3M32 364h1M39 364h1M41 364h1M51 364h1M54 364h2M1 365h1M9 365h1M15 365h1M56 365h1M5 366h1M22 366h1M29 366h1M31 366h2M54 366h1M1 367h1M14 367h1M25 367h1M30 367h2M37 367h1M41 367h1M1 368h1M6 368h2M13 368h1M22 368h1M24 368h1M32 368h1M49 368h1M55 368h2M9 369h1M14 369h2M19 369h1M29 369h1M32 369h1M42 369h1M50 369h1M56 369h1M0 370h1M4 370h1M30 370h2M43 370h2M47 370h1M50 370h1M53 370h1M0 371h1M19 371h2M24 371h2M27 371h1M36 371h2M39 371h3M56 371h1M8 372h1M19 372h1M22 372h3M30 373h2M33 373h1M35 373h1M2 374h1M8 374h1M19 374h2M22 374h2M26 374h1M29 374h2M37 374h1M45 374h1M47 374h3M51 374h1M20 375h1M24 375h1M35 375h1M37 375h1M43 375h1M46 375h1M48 375h1M53 375h1M2 376h1M6 376h1M13 376h1M17 376h1M27 376h1M43 376h1M50 376h1M9 377h1M15 377h1M38 377h1M46 377h2M1 378h1M7 378h1M16 378h1M29 378h1M49 378h3M2 379h1M8 379h1M12 379h1M33 379h1M43 379h1M25 380h2M55 380h1M6 381h1M12 381h1M16 381h1M32 381h1M34 381h1M46 381h1M53 381h1M56 381h1M16 382h2M39 382h1M2 383h1M4 383h1M6 383h2M16 383h1M29 383h1M43 383h1M52 383h2M56 383h1M11 384h1M13 384h1M20 384h1M26 384h1M34 384h1M36 384h2M4 385h1M15 385h1M26 385h1M29 385h1M44 385h1M47 385h2M3 386h1M17 386h2M21 386h1M26 386h1M29 386h1M51 386h1M55 386h1M10 387h1M14 387h1M25 387h1M46 387h1M1 388h1M4 388h1M26 388h1M29 388h1M38 388h1M41 388h1M46 388h1M8 389h1M15 389h1M19 389h1M28 389h1M34 389h1M0 390h1M6 390h1M18 390h1M28 390h1M38 390h1M47 390h1M3 391h1M11 391h1M13 391h1M21 391h1M25 391h1M43 391h2M52 391h1M55 391h1M0 392h1M3 392h1M9 392h1M20 392h1M23 392h1M30 392h1M36 392h1M45 392h2M53 392h1M0 393h1M11 393h1M20 393h1M36 393h1M38 393h1M42 393h1M44 393h2M56 393h1M10 394h1M12 394h2M15 394h1M24 394h1M32 394h2M38 394h1M2 395h1M12 395h1M22 395h1M24 395h1M28 395h1M33 395h1M35 395h1M37 395h1M40 395h3M49 395h1M52 395h2M55 395h1M21 396h1M27 396h1M43 396h2M11 397h1M13 397h1M18 397h2M22 397h1M32 397h1M41 397h1M45 397h3M52 397h1M56 397h1M1 398h1M4 398h2M12 398h1M16 398h1M31 398h1M38 398h2M46 398h1M49 398h1M51 398h1M0 399h2M14 399h1M20 399h1M23 399h2M37 399h2M45 399h1M54 399h1M0 400h1M3 400h1M12 400h1M15 400h1M35 400h3M39 400h1M41 400h1M51 400h2M10 401h1M15 401h1M23 401h1M43 401h1M54 401h1M42 402h1M53 402h1M56 402h1M1 403h1M14 403h1M16 403h1M22 403h1M24 403h1M27 403h1M30 403h1M35 403h1M39 403h1M50 403h1M55 403h1M11 404h1M13 404h1M30 404h1M33 404h1M35 404h1M0 405h1M15 405h2M23 405h1M29 405h1M37 405h1M45 405h1M7 406h1M16 406h1M36 406h1M38 406h2M46 406h1M55 406h1M5 407h1M20 407h1M23 407h1M30 407h1M36 407h1M38 407h2M48 407h1M40 408h1M52 408h2M55 408h1M1 409h1M4 409h1M11 409h1M35 409h1M40 409h1M47 409h1M52 409h2M55 409h2M2 410h1M10 410h1M16 410h1M27 410h1M36 410h1M38 410h2M56 410h1M16 411h1M23 411h1M26 411h1M31 411h3M35 411h1M40 411h1M4 412h1M29 412h1M56 412h1M4 413h1M9 413h2M34 413h1M49 413h1M56 413h1M4 414h1M6 414h1M8 414h1M14 414h1M23 414h1M25 414h1M0 415h2M5 415h1M8 415h1M14 415h1M20 415h1M22 415h1M33 415h1M35 415h1M40 415h1M47 415h1M49 415h1M53 415h2M14 416h1M20 416h1M26 416h1M29 416h1M34 416h1M51 416h2M56 416h1M7 417h1M24 417h1M29 417h1M36 417h1M52 417h1M0 418h1M5 418h1M11 418h1M15 418h2M19 418h2M24 418h1M32 418h1M38 418h1M42 418h1M8 419h1M15 419h2M18 419h2M30 419h1M37 419h1M39 419h1M2 420h1M6 420h1M9 420h1M11 420h1M31 420h1M41 420h1M43 420h1M51 420h3M30 421h1M36 421h1M0 422h1M8 422h1M23 422h1M41 422h1M51 422h2M3 423h1M10 423h1M18 423h2M25 423h1M32 423h1M40 423h1M43 423h1M45 423h1M49 423h1M52 423h1M4 424h1M9 424h1M19 424h1M21 424h1M33 424h2M36 424h1M48 424h1M54 424h1M0 425h1M3 425h2M8 425h1M14 425h1M18 425h1M29 425h3M36 425h1M40 425h2M45 425h1M52 425h1M24 426h1M27 426h1M54 426h1M4 427h1M9 427h1M23 427h1M28 427h1M31 427h1M37 427h1M47 427h1M1 428h1M3 428h1M5 428h1M11 428h1M15 428h1M20 428h1M25 428h1M33 428h1M39 428h1M48 428h1M53 428h1M5 429h1M17 429h1M27 429h1M29 429h1M31 429h1M41 429h1M43 429h1M45 429h3M56 429h1M0 430h1M6 430h1M9 430h1M11 430h1M20 430h1M22 430h1M25 430h1M35 430h1M39 430h1M49 430h1M6 431h1M9 431h1M25 431h1M31 431h1M39 431h1M43 431h1M49 431h1M3 432h1M5 432h1M17 432h2M30 432h1M47 432h1M52 432h1M54 432h1M7 433h1M10 433h1M13 433h1M16 433h1M24 433h1M30 433h1M32 433h1M42 433h1M48 433h1M28 434h1M39 434h1M2 435h1M12 435h1M24 435h2M37 435h1M41 435h1M45 435h1M55 435h1M8 436h1M11 436h1M34 436h1M41 436h1M43 436h1M52 436h1M9 437h1M20 437h1M0 438h1M6 438h1M12 438h1M14 438h1M30 438h1M34 438h1M36 438h1M38 438h1M54 438h1M2 439h1M9 439h1M14 439h1M16 439h1M24 439h1M30 439h2M45 439h1M52 439h1M55 439h1"/>
<path stroke="#0039ff" d="M25 3h1M15 5h1M44 5h1M8 7h1M7 8h2M26 8h1M29 8h1M5 9h1M31 9h1M35 9h1M44 9h1M23 10h1M27 11h1M35 11h1M25 12h2M48 12h1M24 13h1M42 14h1M18 15h1M27 15h1M34 15h1M40 15h1M45 15h1M7 16h2M11 17h1M50 17h1M55 17h1M16 19h1M27 19h1M48 19h1M15 20h1M38 20h1M22 21h1M28 21h1M54 21h1M20 22h1M6 23h1M8 23h1M14 23h1M27 23h1M44 23h1M55 23h1M19 25h1M11 26h1M24 26h1M51 26h1M8 27h1M36 27h1M48 27h1M7 28h1M40 28h1M47 28h1M29 29h1M4 30h1M13 30h1M8 31h1M10 31h1M0 32h1M8 32h1M12 32h1M16 33h1M21 33h1M38 33h1M14 34h1M18 34h1M21 34h1M24 34h1M27 34h1M19 35h1M45 35h1M48 35h1M9 36h1M18 36h1M53 36h1M23 38h1M37 38h1M40 38h1M43 38h1M24 39h1M44 39h1M25 40h1M0 41h2M3 41h1M6 41h1M17 41h1M37 41h1M10 42h1M20 42h1M25 42h1M32 42h1M21 43h1M29 43h1M33 43h1M7 44h1M13 44h2M16 44h1M35 44h1M7 45h1M9 45h1M23 45h1M48 45h1M13 46h1M20 46h1M42 46h1M50 46h1M8 47h1M11 47h2M23 47h2M38 47h1M40 47h1M10 48h1M15 48h1M44 48h1M47 48h1M2 49h1M5 49h1M30 49h1M36 49h1M47 49h1M51 49h1M17 50h1M34 50h1M36 50h1M54 50h1M7 51h1M37 51h2M47 51h1M4 52h1M6 52h1M53 52h1M56 52h1M6 53h1M24 53h1M26 53h1M43 53h1M52 53h1M4 54h1M26 54h1M51 54h1M54 54h1M4 55h1M33 55h1M36 55h2M48 55h1M52 55h2M11 56h1M26 56h1M29 56h1M42 56h2M48 56h1M51 56h1M56 56h1M16 57h1M27 57h1M39 57h1M7 58h1M23 58h1M26 58h1M51 58h1M2 59h1M6 59h1M9 59h1M28 59h1M15 60h1M27 60h1M36 60h1M42 60h1M55 60h1M22 61h1M31 61h1M35 61h1M41 61h1M17 62h1M20 62h1M37 62h1M39 62h1M49 62h1M5 63h1M9 63h1M13 63h1M18 63h2M21 63h1M28 63h1M41 63h1M49 63h1M41 64h1M8 65h1M10 65h1M25 65h1M42 65h1M49 65h1M2 66h1M5 66h1M25 66h1M38 66h1M49 66h1M2 67h1M11 67h1M38 67h1M44 67h1M47 67h1M3 68h2M11 68h1M17 68h1M50 68h1M16 69h1M21 69h1M25 69h1M31 69h1M4 70h1M6 70h1M12 70h1M16 70h1M27 70h1M31 70h1M38 70h1M51 70h1M3 71h1M6 71h1M8 71h1M15 71h1M31 71h2M34 71h1M43 71h1M47 71h1M5 72h1M30 72h1M33 72h1M40 72h1M45 72h1M3 73h2M6 73h1M10 73h1M16 73h1M20 73h1M32 73h1M45 73h2M56 73h1M7 74h1M15 74h2M21 74h1M45 74h1M9 75h1M15 75h1M21 75h1M29 75h1M41 75h1M47 75h1M54 75h1M14 76h1M21 76h1M35 76h1M39 76h1M48 76h1M3 77h1M5 77h1M18 77h1M33 77h1M18 78h1M20 78h1M36 78h1M46 78h1M48 78h1M7 79h1M16 79h1M25 79h1M27 79h1M43 79h3M51 79h1M1 80h1M15 80h1M19 80h1M26 80h1M32 80h1M37 80h1M41 80h1M48 80h2M51 80h1M1 81h1M4 81h1M26 81h2M44 81h1M26 82h1M34 82h1M39 82h2M19 83h2M27 83h2M35 83h1M41 83h1M22 84h1M35 84h1M38 84h2M54 84h1M4 85h1M19 85h1M41 85h1M52 85h1M15 86h1M25 86h1M27 86h2M34 86h1M43 86h1M54 86h1M6 87h1M17 87h2M34 87h2M37 87h1M50 87h1M56 87h1M5 88h1M13 88h1M27 88h1M32 88h1M35 88h1M41 88h1M47 88h1M52 88h1M1 90h1M18 90h1M25 90h1M13 91h1M28 91h1M31 91h3M39 91h2M42 91h1M51 91h1M3 92h1M8 92h1M10 92h1M12 92h2M22 92h1M42 92h1M44 92h2M52 92h1M54 92h1M38 93h1M51 93h1M5 94h1M25 94h1M29 94h1M33 94h1M36 94h1M38 94h1M45 94h1M48 94h1M2 96h1M4 96h1M6 96h1M14 96h1M20 96h1M27 96h1M40 96h1M1 97h1M9 97h1M12 97h1M23 97h1M27 97h1M39 97h1M54 97h1M4 98h1M19 98h1M27 98h1M40 98h1M49 98h1M55 98h1M18 99h1M21 99h1M39 99h1M44 99h1M6 100h1M26 100h1M29 100h1M38 100h1M48 100h2M52 100h1M19 101h1M23 101h1M34 101h1M47 101h1M52 101h1M1 102h1M3 102h1M17 102h1M31 102h2M15 103h3M27 103h1M47 103h1M1 104h2M24 104h1M54 104h3M36 105h1M38 105h1M43 105h1M45 105h1M22 106h1M28 106h2M50 106h1M42 107h1M48 107h1M54 107h1M7 108h1M11 108h1M23 108h1M39 108h1M41 108h1M43 108h1M6 110h1M17 110h1M27 110h1M54 110h1M56 110h1M1 111h1M37 111h2M43 111h1M53 112h1M0 113h1M11 113h1M33 113h1M43 113h1M45 113h1M27 114h1M37 114h1M46 114h1M55 114h1M1 115h1M8 115h2M29 115h1M32 115h1M36 115h1M38 115h1M56 115h1M4 116h1M13 116h3M18 116h1M32 116h1M37 116h2M43 116h1M54 116h1M14 117h1M20 117h1M35 117h1M7 118h1M17 118h1M50 118h1M3 119h1M8 119h2M41 119h1M48 119h1M50 119h1M14 120h1M25 120h1M36 120h1M38 120h1M47 120h2M2 121h1M4 121h1M40 121h1M8 122h1M28 122h1M34 122h1M36 122h1M44 122h3M49 122h1M49 123h1M1 124h1M15 124h1M17 124h1M31 124h1M47 124h1M0 125h1M13 125h1M31 125h1M38 125h1M46 125h1M51 125h1M3 126h1M7 126h1M11 126h1M13 126h1M28 126h1M30 126h1M46 126h1M7 127h1M18 127h1M28 127h1M36 127h1M38 127h1M42 127h1M46 127h1M2 128h1M45 128h1M0 129h1M13 129h1M37 129h1M53 129h1M56 129h1M6 130h1M9 130h1M12 130h1M24 130h1M31 130h1M34 130h1M44 130h1M53 130h1M10 131h1M28 131h1M33 131h1M44 131h1M56 131h1M5 132h1M9 132h1M19 132h1M25 132h1M39 132h1M42 132h1M2 133h1M5 133h1M15 133h1M29 133h1M47 133h1M50 133h1M48 134h1M53 134h1M9 135h1M11 135h1M23 135h1M45 135h1M50 135h1M53 135h1M5 136h1M16 136h1M32 136h1M53 136h1M2 137h1M15 137h1M20 137h1M22 137h1M29 137h1M44 137h1M47 137h1M10 138h1M22 138h1M43 138h1M46 138h1M28 139h3M34 139h1M4 140h2M52 140h2M2 141h1M31 141h1M56 141h1M5 142h1M8 142h1M29 142h1M49 142h1M9 143h1M14 143h1M22 143h1M30 143h1M34 143h1M36 143h1M53 143h1M3 144h1M34 144h1M49 144h2M55 144h1M11 145h1M19 145h1M26 145h1M38 145h1M43 145h1M52 145h1M0 146h1M12 146h2M33 146h1M42 146h1M49 146h1M52 146h1M31 147h1M34 147h1M38 147h2M52 147h1M15 148h1M34 148h1M38 148h1M48 148h1M4 149h1M13 149h2M16 149h1M37 149h1M40 149h1M42 149h1M3 150h1M6 150h1M12 150h1M15 150h1M27 150h1M35 150h1M45 150h1M7 151h1M10 151h1M18 151h2M25 151h1M30 151h1M36 151h1M39 151h1M13 152h1M25 152h1M28 152h1M35 152h1M0 153h1M12 153h1M17 153h1M21 153h1M47 153h1M54 153h1M12 154h1M29 154h1M33 154h1M42 154h1M46 154h1M13 155h1M31 155h1M34 155h1M37 155h2M40 155h1M53 155h1M2 156h1M11 156h1M15 156h1M20 156h1M48 156h1M0 157h1M4 157h2M16 157h2M24 157h1M29 157h1M42 157h1M45 157h1M2 158h1M8 158h1M15 158h1M39 158h2M45 158h1M50 158h2M54 158h1M15 159h1M21 159h2M31 159h1M51 159h1M56 159h1M5 160h1M12 160h1M15 160h1M17 160h1M21 160h1M28 160h1M43 160h1M46 160h1M49 160h1M55 160h1M0 161h1M6 161h1M15 161h1M28 161h1M42 161h1M48 161h1M53 161h1M3 162h1M20 162h1M29 162h1M34 162h1M16 163h1M34 163h1M37 163h1M12 164h2M26 164h1M35 164h1M47 164h1M54 164h1M8 165h1M14 165h1M41 165h1M47 165h1M49 165h1M54 165h1M3 166h1M6 166h1M38 166h1M41 166h1M16 167h1M22 167h1M31 167h1M39 167h1M48 167h1M32 168h1M35 168h1M49 168h1M52 168h1M54 168h2M8 169h1M13 169h1M18 169h1M20 169h1M22 169h2M34 169h1M50 169h1M11 170h1M22 170h1M26 170h1M40 170h1M3 171h1M7 171h1M22 171h1M32 171h1M51 171h1M2 172h1M6 172h1M11 172h1M35 172h1M39 172h1M46 172h1M54 172h1M8 173h1M11 173h1M24 173h1M29 173h1M35 173h1M40 173h1M45 173h1M49 173h1M0 174h1M13 174h1M34 174h1M38 174h1M48 174h1M0 175h1M5 175h1M15 175h1M17 175h1M25 175h1M44 175h1M46 175h1M55 175h1M3 176h1M14 176h1M17 176h1M33 176h1M46 176h1M50 176h1M4 177h1M11 177h1M14 177h1M23 177h1M26 177h1M41 177h1M47 177h1M10 178h2M14 178h1M20 178h1M41 178h1M46 178h2M0 179h2M3 179h1M11 179h2M26 179h1M6 180h3M16 180h2M28 180h1M30 180h1M35 180h1M44 180h1M49 180h1M11 181h1M13 181h1M21 181h1M30 181h1M56 181h1M2 182h1M12 182h1M30 182h1M42 182h1M46 182h1M50 182h1M55 182h1M3 183h2M15 183h1M33 183h1M2 184h1M7 184h1M13 184h1M20 184h1M22 184h1M27 184h1M50 184h1M5 185h1M18 185h1M34 185h1M39 185h1M4 186h1M9 186h2M23 186h1M38 186h1M40 186h1M54 186h1M9 187h1M16 187h1M31 187h1M44 187h1M53 187h2M4 188h1M9 188h2M18 188h1M31 188h1M14 189h1M20 189h1M25 189h1M32 189h1M35 189h1M44 189h1M53 189h1M13 190h1M23 190h1M43 190h1M1 191h1M7 191h1M19 191h2M45 191h1M54 191h2M34 192h1M39 192h1M7 193h1M12 193h1M21 193h1M23 193h1M30 193h1M39 193h1M43 193h1M48 193h1M1 194h1M25 194h1M36 194h2M51 194h1M10 195h1M19 195h1M37 195h1M41 195h1M52 195h1M56 195h1M17 196h1M30 196h1M35 196h1M49 196h1M52 196h1M23 197h1M41 197h1M48 197h1M1 198h1M9 198h2M13 198h1M24 198h1M28 198h1M40 198h1M43 198h1M56 198h1M1 199h1M5 199h1M12 199h1M16 199h1M23 199h1M42 199h1M12 200h1M23 200h1M25 200h2M28 200h1M32 200h1M37 200h1M43 200h1M46 200h1M11 201h1M16 201h1M19 201h1M29 201h1M33 201h1M45 201h1M51 201h1M0 202h2M4 202h1M12 202h1M15 202h1M17 202h1M37 202h1M39 202h1M48 202h1M54 202h1M5 203h1M7 203h1M11 203h1M13 203h1M18 203h1M25 203h1M31 203h1M42 203h1M8 204h1M15 204h2M24 204h1M33 204h1M37 204h1M52 204h1M55 204h1M1 205h1M34 205h1M39 205h1M51 205h1M2 206h1M8 206h1M34 206h1M36 206h1M52 206h1M54 206h1M5 207h1M17 207h3M23 207h2M27 207h1M32 207h1M0 208h2M16 208h1M21 208h1M27 208h1M34 208h2M48 208h1M54 208h1M0 209h1M16 209h3M21 209h1M23 209h1M27 209h1M29 209h1M33 209h1M43 209h2M52 209h1M32 210h1M36 210h1M41 210h1M48 210h1M28 211h1M38 211h2M44 211h2M0 212h1M29 212h1M32 212h1M52 212h2M24 213h1M26 213h1M28 213h1M45 213h1M50 213h1M0 214h1M7 214h1M32 214h1M44 214h3M48 214h1M53 214h1M1 215h1M20 215h2M26 215h1M42 215h1M52 215h1M54 215h1M27 216h1M38 216h2M42 216h3M18 217h1M33 217h1M42 217h1M11 218h1M16 218h1M18 218h1M20 218h1M33 218h1M37 218h1M40 218h2M45 218h1M53 218h1M20 219h1M22 219h1M53 219h1M3 220h1M12 220h1M33 220h1M35 220h1M52 220h1M55 220h1M9 221h2M13 221h1M33 221h1M45 221h1M52 221h1M55 221h1M0 222h1M8 222h1M11 222h1M21 222h2M25 222h1M29 222h1M33 222h1M47 222h1M52 222h1M15 223h2M26 223h1M28 223h1M30 223h1M46 223h1M53 223h1M3 224h1M28 224h1M3 225h2M13 225h1M24 225h1M32 225h1M40 225h1M48 225h1M1 227h1M9 227h1M55 227h1M0 228h1M14 228h1M46 228h1M49 228h1M51 228h1M55 228h1M3 229h1M19 229h1M22 229h2M25 229h1M31 229h2M29 230h1M35 230h1M46 230h1M52 230h1M0 231h1M19 231h1M25 231h2M29 231h1M32 231h1M41 231h1M48 231h1M55 231h1M13 232h1M15 232h1M24 232h1M26 232h1M36 232h1M45 232h1M13 233h1M16 233h1M26 233h1M28 233h1M30 233h1M17 234h1M31 234h1M35 234h1M44 234h1M47 234h1M50 234h1M54 234h1M3 235h1M17 235h1M39 235h1M41 235h2M48 235h1M50 235h1M55 235h1M14 236h1M17 236h1M20 236h1M33 236h2M41 236h2M50 236h1M11 237h1M15 237h1M20 237h1M25 237h1M40 237h1M43 237h1M50 237h1M9 238h1M14 238h1M21 238h1M53 238h1M0 239h1M11 239h1M13 239h1M29 239h1M44 239h1M56 239h1M11 240h1M16 240h2M44 240h1M46 240h1M20 241h1M40 241h1M56 241h1M1 242h1M15 242h1M30 242h1M39 242h1M42 242h1M52 242h1M2 243h1M21 243h1M23 243h1M28 243h1M30 243h1M41 243h1M54 243h1M1 244h1M3 244h1M10 244h1M29 244h1M44 244h1M25 245h1M54 245h1M56 245h1M2 246h1M9 246h1M15 246h1M17 246h1M24 246h1M38 246h1M40 246h2M14 247h1M20 247h1M27 247h2M35 247h1M12 248h1M18 248h1M35 248h2M39 248h1M44 248h1M9 249h1M29 249h2M40 249h1M45 249h1M48 249h2M11 250h1M18 250h1M20 250h1M27 250h1M1 251h1M3 251h1M8 251h1M10 251h1M15 251h1M17 251h3M27 251h1M44 251h1M49 251h1M52 251h1M11 252h1M18 252h1M23 252h1M1 253h1M18 253h2M28 253h1M32 253h1M42 253h1M49 253h1M52 253h1M5 254h1M9 254h1M28 254h2M50 254h1M53 254h1M0 255h1M12 255h2M17 255h1M19 255h1M42 255h1M47 255h2M55 255h1M0 256h1M15 256h1M21 256h1M31 256h1M34 256h1M37 256h1M3 257h1M11 257h1M40 257h1M12 258h1M19 258h3M24 258h1M29 258h1M48 258h1M56 258h1M2 259h1M4 259h1M6 259h1M18 259h1M23 259h1M27 259h1M31 259h2M36 259h1M41 259h1M44 259h1M4 260h1M23 260h1M30 260h1M39 260h1M45 260h1M51 260h1M1 261h1M24 261h2M2 262h1M6 262h1M24 262h1M28 262h1M38 262h1M41 262h1M45 262h2M10 263h1M19 263h2M23 263h1M25 263h1M32 263h1M41 263h1M56 263h1M11 264h2M24 264h1M52 264h1M55 264h1M4 265h1M7 265h1M19 265h1M25 265h1M27 265h1M41 265h1M47 265h1M0 266h1M14 266h2M21 266h1M24 266h1M42 266h1M45 266h2M27 267h2M22 268h1M36 268h1M40 268h1M47 268h1M53 268h1M56 268h1M0 269h1M5 269h1M13 269h1M17 270h1M22 270h2M26 270h1M44 270h1M46 270h1M12 271h1M16 271h1M18 271h2M23 271h1M34 271h2M42 271h1M14 272h2M25 272h1M31 272h1M33 272h1M36 272h1M49 272h2M1 273h1M15 273h1M20 273h2M26 273h1M34 273h1M48 273h1M55 273h1M21 274h1M36 274h1M12 275h1M19 275h1M37 275h1M42 275h1M56 275h1M5 276h1M27 276h1M31 276h1M37 276h1M43 276h1M12 277h1M25 277h1M27 277h2M30 277h1M32 277h1M34 277h1M38 277h1M2 278h1M5 278h1M20 278h1M24 278h1M14 279h1M29 279h1M39 279h1M43 279h2M51 279h1M55 279h1M1 280h1M10 280h1M20 280h1M23 280h1M26 280h1M33 280h2M46 280h1M9 281h1M11 281h1M13 281h1M26 281h2M29 281h1M35 281h1M40 281h1M48 281h1M5 282h1M10 282h3M21 282h1M28 282h1M36 282h2M55 282h1M0 283h1M5 283h1M35 283h1M48 283h1M54 283h1M3 284h1M6 284h1M14 284h1M37 284h2M43 284h1M45 284h1M2 285h1M5 285h1M51 285h2M55 285h1M10 286h1M28 286h1M39 286h1M49 286h1M0 287h1M6 287h1M17 287h1M31 287h2M40 287h2M43 287h1M48 287h1M2 288h1M15 288h1M19 288h1M25 288h1M27 288h1M30 288h1M9 289h1M17 289h1M20 289h1M45 289h1M5 290h1M11 290h1M20 290h2M28 290h1M45 291h1M1 292h1M8 292h1M13 292h1M17 292h1M19 292h1M26 292h1M38 292h1M47 292h1M49 292h1M55 292h1M9 293h1M20 293h2M27 293h1M34 293h1M38 293h1M41 293h1M47 293h3M52 293h1M12 294h1M22 294h1M34 294h1M41 294h1M52 294h1M0 295h1M42 295h1M46 295h2M56 295h1M6 296h1M28 296h2M33 296h1M52 296h1M4 297h2M18 297h1M21 297h4M47 297h2M8 298h1M13 298h1M19 298h1M25 298h1M31 298h1M36 298h1M38 298h1M40 298h1M47 298h2M1 299h1M25 299h2M35 299h1M38 299h1M9 300h2M22 300h1M25 300h1M8 301h1M11 301h1M13 301h1M15 301h1M36 301h1M41 301h1M49 301h1M55 301h1M7 302h1M9 302h1M32 302h1M38 302h1M49 302h1M0 303h1M3 303h2M9 303h2M12 303h1M33 303h1M43 303h2M52 303h1M2 304h1M4 304h1M7 304h1M9 304h1M13 304h1M23 304h1M3 305h2M47 305h1M24 306h1M26 306h1M33 306h1M43 306h1M45 306h1M49 306h2M6 307h3M15 307h2M23 307h1M40 307h1M43 307h1M48 307h1M50 307h1M56 307h1M41 308h1M43 308h1M46 308h1M48 308h3M55 308h1M7 309h1M19 309h1M36 309h1M53 309h1M9 310h1M35 310h2M39 310h1M54 310h1M9 311h2M13 311h1M18 311h1M27 311h1M31 311h1M37 311h1M39 311h1M48 311h1M14 312h1M16 312h1M23 312h1M29 312h3M36 312h1M41 312h1M47 312h1M52 312h1M14 313h2M29 313h1M35 313h1M48 313h1M51 313h1M0 314h1M5 314h1M31 314h2M35 314h2M52 314h1M10 315h1M12 315h2M21 315h1M35 315h1M55 315h1M2 316h1M4 316h1M6 316h1M20 316h2M24 316h1M37 316h1M46 316h1M1 317h1M36 317h1M43 317h1M45 317h1M10 318h1M45 318h1M6 319h1M15 319h1M24 319h1M28 319h1M0 320h2M6 320h1M42 320h1M2 321h1M13 321h1M25 321h1M33 321h1M46 321h1M48 321h1M55 321h1M0 322h2M19 322h1M28 322h1M35 322h1M46 322h1M2 323h1M8 323h1M11 323h2M14 323h1M20 323h1M22 323h2M32 323h1M34 323h1M44 323h1M47 323h2M51 323h1M56 323h1M3 324h1M41 324h1M5 325h1M21 325h1M40 325h1M50 325h1M54 325h1M56 325h1M3 326h1M12 326h1M21 326h1M45 326h1M48 326h1M51 326h1M53 326h1M3 327h1M6 327h1M13 327h1M35 327h1M39 327h1M1 328h1M3 328h1M5 328h1M11 328h2M14 328h1M20 328h1M35 328h1M55 328h1M6 329h1M19 329h2M30 329h2M36 329h2M46 329h1M49 329h1M51 329h1M56 329h1M9 330h1M29 330h1M48 330h1M6 331h1M11 331h1M14 331h2M21 331h1M29 331h1M33 331h1M42 331h1M48 331h1M5 332h2M8 332h1M38 332h1M46 332h1M0 333h1M3 333h1M7 333h1M20 333h1M29 333h1M33 333h1M36 333h2M40 333h1M48 333h1M56 333h1M13 334h1M16 334h1M20 334h1M31 334h1M23 335h1M35 335h1M39 335h1M43 335h1M45 335h1M50 335h1M53 335h1M15 336h1M17 336h1M23 336h1M50 336h1M52 336h1M54 336h1M2 337h1M5 337h1M8 337h1M15 337h1M18 337h1M27 337h1M31 337h1M53 337h2M6 338h2M26 338h1M42 338h1M49 338h1M3 339h1M6 339h1M25 339h2M28 339h1M37 339h1M47 339h1M52 339h2M55 339h1M4 340h1M9 340h1M16 340h1M43 340h1M6 341h1M17 341h1M31 341h1M35 341h1M46 341h1M11 342h1M17 342h1M20 342h1M25 342h1M38 342h1M0 343h1M5 343h2M12 343h1M14 343h1M18 343h1M25 343h1M34 343h1M38 343h1M43 343h2M46 343h3M56 343h1M9 344h2M35 344h1M37 344h1M39 344h1M42 344h1M46 344h1M2 345h1M17 345h1M26 345h1M28 345h1M32 345h1M50 345h1M5 346h1M20 346h2M33 346h1M1 347h1M9 347h1M28 347h1M53 347h2M0 348h1M5 348h1M12 348h1M16 348h1M23 348h1M25 348h1M33 348h1M51 348h1M20 349h1M24 349h1M28 349h1M36 349h1M47 349h1M52 349h1M6 350h1M8 350h1M12 350h2M15 350h1M22 350h1M24 350h1M30 350h1M32 350h1M36 350h1M50 350h1M55 350h1M3 351h1M19 351h1M28 351h1M48 351h1M5 352h1M13 352h2M19 352h1M22 352h1M46 352h1M48 352h1M18 353h1M24 353h1M38 353h1M40 353h1M10 354h1M55 354h1M7 355h1M13 355h1M18 355h1M25 355h1M34 355h1M37 355h1M1 356h1M7 356h1M14 356h1M16 356h1M19 356h1M30 356h1M35 356h1M48 356h1M53 356h1M56 356h1M2 357h1M7 357h1M13 357h1M19 357h1M24 357h1M52 357h1M54 357h1M3 358h1M6 358h1M20 358h1M37 358h1M45 358h1M1 359h1M5 359h1M45 359h1M52 359h2M2 360h1M36 360h1M42 360h1M45 360h1M54 360h1M56 360h1M16 361h1M20 361h1M22 361h1M29 361h1M37 361h1M43 361h2M49 361h1M55 361h1M3 362h1M5 362h1M8 362h3M28 362h1M33 362h2M39 362h1M43 362h1M6 363h1M32 363h2M39 363h1M3 364h2M19 364h2M25 364h1M47 364h1M56 364h1M16 365h1M20 365h3M34 365h1M53 365h1M55 365h1M2 366h1M17 366h1M33 366h1M39 366h2M0 367h1M3 367h1M5 367h1M17 367h1M20 367h1M28 367h1M38 367h1M44 367h1M46 367h1M54 367h1M56 367h1M14 368h1M23 368h1M25 368h1M41 368h1M12 369h1M20 369h1M27 369h1M46 369h1M52 369h1M5 370h2M12 370h1M15 370h1M24 370h1M13 371h1M15 371h2M54 371h1M9 372h1M13 372h1M28 372h1M36 372h1M43 372h1M1 373h1M10 373h1M12 373h1M16 373h1M23 373h1M48 373h1M0 374h1M35 374h1M56 374h1M7 375h1M12 375h2M18 375h2M28 375h1M30 375h1M55 375h1M8 376h1M12 376h1M16 376h1M23 376h1M30 376h1M36 376h1M49 376h1M55 376h1M18 377h2M22 377h1M56 377h1M0 378h1M19 378h1M47 378h1M55 378h2M1 379h1M11 379h1M27 379h2M53 379h1M1 380h2M7 380h1M9 380h1M22 380h1M10 381h1M22 381h1M29 381h1M42 381h1M51 381h1M0 382h2M14 382h1M40 382h1M44 382h1M3 383h1M5 383h1M27 383h1M8 384h1M14 384h1M17 384h1M22 384h1M35 384h1M40 384h2M43 384h1M48 384h1M53 384h1M3 385h1M8 385h1M16 385h1M30 385h1M32 385h1M36 385h1M56 385h1M4 386h1M14 386h1M23 386h1M25 386h1M37 386h2M52 386h2M7 387h1M9 387h1M13 387h1M19 387h1M22 387h1M26 387h1M32 387h1M45 387h1M55 387h2M2 388h1M10 388h1M12 388h1M17 388h1M30 388h1M47 388h1M54 388h2M0 389h1M6 389h1M10 389h1M14 389h1M16 389h1M18 389h1M43 389h2M1 390h1M8 390h1M12 390h1M22 390h1M29 390h1M40 390h1M56 390h1M5 391h1M10 391h1M30 391h1M32 391h1M39 391h1M7 392h1M10 392h1M15 392h1M26 392h1M29 392h1M35 392h1M52 392h1M55 392h1M8 393h2M13 393h2M18 393h1M26 393h1M0 394h2M6 394h1M11 394h1M16 394h1M28 394h1M30 394h1M51 394h2M5 395h1M13 395h1M38 395h1M44 395h1M23 396h1M28 396h1M31 396h3M42 396h1M54 396h1M8 397h1M16 397h1M28 397h1M30 397h2M49 397h1M19 398h1M47 398h1M6 399h1M15 399h1M5 400h1M11 400h1M14 400h1M29 400h2M20 401h1M7 402h1M11 402h1M23 402h2M35 402h1M37 402h1M51 402h1M55 402h1M10 403h1M19 403h1M25 403h1M29 403h1M31 403h1M52 403h1M0 404h1M4 404h1M19 404h1M31 404h1M45 404h1M50 404h1M4 405h1M11 405h2M22 405h1M31 405h1M55 405h1M6 406h1M12 406h1M23 406h2M30 406h1M32 406h1M4 407h1M11 407h1M24 407h1M26 407h1M41 407h1M45 407h1M31 408h2M56 408h1M3 409h1M16 409h1M19 409h1M22 409h1M4 410h2M18 410h1M37 410h1M46 410h1M50 410h1M52 410h1M3 411h1M46 411h1M48 411h2M1 412h1M5 412h1M8 412h2M27 412h1M35 412h1M54 412h1M5 413h1M19 413h1M30 413h2M2 414h1M5 414h1M12 414h1M18 414h1M26 414h1M32 414h1M42 414h1M53 414h1M3 415h1M9 415h1M11 415h1M26 415h1M36 415h1M1 416h1M13 416h1M24 416h1M27 416h2M46 416h1M12 417h1M30 417h1M45 417h1M47 417h1M49 417h1M56 417h1M7 418h2M21 418h1M27 418h1M41 418h1M9 419h1M23 419h4M32 419h1M35 419h1M38 419h1M41 419h1M43 419h1M48 419h1M33 420h1M42 420h1M47 420h3M14 421h1M34 421h1M41 421h1M52 421h1M31 422h1M49 422h1M1 423h2M9 423h1M15 423h1M29 423h1M34 423h1M37 423h1M51 423h1M10 424h3M22 424h1M35 424h1M1 425h1M7 425h1M13 425h1M37 425h1M43 425h2M9 426h1M33 426h1M41 426h1M43 426h2M46 426h1M5 427h2M10 427h1M17 427h1M46 427h1M51 427h1M53 427h1M23 428h1M28 428h1M0 429h2M9 429h1M12 429h1M22 429h1M26 429h1M35 429h2M42 429h1M52 429h1M1 430h3M5 430h1M23 430h1M30 430h1M33 430h1M37 430h1M43 430h1M48 430h1M51 430h1M0 431h2M10 431h1M14 431h1M24 431h1M29 431h1M44 431h1M10 432h3M24 432h1M39 432h1M41 432h1M43 432h1M51 432h1M53 432h1M33 433h2M0 434h1M4 434h2M10 434h1M12 434h2M45 434h1M0 435h1M3 435h1M6 435h1M22 435h2M48 435h1M50 435h1M0 436h1M15 436h1M42 436h1M49 436h1M51 436h1M36 437h2M50 437h3M54 437h1M9 438h2M16 438h1M25 438h1M42 438h2M47 438h1M51 438h2M20 439h1M34 439h1M37 439h1"/>
<path stroke="#0055ff" d="M9 2h1M7 6h1M22 6h1M10 7h1M27 7h1M32 7h1M28 8h1M50 8h1M16 9h1M46 9h1M25 10h1M28 10h1M35 10h1M8 11h1M34 11h1M36 11h1M44 12h1M10 13h1M17 13h1M50 13h1M4 14h1M13 14h2M17 14h1M14 15h1M30 15h2M44 15h1M10 16h1M51 16h1M1 17h1M10 17h1M23 17h1M37 17h1M54 17h1M23 18h1M37 18h1M23 20h2M29 20h1M39 20h1M2 21h1M27 21h1M9 22h1M29 22h1M32 22h1M2 23h1M24 23h1M52 23h1M11 24h1M23 24h1M27 24h1M33 24h1M39 24h2M42 24h1M55 24h1M29 25h1M38 25h1M8 26h1M14 26h1M40 26h1M25 27h2M47 27h1M28 28h1M31 28h1M25 29h1M33 29h1M40 29h1M54 29h1M5 30h1M27 31h1M55 31h1M7 32h1M9 32h1M18 33h1M11 34h1M19 34h1M22 34h2M47 34h1M49 34h1M17 35h1M32 35h1M39 35h1M50 35h1M47 36h1M10 37h2M18 37h1M26 37h1M37 37h1M44 37h1M47 37h1M26 38h1M44 38h1M9 39h1M25 39h2M26 40h1M43 40h1M11 41h1M18 41h1M39 41h1M36 42h1M56 42h1M3 43h1M7 43h1M9 43h1M14 43h1M18 43h1M26 43h1M44 43h1M12 44h1M18 44h1M24 44h1M16 45h1M34 45h1M38 45h1M1 46h1M24 46h1M47 46h1M54 46h1M17 47h1M36 47h1M49 47h1M3 48h1M11 48h1M23 48h1M30 48h2M45 48h2M49 48h1M3 49h1M8 49h1M22 49h1M32 49h1M34 49h1M44 49h1M21 50h1M2 51h1M6 51h1M8 51h2M48 51h1M54 51h1M27 52h2M33 52h1M48 52h1M55 52h1M33 53h1M42 53h1M51 53h1M2 54h1M13 54h1M20 54h1M24 54h1M29 54h1M33 54h1M50 54h1M0 55h2M3 55h1M9 55h1M54 55h2M6 56h2M20 56h1M24 56h2M30 56h1M37 56h1M6 57h1M23 57h1M31 57h2M43 57h1M53 57h1M4 58h1M11 58h1M37 58h1M45 58h2M53 58h1M5 59h1M26 59h1M49 59h1M55 59h1M18 60h1M24 60h1M2 61h1M15 61h1M18 61h1M36 61h1M45 61h1M50 61h1M7 62h1M15 62h1M21 62h1M36 62h1M38 62h1M48 62h1M35 63h1M44 63h1M56 63h1M0 64h1M20 64h1M36 64h1M26 65h1M46 65h2M8 66h1M11 66h1M15 66h1M20 66h1M32 66h1M43 66h1M47 66h2M0 67h1M3 67h2M6 67h1M9 67h1M37 67h1M40 67h1M54 67h1M56 67h1M21 68h1M25 68h1M36 68h1M48 68h1M10 69h2M18 69h2M23 69h1M30 69h1M43 69h1M56 69h1M0 70h1M9 70h1M19 70h1M28 70h1M33 70h1M52 70h1M0 71h1M14 71h1M18 71h1M30 71h1M35 71h1M44 71h2M50 71h1M2 72h1M4 72h1M13 72h1M21 72h1M29 72h1M34 72h1M46 72h1M19 73h1M21 73h1M30 73h1M40 73h1M42 73h1M44 73h1M1 74h1M4 74h1M9 74h1M29 74h1M33 74h1M43 74h1M47 74h2M13 75h1M32 75h1M46 75h1M52 75h1M0 76h1M8 76h1M10 76h2M27 76h1M47 76h1M52 76h1M55 76h1M20 77h1M27 77h1M48 77h1M55 77h1M7 78h1M10 78h1M24 78h1M51 78h1M55 78h1M3 79h1M15 79h1M22 79h1M28 79h1M49 79h1M55 79h1M6 80h1M24 80h1M35 80h1M45 80h1M47 80h1M55 80h1M2 81h2M38 81h2M43 81h1M41 82h1M47 82h1M54 82h1M3 83h1M10 83h1M25 83h1M30 83h1M39 83h2M43 83h1M2 84h1M11 84h1M32 84h1M1 85h1M9 85h1M27 85h1M32 85h1M46 85h1M55 85h1M13 86h1M20 86h1M53 86h1M10 87h1M27 87h1M33 87h1M7 88h1M22 88h1M29 88h1M7 89h1M16 89h1M18 89h1M23 89h1M26 89h1M42 89h1M24 90h1M39 90h2M47 90h1M50 90h1M55 90h2M2 91h1M5 91h2M8 91h1M15 91h1M48 91h1M50 91h1M7 92h1M17 92h1M19 92h1M32 92h1M38 92h1M30 93h1M33 93h1M37 93h1M39 93h1M42 93h1M45 93h1M55 93h2M12 94h1M18 94h1M20 94h1M35 94h1M43 94h1M56 94h1M1 95h1M6 95h1M17 95h1M20 95h2M30 95h1M13 96h1M19 96h1M21 96h1M29 96h1M36 96h1M46 96h1M54 96h1M5 97h1M19 97h1M24 97h1M26 97h1M36 97h1M43 97h1M56 97h1M5 98h1M10 98h1M26 98h1M28 98h1M44 98h1M46 98h3M51 98h3M2 99h1M11 99h1M19 99h1M40 99h1M43 99h1M51 99h1M4 100h1M17 100h1M42 100h1M46 100h1M51 100h1M20 101h1M22 101h1M24 101h1M26 101h1M51 101h1M5 102h1M15 102h1M35 102h1M45 102h1M47 102h1M49 102h1M5 103h1M13 103h1M19 103h1M28 103h1M50 103h1M13 104h1M23 104h1M44 104h1M53 104h1M3 105h1M24 105h1M30 105h1M33 105h1M40 105h1M15 106h1M21 106h1M26 106h1M48 106h1M54 106h1M1 107h1M3 107h1M14 107h1M16 107h1M8 108h2M15 108h1M17 108h1M38 108h1M44 108h1M46 108h1M14 109h1M26 109h1M32 109h1M39 109h1M44 109h3M48 109h1M45 110h1M51 110h1M33 111h1M52 111h1M0 112h1M9 112h1M17 112h2M29 112h1M32 112h1M49 112h1M54 112h1M12 113h1M15 113h1M18 113h1M35 113h1M44 113h1M46 113h1M51 113h1M53 113h1M55 113h2M17 114h1M20 114h1M52 114h1M2 115h1M5 115h1M26 115h1M37 115h1M45 115h1M0 116h2M31 116h1M34 116h1M2 117h3M15 117h1M19 117h1M36 117h1M53 117h1M56 117h1M1 118h1M20 118h1M43 118h1M45 118h1M0 119h1M6 119h2M18 119h1M25 119h1M33 119h1M42 119h1M1 120h1M8 120h1M40 120h1M46 120h1M1 121h1M7 121h1M18 121h1M29 121h1M35 121h1M50 121h1M1 122h1M12 122h1M4 123h1M53 123h1M3 124h1M7 124h2M11 124h1M20 124h2M32 124h2M38 124h1M46 124h1M48 124h1M54 124h2M28 125h1M44 125h1M0 126h1M4 126h1M9 126h1M47 126h1M27 127h1M31 127h1M45 127h1M0 128h1M11 128h1M30 128h1M33 128h1M50 128h1M3 129h2M33 129h1M38 129h2M41 129h1M46 129h1M50 129h2M5 130h1M27 130h1M46 130h1M9 131h1M17 131h1M22 131h1M43 131h1M46 131h2M16 132h1M28 132h1M38 132h1M52 132h1M4 133h1M12 133h1M14 133h1M21 133h2M38 133h2M1 134h1M7 134h1M15 134h1M21 134h1M30 134h1M33 134h1M0 135h2M17 135h1M30 135h1M33 135h1M35 135h1M39 135h1M46 135h1M2 136h1M4 136h1M9 136h1M30 136h1M51 136h1M0 137h1M21 137h1M7 138h1M15 138h2M35 138h1M4 139h1M15 139h2M19 139h1M21 139h1M36 139h1M38 139h1M40 139h1M47 139h1M14 140h1M16 140h1M48 140h1M4 141h1M24 141h1M41 141h3M55 141h1M1 142h1M23 142h1M31 142h1M44 142h1M6 143h1M8 143h1M21 143h1M23 143h1M26 143h1M37 143h1M40 143h2M55 143h1M0 144h1M2 144h1M4 144h1M8 144h1M18 144h1M33 144h1M41 144h1M54 144h1M15 145h1M17 145h1M21 145h1M36 145h1M41 145h1M48 145h1M55 145h1M3 146h2M0 147h2M13 147h1M27 147h1M29 147h1M32 147h1M37 147h1M41 147h2M5 148h1M17 148h1M19 148h1M30 148h2M37 148h1M40 148h1M49 148h1M18 149h1M46 149h1M7 150h1M20 150h1M22 150h2M40 150h1M42 150h1M46 150h1M53 150h1M1 151h1M8 151h1M13 151h1M20 151h1M29 151h1M31 151h2M34 151h1M53 151h1M55 151h1M6 152h3M27 152h1M40 152h1M50 152h1M20 153h1M28 153h2M36 153h1M38 153h1M50 153h1M7 154h1M14 154h1M17 154h1M25 154h1M39 154h1M43 154h1M47 154h1M4 155h1M20 155h1M23 155h1M36 155h1M41 155h1M52 155h1M14 156h1M27 156h1M46 156h1M51 156h1M54 156h1M15 157h1M32 157h1M34 157h1M56 157h1M1 158h1M44 158h1M0 159h1M11 159h2M29 159h1M33 159h1M36 159h1M40 159h1M54 159h1M4 160h1M9 160h1M13 160h1M18 160h1M30 160h1M42 160h1M47 160h1M51 160h1M54 160h1M19 161h1M34 161h1M41 161h1M44 161h3M2 162h1M5 162h1M11 162h1M31 162h1M48 162h1M4 163h1M8 163h1M15 163h1M39 163h1M17 164h1M32 164h1M34 164h1M37 164h1M11 165h2M16 165h1M56 165h1M8 166h1M12 166h3M20 166h1M22 166h1M26 166h2M43 166h1M3 167h1M37 167h1M54 167h1M19 168h1M24 168h1M31 168h1M36 168h1M42 168h1M47 168h2M51 168h1M0 169h1M2 169h1M21 169h1M25 169h1M29 169h1M31 169h1M44 169h1M51 169h2M13 170h1M35 170h1M19 171h1M25 171h1M56 171h1M19 172h1M30 172h1M53 172h1M22 173h1M30 173h1M41 173h2M44 173h1M37 174h1M40 174h1M9 175h1M14 175h1M27 175h1M29 175h1M35 175h1M40 175h1M7 176h2M49 176h1M2 177h1M6 177h2M9 177h2M22 177h1M38 177h1M51 177h1M2 178h1M6 178h1M22 178h1M34 178h1M37 178h1M50 178h1M5 179h1M9 179h1M25 179h1M55 179h1M3 180h1M5 180h1M39 180h1M46 180h1M48 180h1M3 181h1M16 181h1M26 181h1M28 181h2M33 181h1M35 181h1M46 181h1M55 181h1M4 182h1M13 182h2M16 182h1M18 182h1M28 182h1M31 182h1M34 182h1M40 182h1M48 182h2M9 183h1M16 183h1M18 183h1M34 183h1M43 183h1M48 183h2M33 184h1M35 184h1M38 184h1M42 184h1M8 185h1M10 185h1M14 185h2M53 185h1M6 186h1M29 186h1M36 186h1M5 187h1M7 187h2M15 187h1M19 187h2M25 187h1M35 187h1M39 187h2M5 188h1M19 188h1M27 188h2M33 188h1M5 189h1M17 189h1M34 189h1M39 189h1M42 189h1M8 190h1M20 190h1M14 191h1M21 191h1M24 191h1M26 191h1M51 191h1M11 192h1M20 192h1M45 192h1M2 193h1M32 193h1M35 193h1M49 193h1M53 193h1M2 194h2M9 194h1M20 194h1M31 194h1M34 194h1M39 194h1M43 194h1M49 194h2M4 195h1M7 195h1M18 195h1M40 195h1M2 196h1M42 196h2M46 196h2M51 196h1M19 197h1M25 197h1M28 197h1M46 197h1M52 197h1M0 198h1M2 198h1M4 198h1M7 198h1M25 198h2M29 198h1M39 198h1M44 198h2M49 198h1M7 199h1M13 199h1M24 199h1M34 199h1M44 199h2M3 200h1M15 200h1M18 200h1M31 200h1M34 200h1M47 200h1M53 200h1M7 201h1M43 201h1M49 201h1M55 201h2M3 202h1M11 202h1M21 202h1M27 202h1M45 202h1M53 202h1M12 203h1M19 203h3M27 203h1M29 203h1M5 204h1M27 204h2M30 204h1M36 204h1M14 205h2M20 205h1M28 205h2M38 205h1M44 205h1M6 206h1M23 206h1M27 206h2M39 206h1M55 206h1M3 207h1M8 207h2M16 207h1M41 207h1M45 207h1M53 207h1M6 208h1M22 208h1M24 208h1M49 208h1M2 209h2M15 209h1M28 209h1M32 209h1M34 209h1M39 209h2M42 209h1M47 209h1M54 209h1M9 210h3M18 210h1M37 210h3M42 210h2M45 210h1M54 210h1M23 211h1M30 211h2M33 211h1M35 211h1M42 211h1M47 211h1M6 212h1M25 212h1M43 212h1M18 213h1M12 214h1M28 214h1M51 214h1M56 214h1M2 215h1M14 215h1M16 215h1M16 216h1M18 216h1M22 216h1M40 216h2M0 217h1M17 218h1M21 218h1M31 218h1M43 218h1M55 218h1M17 219h1M27 219h1M32 219h2M35 219h1M41 219h1M46 219h1M54 219h1M44 220h1M19 221h1M26 221h1M30 221h1M32 221h1M36 221h1M44 221h1M56 221h1M6 222h1M28 222h1M34 222h1M41 222h1M43 222h1M2 223h1M10 223h1M12 223h1M14 223h1M20 223h1M22 223h1M39 223h2M42 223h1M45 223h1M0 224h1M4 224h1M8 224h1M14 224h2M31 224h1M35 224h1M42 224h1M46 224h1M48 224h1M51 224h1M55 224h1M2 225h1M9 225h1M17 225h1M19 225h1M22 225h1M42 225h2M15 226h1M55 226h1M4 227h1M8 227h1M49 227h1M52 227h1M38 228h1M52 228h2M0 229h1M13 229h1M21 229h1M24 229h1M28 229h1M35 229h1M42 229h1M46 229h1M41 230h1M48 230h1M4 231h1M45 231h2M49 231h1M20 232h1M25 232h1M28 232h3M35 232h1M56 232h1M17 233h1M27 233h1M29 233h1M9 234h1M52 234h1M9 235h1M19 235h1M36 235h1M45 235h1M29 236h1M32 236h1M35 236h1M52 236h1M8 237h2M51 237h1M20 238h1M44 238h1M46 238h2M9 239h2M16 239h1M31 239h1M45 239h1M9 240h1M19 240h1M31 240h1M40 240h2M56 240h1M5 241h1M11 241h1M13 241h1M28 241h1M39 241h1M42 241h1M14 242h1M16 242h1M22 242h1M24 242h1M7 243h1M11 244h1M28 244h1M47 244h1M32 245h1M46 246h1M49 246h2M13 247h1M19 247h1M48 247h1M1 248h1M24 248h2M30 248h2M33 248h1M46 248h1M13 249h1M27 249h1M44 249h1M1 250h1M34 250h1M37 250h1M23 251h1M26 251h1M40 251h1M45 251h1M55 251h2M1 252h1M6 252h1M21 252h1M28 252h1M35 252h1M53 252h1M8 253h1M27 253h1M30 253h1M34 253h1M2 254h1M19 254h1M48 254h1M1 255h1M5 255h1M15 255h1M31 255h1M49 255h1M4 256h2M17 256h1M35 256h1M39 256h1M9 257h1M18 257h1M31 257h1M38 257h1M47 257h1M54 257h1M56 257h1M8 258h1M14 258h1M23 258h1M32 258h1M41 258h1M43 258h1M45 258h1M49 258h1M5 259h1M13 259h1M40 259h1M53 259h1M3 260h1M20 260h1M24 260h1M38 260h1M46 260h1M7 261h1M38 261h1M40 261h1M43 261h1M49 261h1M47 262h1M12 263h1M18 263h1M8 264h1M18 264h2M22 264h1M25 264h1M42 264h1M51 264h1M0 265h2M14 265h1M22 265h1M26 265h1M31 265h1M43 265h1M45 265h1M13 266h1M20 266h1M22 266h1M38 266h1M39 267h1M43 267h2M50 267h2M0 268h1M16 268h1M27 268h1M29 268h1M3 269h1M20 269h1M25 269h1M30 269h1M32 269h1M46 269h1M9 270h1M20 270h1M10 271h1M27 271h1M52 271h1M4 272h1M6 272h1M29 272h1M48 272h1M0 273h1M16 273h2M23 273h1M53 273h1M0 274h1M29 274h1M33 274h1M50 274h1M53 274h1M1 275h1M3 275h1M9 275h1M13 275h1M24 275h1M39 275h3M45 275h1M47 275h1M21 276h1M32 276h1M45 276h1M50 276h1M6 277h2M26 277h1M36 277h1M46 277h1M26 278h1M42 278h1M54 278h1M18 279h1M22 279h1M30 279h1M46 279h1M8 280h1M22 280h1M35 280h1M40 280h1M44 280h2M53 280h1M14 281h1M16 281h1M20 281h1M28 281h1M30 281h1M37 281h1M46 281h1M50 281h1M53 281h1M22 282h1M26 282h1M30 282h1M32 282h1M1 283h2M8 283h1M12 283h1M19 283h1M28 283h2M31 283h3M36 283h1M45 283h1M4 284h2M7 285h1M9 285h1M30 285h1M33 285h1M8 286h2M40 286h1M43 286h1M9 287h1M12 287h1M18 287h1M29 287h1M38 287h1M8 288h1M16 288h1M32 288h1M34 288h1M43 288h1M12 289h2M16 289h1M42 289h1M46 289h1M49 289h1M1 290h1M33 290h1M44 290h2M9 291h1M18 291h1M31 291h1M44 291h1M49 291h1M10 292h1M14 292h1M29 292h2M37 292h1M39 292h2M44 292h2M7 293h1M10 293h1M13 293h1M15 293h1M24 293h1M26 293h1M32 293h1M45 293h1M4 294h1M30 294h2M36 294h1M48 294h1M10 295h1M18 295h1M27 295h1M29 295h1M9 296h1M13 296h2M31 296h1M46 296h1M48 296h1M0 297h1M8 297h1M38 297h1M49 297h1M14 298h1M22 298h1M28 298h1M35 298h1M54 299h1M4 300h1M6 300h1M14 300h2M19 300h1M24 300h1M35 300h1M40 300h1M48 300h2M0 301h1M3 301h1M7 301h1M9 301h1M20 301h1M25 301h1M34 301h2M50 301h1M1 302h2M33 302h1M39 302h2M51 302h1M11 303h1M13 303h1M19 303h1M39 303h2M3 304h1M17 304h1M24 304h1M29 304h1M6 305h1M8 305h1M10 305h1M35 305h1M37 305h1M41 306h1M26 307h1M44 307h2M51 307h1M10 308h1M34 308h2M53 308h1M56 308h1M5 309h1M26 309h2M40 309h2M44 309h1M19 310h1M21 310h1M47 310h1M53 310h1M11 311h1M20 311h3M26 311h1M32 311h2M35 311h1M41 311h1M22 312h1M26 312h1M32 312h1M34 312h1M37 312h1M44 312h1M13 313h1M1 314h1M21 314h2M26 314h1M4 315h1M6 315h1M11 315h1M20 315h1M25 315h1M30 315h1M33 315h2M8 316h1M14 316h1M45 316h1M55 316h1M4 317h1M49 317h1M54 317h1M7 318h1M25 318h1M32 318h1M42 318h2M46 318h1M8 319h1M11 319h2M14 319h1M30 319h1M32 319h1M39 319h1M11 320h1M18 320h1M25 320h1M32 320h2M35 320h1M49 320h1M16 321h1M29 321h2M37 321h3M42 321h1M9 322h2M23 322h1M51 322h1M9 323h1M18 323h1M24 323h1M9 324h1M29 324h2M51 324h2M56 324h1M12 325h2M29 325h1M45 325h1M48 325h1M7 326h2M27 326h2M38 326h1M56 326h1M2 327h1M14 327h1M19 327h1M36 327h1M40 327h1M50 327h1M53 327h1M56 327h1M23 328h1M33 328h1M42 328h1M56 328h1M7 329h1M42 329h1M10 330h1M17 330h1M46 330h1M53 330h1M0 331h1M8 331h1M10 331h1M13 331h1M22 331h1M24 331h1M32 331h1M7 332h1M24 332h1M32 332h1M50 332h1M1 333h1M6 333h1M22 333h2M30 333h1M35 333h1M9 334h1M33 334h1M9 335h1M15 335h1M38 335h1M40 335h1M44 335h1M48 335h1M55 335h2M14 336h1M25 336h1M38 336h1M44 336h1M51 336h1M56 336h1M14 337h1M19 337h1M26 337h1M32 337h1M52 337h1M18 338h1M22 338h1M25 338h1M33 338h1M37 338h1M40 338h1M44 339h1M56 339h1M15 340h1M18 340h1M18 341h1M8 342h1M10 342h1M23 342h2M33 342h1M42 342h1M32 343h1M40 343h2M49 343h1M51 343h1M8 344h1M14 344h1M32 344h1M38 344h1M40 344h1M44 344h1M51 344h1M0 345h1M8 345h1M40 345h2M15 346h1M26 346h1M34 346h1M56 346h1M27 347h1M49 347h2M20 348h1M4 349h1M19 349h1M35 349h1M46 349h1M48 349h1M4 350h2M23 350h1M25 350h1M46 350h1M18 351h1M24 351h1M30 351h1M35 351h1M49 351h1M56 351h1M15 352h1M24 352h1M40 352h1M47 352h1M5 353h2M12 353h1M34 353h1M41 353h1M52 353h2M3 354h1M32 354h1M4 355h1M11 355h1M14 355h1M19 355h1M38 356h1M49 356h1M28 357h1M32 357h1M55 357h1M4 358h2M8 358h1M22 358h1M34 358h2M44 358h1M10 359h1M13 359h1M22 359h1M28 359h1M8 360h1M10 361h1M27 361h1M32 361h1M56 361h1M19 362h2M26 362h1M10 363h1M1 364h1M10 364h1M18 364h1M26 364h1M37 364h1M46 364h1M53 364h1M6 365h1M18 365h1M31 365h1M38 365h1M45 365h1M52 365h1M54 365h1M7 366h1M16 366h1M21 366h1M53 366h1M56 366h1M23 367h2M32 367h1M35 367h1M45 367h1M52 367h1M47 368h1M31 369h1M33 369h3M47 369h1M51 369h1M7 370h1M32 370h1M3 371h4M12 371h1M23 371h1M26 371h1M28 371h1M35 371h1M44 371h1M53 371h1M21 372h1M35 372h1M48 372h1M53 372h1M3 373h2M24 373h1M39 373h1M49 373h1M1 374h1M6 374h1M42 374h1M14 375h1M29 375h1M32 375h1M41 375h1M52 375h1M54 375h1M56 375h1M10 376h1M20 376h1M28 376h1M38 376h1M40 376h1M54 376h1M30 377h1M34 377h1M42 377h1M49 377h1M51 377h1M21 378h1M24 378h1M54 378h1M10 379h1M16 379h1M20 379h2M23 379h1M32 380h1M46 380h1M11 381h1M20 381h2M28 381h1M36 381h1M52 381h1M11 382h1M19 382h1M27 382h1M52 382h1M54 382h1M1 383h1M11 383h1M26 383h1M33 383h2M15 384h1M18 384h1M29 384h2M55 384h1M1 385h1M6 385h1M33 385h2M50 385h1M55 385h1M5 386h1M46 386h3M50 386h1M28 387h2M53 387h1M6 388h1M9 388h1M16 388h1M22 388h2M36 388h1M45 388h1M17 389h1M22 389h1M41 389h1M45 389h1M54 389h2M13 390h1M39 390h1M49 390h1M54 390h1M7 391h1M24 391h1M31 391h1M17 392h1M28 392h1M17 393h1M41 393h1M43 393h1M48 393h1M3 394h2M26 394h1M47 394h2M1 395h1M14 395h1M23 395h1M30 396h1M36 396h2M45 396h1M56 396h1M1 397h1M5 397h1M44 397h1M51 397h1M0 398h1M6 398h2M18 398h1M36 398h1M52 398h1M2 399h1M7 399h1M11 399h1M16 399h1M43 399h1M50 399h1M52 399h1M49 400h2M9 401h1M44 401h1M48 401h1M51 401h1M53 401h1M56 401h1M2 402h1M6 402h1M36 402h1M50 402h1M11 403h1M23 403h1M45 403h1M51 403h1M7 404h1M32 404h1M49 404h1M3 405h1M21 405h1M52 405h1M0 406h1M5 406h1M17 406h1M25 406h1M40 406h1M56 406h1M6 407h1M18 407h1M25 407h1M50 407h1M54 407h1M15 408h1M28 408h1M30 408h1M39 408h1M8 409h1M14 409h2M18 409h1M39 409h1M44 409h1M46 409h1M54 409h1M6 410h1M21 410h1M29 410h1M51 410h1M54 410h1M18 411h1M25 411h1M30 411h1M34 411h1M39 411h1M2 412h1M34 412h1M52 412h1M55 412h1M2 413h1M33 413h1M47 413h1M17 414h1M24 414h1M46 414h1M55 414h1M13 415h1M15 415h1M18 415h1M25 415h1M32 415h1M38 415h1M48 415h1M50 415h1M52 415h1M55 415h1M2 416h1M8 416h1M21 416h2M47 416h1M53 416h1M5 417h2M23 417h1M26 417h3M41 417h1M2 418h1M22 418h1M25 418h1M53 418h1M2 419h1M4 419h1M11 419h2M17 419h1M21 419h1M36 419h1M31 421h1M46 421h1M12 422h1M20 422h1M42 422h1M21 423h1M30 423h2M29 424h1M41 424h1M49 424h1M9 425h1M16 425h1M26 425h1M53 425h1M19 426h1M21 426h1M38 426h1M40 426h1M56 426h1M14 427h2M21 427h1M14 428h1M16 428h1M37 428h1M51 428h1M7 429h2M10 429h1M19 429h2M23 429h1M48 429h1M55 429h1M17 430h2M24 430h1M41 430h1M47 430h1M52 430h1M15 431h1M45 431h1M51 431h1M54 431h1M7 432h1M25 432h2M50 432h1M6 433h1M9 433h1M25 433h2M43 433h2M46 433h1M50 433h1M2 434h2M31 434h1M35 434h2M14 435h2M32 435h1M44 435h1M46 435h1M9 436h1M14 436h1M23 436h3M35 436h1M8 437h1M11 437h1M23 437h1M26 437h1M34 437h1M3 438h3M7 438h1M13 438h1M1 439h1M7 439h1M36 439h1M38 439h1M46 439h1M50 439h1M56 439h1"/>
<path stroke="#0071ff" d="M55 3h1M26 5h1M34 5h1M15 7h1M36 7h1M30 8h1M47 9h1M22 10h1M24 10h1M28 11h1M12 12h1M47 12h1M7 13h1M45 13h1M8 14h1M46 14h1M53 14h1M7 15h1M29 15h1M43 15h1M18 16h2M25 16h1M35 16h1M52 16h1M7 17h1M12 17h1M35 17h1M38 17h1M56 17h1M6 18h1M24 18h1M54 18h1M11 19h1M17 19h1M36 19h2M43 19h1M47 20h1M25 21h2M10 22h1M13 22h1M31 22h1M19 23h1M32 23h1M38 23h1M24 24h1M30 24h2M44 24h1M14 25h1M33 25h1M35 25h1M34 26h1M47 26h1M1 27h1M9 27h1M21 27h1M45 27h1M52 27h1M0 28h1M20 28h1M43 28h1M9 29h1M11 29h1M16 29h1M45 29h1M48 29h1M17 30h1M6 31h1M20 31h1M22 31h1M28 31h1M41 31h3M46 31h1M54 31h1M21 32h1M44 32h1M19 33h1M22 33h1M30 33h1M55 33h1M13 34h1M20 34h1M31 34h2M15 35h1M28 35h1M30 35h1M46 35h2M10 36h1M19 36h2M43 36h1M9 37h1M12 37h1M21 37h1M23 37h2M34 37h1M15 38h1M18 38h1M32 38h1M41 38h1M8 39h1M22 39h1M35 39h1M37 39h1M4 41h1M26 41h1M29 41h1M41 41h1M43 41h2M14 42h1M19 42h1M37 42h1M50 42h1M20 43h1M23 43h1M32 43h1M37 43h1M50 43h1M53 43h1M1 44h1M11 44h1M22 44h1M31 44h1M2 45h1M8 45h1M25 45h1M45 45h1M31 46h1M56 46h1M10 47h1M13 47h1M25 47h2M43 47h2M50 47h1M6 48h2M19 48h1M21 48h1M48 48h1M19 49h2M27 49h1M31 49h1M45 49h1M55 49h1M16 50h1M24 50h1M45 50h1M0 51h1M3 51h2M17 51h1M22 51h1M56 51h1M17 52h2M35 52h1M43 52h1M23 53h1M27 53h1M38 53h1M45 53h2M3 54h1M6 54h1M11 54h1M37 54h1M55 54h1M7 55h1M10 55h1M25 55h3M9 56h1M23 56h1M32 56h1M41 56h1M45 56h1M49 56h1M41 57h1M5 58h1M47 58h1M50 58h1M56 58h1M11 59h1M18 59h1M23 59h1M29 59h1M9 60h1M11 60h1M17 60h1M20 60h1M31 60h1M37 60h1M0 61h2M21 61h1M25 61h1M53 61h1M5 62h1M9 62h1M24 62h1M27 62h1M52 62h1M22 63h1M24 63h1M29 63h1M31 63h1M36 63h2M55 63h1M8 64h1M11 64h1M18 64h1M37 64h1M42 64h1M55 64h1M5 65h1M24 65h1M36 66h1M50 66h1M7 67h1M14 67h1M31 67h1M36 67h1M45 67h2M20 68h1M42 68h1M12 69h1M15 69h1M22 69h1M24 69h1M29 69h1M51 69h1M2 70h2M7 70h1M14 70h2M39 70h1M49 70h1M56 70h1M19 71h1M46 71h1M3 72h1M8 72h1M28 72h1M41 72h1M47 72h1M17 73h1M43 73h1M53 73h1M22 74h1M17 75h1M19 75h1M24 75h1M27 75h1M3 76h1M24 76h1M29 76h1M36 76h1M43 76h1M51 76h1M0 77h1M12 77h1M17 77h1M22 77h1M31 77h1M42 77h1M54 77h1M56 77h1M11 78h2M43 78h2M49 78h1M50 79h1M4 80h1M42 80h1M10 81h1M15 81h1M52 81h1M17 82h1M31 82h1M43 82h1M4 83h1M6 83h2M15 83h1M26 83h1M36 83h1M48 83h1M1 84h1M21 84h1M24 84h1M26 84h1M34 84h1M36 84h1M42 84h1M43 85h1M50 85h1M53 85h1M14 86h1M48 86h1M51 86h1M32 87h1M40 87h1M43 87h1M55 87h1M15 88h3M25 88h1M30 88h1M40 88h1M45 88h1M51 88h1M53 88h1M13 89h1M38 89h1M50 89h1M52 89h1M16 90h1M35 90h1M38 90h1M49 90h1M29 91h1M53 91h1M20 92h1M27 92h2M34 92h1M36 92h1M10 93h2M25 93h1M31 93h1M1 94h1M9 94h1M17 94h1M47 94h1M10 95h1M52 95h1M1 96h1M33 96h1M6 97h1M11 97h1M38 97h1M1 98h1M6 98h1M17 98h2M24 98h1M31 98h1M36 98h1M3 99h1M5 99h1M7 99h1M22 99h3M42 99h1M9 100h1M13 100h1M33 101h1M38 101h1M42 101h1M45 101h1M53 101h2M56 101h1M4 102h1M14 102h1M16 102h1M22 102h1M24 102h1M4 103h1M30 103h1M33 103h1M42 103h3M48 103h1M21 105h1M31 105h2M3 106h1M24 106h1M42 106h1M38 107h1M10 108h1M26 108h1M36 108h1M5 109h1M7 109h1M24 109h1M41 109h1M30 110h1M48 110h1M52 110h2M4 111h1M6 111h1M10 111h1M15 111h1M32 111h1M2 112h1M7 112h1M37 112h1M1 113h1M4 113h1M37 113h1M47 113h1M52 113h1M54 113h1M0 114h1M18 114h1M28 114h1M35 114h1M42 114h1M54 114h1M7 115h1M33 115h1M47 115h1M50 115h1M50 116h1M37 117h1M45 117h1M51 117h1M2 118h1M4 118h1M25 118h1M40 118h1M2 119h1M36 119h1M55 119h1M10 120h1M52 120h1M41 121h1M4 122h1M17 122h1M41 122h1M13 123h1M27 123h1M32 123h2M37 123h1M42 123h1M2 124h1M10 124h1M13 124h1M18 124h1M39 124h1M41 124h1M2 125h1M4 125h1M36 125h1M43 125h1M1 126h1M12 126h1M21 126h1M44 126h2M56 126h1M13 127h1M14 128h1M19 128h1M28 128h2M31 128h1M2 129h1M21 129h1M47 129h1M2 130h1M4 130h1M52 130h1M12 131h1M16 131h1M23 131h1M25 131h1M37 131h1M51 131h2M4 132h1M24 132h1M48 132h2M56 132h1M24 133h1M32 133h1M41 133h1M49 133h1M3 134h1M8 134h1M10 134h1M38 134h1M50 134h1M52 134h1M56 134h1M2 135h1M7 135h1M22 135h1M28 135h1M43 136h1M7 137h1M17 137h2M40 137h2M45 138h1M11 139h1M35 139h1M55 139h1M39 140h1M43 140h1M19 141h1M30 141h1M12 142h1M32 142h1M37 142h2M41 142h1M46 142h1M53 142h2M25 143h1M35 143h1M39 143h1M50 143h1M1 144h1M12 144h2M32 144h1M38 144h2M45 144h3M18 145h1M35 145h1M37 145h1M25 146h1M38 146h1M41 146h1M44 146h1M50 146h2M54 146h1M30 147h1M54 147h1M1 148h1M3 148h1M6 148h1M28 148h1M33 148h1M39 148h1M45 148h2M56 148h1M2 149h1M29 149h1M50 149h2M0 150h1M19 150h1M21 150h1M43 150h1M6 151h1M9 151h1M22 151h2M26 151h1M56 151h1M10 152h1M36 152h1M39 152h1M47 152h2M52 152h1M13 153h1M16 153h1M22 153h1M0 154h1M10 154h1M13 154h1M23 154h1M30 154h1M44 154h1M14 155h1M33 155h1M45 155h1M54 155h1M17 156h1M36 156h2M40 156h1M3 158h1M6 158h1M42 158h1M52 158h2M24 159h1M30 159h1M8 160h1M11 160h1M41 160h1M14 161h1M27 161h1M33 161h1M17 162h2M33 162h1M9 163h1M19 163h1M24 163h1M26 163h1M44 163h1M16 164h1M46 164h1M48 164h1M6 165h1M19 165h1M19 166h1M21 166h1M2 167h1M6 167h1M23 167h1M25 167h1M35 167h1M43 167h1M8 168h1M14 168h1M16 168h1M18 168h1M22 168h1M45 168h2M1 169h1M5 169h1M42 169h1M46 169h1M48 169h1M56 169h1M0 170h2M19 170h1M23 170h1M27 170h1M47 171h1M9 172h1M56 172h1M1 173h1M16 173h1M36 173h2M39 173h1M48 173h1M56 173h1M9 174h1M20 174h1M31 175h1M42 175h1M12 176h1M22 176h1M35 176h1M52 176h1M54 176h1M0 177h1M35 177h1M37 177h1M39 177h1M0 178h2M38 178h1M40 178h1M52 178h1M2 179h1M8 179h1M24 179h1M36 179h1M10 180h1M12 180h1M15 180h1M33 180h1M41 181h1M0 182h1M7 182h2M27 182h1M10 183h1M28 183h1M40 183h1M45 183h2M1 184h1M23 184h2M39 184h1M41 184h1M4 185h1M22 185h1M28 185h1M33 185h1M0 186h1M28 186h1M30 186h1M39 186h1M34 187h1M0 188h1M23 188h1M38 188h1M16 189h1M3 190h1M5 190h1M18 190h1M56 190h1M0 191h1M25 191h1M37 191h1M27 192h1M16 193h1M22 193h1M34 193h1M13 194h1M15 194h1M18 194h2M24 194h1M29 194h2M48 194h1M54 194h1M22 195h1M24 195h1M54 195h1M9 196h1M14 196h1M20 196h1M39 196h1M44 196h1M6 197h4M42 197h1M44 197h1M53 197h1M11 198h1M37 198h1M19 199h1M25 199h2M43 199h1M1 200h1M6 200h2M16 200h1M27 200h1M38 200h1M6 201h1M21 201h1M32 201h1M26 202h1M22 203h1M44 203h1M3 204h1M9 204h1M25 204h1M34 204h1M39 204h1M5 205h1M8 205h2M47 205h1M4 206h2M29 206h1M33 206h1M33 207h1M46 207h1M54 207h1M5 208h1M10 208h1M31 208h1M38 208h1M53 208h1M5 209h1M22 209h1M35 209h1M46 209h1M13 210h1M16 210h1M16 211h1M34 211h1M43 211h1M39 212h2M46 212h1M15 213h3M19 213h1M34 213h1M39 213h1M46 213h1M6 214h1M10 214h1M38 214h1M50 214h1M24 215h1M27 215h1M43 215h1M13 216h1M17 216h1M24 216h1M53 216h1M3 217h1M10 217h2M37 217h1M41 217h1M51 217h1M55 217h2M22 218h1M2 219h1M9 219h2M34 219h1M38 219h1M50 220h1M54 220h1M12 221h1M14 221h1M46 221h1M1 222h1M3 222h1M17 222h1M39 222h1M46 222h1M49 222h1M18 223h2M31 223h2M6 224h1M17 224h1M24 224h1M36 224h2M7 225h1M41 225h1M44 225h1M14 226h1M17 226h1M28 226h1M2 227h1M13 228h1M9 229h1M11 229h1M27 229h1M30 229h1M34 229h1M43 229h1M15 230h1M23 230h3M30 230h1M49 230h1M56 230h1M3 231h1M17 231h1M43 231h2M56 231h1M0 232h1M3 232h1M12 232h1M49 232h1M52 232h2M8 233h1M18 233h1M35 233h1M40 233h1M43 233h1M7 234h2M10 234h1M12 234h1M16 234h1M51 234h1M49 235h1M8 236h1M11 236h2M19 236h1M46 236h1M27 237h1M54 237h1M8 239h1M15 239h1M26 239h1M36 239h1M48 239h1M52 239h1M6 240h1M8 240h1M39 240h1M1 241h1M10 241h1M14 241h1M19 241h1M21 241h1M54 241h1M6 242h2M9 242h1M17 242h1M19 242h2M32 242h1M38 242h1M51 242h1M3 243h1M5 243h1M15 243h1M17 243h1M36 243h1M51 243h1M4 244h1M31 245h1M40 245h1M42 245h1M14 246h1M18 246h1M20 246h1M5 247h1M12 247h1M18 247h1M29 247h1M22 248h1M29 248h1M32 248h1M38 248h1M15 249h1M19 249h1M24 249h3M33 249h1M35 249h1M8 250h1M13 250h1M19 250h1M46 250h1M52 250h1M54 250h1M25 251h1M12 252h1M52 252h1M12 253h1M16 253h1M29 253h1M35 253h1M1 254h1M8 254h1M18 254h1M20 254h2M47 254h1M2 255h1M36 256h1M6 257h2M29 257h1M0 258h1M16 258h1M3 259h1M7 259h1M42 259h1M50 259h2M5 260h1M52 260h1M28 261h1M30 261h1M8 262h1M26 262h1M51 262h1M8 263h2M26 263h1M31 263h1M35 263h1M44 263h2M49 263h1M7 264h1M21 264h1M26 264h1M9 265h1M28 265h1M48 265h1M1 266h1M16 266h1M23 266h1M27 266h1M37 266h1M43 266h1M5 268h1M30 268h2M50 268h1M1 269h1M4 269h1M21 269h1M33 269h1M45 269h1M49 269h1M52 269h1M19 270h1M29 270h1M48 270h1M55 270h1M5 271h1M9 271h1M28 271h1M43 271h1M56 271h1M1 272h1M41 272h1M47 272h1M5 273h2M50 273h1M3 274h1M17 274h1M28 274h1M30 274h1M34 274h1M52 274h1M54 274h2M4 275h1M23 275h1M25 275h1M44 275h1M48 275h1M54 275h1M3 276h1M15 276h1M5 277h1M13 277h1M15 277h1M17 277h1M22 277h2M42 277h1M15 278h2M25 278h1M49 278h2M19 279h1M11 280h1M28 280h2M32 280h1M41 280h1M49 280h1M5 281h1M41 281h1M52 281h1M23 283h1M25 283h1M30 283h1M38 283h1M47 283h1M55 283h1M9 284h1M15 284h1M24 284h1M40 284h1M16 285h1M0 286h2M13 286h1M38 286h1M11 287h1M14 287h2M30 287h1M56 287h1M31 288h1M37 288h1M44 288h1M46 288h1M1 289h1M5 289h1M14 289h1M32 289h2M47 289h1M4 290h1M6 290h1M10 290h1M43 290h1M50 290h1M3 291h1M10 291h1M16 292h1M25 292h1M31 292h2M46 292h1M0 293h1M8 293h1M22 293h2M55 293h1M8 294h1M47 294h1M8 295h1M32 296h1M41 296h1M56 296h1M1 297h1M19 297h1M26 297h1M35 297h1M11 298h1M18 298h1M32 298h1M42 298h1M49 298h1M30 299h1M33 299h2M50 299h2M5 300h1M7 300h2M10 301h1M12 301h1M21 301h1M33 301h1M3 302h1M10 302h1M15 302h1M21 302h1M41 302h1M43 302h1M47 302h1M8 303h1M20 303h1M51 303h1M27 304h1M5 305h1M19 305h1M48 305h1M21 306h1M34 306h1M44 306h1M0 307h1M42 307h1M54 307h1M14 308h1M6 309h1M18 309h1M39 309h1M54 309h1M22 310h2M28 310h1M33 310h1M45 310h1M51 310h1M8 311h1M16 311h2M19 311h1M34 311h1M36 311h1M45 311h2M12 312h1M33 312h1M46 312h1M4 313h2M26 313h1M2 314h1M8 314h1M11 314h1M27 314h1M37 314h1M40 314h2M51 314h1M5 315h1M8 315h1M32 315h1M32 316h1M38 316h1M43 316h2M49 316h1M53 317h1M29 318h2M34 318h2M47 318h1M13 319h1M21 319h1M23 319h1M33 319h1M9 320h1M17 320h1M51 320h1M3 321h1M6 321h2M9 321h1M14 321h1M23 321h1M31 321h1M41 321h1M43 321h1M14 322h1M17 322h1M7 323h1M17 323h1M21 323h1M35 323h4M0 324h1M6 324h1M13 324h2M40 324h1M3 325h1M22 325h1M39 325h1M43 325h2M49 325h1M53 325h1M29 326h1M49 326h1M5 327h1M18 327h1M37 327h1M2 328h1M17 328h1M11 329h1M13 329h1M8 330h1M32 330h1M54 330h1M31 331h1M34 331h2M49 331h1M3 332h1M52 332h1M49 333h1M10 334h1M12 334h1M25 334h1M34 334h1M37 334h1M7 336h1M19 336h1M40 336h1M49 336h1M16 337h1M25 337h1M51 337h1M55 337h2M0 338h1M5 338h1M34 338h1M7 339h1M12 339h1M19 339h1M30 339h2M30 340h1M32 340h1M42 340h1M10 341h1M9 342h1M21 342h1M31 342h1M45 342h1M48 342h1M52 342h1M8 343h1M33 343h1M36 343h1M3 344h1M5 344h1M23 344h1M25 344h1M20 345h1M33 345h1M51 347h1M9 348h1M28 348h1M34 349h1M38 349h1M53 349h1M0 350h1M14 350h1M51 350h2M6 351h1M23 351h1M3 352h1M7 352h1M26 352h2M37 352h2M7 353h1M10 353h1M26 353h1M54 353h1M56 353h1M29 354h1M56 354h1M15 355h1M22 355h1M51 355h1M53 355h1M18 356h1M42 356h1M26 357h1M29 357h1M46 357h1M50 357h1M53 357h1M56 357h1M0 358h3M10 358h1M47 358h1M49 358h2M19 359h1M24 359h1M55 360h1M7 362h1M11 362h1M25 362h1M31 362h2M44 362h1M46 362h1M7 363h1M34 363h1M41 363h1M16 364h1M38 364h1M25 365h1M27 365h1M29 365h1M32 365h2M47 365h1M0 366h2M6 366h1M52 366h1M2 367h1M39 367h1M42 367h1M48 367h1M55 367h1M50 368h1M10 369h1M21 369h2M37 369h1M41 369h1M43 369h1M48 369h1M7 371h1M42 371h1M32 372h1M41 372h1M2 373h1M17 373h1M21 373h1M47 373h1M7 374h1M50 374h1M55 374h1M11 375h1M22 375h1M31 375h1M38 375h2M18 376h2M26 376h1M29 376h1M35 376h1M51 376h1M56 376h1M7 377h1M17 377h1M24 377h1M39 377h1M50 377h1M52 377h1M25 378h1M13 379h1M19 379h1M30 379h3M42 379h1M55 379h1M6 380h1M15 380h1M20 380h2M28 380h1M44 380h1M48 380h1M3 381h2M35 381h1M39 381h1M53 382h1M8 383h1M24 384h1M45 384h1M14 385h1M7 386h1M22 386h1M49 386h1M3 387h1M8 387h1M17 387h2M23 387h1M31 387h1M39 387h1M13 388h1M28 388h1M37 388h1M44 388h1M56 388h1M20 389h1M38 389h1M37 390h1M55 390h1M6 391h1M56 391h1M1 392h1M16 392h1M27 392h1M15 393h2M21 393h1M7 394h1M11 395h1M24 396h2M34 396h1M40 397h1M12 399h1M17 399h2M22 399h1M44 399h1M2 400h1M38 400h1M46 400h1M24 401h1M49 401h1M52 401h1M10 402h1M52 402h1M53 403h1M26 405h1M32 405h1M18 406h1M22 406h1M35 406h1M45 406h1M0 407h1M19 407h1M27 407h1M53 407h1M13 408h1M38 408h1M28 409h1M33 409h1M37 409h2M45 409h1M48 409h1M0 410h1M7 410h2M53 410h1M6 411h1M8 411h2M11 411h1M28 411h1M50 411h1M3 412h1M30 412h1M11 413h2M29 413h1M32 413h1M51 413h1M3 414h1M10 414h2M19 414h1M24 415h1M27 415h1M7 416h1M23 416h1M25 416h1M54 416h2M4 417h1M37 417h2M6 418h1M23 418h1M53 419h1M4 420h1M10 420h1M46 420h1M18 421h1M45 421h1M4 422h2M17 422h2M21 422h1M38 423h1M56 423h1M40 424h1M55 424h1M2 425h1M15 425h1M46 425h1M50 425h1M54 425h1M42 426h1M45 426h1M22 427h1M4 428h1M21 428h1M15 429h1M32 429h1M7 430h1M31 430h1M36 430h1M44 430h1M30 431h1M50 431h1M7 434h1M9 434h1M14 434h1M26 434h2M32 434h1M8 435h1M30 435h2M43 435h1M51 435h2M3 436h1M5 436h2M10 436h1M26 436h1M6 437h2M15 437h1M18 437h1M33 437h1M49 437h1M55 437h1M44 438h1M50 438h1M56 438h1M15 439h1M43 439h1"/>
<path stroke="#008eff" d="M40 2h1M7 4h1M23 4h1M32 5h1M4 7h1M7 7h1M34 7h1M40 7h1M51 7h1M18 8h1M41 8h1M19 9h2M17 10h1M27 10h1M10 11h1M10 12h1M23 12h1M32 12h1M54 12h1M6 13h1M35 13h1M12 14h1M19 14h1M45 14h1M9 16h1M44 16h1M20 18h1M14 19h1M25 19h1M53 19h1M13 20h1M28 20h1M31 20h1M44 21h1M43 22h1M12 23h1M15 23h1M26 23h1M31 23h1M43 23h1M20 25h2M40 25h1M7 26h1M17 26h1M26 26h1M18 27h1M20 27h1M24 27h1M27 27h1M34 27h1M8 28h1M13 28h1M29 28h1M7 29h1M37 29h1M6 30h1M12 30h1M16 30h1M52 30h1M12 31h1M14 31h1M26 31h1M35 31h1M40 31h1M44 31h1M39 32h1M47 32h1M55 32h1M1 33h1M50 34h1M54 34h2M10 35h2M24 35h1M27 35h1M5 36h1M26 36h1M31 36h1M44 36h1M56 36h1M15 37h1M20 37h1M27 37h1M50 37h1M52 37h1M1 38h1M33 38h1M11 39h1M14 39h1M20 39h1M27 39h1M34 39h1M41 39h1M9 40h1M17 40h1M21 40h1M31 40h1M38 40h1M9 41h1M8 42h1M15 42h1M26 42h1M33 42h1M54 42h2M0 43h1M15 43h1M36 43h1M9 44h1M21 44h1M44 44h1M1 45h1M12 45h1M27 45h2M53 45h1M3 46h1M27 46h1M32 46h1M40 46h1M51 46h1M46 47h1M8 48h1M24 48h1M26 48h1M35 48h1M39 48h2M11 49h1M14 49h1M23 49h1M41 49h1M46 49h1M48 49h1M11 50h1M20 50h1M31 50h1M40 50h1M43 50h1M53 50h1M1 51h1M42 51h1M53 51h1M7 52h2M12 52h1M25 52h1M42 52h1M18 53h1M32 53h1M56 53h1M9 54h1M45 54h1M14 55h1M43 55h1M46 55h1M5 56h1M15 56h1M33 56h2M52 56h1M55 56h1M4 57h1M13 57h1M19 57h1M25 57h1M29 57h1M16 58h1M28 58h1M31 58h1M43 58h1M15 59h1M25 59h1M30 59h1M13 60h2M34 60h1M38 60h1M40 60h1M52 60h1M3 61h1M7 61h1M40 61h1M55 61h2M23 62h1M42 62h1M53 62h1M55 62h2M7 63h1M45 63h1M33 64h1M38 64h1M46 64h1M7 65h1M13 65h1M15 65h1M45 65h1M52 65h1M55 65h2M54 66h1M1 67h1M19 67h1M41 67h1M1 68h2M5 68h1M16 68h1M1 69h1M36 69h2M39 69h1M46 69h1M13 70h1M17 70h2M21 70h1M41 70h1M53 70h1M2 71h1M33 71h1M37 71h1M7 72h1M11 72h1M35 72h1M12 73h2M17 74h1M25 74h1M28 74h1M30 74h1M50 74h1M3 75h1M30 75h1M39 75h1M48 75h1M6 76h1M15 76h1M28 76h1M32 76h1M50 76h1M53 76h1M2 77h1M11 77h1M21 77h1M30 77h1M46 77h1M56 78h1M17 79h1M47 79h1M6 81h1M33 81h1M35 81h1M56 81h1M3 82h2M15 82h2M20 82h2M29 82h1M42 82h1M46 82h1M21 83h1M44 83h1M47 83h1M49 83h1M9 84h1M28 84h1M7 85h1M28 85h1M34 85h1M44 85h1M2 86h1M6 86h1M18 86h1M42 87h1M52 87h3M5 89h1M45 89h2M49 89h1M12 90h1M15 90h1M41 90h1M0 91h1M46 91h1M56 91h1M1 92h1M14 92h2M53 92h1M46 93h1M54 93h1M7 94h2M21 94h1M44 94h1M51 94h1M11 95h2M14 95h1M25 95h1M53 95h1M55 95h1M0 96h1M9 96h1M34 96h1M56 96h1M7 97h1M46 97h3M23 98h1M45 98h1M54 98h1M17 99h1M38 99h1M7 100h1M14 100h1M18 100h1M20 100h1M24 100h1M39 100h3M44 100h1M21 101h1M41 101h1M50 101h1M8 102h1M27 102h2M30 102h1M36 102h1M52 102h1M1 103h1M45 103h1M27 104h1M37 104h1M20 105h1M53 105h1M1 106h2M19 106h1M44 106h1M49 106h1M15 107h1M17 107h1M21 107h1M25 107h1M32 107h1M41 107h1M51 107h1M55 107h1M2 108h1M24 108h1M54 108h2M6 109h1M9 109h1M15 109h1M19 109h1M27 109h1M35 109h1M51 109h1M56 109h1M29 110h1M38 110h1M34 111h1M51 111h1M53 111h2M3 112h1M14 112h1M27 112h1M34 112h1M36 112h1M46 112h1M48 112h1M16 113h1M19 113h1M50 113h1M56 114h1M3 115h2M12 115h1M28 115h1M42 115h1M46 115h1M8 116h1M44 116h1M8 117h1M13 117h1M32 117h1M49 117h1M54 117h1M0 118h1M13 118h1M23 118h1M31 118h1M36 118h2M15 119h2M29 119h1M49 119h1M21 120h1M24 120h1M37 120h1M39 120h1M44 120h1M50 120h2M55 120h1M6 121h1M17 121h1M23 121h1M26 121h1M34 121h1M39 121h1M21 122h1M26 122h1M8 123h1M12 123h1M15 123h1M23 123h1M26 123h1M46 123h1M50 123h1M9 124h1M27 124h1M30 124h1M49 124h1M3 125h1M5 125h1M8 125h1M53 125h1M42 126h1M48 126h1M29 127h1M43 127h1M49 127h2M8 128h1M26 128h1M40 128h1M49 128h1M30 129h1M1 130h1M7 130h1M40 130h1M42 130h1M27 131h1M48 131h1M21 132h1M34 132h2M37 132h1M41 132h1M30 133h2M34 133h1M40 133h1M44 133h1M22 134h1M32 134h1M41 134h1M5 135h1M8 135h1M24 135h1M37 135h1M51 135h1M12 136h1M19 136h2M42 136h1M44 136h1M56 136h1M8 137h2M11 137h1M14 137h1M43 137h1M1 138h1M18 138h1M34 138h1M40 138h1M9 139h1M12 139h3M22 139h1M43 139h1M50 139h1M3 140h1M13 140h1M15 140h1M33 140h1M35 140h1M38 140h1M5 141h1M20 141h1M27 141h2M44 141h1M10 142h1M13 142h1M30 142h1M1 143h1M13 143h1M28 143h1M49 143h1M6 144h1M19 144h1M22 144h1M28 144h2M40 144h1M44 144h1M25 145h1M27 145h1M33 145h1M47 145h1M29 146h1M31 146h1M40 146h1M24 147h1M7 148h1M12 148h1M26 148h1M47 148h1M0 149h1M21 149h1M28 149h1M48 149h2M8 150h1M13 150h1M51 150h1M54 150h1M28 151h1M11 152h1M14 152h2M49 152h1M53 152h1M55 152h1M3 153h1M6 153h1M35 153h1M44 153h1M46 153h1M51 153h1M4 154h1M34 154h1M38 154h1M48 154h1M16 155h1M48 155h2M0 156h1M38 156h1M14 157h1M49 157h1M7 158h1M55 158h1M7 159h2M32 159h1M1 160h3M10 160h1M16 160h1M34 160h1M48 160h1M18 161h1M47 161h1M52 161h1M39 162h1M21 163h1M56 163h1M5 164h2M33 164h1M36 164h1M10 165h1M24 165h1M15 166h1M44 166h1M52 166h1M13 167h1M26 167h3M33 167h2M51 167h1M9 168h1M11 168h1M13 168h1M25 168h1M43 168h1M26 169h1M47 169h1M2 170h1M21 170h1M29 170h1M49 170h1M1 171h1M38 171h1M48 171h1M12 172h1M18 172h1M37 172h1M40 172h1M52 172h1M10 173h1M14 173h1M38 173h1M8 174h1M20 175h1M44 176h1M55 176h1M5 177h1M18 177h1M21 177h1M24 177h2M42 177h1M48 177h1M48 178h1M14 179h1M18 179h1M39 179h1M46 179h4M2 180h1M11 180h1M13 180h1M54 180h1M1 182h1M11 182h1M22 182h1M47 182h1M8 183h1M44 183h1M51 184h1M9 185h1M24 185h1M31 185h2M1 186h1M5 186h1M18 186h1M26 186h1M38 187h1M42 187h1M55 187h2M7 188h1M37 189h2M40 189h1M51 189h1M0 190h1M2 190h1M12 190h1M40 190h1M10 191h1M12 191h1M36 192h1M38 192h1M6 193h1M40 193h1M0 194h1M16 194h1M1 195h1M17 195h1M23 195h1M43 195h1M46 195h1M23 196h1M1 197h1M24 197h1M27 197h1M45 197h1M49 197h1M8 198h1M12 198h1M15 198h1M41 198h1M50 198h2M46 199h1M54 199h1M21 200h2M22 201h1M44 201h1M13 202h1M49 202h2M52 202h1M16 203h1M26 203h1M41 203h1M45 203h1M6 204h2M22 204h1M32 204h1M6 205h1M23 205h2M35 205h1M12 206h1M14 206h1M31 206h1M36 207h1M7 208h1M33 208h1M39 208h1M10 209h2M15 210h1M2 211h1M15 211h1M10 212h1M30 212h1M27 213h1M40 213h1M54 213h1M5 214h1M11 214h1M29 214h1M47 214h1M49 214h1M44 215h1M23 216h1M26 216h1M28 216h2M33 216h1M47 216h1M50 216h1M54 216h1M17 217h1M34 218h1M48 218h1M4 219h1M8 219h1M31 219h1M50 219h1M11 221h1M15 221h1M40 221h2M48 221h2M26 222h1M36 222h1M54 222h1M56 222h1M43 224h2M47 224h1M18 225h1M51 225h2M8 226h1M32 226h1M56 226h1M25 227h4M1 228h1M36 228h2M50 228h1M16 229h1M50 229h2M53 229h2M7 230h1M11 230h1M40 230h1M5 231h1M7 231h1M13 231h2M36 231h1M38 231h2M47 231h1M27 232h1M5 233h1M10 233h1M19 233h1M25 233h1M6 234h1M41 234h1M56 234h1M10 235h1M18 235h1M29 235h1M7 236h1M45 236h1M55 237h1M54 238h1M6 239h1M30 239h1M48 240h2M7 241h1M31 241h2M47 241h1M49 241h1M51 241h1M18 242h1M16 243h1M31 243h1M38 243h1M2 244h1M20 244h1M22 244h1M25 244h1M1 245h1M39 245h1M17 247h1M15 248h1M17 248h1M34 248h1M45 248h1M48 250h2M51 251h1M11 254h1M22 254h1M10 256h1M32 256h1M19 257h1M30 257h1M49 257h1M55 257h1M42 258h1M20 259h2M25 259h1M43 259h1M2 260h1M31 260h1M19 261h1M44 261h1M0 262h1M36 263h2M40 263h1M28 264h1M5 265h2M10 265h1M13 265h1M29 265h1M1 267h1M3 267h1M1 268h1M34 268h2M48 269h1M7 270h1M21 270h1M28 270h1M0 272h1M5 272h1M34 272h1M42 272h1M2 274h1M4 274h1M12 274h1M16 274h1M22 275h1M49 275h1M53 275h1M16 276h1M14 277h1M29 277h1M43 277h1M45 277h1M1 278h1M56 278h1M6 279h1M8 279h1M20 279h1M9 280h1M21 280h1M36 280h1M43 280h1M19 281h1M47 281h1M49 281h1M18 282h2M23 282h1M51 282h1M53 282h1M22 283h1M7 284h2M18 284h1M32 284h1M39 284h1M8 285h1M31 285h1M3 286h2M41 286h1M8 287h1M13 287h1M16 287h1M36 287h1M18 288h1M10 289h1M35 290h1M6 291h1M16 291h1M51 291h2M5 292h1M7 292h1M18 292h1M43 292h1M33 293h1M35 293h1M37 293h1M10 294h1M7 295h1M13 295h1M28 295h1M30 296h1M45 296h1M7 297h1M12 297h1M17 297h1M43 297h1M1 298h1M9 298h1M12 298h1M20 298h2M43 298h1M46 299h1M46 300h1M51 300h1M4 301h1M31 301h1M42 301h1M56 301h1M13 302h1M44 302h1M56 303h1M10 304h1M18 304h1M39 304h1M49 304h1M44 305h1M54 305h2M23 306h1M32 306h1M42 306h1M28 307h1M46 307h2M52 307h2M13 308h1M38 309h1M42 309h1M46 309h1M27 310h1M42 310h1M38 311h1M9 312h1M13 312h1M42 312h1M51 312h1M3 313h1M25 313h1M32 313h1M55 313h1M38 314h1M43 314h2M56 314h1M9 315h1M18 315h1M5 316h1M12 316h2M18 316h1M31 316h1M39 316h1M48 316h1M44 318h1M48 318h1M22 319h1M34 320h1M47 320h2M4 321h1M35 321h1M47 321h1M18 322h1M32 322h1M34 322h1M16 323h1M10 324h1M23 324h1M8 325h1M10 325h2M15 325h1M37 325h1M42 325h1M52 325h1M15 326h1M35 326h1M46 326h1M7 327h1M9 327h1M45 327h3M54 327h1M34 328h1M12 329h1M23 329h3M44 329h1M52 329h1M38 330h1M40 330h2M55 330h1M12 331h1M28 331h1M4 332h1M53 332h1M55 332h1M2 333h1M8 333h1M11 334h1M15 334h1M18 334h2M28 334h2M49 335h1M37 336h1M41 336h1M1 337h1M12 337h1M17 337h1M1 338h1M56 338h1M0 339h1M10 339h1M8 340h1M23 341h1M25 341h1M19 342h1M26 342h1M30 342h1M32 342h1M47 342h1M10 343h1M17 343h1M7 345h1M2 346h1M16 346h1M35 348h1M5 349h2M17 350h1M47 350h2M56 350h1M36 351h1M4 352h1M10 352h1M12 352h1M20 352h1M39 352h1M4 353h1M11 353h1M55 353h1M30 354h1M37 354h1M8 355h1M10 355h1M20 355h2M28 355h1M15 356h1M28 356h1M33 356h1M11 357h1M27 357h1M51 357h1M32 358h1M6 359h1M26 359h1M11 361h1M13 361h1M31 361h1M45 362h1M2 364h1M52 364h1M19 365h1M30 365h1M51 365h1M4 366h1M21 367h2M34 367h1M28 369h1M38 369h1M33 370h1M46 370h1M34 371h1M43 371h1M46 371h2M14 372h1M42 372h1M51 372h2M22 373h1M28 373h1M46 373h1M9 374h1M6 375h1M33 375h2M47 375h1M21 376h2M31 376h1M37 376h1M48 376h1M16 377h1M23 377h1M40 377h2M34 378h2M50 379h1M54 379h1M14 380h1M29 380h1M47 380h1M49 380h1M15 382h1M56 382h1M38 384h1M44 384h1M54 386h1M24 387h1M20 388h1M27 388h1M21 389h1M40 389h1M44 390h1M1 391h2M45 391h1M2 392h1M44 392h1M51 392h1M37 393h1M0 395h1M45 395h1M3 396h1M35 396h1M7 397h1M37 398h1M4 399h1M51 399h1M1 400h1M4 401h1M26 401h1M50 401h1M54 402h1M13 403h1M27 405h1M19 406h1M10 407h1M40 407h1M1 408h1M6 408h1M18 408h1M17 409h1M32 409h1M1 410h1M17 410h1M20 410h1M44 410h1M29 411h1M36 411h1M7 412h1M20 412h1M23 413h1M9 414h1M54 414h1M19 415h1M39 415h1M51 415h1M12 416h1M2 417h2M10 419h1M22 419h1M49 419h1M3 420h1M1 422h1M3 422h1M13 422h3M17 423h1M20 423h1M55 423h1M32 424h1M25 425h1M15 426h1M16 427h1M20 427h1M34 427h1M19 428h1M22 428h1M11 429h1M8 430h1M16 430h1M42 430h1M7 431h1M53 431h1M49 433h1M15 434h1M17 434h1M46 434h1M5 435h1M9 435h2M4 436h1M27 436h1M25 437h1M27 437h1M56 437h1M8 438h1M15 438h1M45 438h2M48 438h1M55 438h1M39 439h1M42 439h1"/>
<path stroke="#00aaff" d="M39 3h1M8 4h1M11 4h1M31 4h1M38 4h1M45 5h1M24 7h1M31 7h1M35 7h1M11 8h1M13 8h1M20 8h1M7 9h1M20 10h1M26 10h1M31 10h1M36 10h1M17 11h1M17 12h1M34 12h1M32 13h1M52 13h1M5 14h1M23 14h1M24 15h1M26 15h1M31 16h1M40 16h2M41 17h1M5 18h1M56 18h1M40 19h1M14 20h1M0 21h1M13 21h1M18 21h1M21 22h2M13 23h1M35 23h1M13 24h1M45 24h2M10 25h1M12 25h1M15 25h1M36 25h1M39 25h1M10 26h1M38 26h1M44 26h1M49 26h1M0 27h1M2 27h1M11 27h1M30 27h1M35 27h1M37 27h1M44 27h1M49 27h1M51 27h1M1 28h1M11 28h2M32 28h1M51 28h1M55 28h2M32 29h1M46 29h1M1 30h1M26 30h1M42 30h1M55 30h1M9 31h1M18 31h1M37 31h1M18 32h1M20 32h1M30 32h1M29 33h1M43 33h1M0 34h1M7 34h1M9 34h1M9 35h1M26 35h1M37 35h2M3 37h1M30 37h3M48 37h1M16 38h1M28 38h2M39 38h1M48 38h1M55 38h1M21 39h1M36 39h1M10 40h1M20 40h1M20 41h1M23 41h1M6 42h1M11 42h1M23 42h1M34 42h1M42 42h1M1 43h1M4 43h1M12 43h1M22 43h1M43 43h1M49 43h1M43 44h1M55 44h2M15 45h1M21 45h1M31 45h1M37 45h1M52 45h1M22 46h1M29 46h2M45 46h1M45 47h1M52 47h1M54 47h1M1 48h1M4 48h1M12 48h1M18 48h1M29 49h1M38 49h1M4 50h1M6 50h1M18 50h1M27 50h1M44 50h1M41 51h1M50 51h1M52 51h1M55 51h1M10 52h1M24 52h1M29 52h1M31 52h1M41 52h1M52 52h1M4 53h1M34 53h1M14 54h1M28 54h1M48 54h1M12 55h1M30 55h1M10 56h1M27 56h1M7 57h1M17 57h1M28 57h1M51 57h1M54 57h1M29 58h1M33 58h1M44 58h1M33 59h1M41 59h1M48 59h1M39 60h1M46 60h1M14 61h1M46 61h1M0 62h1M10 62h1M28 62h1M34 62h1M54 62h1M10 63h1M20 63h1M23 63h1M25 63h1M38 63h1M48 63h1M16 64h1M21 64h1M27 64h1M51 64h1M22 65h2M32 65h1M34 65h1M41 65h1M55 66h1M56 68h1M2 69h1M32 69h1M35 69h1M52 69h1M1 70h1M34 70h1M36 70h1M46 70h1M1 71h1M26 71h1M38 71h2M51 71h1M6 72h1M20 72h1M38 72h2M18 73h1M54 73h2M2 74h1M10 74h1M27 74h1M44 74h1M10 75h1M20 75h1M40 75h1M43 75h1M56 75h1M4 76h1M19 76h1M44 76h1M4 77h1M15 77h1M43 77h1M45 77h1M52 77h1M5 78h1M9 78h1M28 78h2M31 78h1M37 79h1M46 79h1M53 79h1M43 80h1M54 80h1M19 81h1M21 81h1M25 81h1M53 81h1M19 82h1M5 83h1M8 83h1M31 83h1M37 83h1M14 84h1M27 84h1M43 84h1M48 84h1M12 85h1M24 85h1M29 85h1M33 85h1M40 85h1M42 85h1M51 85h1M54 85h1M4 86h2M19 86h1M21 86h1M29 86h1M10 88h1M24 88h1M28 88h1M33 88h1M38 88h1M28 89h1M37 89h1M41 89h1M0 90h1M2 90h1M10 90h1M23 90h1M1 91h1M24 91h1M44 91h1M0 92h1M2 92h1M26 92h1M19 93h1M22 93h1M29 93h1M40 93h2M52 93h1M22 94h1M34 94h1M15 95h1M35 95h1M37 95h1M41 95h1M54 95h1M24 96h1M41 96h1M16 97h1M37 97h1M44 97h1M55 97h1M7 98h1M30 98h1M39 98h1M32 99h1M12 100h1M33 100h1M46 101h1M0 103h1M38 103h2M49 103h1M52 103h1M25 104h1M37 105h1M20 106h1M2 107h1M20 107h1M46 107h1M0 108h1M13 108h1M28 108h2M37 108h1M10 109h1M16 109h1M33 110h1M47 110h1M7 111h1M15 112h2M24 112h1M26 112h1M28 112h1M31 112h1M51 112h1M10 113h1M31 113h1M41 113h1M49 113h1M23 114h1M36 114h1M48 114h1M10 115h1M21 115h1M27 115h1M53 115h2M10 116h3M21 117h1M29 117h3M50 117h1M6 118h1M38 118h1M54 118h1M24 119h1M30 119h1M34 119h1M38 119h1M0 120h1M0 121h1M15 121h2M19 121h1M27 121h1M45 121h1M7 122h1M22 122h1M6 123h1M16 123h1M52 123h1M19 124h1M34 124h1M1 125h1M12 125h1M23 125h1M10 126h1M43 126h1M22 127h1M21 128h2M34 128h1M36 128h1M41 128h1M22 129h1M24 129h1M27 129h1M13 130h1M16 130h1M38 130h1M26 131h1M38 131h1M36 132h1M54 132h2M1 133h1M37 133h1M11 134h1M20 134h1M39 134h1M54 134h1M32 135h1M38 135h1M41 135h1M46 136h1M10 137h1M33 137h1M37 137h1M45 137h1M6 138h1M17 138h1M19 138h2M37 138h1M44 138h1M2 139h1M10 139h1M42 139h1M52 139h1M18 140h1M20 140h1M23 140h1M28 140h1M34 140h1M12 141h1M2 142h1M7 142h1M9 142h1M16 142h1M18 142h1M28 142h1M42 142h1M55 142h1M38 143h1M32 145h1M30 146h1M55 146h1M40 147h1M44 147h1M9 148h1M19 149h1M22 149h1M47 149h1M56 149h1M12 151h1M15 151h1M30 152h1M4 153h1M18 153h1M37 153h1M45 153h1M24 154h1M49 154h1M8 155h1M10 155h1M15 155h1M27 155h1M1 156h1M12 156h1M19 156h1M52 156h1M1 157h1M56 158h1M10 159h1M49 159h1M55 159h1M24 160h1M35 160h1M38 160h1M50 161h1M4 162h1M10 163h1M28 163h1M36 163h1M7 165h1M48 165h1M25 166h1M5 167h1M24 167h1M49 167h1M7 168h1M17 168h1M27 169h1M49 169h1M20 170h1M24 170h2M47 170h1M41 172h1M49 172h1M15 173h1M23 173h1M8 175h1M10 175h2M18 175h1M26 175h1M9 176h1M20 176h2M23 176h1M15 177h1M19 177h1M5 178h1M7 178h1M39 178h1M51 178h1M37 179h2M0 180h1M9 180h1M31 180h1M8 181h1M19 181h1M24 182h1M26 182h1M45 182h1M21 185h1M2 186h2M30 187h1M43 187h1M48 187h1M11 188h1M22 188h1M49 188h1M9 189h1M36 189h1M33 190h1M38 190h1M11 191h1M13 191h1M15 191h1M21 192h1M26 192h1M20 193h1M3 195h1M15 195h1M27 195h2M33 195h1M44 195h1M48 195h1M55 195h1M18 196h1M37 196h2M45 196h1M55 197h1M27 198h1M18 199h1M50 199h1M0 200h1M20 200h1M39 201h1M51 202h1M6 203h1M15 203h1M39 203h1M0 204h1M23 204h1M11 206h1M15 206h1M38 206h1M0 207h2M29 207h1M23 208h1M29 208h1M17 210h1M34 210h1M0 211h2M46 211h1M27 212h1M45 212h1M32 213h1M41 213h1M43 213h1M12 216h1M25 216h1M56 216h1M1 217h2M25 217h1M50 218h1M15 219h2M42 219h1M56 219h1M8 220h1M11 220h1M48 220h1M51 220h1M43 221h1M27 222h1M35 222h1M40 222h1M45 222h1M4 223h1M37 223h1M45 224h1M5 225h1M5 226h1M16 226h1M6 229h1M12 229h1M49 229h1M52 229h1M9 230h1M6 231h1M9 231h1M15 231h1M37 231h1M44 232h1M55 234h1M4 235h2M8 235h1M11 235h1M38 235h1M5 236h1M9 236h1M16 236h1M48 236h1M6 237h1M16 237h2M46 237h1M16 238h1M55 238h1M5 239h1M14 239h1M50 239h2M5 240h1M7 240h1M10 240h1M15 240h1M50 240h1M8 241h1M34 241h1M5 242h1M23 242h1M4 243h1M24 243h2M50 243h1M51 244h1M0 245h1M41 245h1M5 246h1M8 247h1M16 247h1M50 247h1M3 248h1M34 249h1M2 250h1M6 250h1M31 250h2M0 252h1M13 252h1M22 252h1M7 253h1M6 256h1M16 256h1M33 256h1M39 257h1M48 257h1M52 259h1M55 260h1M25 262h1M27 262h1M48 262h1M39 263h1M46 263h1M27 264h1M42 265h1M36 266h1M2 267h1M36 267h2M23 269h1M18 270h1M27 270h1M43 270h1M43 272h1M45 272h1M18 273h1M7 274h1M11 274h1M13 274h1M52 275h1M55 275h1M4 276h1M6 276h1M0 278h1M55 278h1M15 279h1M25 280h1M7 281h2M18 281h1M25 282h1M54 282h1M6 283h1M46 283h1M1 285h1M6 285h1M34 285h1M5 286h2M1 287h2M37 287h1M33 288h1M29 294h1M6 295h1M12 295h1M41 295h1M6 297h1M20 297h1M46 297h1M0 298h1M44 298h1M31 299h1M48 299h1M53 299h1M32 301h1M12 302h1M18 302h2M37 302h1M9 305h1M4 306h1M8 306h1M36 306h2M44 308h1M54 308h1M50 309h1M5 310h1M24 310h1M52 310h1M23 311h1M25 311h1M15 312h1M43 312h1M0 313h1M10 314h1M42 314h1M45 314h2M48 314h1M16 315h1M19 316h1M47 316h1M36 319h2M24 320h1M44 320h1M10 321h1M24 321h1M27 321h1M34 321h1M36 321h1M13 322h1M50 323h1M4 325h1M41 325h1M51 325h1M16 326h1M12 327h1M48 327h1M51 327h1M15 328h1M18 328h1M45 329h1M18 330h1M39 330h1M51 332h1M26 333h1M30 334h1M5 336h1M35 336h1M39 336h1M53 336h1M36 337h1M40 337h1M1 339h1M9 339h1M31 340h1M16 341h1M24 341h1M18 342h1M29 342h1M49 342h1M7 343h1M9 343h1M11 343h1M15 343h1M37 343h1M39 343h1M45 343h1M24 344h1M1 345h1M6 345h1M19 345h1M17 346h1M22 348h1M40 349h1M40 351h2M9 353h1M13 353h1M51 353h1M34 354h2M9 355h1M23 355h1M32 356h1M36 356h1M21 358h1M31 358h1M46 358h1M8 359h2M27 359h1M5 360h1M42 361h1M45 361h1M48 363h1M6 364h1M17 364h1M28 365h1M39 365h1M48 365h1M19 366h1M40 367h1M28 368h1M11 369h1M40 369h1M14 371h1M49 372h1M27 373h1M10 375h1M41 376h1M32 378h2M26 379h1M51 379h1M17 380h1M34 380h1M28 382h1M25 384h1M39 384h1M49 385h1M5 388h1M18 388h2M9 389h1M37 389h1M39 389h1M46 391h1M27 394h1M48 395h1M1 396h1M55 396h1M5 399h1M10 399h1M2 401h1M25 401h1M5 402h1M2 404h1M44 407h1M51 407h1M14 408h1M2 409h1M19 410h1M45 410h1M7 411h1M55 411h1M23 415h1M28 415h1M9 416h1M11 416h1M26 418h1M20 419h1M54 419h1M32 420h1M2 422h1M0 423h1M22 423h1M55 425h1M16 426h1M39 426h1M18 427h2M32 427h2M33 429h1M38 430h1M48 431h1M27 432h1M49 432h1M45 433h1M1 434h1M21 434h1M7 436h1M19 437h1M24 437h1M28 437h2M49 438h1M35 439h1M47 439h3"/>
<path stroke="#00c6ff" d="M6 2h1M14 4h1M2 5h1M22 5h1M40 6h1M11 7h1M14 7h1M30 7h1M39 7h1M25 8h1M49 9h1M11 11h1M25 11h1M37 11h1M43 11h1M13 12h1M50 12h1M11 13h1M46 13h1M3 14h1M56 14h1M17 15h1M21 15h1M28 15h1M37 15h1M47 15h1M37 16h1M46 16h1M55 16h1M25 17h1M42 17h1M25 18h1M27 18h1M26 19h1M8 20h1M26 20h1M19 21h1M29 21h1M55 21h1M11 22h1M27 22h1M35 22h1M33 23h1M7 24h1M9 24h1M29 24h1M48 24h1M50 24h1M18 25h1M52 25h1M15 26h1M32 26h1M37 26h1M45 26h1M13 27h1M27 28h1M37 28h1M46 28h1M20 29h1M31 29h1M43 29h1M36 30h1M51 30h1M21 31h1M29 31h1M38 31h1M56 32h1M17 33h1M54 33h1M1 34h1M3 34h1M8 35h1M13 35h1M3 36h1M11 36h1M14 36h1M32 36h1M45 36h1M54 36h1M13 37h1M38 37h1M51 37h1M55 37h1M11 38h1M54 38h1M28 39h1M51 39h1M54 39h1M29 40h1M42 40h1M2 41h1M22 41h1M31 41h2M46 41h1M22 42h1M8 43h1M48 43h1M55 43h1M6 44h1M8 44h1M27 44h1M32 44h1M40 44h1M46 44h1M13 45h1M35 45h1M40 45h1M54 45h1M26 46h1M56 47h1M20 48h1M34 48h1M0 49h1M6 49h1M43 49h1M49 49h1M10 50h1M13 50h2M25 50h1M30 50h1M51 50h1M56 50h1M10 51h1M27 51h1M51 51h1M20 52h1M34 52h1M49 52h1M5 53h1M7 53h1M17 53h1M21 53h2M35 53h1M41 53h1M15 54h1M27 54h1M32 54h1M38 54h1M42 54h1M13 55h1M16 55h1M31 55h1M3 56h1M13 56h1M28 56h1M38 56h1M22 57h1M40 58h1M3 59h1M54 59h1M10 60h1M4 61h2M24 61h1M39 61h1M44 61h1M47 61h1M4 62h1M35 62h1M43 62h1M3 63h1M11 63h1M16 63h1M26 63h1M32 63h1M42 63h1M54 63h1M12 64h2M26 64h1M28 64h1M0 65h1M6 65h1M29 65h1M51 65h1M1 66h1M3 66h1M6 66h1M40 66h1M13 67h1M16 67h2M21 67h1M24 68h1M55 68h1M23 70h2M37 70h1M43 70h3M50 70h1M55 70h1M42 71h1M9 72h1M38 73h1M49 73h1M0 74h1M41 74h1M54 74h1M12 75h1M16 75h1M42 75h1M1 76h1M7 76h1M12 76h1M30 76h1M1 77h1M16 77h1M2 78h2M22 78h1M54 78h1M34 79h1M48 79h1M3 80h1M22 81h1M31 81h1M40 81h1M54 81h1M36 82h2M45 82h1M14 83h1M25 84h1M11 85h1M17 85h2M25 85h1M37 85h3M56 85h1M3 86h1M7 86h1M2 87h1M7 87h1M39 87h1M44 87h1M0 88h1M18 88h2M21 88h1M56 88h1M27 89h1M29 89h1M40 89h1M8 90h1M11 90h1M42 90h1M34 91h1M18 92h1M33 92h1M32 93h1M49 93h1M19 94h1M28 94h1M39 94h1M0 95h1M15 98h1M29 98h1M32 98h1M14 99h1M30 99h1M11 100h1M25 100h1M45 100h1M8 101h1M17 101h1M40 101h1M13 102h1M38 102h2M8 103h1M40 103h1M51 103h1M6 104h1M21 104h2M28 105h1M13 106h1M19 107h1M49 107h1M1 108h1M14 108h1M47 108h1M56 108h1M11 109h1M21 109h1M34 109h1M36 109h1M24 110h1M35 110h1M30 112h1M35 112h1M1 114h1M47 114h1M48 115h2M7 116h1M25 116h2M5 117h1M38 117h1M42 117h1M44 117h1M47 117h1M3 118h1M18 118h2M21 118h1M24 118h1M30 118h1M22 119h2M28 119h1M56 119h1M24 121h1M28 121h1M38 121h1M3 122h1M20 122h1M24 122h2M55 122h1M5 123h1M7 123h1M22 123h1M24 123h1M22 124h1M28 124h2M40 124h1M6 125h1M9 125h1M21 125h1M55 125h2M14 126h1M17 126h1M19 126h1M25 126h1M30 127h1M9 128h2M25 128h1M6 129h1M25 130h1M0 131h1M18 131h1M21 131h1M24 131h1M49 131h2M1 132h1M53 132h1M48 133h1M4 134h1M12 134h1M34 134h1M51 134h1M13 136h1M28 136h1M45 136h1M32 137h1M35 137h1M4 138h1M41 139h1M53 139h1M12 140h1M36 140h2M54 140h1M25 141h1M4 142h1M6 142h1M14 142h1M51 143h1M7 144h1M50 145h2M56 146h1M27 149h1M30 149h1M32 149h1M54 149h2M9 152h1M24 152h1M32 152h1M7 153h1M52 153h1M45 154h1M19 155h1M22 155h1M18 156h1M35 156h1M53 156h1M55 156h2M12 157h1M14 160h1M23 161h1M30 163h1M9 165h1M11 166h1M46 166h1M44 167h2M50 167h1M15 168h1M53 168h1M10 169h1M19 169h1M2 171h1M0 172h1M10 172h1M47 172h2M10 174h1M47 174h1M13 176h1M34 176h1M17 177h1M27 178h2M10 179h1M13 179h1M41 180h1M13 183h1M47 183h1M25 185h1M30 185h1M54 185h1M56 185h1M25 186h1M21 189h1M27 189h1M48 189h1M1 190h1M4 190h1M22 191h2M38 191h1M2 195h1M8 195h1M25 195h1M45 195h1M47 195h1M6 196h1M6 199h1M51 199h1M50 200h1M25 202h1M56 202h1M46 203h1M19 205h1M36 205h1M9 206h1M32 206h1M56 206h1M40 208h1M4 209h1M31 210h1M35 210h1M32 211h1M7 212h1M44 212h1M33 213h1M9 214h1M51 216h1M24 217h1M48 217h1M50 217h1M54 218h1M13 219h2M49 219h1M55 219h1M49 220h1M42 221h1M20 222h1M38 222h1M48 222h1M50 222h1M55 222h1M21 223h1M38 223h1M5 224h1M16 224h1M50 224h1M8 225h1M10 225h1M54 227h1M8 228h1M8 230h1M10 230h1M36 230h1M8 231h1M16 231h1M18 231h1M8 232h1M47 232h2M20 233h1M48 233h2M11 234h1M7 235h1M12 235h1M26 235h1M51 236h1M6 238h2M49 239h1M0 241h1M6 241h1M38 241h1M50 241h1M8 242h1M40 242h1M49 243h1M21 244h1M23 244h1M4 245h2M11 247h1M8 249h1M16 249h1M9 256h1M46 257h1M22 258h1M1 259h1M24 259h1M1 260h1M37 261h1M50 262h1M11 265h1M24 269h1M6 271h1M49 271h1M8 272h1M44 272h1M1 274h1M5 274h1M14 274h1M51 274h1M2 275h1M50 275h1M16 277h1M44 277h1M17 279h1M56 279h1M48 280h1M0 281h1M15 281h1M54 281h1M24 283h1M26 283h1M37 283h1M49 284h1M7 286h1M12 286h1M9 290h1M48 291h1M48 292h1M5 293h1M5 295h1M11 295h1M45 297h1M39 298h1M52 299h1M8 302h1M1 304h1M28 304h1M55 307h1M45 308h1M0 309h1M37 309h1M46 310h1M7 311h1M12 311h1M48 312h1M1 313h2M7 314h1M19 315h1M38 319h1M10 320h1M8 321h1M8 322h1M19 323h1M36 325h1M4 327h1M32 328h1M7 330h1M42 330h1M25 333h1M41 335h2M18 336h1M32 336h1M36 336h1M55 336h1M33 337h1M37 337h1M41 337h1M11 339h1M22 342h1M19 346h1M52 347h1M8 348h1M49 348h1M39 349h1M37 351h1M11 352h1M25 352h1M56 352h1M12 355h1M55 355h2M12 357h1M9 358h1M7 359h1M6 360h1M46 361h1M27 362h1M7 364h1M15 364h1M49 365h2M15 366h1M20 366h1M30 366h1M16 367h1M18 367h1M30 369h1M39 369h1M45 370h1M45 371h1M39 376h1M8 377h1M52 379h1M33 380h1M56 380h1M55 382h1M56 384h1M4 387h1M12 387h1M37 387h2M0 391h1M46 395h2M0 401h1M5 401h1M4 402h1M1 404h1M25 405h1M37 406h1M3 410h1M31 412h1M10 416h1M16 422h1M17 428h1M52 431h1M8 434h1M22 434h2M26 435h3M42 435h1M21 437h2M53 437h1M0 439h1"/>
<path stroke="#00e3f9" d="M42 5h1M14 6h1M30 6h1M53 6h1M51 8h1M56 8h1M8 9h1M24 9h1M37 10h1M51 10h1M54 10h1M19 11h1M7 12h1M45 12h1M20 13h1M47 13h1M51 13h1M13 15h1M15 15h1M12 16h1M47 16h1M26 17h1M36 17h1M51 17h1M10 18h1M12 18h1M26 18h1M38 18h1M52 18h1M7 19h1M28 19h1M51 19h1M36 20h1M46 20h1M7 21h2M35 21h1M43 21h1M25 23h1M34 23h1M50 23h1M8 24h1M12 24h1M14 24h1M41 24h1M0 25h2M51 25h1M4 26h1M20 26h1M36 26h1M3 27h2M7 27h1M10 27h1M12 27h1M16 27h1M29 27h1M33 27h1M18 28h1M23 28h1M30 28h1M34 28h1M8 29h1M12 29h1M23 29h1M30 29h1M42 29h1M49 29h1M14 30h1M40 30h1M19 31h1M56 31h1M2 32h2M23 32h1M46 32h1M26 33h1M32 33h1M42 33h1M2 34h1M4 34h1M15 34h1M37 34h1M48 34h1M51 34h1M56 34h1M14 35h1M25 35h1M51 35h1M51 36h2M55 36h1M6 37h1M4 38h1M36 38h1M19 39h1M40 39h1M49 39h2M53 39h1M55 39h1M2 40h1M15 40h2M23 40h1M33 40h1M37 40h1M40 40h1M50 40h1M53 40h1M10 41h1M18 42h1M21 42h1M29 42h2M45 43h1M54 43h1M17 44h1M45 44h1M17 45h1M7 46h1M28 46h1M27 47h1M30 47h1M48 47h1M43 48h1M29 50h1M32 50h1M38 50h2M47 50h2M50 50h1M52 50h1M13 51h2M28 51h1M2 52h2M19 52h1M16 53h1M44 53h1M54 53h1M8 54h1M49 54h1M53 54h1M17 55h1M23 55h1M28 55h2M32 55h1M56 55h1M0 56h1M17 56h3M5 57h1M18 57h1M33 57h1M2 58h2M13 58h1M30 58h1M32 58h1M52 58h1M40 59h1M7 60h1M12 61h2M26 61h1M8 62h1M11 62h1M30 62h1M51 63h1M24 64h1M34 64h2M45 64h1M49 64h1M53 64h2M12 65h1M53 65h1M22 66h1M28 66h1M33 66h1M20 67h1M37 68h1M53 68h2M49 69h1M20 71h2M49 71h1M17 72h1M33 73h1M35 73h1M50 73h1M34 74h1M53 75h1M2 76h1M42 76h1M9 77h2M53 77h1M8 78h1M39 78h1M38 79h1M42 79h1M16 80h1M12 81h1M49 81h1M22 82h1M30 82h1M9 83h1M46 83h1M56 83h1M55 84h1M13 85h1M30 85h2M44 86h2M0 87h1M46 88h1M6 89h1M7 90h1M9 90h1M22 90h1M56 92h1M36 93h1M53 93h1M46 94h1M16 95h1M36 95h1M40 95h1M0 97h1M8 97h1M20 97h2M25 97h1M45 97h1M4 99h1M12 99h1M54 99h1M2 101h1M43 102h1M48 102h1M37 103h1M0 107h1M23 107h1M47 107h1M22 110h2M34 110h1M29 111h1M1 112h1M12 112h2M19 112h1M25 112h1M34 113h1M38 113h1M48 113h1M38 114h1M22 115h1M52 115h1M47 116h3M10 117h2M23 117h1M39 117h2M43 117h1M46 117h1M48 117h1M55 117h1M26 118h1M5 121h1M22 121h1M46 121h1M25 123h1M0 124h1M15 126h1M20 126h1M22 126h2M25 127h1M23 128h2M27 128h1M42 128h1M23 129h1M15 130h1M39 130h1M11 131h1M0 132h1M9 133h1M40 134h1M55 134h1M22 136h1M25 136h1M29 136h1M12 137h1M34 137h1M3 139h1M44 139h1M19 140h1M15 142h1M43 142h1M24 143h1M26 144h1M49 145h1M32 146h1M22 147h2M43 147h1M10 148h1M31 149h1M43 149h1M0 152h2M41 152h1M19 153h1M21 155h1M39 155h1M55 155h1M39 156h1M2 157h1M25 157h1M6 159h1M23 159h1M36 160h1M49 161h1M29 163h1M35 165h1M53 166h1M32 167h1M36 167h1M53 167h1M21 168h1M46 170h1M48 170h1M49 171h1M8 172h1M45 172h1M6 175h2M49 177h1M24 178h1M49 178h1M32 180h1M55 180h1M36 184h1M40 184h1M23 185h1M37 187h1M47 187h1M47 188h2M22 189h2M26 189h1M8 191h1M36 191h1M23 192h1M19 193h1M14 194h1M35 194h1M8 196h1M56 197h1M10 199h2M17 199h1M52 199h1M35 200h1M52 200h1M18 201h1M24 203h1M1 204h2M10 206h1M28 208h1M19 216h1M55 216h1M5 217h1M49 218h1M7 219h1M39 219h1M34 221h2M39 221h1M50 221h1M7 224h1M49 224h1M6 225h1M11 225h2M5 227h1M7 227h1M7 229h2M5 230h1M38 230h1M10 231h1M12 231h1M6 232h1M46 232h1M7 233h1M7 237h1M18 237h1M5 238h1M8 238h1M33 241h1M49 244h1M2 245h1M46 245h1M6 247h2M51 247h1M30 250h1M33 250h1M10 254h1M8 256h1M43 257h1M56 260h1M2 265h1M28 268h1M22 269h1M47 269h1M8 271h1M46 272h1M49 273h1M8 274h1M15 274h1M27 275h1M51 275h1M16 279h1M1 281h1M17 281h1M32 285h1M11 294h1M42 296h1M44 297h1M50 300h1M16 302h1M7 306h1M22 306h1M35 306h1M43 310h1M17 315h1M35 319h1M46 320h1M15 321h1M56 321h1M12 322h1M1 324h1M14 325h1M11 327h1M52 327h1M5 330h1M34 337h2M38 337h2M27 342h1M16 343h1M45 344h1M6 348h1M21 348h1M37 349h1M36 354h1M33 358h1M0 360h1M30 361h1M24 379h1M3 399h1M8 399h1M1 401h1M3 401h1M12 403h1M3 404h1M52 407h1M26 413h1M28 413h1M0 414h1M15 414h1M3 416h2M1 417h1M30 424h2M56 424h1M10 425h1M17 426h1M18 428h1M18 429h1M16 431h1M29 435h1"/>
<path stroke="#15ffe2" d="M9 3h2M49 4h1M7 5h1M33 5h1M38 5h1M56 5h1M9 6h1M45 7h1M15 9h1M18 9h1M22 9h1M6 10h1M9 10h1M21 10h1M30 10h1M26 11h1M21 12h1M53 12h1M55 12h1M41 13h1M6 14h1M9 14h1M24 14h1M33 15h1M39 15h1M46 15h1M54 15h1M21 16h1M50 16h1M54 16h1M3 18h1M39 18h1M51 18h1M20 19h1M47 19h1M22 20h1M43 20h2M9 21h1M23 21h1M32 21h1M51 21h1M33 22h1M44 22h1M9 23h1M21 23h1M42 23h1M15 24h1M49 24h1M48 25h1M53 25h1M18 26h1M50 26h1M55 26h1M22 27h1M31 27h1M43 27h1M22 28h1M15 29h1M44 29h1M55 29h1M33 30h1M43 30h1M0 31h1M13 31h1M34 31h1M14 33h1M21 35h1M34 35h1M49 35h1M54 35h1M27 36h2M36 36h1M5 37h1M28 37h1M36 37h1M6 38h1M45 38h1M6 39h1M12 39h1M29 39h1M46 39h1M6 40h1M14 40h1M22 40h1M34 40h1M44 40h1M19 41h1M51 42h1M5 43h1M10 43h1M17 43h1M27 43h1M42 43h1M52 43h1M2 44h2M26 44h1M53 44h2M46 45h1M6 46h1M12 46h1M0 47h1M2 47h2M14 47h1M32 47h1M37 47h1M53 47h1M0 48h1M27 48h1M9 49h2M37 49h1M3 50h1M5 50h1M35 50h1M42 50h1M49 50h1M11 51h1M45 51h1M49 51h1M37 52h2M46 52h1M3 53h1M8 53h1M14 53h1M31 53h1M39 53h1M5 54h1M16 54h1M47 54h1M39 56h1M30 57h1M55 57h1M12 58h1M14 58h1M18 58h1M41 58h1M37 59h1M35 60h1M45 60h1M56 60h1M6 61h1M27 61h1M37 61h1M51 61h1M54 61h1M34 63h1M53 63h1M2 64h1M44 64h1M1 65h1M27 65h2M16 66h1M31 66h1M23 67h1M13 68h1M27 68h1M35 68h1M39 68h1M14 69h1M48 70h1M40 71h1M48 71h1M15 72h1M31 72h1M49 72h1M51 73h1M11 75h1M31 76h1M50 77h1M0 78h1M4 78h1M19 78h1M30 78h1M37 78h1M52 79h1M2 80h1M18 80h1M11 81h1M20 81h1M24 81h1M34 81h1M23 82h1M8 84h1M49 84h1M10 86h1M55 86h2M49 87h1M51 87h1M1 88h1M39 88h1M0 89h1M3 90h1M34 90h1M12 91h1M22 95h1M15 99h2M31 99h1M37 99h1M56 99h1M16 100h1M0 101h1M11 101h2M18 101h1M35 101h1M9 102h1M11 104h1M20 104h1M50 107h1M27 108h1M48 108h1M25 109h1M4 110h1M46 110h1M25 113h1M30 113h1M40 113h1M40 114h1M0 115h1M9 116h1M9 117h1M12 117h1M41 117h1M39 118h1M21 119h1M37 119h1M22 120h1M14 121h1M25 121h1M19 122h1M51 123h1M23 124h1M26 125h1M49 125h1M5 127h1M23 127h1M35 128h1M37 128h1M5 129h1M45 131h1M46 132h1M27 133h1M6 134h1M27 134h1M13 137h1M42 137h1M3 138h1M12 138h1M38 138h2M27 139h1M45 139h1M26 140h1M39 142h2M56 142h1M27 143h1M34 145h1M27 146h2M46 147h1M1 153h1M18 155h1M51 161h1M22 163h2M31 163h1M35 163h1M9 166h1M23 166h2M9 169h1M28 170h1M0 171h1M50 171h1M1 172h1M50 172h1M19 175h1M7 181h1M55 185h1M1 187h1M41 189h1M37 192h1M18 193h1M26 195h1M22 196h1M2 197h1M54 197h1M42 198h1M52 198h1M2 200h1M22 202h1M51 218h1M18 222h1M37 222h1M6 226h2M6 227h1M6 228h1M5 229h1M10 229h1M6 230h1M12 230h1M37 230h1M39 230h1M11 231h1M24 235h2M6 236h1M10 236h1M19 237h1M7 239h1M48 241h1M48 242h3M37 243h1M48 243h1M50 244h1M16 248h1M44 257h2M15 258h1M0 260h1M49 262h1M28 266h1M6 274h1M9 274h1M28 275h1M24 280h1M56 281h1M52 282h1M56 282h1M7 283h1M27 283h1M8 290h1M5 294h2M28 294h1M3 300h1M5 302h1M25 310h1M44 310h1M39 314h1M7 315h1M16 322h1M8 327h1M16 328h1M6 330h1M56 330h1M8 339h1M39 351h1M28 354h1M34 356h1M25 379h1M16 380h1M0 396h1M9 399h1M21 406h1M56 411h1M25 413h1M27 413h1M6 416h1M18 426h1M14 429h1"/>
<path stroke="#2bffcb" d="M7 1h1M32 4h1M11 5h1M47 6h1M23 7h1M37 7h1M12 9h1M48 9h1M33 11h1M27 13h1M43 13h1M25 14h1M19 15h1M23 15h1M14 16h1M16 16h1M26 16h2M53 16h1M44 17h1M52 17h1M2 18h1M13 18h1M34 18h1M36 18h1M31 19h1M39 19h1M19 20h1M30 20h1M48 20h1M53 20h1M1 21h1M11 21h1M17 21h1M33 21h2M53 21h1M12 22h1M0 23h1M22 23h1M28 23h1M24 25h1M27 25h2M54 25h1M19 26h1M48 26h1M53 26h2M17 27h1M2 28h1M10 28h1M33 28h1M3 29h1M18 29h1M21 29h1M35 29h1M38 29h1M51 29h1M23 30h1M31 30h1M39 30h1M49 30h1M54 30h1M7 31h1M47 31h1M17 32h1M22 32h1M38 32h1M43 32h1M0 33h1M27 33h1M40 33h1M56 33h1M12 34h1M33 34h1M43 34h1M0 35h1M29 35h1M36 35h1M29 37h1M49 37h1M56 37h1M5 38h1M13 38h2M39 39h1M56 39h1M55 40h1M43 42h1M46 42h2M34 43h2M39 43h1M23 44h1M42 44h1M52 44h1M22 45h1M41 45h1M35 46h1M55 46h1M34 47h1M2 48h1M28 48h2M38 48h1M8 50h1M19 50h1M46 50h1M5 51h1M0 52h2M9 52h1M16 52h1M51 52h1M15 53h1M20 53h1M28 53h1M30 53h1M40 53h1M11 55h1M24 55h1M54 56h1M0 58h1M15 58h1M17 58h1M1 59h1M4 59h1M12 59h1M14 59h1M31 59h1M38 59h2M3 60h1M19 60h1M48 61h1M13 62h1M29 62h1M27 63h1M47 63h1M47 64h1M7 66h1M18 66h1M24 66h1M26 66h1M35 66h1M41 66h1M52 66h1M25 67h1M15 68h1M29 68h1M32 68h1M38 68h1M41 68h1M22 71h1M41 71h1M12 72h1M32 72h1M42 72h1M14 73h2M52 73h1M37 74h1M52 74h2M31 75h1M54 76h1M1 78h1M13 78h1M23 78h1M42 78h1M13 79h1M39 79h1M27 82h2M23 83h1M6 84h1M50 84h1M52 84h1M5 90h1M45 91h1M16 92h1M50 93h1M19 95h1M24 95h1M38 95h1M56 95h1M22 97h1M16 98h1M55 99h1M35 100h1M1 101h1M3 101h1M13 101h1M39 101h1M44 102h1M9 103h1M9 104h1M8 106h1M22 107h1M26 107h2M16 108h1M21 110h1M28 110h1M31 111h1M23 113h2M24 114h1M41 114h1M27 116h1M22 117h1M24 117h1M26 117h1M5 118h1M22 118h1M39 119h1M23 120h1M36 121h1M24 124h2M22 125h1M6 127h1M38 128h2M47 132h1M11 133h1M36 133h1M5 134h1M52 135h1M24 136h1M2 138h1M13 138h1M26 138h2M24 139h1M54 139h1M22 140h1M17 142h1M24 142h1M37 146h1M26 147h1M29 152h1M15 153h1M9 155h1M13 157h1M22 162h1M10 166h1M52 167h1M10 168h1M50 170h1M56 179h1M11 183h2M26 185h1M0 187h1M24 189h1M52 189h1M19 190h1M9 191h1M25 192h1M17 193h1M9 195h1M16 195h1M0 197h1M9 199h1M45 205h2M7 215h1M52 216h1M49 217h1M48 219h1M51 219h1M7 220h1M9 220h1M11 223h1M5 228h1M7 228h1M5 232h1M7 232h1M6 233h1M6 235h1M5 237h1M51 240h1M24 244h1M48 244h1M9 247h1M51 250h1M8 270h1M7 271h1M7 273h2M55 281h1M6 293h1M7 294h1M27 294h1M44 296h1M10 298h1M2 300h1M4 302h1M11 302h1M6 306h1M8 312h1M34 319h1M7 325h1M10 327h1M33 336h2M28 342h1M18 346h1M38 351h1M7 360h1M46 365h1M56 379h1M2 396h1M20 406h1M10 411h1M32 412h1M5 416h1M0 417h1"/>
<path stroke="#42ffb5" d="M28 2h1M29 3h1M36 4h1M18 5h1M29 5h1M8 6h1M12 6h1M37 6h1M42 7h1M44 7h1M50 7h1M52 7h1M56 7h1M19 8h1M32 8h1M37 8h1M6 9h1M14 9h1M26 9h2M43 9h1M56 10h1M12 11h1M51 12h1M36 13h1M42 13h1M10 14h1M2 15h1M50 15h1M4 16h1M6 16h1M32 16h2M49 16h1M0 17h1M46 17h1M35 18h1M48 18h1M41 19h1M45 19h1M6 20h1M17 20h1M35 20h1M50 20h1M10 21h1M36 21h1M46 21h1M10 23h1M23 23h1M6 24h1M10 24h1M34 24h1M17 25h1M34 25h1M25 26h1M27 26h1M35 26h1M53 27h1M56 27h1M21 28h1M49 28h1M56 29h1M20 30h1M15 31h1M10 32h1M54 32h1M39 33h1M41 33h1M8 34h1M38 34h1M4 35h1M33 35h1M55 35h2M6 36h1M17 36h1M29 36h1M38 36h1M43 37h1M2 38h1M22 38h1M49 38h1M2 39h1M28 40h1M49 40h1M56 40h1M50 41h1M53 41h1M5 42h1M12 42h1M45 42h1M38 43h1M40 43h1M5 44h1M10 44h1M47 44h1M4 46h1M46 46h1M1 47h1M5 47h1M16 47h1M9 48h1M13 48h1M42 48h1M9 50h1M26 50h1M44 51h1M36 52h1M47 52h1M13 53h1M47 53h2M43 54h1M46 54h1M16 56h1M46 56h1M55 58h1M0 59h1M32 59h1M44 60h1M50 60h2M3 62h1M14 62h1M31 62h1M52 63h1M9 64h1M5 67h1M24 67h1M40 68h1M52 68h1M28 69h1M25 70h1M0 73h2M39 73h1M38 74h2M42 74h1M51 74h1M2 79h1M14 79h1M35 79h2M17 80h1M32 81h1M24 83h1M7 84h1M37 88h1M46 92h1M50 94h1M18 95h1M23 95h1M18 97h1M13 99h1M8 100h1M4 101h1M9 101h1M15 101h2M37 101h1M29 102h1M37 102h1M40 102h3M11 103h1M18 107h1M24 107h1M49 108h1M33 109h1M27 111h1M30 111h1M23 115h2M22 116h1M24 116h1M49 120h1M25 125h1M18 126h1M26 127h1M25 129h1M32 129h1M23 132h1M35 133h1M23 136h1M5 138h1M23 139h1M22 141h1M26 141h1M3 142h1M27 144h1M23 145h2M45 147h1M23 149h1M25 149h2M2 153h1M14 153h1M1 154h1M3 154h1M22 160h1M25 178h1M37 184h1M49 189h1M21 196h1M8 199h1M51 200h1M24 202h1M35 204h1M9 211h1M6 220h1M19 222h1M5 234h1M14 240h1M41 242h1M5 275h1M6 302h1M49 323h1M7 348h1M25 353h1M24 413h1M52 427h1"/>
<path stroke="#59ff9e" d="M34 4h1M48 4h1M13 6h1M31 6h1M9 7h1M16 7h1M26 7h1M29 7h1M40 8h1M0 9h1M25 9h1M38 10h1M40 10h1M18 11h1M38 11h1M45 11h1M8 12h1M14 12h1M30 12h1M18 13h1M11 14h1M26 14h1M20 15h1M36 15h1M51 15h1M5 16h1M11 16h1M13 16h1M20 16h1M48 16h1M18 17h1M53 18h1M10 19h1M24 19h1M49 19h1M12 20h1M45 20h1M49 20h1M56 20h1M42 21h1M17 22h1M16 23h1M20 23h1M48 23h1M17 24h1M19 24h1M37 24h1M25 25h2M50 25h1M6 26h1M12 26h1M52 26h1M4 28h1M47 29h1M1 31h1M45 31h1M4 32h1M19 32h1M31 32h1M52 33h1M17 34h1M2 35h1M41 36h1M12 38h1M20 38h1M35 38h1M23 39h1M43 39h1M52 39h1M11 40h1M41 40h1M46 40h1M30 41h1M45 41h1M49 41h1M52 41h1M54 41h2M48 42h2M6 43h1M16 43h1M18 45h1M51 45h1M36 46h1M38 46h1M43 46h1M15 47h1M1 49h1M7 50h1M41 50h1M12 51h1M16 51h1M46 51h1M13 52h2M39 52h1M9 53h1M53 53h1M21 55h1M1 58h1M34 58h1M48 58h1M15 63h1M46 63h1M25 64h1M4 65h1M38 65h1M17 66h1M27 66h1M51 66h1M18 67h1M55 67h1M34 68h1M13 69h1M47 69h1M50 69h1M23 71h1M53 71h1M18 72h2M34 73h1M37 75h2M49 76h1M49 77h1M38 78h1M23 81h1M0 84h1M48 85h2M12 89h1M49 94h1M32 96h1M34 100h1M6 101h1M10 101h1M36 101h1M11 102h1M12 103h1M9 105h1M12 106h1M24 111h1M22 112h1M22 113h1M21 114h1M21 116h1M23 116h1M45 116h2M20 121h2M23 122h1M26 124h1M27 125h1M32 128h1M31 129h1M10 133h1M26 133h1M11 138h1M21 140h1M21 141h1M22 145h1M2 154h1M3 157h1M16 177h1M26 178h1M34 181h1M27 185h1M47 189h1M22 192h1M0 195h1M7 196h1M23 202h1M8 212h2M10 220h1M45 240h1M10 247h1M7 256h1M6 266h1M8 266h1M10 274h1M7 290h1M43 296h1M15 322h1"/>
<path stroke="#70ff87" d="M30 3h1M50 3h1M35 4h1M36 6h1M45 6h2M52 6h1M21 7h1M22 8h1M52 8h1M1 9h1M32 9h1M37 9h1M34 10h1M52 10h1M55 10h1M0 11h1M2 11h1M39 11h2M33 12h1M35 12h1M49 12h1M15 13h1M48 13h1M53 13h2M0 14h1M22 14h1M47 14h1M10 15h2M42 15h1M52 15h1M45 16h1M21 17h1M17 18h1M8 19h2M13 19h1M0 20h2M27 20h1M52 20h1M6 22h1M52 22h2M1 23h1M39 23h1M49 23h1M18 24h1M22 24h1M50 28h1M34 29h1M34 30h1M38 30h1M13 32h1M53 32h1M7 33h1M10 33h1M15 33h1M39 34h1M30 36h1M19 37h1M41 37h1M53 37h1M19 38h1M42 38h1M45 39h1M47 39h1M3 40h1M48 40h1M51 40h1M54 40h1M27 41h1M35 41h1M48 41h1M13 42h1M30 43h1M39 44h1M55 45h1M41 46h1M28 47h1M33 47h1M22 48h1M23 52h1M40 52h1M50 52h1M29 53h1M20 55h1M22 56h1M53 56h1M47 57h1M50 57h1M56 57h1M5 60h2M49 61h1M10 64h1M39 64h1M14 65h1M36 65h1M39 65h1M19 66h1M23 66h1M34 66h1M27 67h1M30 67h1M39 67h1M26 68h1M54 71h2M16 72h1M36 73h2M56 84h1M4 90h1M15 100h1M5 101h1M10 102h1M10 103h1M33 107h1M33 108h1M28 111h1M28 118h1M56 122h1M10 125h2M16 126h1M24 126h1M25 133h1M25 137h1M14 138h1M25 138h1M25 140h1M24 149h1M23 160h1M37 160h1M23 162h1M49 187h1M42 213h1M5 215h1M5 216h1M5 219h1M51 221h1M8 267h1M8 275h1M5 306h1M5 321h1"/>
<path stroke="#87ff70" d="M21 4h1M24 4h1M33 4h1M30 5h1M15 6h1M17 7h1M21 8h1M49 8h1M33 9h1M32 10h1M32 11h1M6 12h1M31 12h1M21 13h1M35 14h1M51 14h1M38 15h1M41 15h1M48 15h1M53 15h1M56 15h1M22 16h1M38 16h1M19 17h1M40 17h1M48 17h1M19 19h1M21 19h1M44 19h1M51 20h1M54 20h1M12 21h1M15 21h1M47 21h1M18 22h1M34 22h1M46 22h1M51 22h1M11 23h1M47 23h1M0 24h1M5 24h1M54 24h1M47 25h1M55 25h1M28 26h1M28 27h1M19 29h1M19 30h1M46 30h1M6 32h1M37 32h1M51 32h1M11 33h1M13 33h1M12 35h1M22 35h1M50 36h1M54 37h1M3 38h1M5 39h1M4 40h2M13 40h1M30 40h1M34 41h1M51 41h1M28 43h1M51 43h1M41 44h1M48 44h1M5 45h1M49 45h1M37 48h1M15 51h1M43 51h1M50 53h1M56 54h1M18 55h1M34 57h1M46 57h1M35 58h1M49 58h1M35 59h1M1 60h2M52 64h1M35 65h1M22 67h1M26 67h1M14 68h1M41 81h1M22 83h1M53 84h1M49 86h1M7 101h1M12 102h1M10 105h1M34 107h1M22 111h2M21 112h1M39 114h1M27 118h1M37 121h1M14 130h1M25 134h1M21 136h1M25 139h2M27 140h1M24 192h1M7 217h1M6 218h2M7 266h1M6 267h1M8 268h1M6 275h2"/>
<path stroke="#9eff59" d="M8 3h1M8 5h1M36 5h1M48 5h1M23 6h1M35 6h1M49 6h1M54 6h1M22 7h1M48 7h1M54 7h1M16 8h1M35 8h1M23 9h1M53 10h1M1 11h1M31 11h1M41 11h1M15 12h1M20 12h1M1 14h1M5 15h1M24 16h1M29 16h1M39 16h1M42 16h1M14 18h1M33 18h1M43 18h1M45 18h1M34 19h1M50 19h1M45 21h1M2 22h1M37 22h1M50 22h1M30 23h1M56 23h1M52 24h2M1 26h1M5 26h1M46 26h1M40 27h1M27 30h1M37 30h1M16 31h1M48 31h1M52 31h1M5 32h1M2 33h1M6 33h1M51 33h1M45 34h1M35 35h1M52 35h1M12 36h1M21 36h1M4 37h1M39 37h1M42 37h1M48 39h1M27 40h1M45 40h1M47 40h1M52 40h1M47 41h1M56 41h1M41 42h1M51 44h1M50 45h1M55 47h1M22 55h1M35 57h2M48 57h1M13 59h1M34 59h1M4 60h1M49 60h1M48 64h1M3 65h1M29 66h2M28 68h1M42 81h1M38 83h1M51 84h1M6 90h1M39 95h1M10 104h1M12 105h1M9 106h1M11 106h1M25 111h1M24 125h1M26 135h2M27 136h1M27 137h1M25 147h1M22 161h1M8 211h1M6 216h1M6 219h1M7 267h1"/>
<path stroke="#b5ff42" d="M17 4h1M26 6h1M44 6h1M49 7h1M55 7h1M44 8h1M13 9h1M10 10h1M47 10h1M50 10h1M6 11h1M16 11h1M22 12h1M43 12h1M23 13h1M38 13h1M28 14h1M34 14h1M36 14h1M43 17h1M47 17h1M49 17h1M22 18h1M38 19h1M48 21h1M14 22h1M42 22h1M45 22h1M45 23h1M56 24h1M44 25h1M0 26h1M16 26h1M56 26h1M38 27h1M42 27h1M6 29h1M53 29h1M35 30h1M15 32h1M48 32h1M33 33h1M53 33h1M46 34h1M52 34h1M37 36h1M49 36h1M0 38h1M34 38h1M4 39h1M28 41h1M52 42h1M50 44h1M0 45h1M39 46h1M49 53h1M19 55h1M33 62h1M2 65h1M14 101h1M12 104h1M11 105h1M10 106h1M21 111h1M26 111h1M21 113h1M25 117h1M22 132h1M26 136h1M51 222h1M7 245h1M6 246h1M6 268h1"/>
<path stroke="#cbff2b" d="M30 2h1M38 2h1M47 3h1M49 3h1M54 3h1M26 4h1M12 5h1M14 5h1M55 5h1M11 6h1M21 6h1M29 6h1M12 7h1M28 7h1M41 7h1M12 8h1M14 8h1M45 8h1M48 8h1M9 9h1M29 9h1M0 10h1M20 11h1M29 11h1M44 11h1M46 11h2M9 12h1M16 12h1M19 12h1M27 12h1M56 12h1M40 13h1M49 13h1M41 14h1M52 14h1M6 15h1M22 15h1M15 16h1M30 16h1M6 17h1M15 17h1M39 17h1M4 18h1M49 18h1M6 19h1M18 20h1M34 20h1M14 21h1M21 21h1M1 22h1M54 22h2M16 24h1M3 26h1M1 29h1M5 29h1M3 30h1M28 30h3M32 30h1M47 30h1M3 31h1M40 32h1M8 33h2M12 33h1M1 35h1M2 36h1M48 36h1M1 37h1M32 40h1M33 41h1M53 42h1M56 45h1M29 47h1M15 52h1M12 53h1M28 67h2M51 77h1M33 106h1M34 108h1M39 113h1M22 114h1M24 127h1M26 134h1M25 135h1M26 137h1M7 216h1M6 217h1M5 218h1M5 220h1"/>
<path stroke="#e2ff15" d="M25 4h1M5 5h1M16 6h1M47 7h1M24 8h1M39 8h1M30 9h1M39 9h1M4 10h1M53 11h1M12 13h1M29 14h1M33 14h1M50 14h1M55 14h1M3 15h1M28 16h1M34 16h1M14 17h1M16 17h2M31 17h1M15 18h1M21 18h1M42 18h1M47 18h1M32 19h2M46 19h1M20 21h1M47 22h1M4 24h1M4 25h1M6 25h1M22 25h1M6 27h1M22 30h1M48 30h1M50 30h1M4 31h1M39 31h1M50 31h1M50 32h1M52 32h1M4 33h1M48 33h2M44 34h1M53 34h1M53 35h1M16 36h1M40 37h1M4 42h1M37 46h1M28 50h1M11 53h1M49 57h1M36 58h1M52 61h1M12 62h1M37 65h1M33 68h1M34 106h1M6 215h1M8 245h1"/>
<path stroke="#f9f300" d="M2 0h1M38 0h1M40 0h1M42 0h1M18 4h1M50 4h1M53 5h1M18 7h1M42 8h1M21 9h1M40 9h1M42 10h1M5 12h1M36 12h1M39 12h1M22 13h1M27 14h1M49 14h1M0 16h1M20 17h1M40 18h1M22 19h1M30 21h2M39 21h1M41 21h1M0 22h1M48 22h1M3 25h1M23 25h1M41 30h1M5 31h1M33 32h1M41 34h1M40 36h1M42 36h1M3 39h1M2 50h1M2 53h1M10 53h1M36 59h1M32 62h1M27 117h2M6 245h1M7 246h1"/>
<path stroke="#ffd900" d="M42 2h1M39 4h2M33 7h1M53 7h1M5 8h1M10 8h1M56 9h1M5 11h1M48 11h1M50 11h1M3 13h1M37 13h1M39 13h1M43 16h1M4 17h1M16 18h1M44 18h1M50 18h1M33 20h1M40 20h1M42 20h1M5 22h1M15 22h1M36 22h1M40 23h2M20 24h1M5 25h1M2 26h1M55 27h1M2 29h1M49 31h1M51 31h1M41 32h1M5 33h1M42 34h1M23 35h1M0 53h1M52 71h1M40 78h2"/>
<path stroke="#ffbe00" d="M20 4h1M17 5h1M39 6h1M43 7h1M33 8h1M53 8h1M55 9h1M11 10h1M16 10h1M18 10h1M3 11h1M37 12h2M55 13h1M31 14h1M40 14h1M48 14h1M4 15h1M19 18h1M32 20h1M6 21h1M49 21h1M1 24h1M46 25h1M35 32h1M12 40h1M0 42h2M40 42h1M41 43h1M49 44h1M5 46h1"/>
<path stroke="#ffa400" d="M46 3h1M37 4h1M44 4h1M53 4h1M46 5h1M10 6h1M28 6h1M43 6h1M48 6h1M51 6h1M38 9h1M50 9h1M33 10h1M49 10h1M21 11h1M30 11h1M52 11h1M41 12h1M30 14h1M1 15h1M2 16h1M5 17h1M2 20h1M37 21h2M39 26h1M39 27h1M54 27h1M22 29h1M53 31h1M14 32h1M49 32h1M3 33h1M50 33h1M34 34h1M1 36h1M0 50h1M23 112h1"/>
<path stroke="#ff8a00" d="M13 4h1M28 4h1M9 5h1M19 5h1M17 6h1M27 6h1M32 6h1M46 7h1M34 8h1M54 8h1M11 9h1M54 9h1M46 10h1M28 13h1M3 16h1M32 18h1M41 18h1M2 19h1M23 19h1M3 21h1M40 22h1M46 23h1M21 24h1M42 25h1M32 32h1M42 32h1"/>
<path stroke="#ff7000" d="M5 4h1M19 4h1M27 4h1M16 5h1M27 5h1M20 6h1M23 8h1M1 10h3M48 10h1M51 11h1M40 12h1M19 13h1M31 13h1M56 13h1M12 15h1M1 19h1M3 22h2M41 25h1M45 25h1M41 27h1M34 32h1M16 34h1M7 268h1"/>
<path stroke="#ff5600" d="M16 4h1M43 4h1M21 5h1M55 8h1M39 10h1M56 11h1M3 12h2M28 12h1M16 13h1M1 18h1M29 18h1M4 21h1M40 21h1M4 23h1M56 25h1M40 34h1M39 36h1M0 39h2M8 246h1"/>
<path stroke="#ff3b00" d="M32 1h1M45 3h1M20 5h1M19 6h1M28 9h1M35 15h1M46 18h1M16 21h1M41 22h1M49 22h1M56 22h1M3 24h1M2 25h1M41 29h1M18 30h1M36 34h1"/>
<path stroke="#ff2100" d="M17 1h1M53 2h1M13 5h1M37 5h1M5 10h1M14 11h1M22 11h2M49 11h1M4 13h1M37 14h1M27 17h1M28 18h1M5 20h1M16 22h1M2 24h1M5 27h1M39 28h1M2 31h1M2 42h2"/>
<path stroke="#f00700" d="M54 4h1M20 7h1M42 12h1M2 13h1M5 13h1M2 17h1M0 18h1M18 18h1M54 19h1"/>
<path stroke="#d00000" d="M15 2h1M45 2h1M6 4h1M46 4h2M28 5h1M52 5h1M1 6h1M55 6h1M19 7h1M13 11h1M15 11h1M55 11h1M13 13h1M29 17h1M4 19h1M35 33h2M1 50h1"/>
<path stroke="#b00000" d="M41 3h1M4 4h1M29 4h1M4 6h1M10 9h1M12 10h1M0 15h1M1 16h1M28 17h1M31 18h1M55 19h1M41 28h1M34 33h1M35 34h1M1 53h1"/>
<path stroke="#900000" d="M0 0h2M3 0h35M39 0h1M41 0h1M43 0h14M0 1h7M8 1h9M18 1h14M33 1h24M0 2h6M7 2h2M10 2h5M16 2h12M29 2h1M31 2h7M39 2h1M41 2h1M43 2h2M46 2h7M54 2h3M0 3h8M11 3h10M22 3h3M26 3h3M31 3h8M40 3h1M42 3h3M48 3h1M51 3h3M56 3h1M0 4h4M12 4h1M22 4h1M41 4h2M45 4h1M51 4h2M55 4h2M0 5h2M3 5h2M6 5h1M10 5h1M23 5h1M39 5h3M43 5h1M47 5h1M49 5h3M0 6h1M2 6h2M5 6h2M18 6h1M38 6h1M41 6h2M50 6h1M56 6h1M0 7h4M5 7h2M0 8h5M6 8h1M15 8h1M38 8h1M46 8h2M2 9h3M41 9h2M51 9h3M13 10h3M4 11h1M54 11h1M0 12h3M0 13h2M14 13h1M29 13h2M38 14h2M23 16h1M3 17h1M30 17h1M32 17h1M30 18h1M0 19h1M3 19h1M5 19h1M56 19h1M3 20h2M41 20h1M5 21h1M38 22h2M3 23h1M5 23h1M43 25h1M0 29h1M39 29h1M36 32h1M0 36h1M0 37h1M2 37h1"/>
</g>
<path d="M72 123.5h3m-1.5-1.5v3M72 118.5h3m-1.5-1.5v3M72 112.5h3m-1.5-1.5v3M72 107.5h3m-1.5-1.5v3M73 118.5h3m-1.5-1.5v3M73 112.5h3m-1.5-1.5v3M73 107.5h3m-1.5-1.5v3M74 123.5h3m-1.5-1.5v3M74 102.5h3m-1.5-1.5v3M74 97.5h3m-1.5-1.5v3M75 118.5h3m-1.5-1.5v3M75 107.5h3m-1.5-1.5v3M75 97.5h3m-1.5-1.5v3M75 92.5h3m-1.5-1.5v3M76 123.5h3m-1.5-1.5v3M76 118.5h3m-1.5-1.5v3M76 112.5h3m-1.5-1.5v3M77 128.5h3m-1.5-1.5v3M78 133.5h3m-1.5-1.5v3M78 128.5h3m-1.5-1.5v3M79 138.5h3m-1.5-1.5v3M79 97.5h3m-1.5-1.5v3M80 138.5h3m-1.5-1.5v3M81 143.5h3m-1.5-1.5v3M81 138.5h3m-1.5-1.5v3M82 128.5h3m-1.5-1.5v3M82 123.5h3m-1.5-1.5v3M82 112.5h3m-1.5-1.5v3M83 118.5h3m-1.5-1.5v3M84 138.5h3m-1.5-1.5v3M84 123.5h3m-1.5-1.5v3M85 128.5h3m-1.5-1.5v3M86 158.5h3m-1.5-1.5v3M86 128.5h3m-1.5-1.5v3M87 158.5h3m-1.5-1.5v3M87 153.5h3m-1.5-1.5v3M87 148.5h3m-1.5-1.5v3M87 143.5h3m-1.5-1.5v3M87 138.5h3m-1.5-1.5v3M87 133.5h3m-1.5-1.5v3M88 164.5h3m-1.5-1.5v3M88 158.5h3m-1.5-1.5v3M88 153.5h3m-1.5-1.5v3M89 158.5h3m-1.5-1.5v3M90 164.5h3m-1.5-1.5v3M90 158.5h3m-1.5-1.5v3M91 174.5h3m-1.5-1.5v3M91 169.5h3m-1.5-1.5v3M91 164.5h3m-1.5-1.5v3M92 179.5h3m-1.5-1.5v3M92 169.5h3m-1.5-1.5v3M93 174.5h3m-1.5-1.5v3M93 169.5h3m-1.5-1.5v3M94 174.5h3m-1.5-1.5v3M94 158.5h3m-1.5-1.5v3M94 143.5h3m-1.5-1.5v3M94 138.5h3m-1.5-1.5v3M94 133.5h3m-1.5-1.5v3M94 128.5h3m-1.5-1.5v3M95 138.5h3m-1.5-1.5v3M95 133.5h3m-1.5-1.5v3M96 128.5h3m-1.5-1.5v3M96 123.5h3m-1.5-1.5v3M97 138.5h3m-1.5-1.5v3M97 133.5h3m-1.5-1.5v3M97 128.5h3m-1.5-1.5v3M98 143.5h3m-1.5-1.5v3M99 148.5h3m-1.5-1.5v3M99 138.5h3m-1.5-1.5v3M100 153.5h3m-1.5-1.5v3M100 133.5h3m-1.5-1.5v3M101 148.5h3m-1.5-1.5v3M102 143.5h3m-1.5-1.5v3M102 128.5h3m-1.5-1.5v3M103 148.5h3m-1.5-1.5v3M103 133.5h3m-1.5-1.5v3M104 143.5h3m-1.5-1.5v3M104 138.5h3m-1.5-1.5v3M105 153.5h3m-1.5-1.5v3M105 148.5h3m-1.5-1.5v3M105 138.5h3m-1.5-1.5v3M106 164.5h3m-1.5-1.5v3M106 158.5h3m-1.5-1.5v3M107 174.5h3m-1.5-1.5v3M107 169.5h3m-1.5-1.5v3M108 169.5h3m-1.5-1.5v3M108 158.5h3m-1.5-1.5v3M109 169.5h3m-1.5-1.5v3M109 158.5h3m-1.5-1.5v3M110 169.5h3m-1.5-1.5v3M110 164.5h3m-1.5-1.5v3M110 153.5h3m-1.5-1.5v3M110 148.5h3m-1.5-1.5v3M111 169.5h3m-1.5-1.5v3M111 164.5h3m-1.5-1.5v3M112 174.5h3m-1.5-1.5v3M112 164.5h3m-1.5-1.5v3M113 174.5h3m-1.5-1.5v3M113 169.5h3m-1.5-1.5v3M114 174.5h3m-1.5-1.5v3M114 169.5h3m-1.5-1.5v3M114 164.5h3m-1.5-1.5v3M114 158.5h3m-1.5-1.5v3M114 153.5h3m-1.5-1.5v3M115 174.5h3m-1.5-1.5v3M115 158.5h3m-1.5-1.5v3M116 169.5h3m-1.5-1.5v3M116 158.5h3m-1.5-1.5v3M117 174.5h3m-1.5-1.5v3M117 164.5h3m-1.5-1.5v3M118 164.5h3m-1.5-1.5v3M118 158.5h3m-1.5-1.5v3M119 143.5h3m-1.5-1.5v3M119 138.5h3m-1.5-1.5v3M119 133.5h3m-1.5-1.5v3M120 153.5h3m-1.5-1.5v3M120 143.5h3m-1.5-1.5v3M120 138.5h3m-1.5-1.5v3M121 153.5h3m-1.5-1.5v3M121 148.5h3m-1.5-1.5v3M121 143.5h3m-1.5-1.5v3M122 174.5h3m-1.5-1.5v3M122 164.5h3m-1.5-1.5v3M122 158.5h3m-1.5-1.5v3M122 153.5h3m-1.5-1.5v3M122 143.5h3m-1.5-1.5v3M122 138.5h3m-1.5-1.5v3M122 133.5h3m-1.5-1.5v3M123 128.5h3m-1.5-1.5v3M123 118.5h3m-1.5-1.5v3M123 112.5h3m-1.5-1.5v3M124 123.5h3m-1.5-1.5v3M124 118.5h3m-1.5-1.5v3M124 112.5h3m-1.5-1.5v3M124 102.5h3m-1.5-1.5v3M125 118.5h3m-1.5-1.5v3M125 112.5h3m-1.5-1.5v3M126 153.5h3m-1.5-1.5v3M126 143.5h3m-1.5-1.5v3M126 138.5h3m-1.5-1.5v3M126 128.5h3m-1.5-1.5v3M127 174.5h3m-1.5-1.5v3M127 169.5h3m-1.5-1.5v3M127 164.5h3m-1.5-1.5v3M128 174.5h3m-1.5-1.5v3M128 164.5h3m-1.5-1.5v3M129 179.5h3m-1.5-1.5v3M129 174.5h3m-1.5-1.5v3M130 169.5h3m-1.5-1.5v3M130 158.5h3m-1.5-1.5v3M130 153.5h3m-1.5-1.5v3M130 148.5h3m-1.5-1.5v3M131 158.5h3m-1.5-1.5v3M131 148.5h3m-1.5-1.5v3M132 169.5h3m-1.5-1.5v3M132 164.5h3m-1.5-1.5v3M132 158.5h3m-1.5-1.5v3M132 153.5h3m-1.5-1.5v3M134 148.5h3m-1.5-1.5v3M134 138.5h3m-1.5-1.5v3M135 153.5h3m-1.5-1.5v3M135 148.5h3m-1.5-1.5v3M135 143.5h3m-1.5-1.5v3M135 138.5h3m-1.5-1.5v3M136 164.5h3m-1.5-1.5v3M136 158.5h3m-1.5-1.5v3M136 138.5h3m-1.5-1.5v3M137 164.5h3m-1.5-1.5v3M137 138.5h3m-1.5-1.5v3M138 174.5h3m-1.5-1.5v3M138 164.5h3m-1.5-1.5v3M138 158.5h3m-1.5-1.5v3M138 153.5h3m-1.5-1.5v3M138 148.5h3m-1.5-1.5v3M139 164.5h3m-1.5-1.5v3M139 158.5h3m-1.5-1.5v3M139 153.5h3m-1.5-1.5v3M139 148.5h3m-1.5-1.5v3M140 153.5h3m-1.5-1.5v3M140 143.5h3m-1.5-1.5v3M141 164.5h3m-1.5-1.5v3M141 158.5h3m-1.5-1.5v3M141 148.5h3m-1.5-1.5v3M142 153.5h3m-1.5-1.5v3M142 148.5h3m-1.5-1.5v3M143 148.5h3m-1.5-1.5v3M143 138.5h3m-1.5-1.5v3M143 133.5h3m-1.5-1.5v3M143 128.5h3m-1.5-1.5v3M144 138.5h3m-1.5-1.5v3M144 133.5h3m-1.5-1.5v3M144 128.5h3m-1.5-1.5v3M145 128.5h3m-1.5-1.5v3M145 123.5h3m-1.5-1.5v3M146 143.5h3m-1.5-1.5v3M146 138.5h3m-1.5-1.5v3M146 128.5h3m-1.5-1.5v3M147 133.5h3m-1.5-1.5v3M147 123.5h3m-1.5-1.5v3M148 148.5h3m-1.5-1.5v3M148 128.5h3m-1.5-1.5v3M148 123.5h3m-1.5-1.5v3M149 148.5h3m-1.5-1.5v3M149 138.5h3m-1.5-1.5v3M149 123.5h3m-1.5-1.5v3M149 107.5h3m-1.5-1.5v3M150 158.5h3m-1.5-1.5v3M150 153.5h3m-1.5-1.5v3M150 148.5h3m-1.5-1.5v3M150 143.5h3m-1.5-1.5v3M150 138.5h3m-1.5-1.5v3M150 128.5h3m-1.5-1.5v3M151 164.5h3m-1.5-1.5v3M151 143.5h3m-1.5-1.5v3M151 138.5h3m-1.5-1.5v3M152 148.5h3m-1.5-1.5v3M152 133.5h3m-1.5-1.5v3M152 128.5h3m-1.5-1.5v3M153 143.5h3m-1.5-1.5v3M153 138.5h3m-1.5-1.5v3M153 133.5h3m-1.5-1.5v3M154 143.5h3m-1.5-1.5v3M154 133.5h3m-1.5-1.5v3M154 123.5h3m-1.5-1.5v3M155 112.5h3m-1.5-1.5v3M155 107.5h3m-1.5-1.5v3M156 138.5h3m-1.5-1.5v3M156 123.5h3m-1.5-1.5v3M156 118.5h3m-1.5-1.5v3M157 138.5h3m-1.5-1.5v3M157 133.5h3m-1.5-1.5v3M158 128.5h3m-1.5-1.5v3M158 118.5h3m-1.5-1.5v3M159 133.5h3m-1.5-1.5v3M159 128.5h3m-1.5-1.5v3M159 123.5h3m-1.5-1.5v3M159 118.5h3m-1.5-1.5v3M160 148.5h3m-1.5-1.5v3M160 143.5h3m-1.5-1.5v3M160 133.5h3m-1.5-1.5v3M160 128.5h3m-1.5-1.5v3M161 148.5h3m-1.5-1.5v3M161 133.5h3m-1.5-1.5v3M161 128.5h3m-1.5-1.5v3M162 148.5h3m-1.5-1.5v3M162 143.5h3m-1.5-1.5v3M162 138.5h3m-1.5-1.5v3M163 158.5h3m-1.5-1.5v3M164 169.5h3m-1.5-1.5v3M164 164.5h3m-1.5-1.5v3M166 169.5h3m-1.5-1.5v3M166 158.5h3m-1.5-1.5v3M168 169.5h3m-1.5-1.5v3M169 164.5h3m-1.5-1.5v3M169 158.5h3m-1.5-1.5v3M169 153.5h3m-1.5-1.5v3M169 143.5h3m-1.5-1.5v3M170 164.5h3m-1.5-1.5v3M170 158.5h3m-1.5-1.5v3M171 169.5h3m-1.5-1.5v3M171 164.5h3m-1.5-1.5v3M171 153.5h3m-1.5-1.5v3M171 148.5h3m-1.5-1.5v3M172 174.5h3m-1.5-1.5v3M172 164.5h3m-1.5-1.5v3M174 158.5h3m-1.5-1.5v3M175 169.5h3m-1.5-1.5v3M176 164.5h3m-1.5-1.5v3M176 158.5h3m-1.5-1.5v3M177 174.5h3m-1.5-1.5v3M178 164.5h3m-1.5-1.5v3M179 169.5h3m-1.5-1.5v3M179 164.5h3m-1.5-1.5v3M179 148.5h3m-1.5-1.5v3M180 164.5h3m-1.5-1.5v3M180 153.5h3m-1.5-1.5v3M181 143.5h3m-1.5-1.5v3M182 148.5h3m-1.5-1.5v3M183 158.5h3m-1.5-1.5v3M183 153.5h3m-1.5-1.5v3M184 179.5h3m-1.5-1.5v3M184 174.5h3m-1.5-1.5v3M184 169.5h3m-1.5-1.5v3M184 164.5h3m-1.5-1.5v3M184 158.5h3m-1.5-1.5v3M185 174.5h3m-1.5-1.5v3M185 169.5h3m-1.5-1.5v3M185 158.5h3m-1.5-1.5v3M185 153.5h3m-1.5-1.5v3M186 158.5h3m-1.5-1.5v3M186 153.5h3m-1.5-1.5v3M186 148.5h3m-1.5-1.5v3M186 143.5h3m-1.5-1.5v3M186 138.5h3m-1.5-1.5v3M187 148.5h3m-1.5-1.5v3M187 143.5h3m-1.5-1.5v3M188 158.5h3m-1.5-1.5v3M188 153.5h3m-1.5-1.5v3M188 148.5h3m-1.5-1.5v3M188 143.5h3m-1.5-1.5v3M189 164.5h3m-1.5-1.5v3M189 158.5h3m-1.5-1.5v3M189 153.5h3m-1.5-1.5v3M189 148.5h3m-1.5-1.5v3M190 169.5h3m-1.5-1.5v3M190 153.5h3m-1.5-1.5v3M190 148.5h3m-1.5-1.5v3M190 143.5h3m-1.5-1.5v3M191 164.5h3m-1.5-1.5v3M192 169.5h3m-1.5-1.5v3M192 164.5h3m-1.5-1.5v3M192 158.5h3m-1.5-1.5v3M192 143.5h3m-1.5-1.5v3M192 138.5h3m-1.5-1.5v3M192 133.5h3m-1.5-1.5v3M193 148.5h3m-1.5-1.5v3M193 143.5h3m-1.5-1.5v3M194 164.5h3m-1.5-1.5v3M194 158.5h3m-1.5-1.5v3M194 153.5h3m-1.5-1.5v3M194 148.5h3m-1.5-1.5v3M194 133.5h3m-1.5-1.5v3M195 148.5h3m-1.5-1.5v3M195 128.5h3m-1.5-1.5v3M196 148.5h3m-1.5-1.5v3M196 143.5h3m-1.5-1.5v3M197 158.5h3m-1.5-1.5v3M197 138.5h3m-1.5-1.5v3M198 164.5h3m-1.5-1.5v3M198 153.5h3m-1.5-1.5v3M199 153.5h3m-1.5-1.5v3M199 148.5h3m-1.5-1.5v3M199 138.5h3m-1.5-1.5v3M201 153.5h3m-1.5-1.5v3M201 143.5h3m-1.5-1.5v3M202 153.5h3m-1.5-1.5v3M202 148.5h3m-1.5-1.5v3M203 169.5h3m-1.5-1.5v3M203 164.5h3m-1.5-1.5v3M203 158.5h3m-1.5-1.5v3M203 148.5h3m-1.5-1.5v3M204 158.5h3m-1.5-1.5v3M204 153.5h3m-1.5-1.5v3M204 143.5h3m-1.5-1.5v3M204 138.5h3m-1.5-1.5v3M204 133.5h3m-1.5-1.5v3M205 158.5h3m-1.5-1.5v3M205 143.5h3m-1.5-1.5v3M205 138.5h3m-1.5-1.5v3M205 133.5h3m-1.5-1.5v3M206 158.5h3m-1.5-1.5v3M206 143.5h3m-1.5-1.5v3M206 138.5h3m-1.5-1.5v3M207 158.5h3m-1.5-1.5v3M207 138.5h3m-1.5-1.5v3M207 133.5h3m-1.5-1.5v3M207 128.5h3m-1.5-1.5v3M208 158.5h3m-1.5-1.5v3M208 143.5h3m-1.5-1.5v3M209 169.5h3m-1.5-1.5v3M209 164.5h3m-1.5-1.5v3M209 158.5h3m-1.5-1.5v3M209 148.5h3m-1.5-1.5v3M209 143.5h3m-1.5-1.5v3M210 158.5h3m-1.5-1.5v3M210 148.5h3m-1.5-1.5v3M211 158.5h3m-1.5-1.5v3M211 153.5h3m-1.5-1.5v3M211 148.5h3m-1.5-1.5v3M211 143.5h3m-1.5-1.5v3M211 138.5h3m-1.5-1.5v3M211 133.5h3m-1.5-1.5v3M212 143.5h3m-1.5-1.5v3M212 138.5h3m-1.5-1.5v3M212 133.5h3m-1.5-1.5v3M213 158.5h3m-1.5-1.5v3M213 148.5h3m-1.5-1.5v3M213 123.5h3m-1.5-1.5v3M213 118.5h3m-1.5-1.5v3M214 128.5h3m-1.5-1.5v3M215 169.5h3m-1.5-1.5v3M215 164.5h3m-1.5-1.5v3M215 158.5h3m-1.5-1.5v3M215 153.5h3m-1.5-1.5v3M215 148.5h3m-1.5-1.5v3M216 148.5h3m-1.5-1.5v3M216 143.5h3m-1.5-1.5v3M217 143.5h3m-1.5-1.5v3M218 158.5h3m-1.5-1.5v3M218 153.5h3m-1.5-1.5v3M218 148.5h3m-1.5-1.5v3M218 143.5h3m-1.5-1.5v3M219 153.5h3m-1.5-1.5v3M219 143.5h3m-1.5-1.5v3M219 138.5h3m-1.5-1.5v3M220 143.5h3m-1.5-1.5v3M220 133.5h3m-1.5-1.5v3M221 143.5h3m-1.5-1.5v3M221 128.5h3m-1.5-1.5v3M221 123.5h3m-1.5-1.5v3M222 153.5h3m-1.5-1.5v3M222 138.5h3m-1.5-1.5v3M222 133.5h3m-1.5-1.5v3M223 158.5h3m-1.5-1.5v3M223 153.5h3m-1.5-1.5v3M223 148.5h3m-1.5-1.5v3M224 164.5h3m-1.5-1.5v3M224 158.5h3m-1.5-1.5v3M224 153.5h3m-1.5-1.5v3M225 164.5h3m-1.5-1.5v3M225 148.5h3m-1.5-1.5v3M226 164.5h3m-1.5-1.5v3M226 158.5h3m-1.5-1.5v3M226 148.5h3m-1.5-1.5v3M227 153.5h3m-1.5-1.5v3M227 148.5h3m-1.5-1.5v3M227 143.5h3m-1.5-1.5v3M228 153.5h3m-1.5-1.5v3M229 153.5h3m-1.5-1.5v3M229 138.5h3m-1.5-1.5v3M230 158.5h3m-1.5-1.5v3M230 153.5h3m-1.5-1.5v3M230 148.5h3m-1.5-1.5v3M230 143.5h3m-1.5-1.5v3M230 138.5h3m-1.5-1.5v3M231 164.5h3m-1.5-1.5v3M232 164.5h3m-1.5-1.5v3M232 148.5h3m-1.5-1.5v3M232 143.5h3m-1.5-1.5v3M232 138.5h3m-1.5-1.5v3M233 158.5h3m-1.5-1.5v3M234 174.5h3m-1.5-1.5v3M234 169.5h3m-1.5-1.5v3M235 164.5h3m-1.5-1.5v3M235 153.5h3m-1.5-1.5v3M236 164.5h3m-1.5-1.5v3M236 158.5h3m-1.5-1.5v3M236 153.5h3m-1.5-1.5v3M237 164.5h3m-1.5-1.5v3M237 158.5h3m-1.5-1.5v3M237 153.5h3m-1.5-1.5v3M238 164.5h3m-1.5-1.5v3M238 153.5h3m-1.5-1.5v3M239 164.5h3m-1.5-1.5v3M240 169.5h3m-1.5-1.5v3M241 174.5h3m-1.5-1.5v3M241 169.5h3m-1.5-1.5v3M242 169.5h3m-1.5-1.5v3M242 164.5h3m-1.5-1.5v3M242 153.5h3m-1.5-1.5v3M243 169.5h3m-1.5-1.5v3M243 153.5h3m-1.5-1.5v3M243 148.5h3m-1.5-1.5v3M243 143.5h3m-1.5-1.5v3M244 169.5h3m-1.5-1.5v3M244 164.5h3m-1.5-1.5v3M245 174.5h3m-1.5-1.5v3M245 164.5h3m-1.5-1.5v3M245 148.5h3m-1.5-1.5v3M246 153.5h3m-1.5-1.5v3M246 148.5h3m-1.5-1.5v3M247 164.5h3m-1.5-1.5v3M247 158.5h3m-1.5-1.5v3M247 148.5h3m-1.5-1.5v3M248 143.5h3m-1.5-1.5v3M249 138.5h3m-1.5-1.5v3M249 133.5h3m-1.5-1.5v3M249 118.5h3m-1.5-1.5v3M249 107.5h3m-1.5-1.5v3M249 102.5h3m-1.5-1.5v3M249 97.5h3m-1.5-1.5v3M250 153.5h3m-1.5-1.5v3M250 112.5h3m-1.5-1.5v3M251 169.5h3m-1.5-1.5v3M251 164.5h3m-1.5-1.5v3M251 153.5h3m-1.5-1.5v3M252 169.5h3m-1.5-1.5v3M252 164.5h3m-1.5-1.5v3M252 158.5h3m-1.5-1.5v3M252 148.5h3m-1.5-1.5v3M252 143.5h3m-1.5-1.5v3M253 158.5h3m-1.5-1.5v3M253 153.5h3m-1.5-1.5v3M253 143.5h3m-1.5-1.5v3M254 164.5h3m-1.5-1.5v3M254 158.5h3m-1.5-1.5v3M254 143.5h3m-1.5-1.5v3M254 138.5h3m-1.5-1.5v3M255 158.5h3m-1.5-1.5v3M255 148.5h3m-1.5-1.5v3M255 143.5h3m-1.5-1.5v3M255 133.5h3m-1.5-1.5v3M256 158.5h3m-1.5-1.5v3M256 153.5h3m-1.5-1.5v3M256 148.5h3m-1.5-1.5v3M256 143.5h3m-1.5-1.5v3M256 138.5h3m-1.5-1.5v3M256 133.5h3m-1.5-1.5v3M256 128.5h3m-1.5-1.5v3M257 158.5h3m-1.5-1.5v3M257 153.5h3m-1.5-1.5v3M257 148.5h3m-1.5-1.5v3M257 143.5h3m-1.5-1.5v3M257 138.5h3m-1.5-1.5v3M258 143.5h3m-1.5-1.5v3M258 128.5h3m-1.5-1.5v3M259 143.5h3m-1.5-1.5v3M259 138.5h3m-1.5-1.5v3M259 128.5h3m-1.5-1.5v3M259 123.5h3m-1.5-1.5v3M260 128.5h3m-1.5-1.5v3M261 158.5h3m-1.5-1.5v3M261 153.5h3m-1.5-1.5v3M261 148.5h3m-1.5-1.5v3M261 143.5h3m-1.5-1.5v3M261 138.5h3m-1.5-1.5v3M261 133.5h3m-1.5-1.5v3M262 153.5h3m-1.5-1.5v3M263 174.5h3m-1.5-1.5v3M263 158.5h3m-1.5-1.5v3M263 153.5h3m-1.5-1.5v3M264 169.5h3m-1.5-1.5v3M264 164.5h3m-1.5-1.5v3M264 158.5h3m-1.5-1.5v3M264 153.5h3m-1.5-1.5v3M264 148.5h3m-1.5-1.5v3M264 128.5h3m-1.5-1.5v3M265 169.5h3m-1.5-1.5v3M265 158.5h3m-1.5-1.5v3M265 143.5h3m-1.5-1.5v3M265 133.5h3m-1.5-1.5v3M265 123.5h3m-1.5-1.5v3M266 169.5h3m-1.5-1.5v3M266 164.5h3m-1.5-1.5v3M266 158.5h3m-1.5-1.5v3M266 148.5h3m-1.5-1.5v3M267 169.5h3m-1.5-1.5v3M267 164.5h3m-1.5-1.5v3M267 153.5h3m-1.5-1.5v3M268 158.5h3m-1.5-1.5v3M269 153.5h3m-1.5-1.5v3M269 143.5h3m-1.5-1.5v3M269 123.5h3m-1.5-1.5v3M270 148.5h3m-1.5-1.5v3M270 128.5h3m-1.5-1.5v3M270 118.5h3m-1.5-1.5v3M271 143.5h3m-1.5-1.5v3M271 123.5h3m-1.5-1.5v3M271 118.5h3m-1.5-1.5v3M272 143.5h3m-1.5-1.5v3M272 138.5h3m-1.5-1.5v3M272 133.5h3m-1.5-1.5v3M272 118.5h3m-1.5-1.5v3M273 148.5h3m-1.5-1.5v3M273 143.5h3m-1.5-1.5v3M274 164.5h3m-1.5-1.5v3M274 153.5h3m-1.5-1.5v3M275 169.5h3m-1.5-1.5v3M275 158.5h3m-1.5-1.5v3M276 164.5h3m-1.5-1.5v3M276 148.5h3m-1.5-1.5v3M277 164.5h3m-1.5-1.5v3M277 148.5h3m-1.5-1.5v3M278 148.5h3m-1.5-1.5v3M278 143.5h3m-1.5-1.5v3M278 112.5h3m-1.5-1.5v3M278 107.5h3m-1.5-1.5v3M278 102.5h3m-1.5-1.5v3M279 153.5h3m-1.5-1.5v3M279 148.5h3m-1.5-1.5v3M279 143.5h3m-1.5-1.5v3M279 128.5h3m-1.5-1.5v3M279 123.5h3m-1.5-1.5v3M280 143.5h3m-1.5-1.5v3M280 138.5h3m-1.5-1.5v3M280 133.5h3m-1.5-1.5v3M281 148.5h3m-1.5-1.5v3M281 143.5h3m-1.5-1.5v3M281 133.5h3m-1.5-1.5v3M281 123.5h3m-1.5-1.5v3M282 133.5h3m-1.5-1.5v3M282 123.5h3m-1.5-1.5v3M283 133.5h3m-1.5-1.5v3M284 158.5h3m-1.5-1.5v3M284 153.5h3m-1.5-1.5v3M284 128.5h3m-1.5-1.5v3M284 118.5h3m-1.5-1.5v3M285 158.5h3m-1.5-1.5v3M285 153.5h3m-1.5-1.5v3M285 148.5h3m-1.5-1.5v3M286 174.5h3m-1.5-1.5v3M286 169.5h3m-1.5-1.5v3M286 164.5h3m-1.5-1.5v3M286 158.5h3m-1.5-1.5v3M286 153.5h3m-1.5-1.5v3M287 158.5h3m-1.5-1.5v3M287 153.5h3m-1.5-1.5v3M287 143.5h3m-1.5-1.5v3M288 179.5h3m-1.5-1.5v3M288 158.5h3m-1.5-1.5v3M289 164.5h3m-1.5-1.5v3M289 148.5h3m-1.5-1.5v3M290 158.5h3m-1.5-1.5v3M290 143.5h3m-1.5-1.5v3M290 138.5h3m-1.5-1.5v3M291 158.5h3m-1.5-1.5v3M291 153.5h3m-1.5-1.5v3M291 148.5h3m-1.5-1.5v3M291 143.5h3m-1.5-1.5v3M291 133.5h3m-1.5-1.5v3M292 158.5h3m-1.5-1.5v3M292 133.5h3m-1.5-1.5v3M293 153.5h3m-1.5-1.5v3M293 143.5h3m-1.5-1.5v3M293 133.5h3m-1.5-1.5v3M294 158.5h3m-1.5-1.5v3M294 153.5h3m-1.5-1.5v3M294 148.5h3m-1.5-1.5v3M294 138.5h3m-1.5-1.5v3M295 138.5h3m-1.5-1.5v3M296 158.5h3m-1.5-1.5v3M297 158.5h3m-1.5-1.5v3M297 153.5h3m-1.5-1.5v3M297 143.5h3m-1.5-1.5v3M297 138.5h3m-1.5-1.5v3M297 133.5h3m-1.5-1.5v3M298 164.5h3m-1.5-1.5v3M298 153.5h3m-1.5-1.5v3M298 138.5h3m-1.5-1.5v3M299 138.5h3m-1.5-1.5v3M300 148.5h3m-1.5-1.5v3M301 153.5h3m-1.5-1.5v3M302 153.5h3m-1.5-1.5v3M302 138.5h3m-1.5-1.5v3M303 153.5h3m-1.5-1.5v3M303 148.5h3m-1.5-1.5v3M303 143.5h3m-1.5-1.5v3M304 164.5h3m-1.5-1.5v3M304 158.5h3m-1.5-1.5v3M305 174.5h3m-1.5-1.5v3M305 169.5h3m-1.5-1.5v3M306 169.5h3m-1.5-1.5v3M306 164.5h3m-1.5-1.5v3M307 164.5h3m-1.5-1.5v3M308 158.5h3m-1.5-1.5v3M310 169.5h3m-1.5-1.5v3M310 164.5h3m-1.5-1.5v3M310 158.5h3m-1.5-1.5v3M311 169.5h3m-1.5-1.5v3M311 164.5h3m-1.5-1.5v3M311 158.5h3m-1.5-1.5v3M311 153.5h3m-1.5-1.5v3M312 169.5h3m-1.5-1.5v3M312 158.5h3m-1.5-1.5v3M313 164.5h3m-1.5-1.5v3M314 174.5h3m-1.5-1.5v3M314 169.5h3m-1.5-1.5v3M314 164.5h3m-1.5-1.5v3M315 169.5h3m-1.5-1.5v3M315 164.5h3m-1.5-1.5v3M315 158.5h3m-1.5-1.5v3M316 158.5h3m-1.5-1.5v3M316 153.5h3m-1.5-1.5v3M317 164.5h3m-1.5-1.5v3M317 158.5h3m-1.5-1.5v3M317 153.5h3m-1.5-1.5v3M317 143.5h3m-1.5-1.5v3M318 153.5h3m-1.5-1.5v3M318 148.5h3m-1.5-1.5v3M318 143.5h3m-1.5-1.5v3M318 133.5h3m-1.5-1.5v3M319 138.5h3m-1.5-1.5v3M320 143.5h3m-1.5-1.5v3M320 138.5h3m-1.5-1.5v3M320 133.5h3m-1.5-1.5v3M321 133.5h3m-1.5-1.5v3M321 128.5h3m-1.5-1.5v3M321 123.5h3m-1.5-1.5v3M321 118.5h3m-1.5-1.5v3M321 112.5h3m-1.5-1.5v3M322 158.5h3m-1.5-1.5v3M322 143.5h3m-1.5-1.5v3M322 138.5h3m-1.5-1.5v3M322 133.5h3m-1.5-1.5v3M322 112.5h3m-1.5-1.5v3M323 102.5h3m-1.5-1.5v3M323 97.5h3m-1.5-1.5v3M323 92.5h3m-1.5-1.5v3M324 87.5h3m-1.5-1.5v3M324 66.5h3m-1.5-1.5v3M324 51.5h3m-1.5-1.5v3M325 112.5h3m-1.5-1.5v3M326 133.5h3m-1.5-1.5v3M326 123.5h3m-1.5-1.5v3M326 118.5h3m-1.5-1.5v3M327 148.5h3m-1.5-1.5v3M327 143.5h3m-1.5-1.5v3M327 138.5h3m-1.5-1.5v3M328 153.5h3m-1.5-1.5v3M329 169.5h3m-1.5-1.5v3M329 164.5h3m-1.5-1.5v3M329 158.5h3m-1.5-1.5v3M330 169.5h3m-1.5-1.5v3M330 164.5h3m-1.5-1.5v3M330 143.5h3m-1.5-1.5v3M331 138.5h3m-1.5-1.5v3M332 158.5h3m-1.5-1.5v3M332 153.5h3m-1.5-1.5v3M332 148.5h3m-1.5-1.5v3M332 143.5h3m-1.5-1.5v3M334 153.5h3m-1.5-1.5v3M334 148.5h3m-1.5-1.5v3M335 153.5h3m-1.5-1.5v3M335 143.5h3m-1.5-1.5v3M335 138.5h3m-1.5-1.5v3M336 169.5h3m-1.5-1.5v3M336 153.5h3m-1.5-1.5v3M336 148.5h3m-1.5-1.5v3M337 169.5h3m-1.5-1.5v3M337 164.5h3m-1.5-1.5v3M337 158.5h3m-1.5-1.5v3M337 153.5h3m-1.5-1.5v3M337 143.5h3m-1.5-1.5v3M338 153.5h3m-1.5-1.5v3M339 174.5h3m-1.5-1.5v3M339 164.5h3m-1.5-1.5v3M339 158.5h3m-1.5-1.5v3M339 153.5h3m-1.5-1.5v3M340 169.5h3m-1.5-1.5v3M340 158.5h3m-1.5-1.5v3M340 153.5h3m-1.5-1.5v3M340 148.5h3m-1.5-1.5v3M341 174.5h3m-1.5-1.5v3M341 169.5h3m-1.5-1.5v3M341 158.5h3m-1.5-1.5v3M341 153.5h3m-1.5-1.5v3M342 158.5h3m-1.5-1.5v3M342 153.5h3m-1.5-1.5v3M343 158.5h3m-1.5-1.5v3M343 153.5h3m-1.5-1.5v3M344 174.5h3m-1.5-1.5v3M344 158.5h3m-1.5-1.5v3M344 153.5h3m-1.5-1.5v3M345 174.5h3m-1.5-1.5v3M345 169.5h3m-1.5-1.5v3M345 164.5h3m-1.5-1.5v3M345 158.5h3m-1.5-1.5v3M345 153.5h3m-1.5-1.5v3M346 164.5h3m-1.5-1.5v3M346 153.5h3m-1.5-1.5v3M346 148.5h3m-1.5-1.5v3M346 143.5h3m-1.5-1.5v3M346 138.5h3m-1.5-1.5v3M347 164.5h3m-1.5-1.5v3M347 153.5h3m-1.5-1.5v3M347 148.5h3m-1.5-1.5v3M347 143.5h3m-1.5-1.5v3M347 138.5h3m-1.5-1.5v3M347 133.5h3m-1.5-1.5v3M348 153.5h3m-1.5-1.5v3M348 148.5h3m-1.5-1.5v3M348 143.5h3m-1.5-1.5v3M348 138.5h3m-1.5-1.5v3M349 164.5h3m-1.5-1.5v3M349 158.5h3m-1.5-1.5v3M349 153.5h3m-1.5-1.5v3M349 148.5h3m-1.5-1.5v3M350 153.5h3m-1.5-1.5v3M350 148.5h3m-1.5-1.5v3M350 143.5h3m-1.5-1.5v3M351 158.5h3m-1.5-1.5v3M351 153.5h3m-1.5-1.5v3M351 148.5h3m-1.5-1.5v3M351 143.5h3m-1.5-1.5v3M352 169.5h3m-1.5-1.5v3M352 153.5h3m-1.5-1.5v3M352 148.5h3m-1.5-1.5v3M353 169.5h3m-1.5-1.5v3M353 158.5h3m-1.5-1.5v3M354 169.5h3m-1.5-1.5v3M354 164.5h3m-1.5-1.5v3M354 158.5h3m-1.5-1.5v3M354 153.5h3m-1.5-1.5v3M355 169.5h3m-1.5-1.5v3M356 158.5h3m-1.5-1.5v3M356 148.5h3m-1.5-1.5v3M357 153.5h3m-1.5-1.5v3M357 148.5h3m-1.5-1.5v3M357 143.5h3m-1.5-1.5v3M357 138.5h3m-1.5-1.5v3M357 123.5h3m-1.5-1.5v3M358 148.5h3m-1.5-1.5v3M358 138.5h3m-1.5-1.5v3M358 128.5h3m-1.5-1.5v3M359 153.5h3m-1.5-1.5v3M359 148.5h3m-1.5-1.5v3M359 143.5h3m-1.5-1.5v3M360 153.5h3m-1.5-1.5v3M360 148.5h3m-1.5-1.5v3M360 138.5h3m-1.5-1.5v3M360 128.5h3m-1.5-1.5v3M360 107.5h3m-1.5-1.5v3M361 169.5h3m-1.5-1.5v3M361 148.5h3m-1.5-1.5v3M362 169.5h3m-1.5-1.5v3M362 153.5h3m-1.5-1.5v3M362 148.5h3m-1.5-1.5v3M363 158.5h3m-1.5-1.5v3M363 153.5h3m-1.5-1.5v3M364 143.5h3m-1.5-1.5v3M364 133.5h3m-1.5-1.5v3M364 128.5h3m-1.5-1.5v3M364 123.5h3m-1.5-1.5v3M364 118.5h3m-1.5-1.5v3M364 112.5h3m-1.5-1.5v3M365 138.5h3m-1.5-1.5v3M365 123.5h3m-1.5-1.5v3M365 118.5h3m-1.5-1.5v3M365 112.5h3m-1.5-1.5v3M365 102.5h3m-1.5-1.5v3M365 87.5h3m-1.5-1.5v3M366 143.5h3m-1.5-1.5v3M366 138.5h3m-1.5-1.5v3M366 118.5h3m-1.5-1.5v3M366 112.5h3m-1.5-1.5v3M366 107.5h3m-1.5-1.5v3M367 153.5h3m-1.5-1.5v3M367 138.5h3m-1.5-1.5v3M367 123.5h3m-1.5-1.5v3M368 169.5h3m-1.5-1.5v3M368 158.5h3m-1.5-1.5v3M368 143.5h3m-1.5-1.5v3M368 138.5h3m-1.5-1.5v3M369 148.5h3m-1.5-1.5v3M369 143.5h3m-1.5-1.5v3M369 123.5h3m-1.5-1.5v3M370 138.5h3m-1.5-1.5v3M370 133.5h3m-1.5-1.5v3M370 123.5h3m-1.5-1.5v3M371 112.5h3m-1.5-1.5v3M372 133.5h3m-1.5-1.5v3M372 128.5h3m-1.5-1.5v3M372 123.5h3m-1.5-1.5v3M372 118.5h3m-1.5-1.5v3M372 107.5h3m-1.5-1.5v3M373 128.5h3m-1.5-1.5v3M373 123.5h3m-1.5-1.5v3M374 143.5h3m-1.5-1.5v3M374 128.5h3m-1.5-1.5v3M374 123.5h3m-1.5-1.5v3M375 153.5h3m-1.5-1.5v3M376 143.5h3m-1.5-1.5v3M376 128.5h3m-1.5-1.5v3M376 123.5h3m-1.5-1.5v3M377 148.5h3m-1.5-1.5v3M377 143.5h3m-1.5-1.5v3M377 133.5h3m-1.5-1.5v3M377 128.5h3m-1.5-1.5v3M377 118.5h3m-1.5-1.5v3M378 153.5h3m-1.5-1.5v3M378 148.5h3m-1.5-1.5v3M378 138.5h3m-1.5-1.5v3M378 133.5h3m-1.5-1.5v3M379 169.5h3m-1.5-1.5v3M379 158.5h3m-1.5-1.5v3M380 153.5h3m-1.5-1.5v3M381 164.5h3m-1.5-1.5v3M381 158.5h3m-1.5-1.5v3M381 153.5h3m-1.5-1.5v3M382 169.5h3m-1.5-1.5v3M382 158.5h3m-1.5-1.5v3M382 153.5h3m-1.5-1.5v3M382 133.5h3m-1.5-1.5v3M383 143.5h3m-1.5-1.5v3M383 138.5h3m-1.5-1.5v3M383 133.5h3m-1.5-1.5v3M384 143.5h3m-1.5-1.5v3M384 133.5h3m-1.5-1.5v3M384 118.5h3m-1.5-1.5v3M384 112.5h3m-1.5-1.5v3M385 153.5h3m-1.5-1.5v3M385 148.5h3m-1.5-1.5v3M385 143.5h3m-1.5-1.5v3M386 158.5h3m-1.5-1.5v3M386 153.5h3m-1.5-1.5v3M386 143.5h3m-1.5-1.5v3M386 133.5h3m-1.5-1.5v3M387 153.5h3m-1.5-1.5v3M387 143.5h3m-1.5-1.5v3M387 133.5h3m-1.5-1.5v3M388 153.5h3m-1.5-1.5v3M388 148.5h3m-1.5-1.5v3M388 138.5h3m-1.5-1.5v3M388 133.5h3m-1.5-1.5v3M388 128.5h3m-1.5-1.5v3M389 169.5h3m-1.5-1.5v3M389 164.5h3m-1.5-1.5v3M389 158.5h3m-1.5-1.5v3M389 153.5h3m-1.5-1.5v3M389 138.5h3m-1.5-1.5v3M390 169.5h3m-1.5-1.5v3M390 164.5h3m-1.5-1.5v3M390 158.5h3m-1.5-1.5v3M390 153.5h3m-1.5-1.5v3M391 174.5h3m-1.5-1.5v3M391 169.5h3m-1.5-1.5v3M391 158.5h3m-1.5-1.5v3M392 169.5h3m-1.5-1.5v3M392 164.5h3m-1.5-1.5v3M393 169.5h3m-1.5-1.5v3M393 164.5h3m-1.5-1.5v3M393 158.5h3m-1.5-1.5v3M393 148.5h3m-1.5-1.5v3M394 169.5h3m-1.5-1.5v3M394 143.5h3m-1.5-1.5v3M395 153.5h3m-1.5-1.5v3M396 169.5h3m-1.5-1.5v3M397 169.5h3m-1.5-1.5v3M397 164.5h3m-1.5-1.5v3M397 158.5h3m-1.5-1.5v3M398 169.5h3m-1.5-1.5v3M398 164.5h3m-1.5-1.5v3M398 158.5h3m-1.5-1.5v3M398 143.5h3m-1.5-1.5v3M399 169.5h3m-1.5-1.5v3M399 164.5h3m-1.5-1.5v3M399 158.5h3m-1.5-1.5v3M399 153.5h3m-1.5-1.5v3M399 148.5h3m-1.5-1.5v3M400 158.5h3m-1.5-1.5v3M401 179.5h3m-1.5-1.5v3M401 174.5h3m-1.5-1.5v3M401 164.5h3m-1.5-1.5v3M401 158.5h3m-1.5-1.5v3M402 169.5h3m-1.5-1.5v3M402 158.5h3m-1.5-1.5v3M403 174.5h3m-1.5-1.5v3M403 164.5h3m-1.5-1.5v3M404 164.5h3m-1.5-1.5v3M404 153.5h3m-1.5-1.5v3M404 143.5h3m-1.5-1.5v3M404 138.5h3m-1.5-1.5v3M405 148.5h3m-1.5-1.5v3M405 133.5h3m-1.5-1.5v3M406 179.5h3m-1.5-1.5v3M406 174.5h3m-1.5-1.5v3M406 169.5h3m-1.5-1.5v3M406 164.5h3m-1.5-1.5v3M407 164.5h3m-1.5-1.5v3M407 158.5h3m-1.5-1.5v3M407 143.5h3m-1.5-1.5v3M409 153.5h3m-1.5-1.5v3M409 138.5h3m-1.5-1.5v3M410 143.5h3m-1.5-1.5v3M410 133.5h3m-1.5-1.5v3M411 153.5h3m-1.5-1.5v3M411 148.5h3m-1.5-1.5v3M411 143.5h3m-1.5-1.5v3M411 138.5h3m-1.5-1.5v3M412 153.5h3m-1.5-1.5v3M412 143.5h3m-1.5-1.5v3M412 138.5h3m-1.5-1.5v3M412 133.5h3m-1.5-1.5v3M413 164.5h3m-1.5-1.5v3M413 158.5h3m-1.5-1.5v3M414 174.5h3m-1.5-1.5v3M414 169.5h3m-1.5-1.5v3M414 158.5h3m-1.5-1.5v3M415 174.5h3m-1.5-1.5v3M416 174.5h3m-1.5-1.5v3M416 169.5h3m-1.5-1.5v3M416 158.5h3m-1.5-1.5v3M417 174.5h3m-1.5-1.5v3M417 158.5h3m-1.5-1.5v3M418 164.5h3m-1.5-1.5v3M418 158.5h3m-1.5-1.5v3M418 153.5h3m-1.5-1.5v3M418 148.5h3m-1.5-1.5v3M419 153.5h3m-1.5-1.5v3M420 169.5h3m-1.5-1.5v3M420 158.5h3m-1.5-1.5v3M420 153.5h3m-1.5-1.5v3M421 164.5h3m-1.5-1.5v3M421 158.5h3m-1.5-1.5v3M422 174.5h3m-1.5-1.5v3M422 164.5h3m-1.5-1.5v3M422 158.5h3m-1.5-1.5v3M423 174.5h3m-1.5-1.5v3M423 169.5h3m-1.5-1.5v3M423 158.5h3m-1.5-1.5v3M424 169.5h3m-1.5-1.5v3M424 153.5h3m-1.5-1.5v3M425 174.5h3m-1.5-1.5v3M425 164.5h3m-1.5-1.5v3M425 153.5h3m-1.5-1.5v3M426 174.5h3m-1.5-1.5v3M426 169.5h3m-1.5-1.5v3M426 153.5h3m-1.5-1.5v3M427 174.5h3m-1.5-1.5v3M427 169.5h3m-1.5-1.5v3M427 164.5h3m-1.5-1.5v3M427 153.5h3m-1.5-1.5v3M428 174.5h3m-1.5-1.5v3M428 169.5h3m-1.5-1.5v3M428 158.5h3m-1.5-1.5v3M428 138.5h3m-1.5-1.5v3M429 174.5h3m-1.5-1.5v3M429 169.5h3m-1.5-1.5v3M429 158.5h3m-1.5-1.5v3M429 148.5h3m-1.5-1.5v3M429 143.5h3m-1.5-1.5v3M431 174.5h3m-1.5-1.5v3M431 169.5h3m-1.5-1.5v3M432 179.5h3m-1.5-1.5v3M432 174.5h3m-1.5-1.5v3M432 169.5h3m-1.5-1.5v3M432 164.5h3m-1.5-1.5v3M434 169.5h3m-1.5-1.5v3M434 164.5h3m-1.5-1.5v3M434 153.5h3m-1.5-1.5v3M435 164.5h3m-1.5-1.5v3M435 158.5h3m-1.5-1.5v3M436 169.5h3m-1.5-1.5v3M436 158.5h3m-1.5-1.5v3M437 164.5h3m-1.5-1.5v3M437 158.5h3m-1.5-1.5v3M437 153.5h3m-1.5-1.5v3M439 153.5h3m-1.5-1.5v3M439 143.5h3m-1.5-1.5v3M439 138.5h3m-1.5-1.5v3M440 169.5h3m-1.5-1.5v3M440 153.5h3m-1.5-1.5v3M440 148.5h3m-1.5-1.5v3M440 138.5h3m-1.5-1.5v3M441 169.5h3m-1.5-1.5v3M441 158.5h3m-1.5-1.5v3M441 143.5h3m-1.5-1.5v3M442 148.5h3m-1.5-1.5v3M442 138.5h3m-1.5-1.5v3M442 133.5h3m-1.5-1.5v3M442 107.5h3m-1.5-1.5v3M442 77.5h3m-1.5-1.5v3M442 71.5h3m-1.5-1.5v3M443 169.5h3m-1.5-1.5v3M443 153.5h3m-1.5-1.5v3M443 128.5h3m-1.5-1.5v3M443 92.5h3m-1.5-1.5v3M443 87.5h3m-1.5-1.5v3M444 179.5h3m-1.5-1.5v3M444 174.5h3m-1.5-1.5v3M444 169.5h3m-1.5-1.5v3M444 153.5h3m-1.5-1.5v3M445 174.5h3m-1.5-1.5v3M445 153.5h3m-1.5-1.5v3M446 174.5h3m-1.5-1.5v3M446 169.5h3m-1.5-1.5v3M446 164.5h3m-1.5-1.5v3M446 158.5h3m-1.5-1.5v3M446 153.5h3m-1.5-1.5v3M446 133.5h3m-1.5-1.5v3M447 169.5h3m-1.5-1.5v3M447 164.5h3m-1.5-1.5v3M448 128.5h3m-1.5-1.5v3M448 123.5h3m-1.5-1.5v3M448 118.5h3m-1.5-1.5v3M449 158.5h3m-1.5-1.5v3M449 143.5h3m-1.5-1.5v3M449 138.5h3m-1.5-1.5v3M450 153.5h3m-1.5-1.5v3M450 148.5h3m-1.5-1.5v3M451 158.5h3m-1.5-1.5v3M451 138.5h3m-1.5-1.5v3M452 158.5h3m-1.5-1.5v3M452 153.5h3m-1.5-1.5v3M452 133.5h3m-1.5-1.5v3M453 153.5h3m-1.5-1.5v3M453 148.5h3m-1.5-1.5v3M453 138.5h3m-1.5-1.5v3M453 128.5h3m-1.5-1.5v3M453 118.5h3m-1.5-1.5v3M454 138.5h3m-1.5-1.5v3M454 118.5h3m-1.5-1.5v3M454 107.5h3m-1.5-1.5v3M454 97.5h3m-1.5-1.5v3M455 138.5h3m-1.5-1.5v3M455 118.5h3m-1.5-1.5v3M455 102.5h3m-1.5-1.5v3M456 158.5h3m-1.5-1.5v3M456 148.5h3m-1.5-1.5v3M457 148.5h3m-1.5-1.5v3M457 128.5h3m-1.5-1.5v3M457 112.5h3m-1.5-1.5v3M458 128.5h3m-1.5-1.5v3M459 143.5h3m-1.5-1.5v3M459 138.5h3m-1.5-1.5v3M459 133.5h3m-1.5-1.5v3M459 128.5h3m-1.5-1.5v3M459 123.5h3m-1.5-1.5v3M460 148.5h3m-1.5-1.5v3M461 169.5h3m-1.5-1.5v3M461 153.5h3m-1.5-1.5v3M461 148.5h3m-1.5-1.5v3M461 143.5h3m-1.5-1.5v3M461 138.5h3m-1.5-1.5v3M462 148.5h3m-1.5-1.5v3M463 164.5h3m-1.5-1.5v3M463 143.5h3m-1.5-1.5v3M463 138.5h3m-1.5-1.5v3M464 169.5h3m-1.5-1.5v3M464 164.5h3m-1.5-1.5v3M464 158.5h3m-1.5-1.5v3M465 174.5h3m-1.5-1.5v3M465 169.5h3m-1.5-1.5v3M465 158.5h3m-1.5-1.5v3M466 153.5h3m-1.5-1.5v3M467 179.5h3m-1.5-1.5v3M467 174.5h3m-1.5-1.5v3M467 169.5h3m-1.5-1.5v3M467 164.5h3m-1.5-1.5v3M467 158.5h3m-1.5-1.5v3M468 174.5h3m-1.5-1.5v3M468 169.5h3m-1.5-1.5v3M469 174.5h3m-1.5-1.5v3M469 164.5h3m-1.5-1.5v3M469 158.5h3m-1.5-1.5v3M469 148.5h3m-1.5-1.5v3M470 158.5h3m-1.5-1.5v3M470 153.5h3m-1.5-1.5v3M470 148.5h3m-1.5-1.5v3M471 169.5h3m-1.5-1.5v3M471 164.5h3m-1.5-1.5v3M471 158.5h3m-1.5-1.5v3M471 148.5h3m-1.5-1.5v3M472 164.5h3m-1.5-1.5v3M472 153.5h3m-1.5-1.5v3M472 148.5h3m-1.5-1.5v3M472 143.5h3m-1.5-1.5v3M473 158.5h3m-1.5-1.5v3M473 153.5h3m-1.5-1.5v3M474 174.5h3m-1.5-1.5v3M474 169.5h3m-1.5-1.5v3M474 164.5h3m-1.5-1.5v3M475 174.5h3m-1.5-1.5v3M475 169.5h3m-1.5-1.5v3M476 179.5h3m-1.5-1.5v3M476 174.5h3m-1.5-1.5v3M477 179.5h3m-1.5-1.5v3M477 169.5h3m-1.5-1.5v3M478 174.5h3m-1.5-1.5v3M478 169.5h3m-1.5-1.5v3M479 179.5h3m-1.5-1.5v3M479 174.5h3m-1.5-1.5v3M480 174.5h3m-1.5-1.5v3M481 164.5h3m-1.5-1.5v3M482 174.5h3m-1.5-1.5v3M482 169.5h3m-1.5-1.5v3M482 164.5h3m-1.5-1.5v3M483 169.5h3m-1.5-1.5v3M483 158.5h3m-1.5-1.5v3M484 169.5h3m-1.5-1.5v3M484 153.5h3m-1.5-1.5v3M485 153.5h3m-1.5-1.5v3M485 148.5h3m-1.5-1.5v3M485 143.5h3m-1.5-1.5v3M485 133.5h3m-1.5-1.5v3M486 169.5h3m-1.5-1.5v3M486 158.5h3m-1.5-1.5v3M486 153.5h3m-1.5-1.5v3M487 179.5h3m-1.5-1.5v3M487 169.5h3m-1.5-1.5v3M487 164.5h3m-1.5-1.5v3M488 174.5h3m-1.5-1.5v3M488 169.5h3m-1.5-1.5v3M489 174.5h3m-1.5-1.5v3M489 169.5h3m-1.5-1.5v3M490 169.5h3m-1.5-1.5v3M490 158.5h3m-1.5-1.5v3M491 164.5h3m-1.5-1.5v3M492 174.5h3m-1.5-1.5v3M492 169.5h3m-1.5-1.5v3M492 164.5h3m-1.5-1.5v3M493 179.5h3m-1.5-1.5v3M493 174.5h3m-1.5-1.5v3M496 179.5h3m-1.5-1.5v3M496 174.5h3m-1.5-1.5v3M497 174.5h3m-1.5-1.5v3M497 169.5h3m-1.5-1.5v3M497 164.5h3m-1.5-1.5v3M497 158.5h3m-1.5-1.5v3M498 164.5h3m-1.5-1.5v3M499 158.5h3m-1.5-1.5v3M500 174.5h3m-1.5-1.5v3M500 153.5h3m-1.5-1.5v3M500 143.5h3m-1.5-1.5v3M501 174.5h3m-1.5-1.5v3M501 148.5h3m-1.5-1.5v3M502 174.5h3m-1.5-1.5v3M503 169.5h3m-1.5-1.5v3M503 164.5h3m-1.5-1.5v3M503 158.5h3m-1.5-1.5v3M505 164.5h3m-1.5-1.5v3M505 158.5h3m-1.5-1.5v3M505 153.5h3m-1.5-1.5v3M506 164.5h3m-1.5-1.5v3M507 169.5h3m-1.5-1.5v3M507 164.5h3m-1.5-1.5v3M507 158.5h3m-1.5-1.5v3M508 169.5h3m-1.5-1.5v3M509 174.5h3m-1.5-1.5v3M510 179.5h3m-1.5-1.5v3M510 174.5h3m-1.5-1.5v3M511 174.5h3m-1.5-1.5v3M512 164.5h3m-1.5-1.5v3M513 169.5h3m-1.5-1.5v3M514 174.5h3m-1.5-1.5v3M515 179.5h3m-1.5-1.5v3M515 174.5h3m-1.5-1.5v3M517 164.5h3m-1.5-1.5v3M518 174.5h3m-1.5-1.5v3M518 158.5h3m-1.5-1.5v3M519 179.5h3m-1.5-1.5v3M519 174.5h3m-1.5-1.5v3M520 174.5h3m-1.5-1.5v3M520 169.5h3m-1.5-1.5v3M520 164.5h3m-1.5-1.5v3M521 179.5h3m-1.5-1.5v3M521 164.5h3m-1.5-1.5v3M522 179.5h3m-1.5-1.5v3M522 174.5h3m-1.5-1.5v3M522 169.5h3m-1.5-1.5v3M523 179.5h3m-1.5-1.5v3M524 179.5h3m-1.5-1.5v3M524 169.5h3m-1.5-1.5v3M525 179.5h3m-1.5-1.5v3M525 169.5h3m-1.5-1.5v3M526 174.5h3m-1.5-1.5v3M527 179.5h3m-1.5-1.5v3M527 174.5h3m-1.5-1.5v3M527 169.5h3m-1.5-1.5v3M528 174.5h3m-1.5-1.5v3M530 179.5h3m-1.5-1.5v3M531 174.5h3m-1.5-1.5v3M532 179.5h3m-1.5-1.5v3M533 179.5h3m-1.5-1.5v3M534 179.5h3m-1.5-1.5v3M535 179.5h3m-1.5-1.5v3M535 174.5h3m-1.5-1.5v3M536 179.5h3m-1.5-1.5v3M536 174.5h3m-1.5-1.5v3M537 179.5h3m-1.5-1.5v3M537 169.5h3m-1.5-1.5v3M538 179.5h3m-1.5-1.5v3M538 174.5h3m-1.5-1.5v3M538 169.5h3m-1.5-1.5v3M539 169.5h3m-1.5-1.5v3M539 164.5h3m-1.5-1.5v3M539 158.5h3m-1.5-1.5v3M540 158.5h3m-1.5-1.5v3M541 174.5h3m-1.5-1.5v3M541 169.5h3m-1.5-1.5v3M541 164.5h3m-1.5-1.5v3M541 158.5h3m-1.5-1.5v3M541 148.5h3m-1.5-1.5v3M542 174.5h3m-1.5-1.5v3M542 169.5h3m-1.5-1.5v3M542 164.5h3m-1.5-1.5v3M542 148.5h3m-1.5-1.5v3M543 148.5h3m-1.5-1.5v3M544 158.5h3m-1.5-1.5v3M544 153.5h3m-1.5-1.5v3M544 148.5h3m-1.5-1.5v3M544 143.5h3m-1.5-1.5v3M544 138.5h3m-1.5-1.5v3M545 164.5h3m-1.5-1.5v3M545 158.5h3m-1.5-1.5v3M545 148.5h3m-1.5-1.5v3M546 164.5h3m-1.5-1.5v3M547 153.5h3m-1.5-1.5v3M547 148.5h3m-1.5-1.5v3M548 164.5h3m-1.5-1.5v3M548 148.5h3m-1.5-1.5v3M549 174.5h3m-1.5-1.5v3M549 158.5h3m-1.5-1.5v3M550 179.5h3m-1.5-1.5v3M550 174.5h3m-1.5-1.5v3M550 169.5h3m-1.5-1.5v3M551 164.5h3m-1.5-1.5v3M551 158.5h3m-1.5-1.5v3M552 174.5h3m-1.5-1.5v3M552 164.5h3m-1.5-1.5v3M552 158.5h3m-1.5-1.5v3M552 153.5h3m-1.5-1.5v3M553 174.5h3m-1.5-1.5v3M553 169.5h3m-1.5-1.5v3M554 169.5h3m-1.5-1.5v3M554 164.5h3m-1.5-1.5v3M555 174.5h3m-1.5-1.5v3M555 169.5h3m-1.5-1.5v3M556 164.5h3m-1.5-1.5v3M557 169.5h3m-1.5-1.5v3M557 164.5h3m-1.5-1.5v3M558 164.5h3m-1.5-1.5v3M559 174.5h3m-1.5-1.5v3M559 164.5h3m-1.5-1.5v3M560 174.5h3m-1.5-1.5v3M560 164.5h3m-1.5-1.5v3M562 179.5h3m-1.5-1.5v3M562 174.5h3m-1.5-1.5v3M563 169.5h3m-1.5-1.5v3M564 174.5h3m-1.5-1.5v3M564 169.5h3m-1.5-1.5v3M564 164.5h3m-1.5-1.5v3M564 153.5h3m-1.5-1.5v3M565 158.5h3m-1.5-1.5v3M565 153.5h3m-1.5-1.5v3M566 174.5h3m-1.5-1.5v3M566 164.5h3m-1.5-1.5v3M566 148.5h3m-1.5-1.5v3M567 164.5h3m-1.5-1.5v3M568 174.5h3m-1.5-1.5v3M568 169.5h3m-1.5-1.5v3M568 164.5h3m-1.5-1.5v3M569 174.5h3m-1.5-1.5v3M569 169.5h3m-1.5-1.5v3M569 164.5h3m-1.5-1.5v3M570 169.5h3m-1.5-1.5v3M570 158.5h3m-1.5-1.5v3M570 143.5h3m-1.5-1.5v3M571 164.5h3m-1.5-1.5v3M571 158.5h3m-1.5-1.5v3M571 148.5h3m-1.5-1.5v3M571 138.5h3m-1.5-1.5v3M572 164.5h3m-1.5-1.5v3M573 158.5h3m-1.5-1.5v3M574 169.5h3m-1.5-1.5v3M575 158.5h3m-1.5-1.5v3M577 164.5h3m-1.5-1.5v3M578 179.5h3m-1.5-1.5v3M578 174.5h3m-1.5-1.5v3M578 164.5h3m-1.5-1.5v3M579 174.5h3m-1.5-1.5v3M579 169.5h3m-1.5-1.5v3M579 164.5h3m-1.5-1.5v3M580 174.5h3m-1.5-1.5v3M580 164.5h3m-1.5-1.5v3M582 179.5h3m-1.5-1.5v3M582 174.5h3m-1.5-1.5v3M582 169.5h3m-1.5-1.5v3M582 164.5h3m-1.5-1.5v3M583 158.5h3m-1.5-1.5v3M584 169.5h3m-1.5-1.5v3M584 164.5h3m-1.5-1.5v3M585 164.5h3m-1.5-1.5v3M586 164.5h3m-1.5-1.5v3M587 179.5h3m-1.5-1.5v3M587 174.5h3m-1.5-1.5v3M588 174.5h3m-1.5-1.5v3M588 169.5h3m-1.5-1.5v3M588 164.5h3m-1.5-1.5v3M588 158.5h3m-1.5-1.5v3M588 153.5h3m-1.5-1.5v3M589 169.5h3m-1.5-1.5v3M591 164.5h3m-1.5-1.5v3M592 169.5h3m-1.5-1.5v3M592 164.5h3m-1.5-1.5v3M593 169.5h3m-1.5-1.5v3M594 174.5h3m-1.5-1.5v3M594 169.5h3m-1.5-1.5v3M595 169.5h3m-1.5-1.5v3M596 158.5h3m-1.5-1.5v3M597 164.5h3m-1.5-1.5v3M598 164.5h3m-1.5-1.5v3M598 158.5h3m-1.5-1.5v3M599 153.5h3m-1.5-1.5v3M599 148.5h3m-1.5-1.5v3M600 153.5h3m-1.5-1.5v3M600 148.5h3m-1.5-1.5v3M601 158.5h3m-1.5-1.5v3M601 148.5h3m-1.5-1.5v3M601 143.5h3m-1.5-1.5v3M601 138.5h3m-1.5-1.5v3M601 133.5h3m-1.5-1.5v3M601 128.5h3m-1.5-1.5v3M602 164.5h3m-1.5-1.5v3M602 153.5h3m-1.5-1.5v3M602 148.5h3m-1.5-1.5v3M604 158.5h3m-1.5-1.5v3M604 148.5h3m-1.5-1.5v3M604 143.5h3m-1.5-1.5v3M605 164.5h3m-1.5-1.5v3M605 158.5h3m-1.5-1.5v3M605 143.5h3m-1.5-1.5v3M606 169.5h3m-1.5-1.5v3M606 164.5h3m-1.5-1.5v3M606 153.5h3m-1.5-1.5v3M606 148.5h3m-1.5-1.5v3M607 153.5h3m-1.5-1.5v3M608 179.5h3m-1.5-1.5v3M608 169.5h3m-1.5-1.5v3M608 164.5h3m-1.5-1.5v3M608 158.5h3m-1.5-1.5v3M609 174.5h3m-1.5-1.5v3M609 169.5h3m-1.5-1.5v3M609 158.5h3m-1.5-1.5v3M610 169.5h3m-1.5-1.5v3M610 164.5h3m-1.5-1.5v3M610 153.5h3m-1.5-1.5v3M610 148.5h3m-1.5-1.5v3M611 148.5h3m-1.5-1.5v3M612 164.5h3m-1.5-1.5v3M612 158.5h3m-1.5-1.5v3M612 153.5h3m-1.5-1.5v3M612 148.5h3m-1.5-1.5v3M612 143.5h3m-1.5-1.5v3M613 143.5h3m-1.5-1.5v3M614 164.5h3m-1.5-1.5v3M614 143.5h3m-1.5-1.5v3M615 164.5h3m-1.5-1.5v3M615 153.5h3m-1.5-1.5v3M616 153.5h3m-1.5-1.5v3M617 164.5h3m-1.5-1.5v3M619 169.5h3m-1.5-1.5v3M619 158.5h3m-1.5-1.5v3M620 158.5h3m-1.5-1.5v3M620 153.5h3m-1.5-1.5v3M621 174.5h3m-1.5-1.5v3M622 174.5h3m-1.5-1.5v3M622 169.5h3m-1.5-1.5v3M622 164.5h3m-1.5-1.5v3M623 174.5h3m-1.5-1.5v3M624 174.5h3m-1.5-1.5v3M624 169.5h3m-1.5-1.5v3M624 164.5h3m-1.5-1.5v3M624 158.5h3m-1.5-1.5v3" stroke="#1f77b4" stroke-width="1" stroke-opacity="0.92" fill="none"/>
<path d="M72.50 758.5V803.3M73.50 774.8V817.6M74.50 778.7V805.2M75.50 779.6V823.4M76.50 777.4V842.4M77.50 793.5V838.5M78.50 766.1V816.1M79.50 782.8V832.1M80.50 773.3V812.5M81.50 780.2V810.1M82.50 766.9V813.9M83.50 773.7V807.2M84.50 755.4V804.4M85.50 762.1V810.8M86.50 757.1V805.5M87.50 752.4V800.7M88.50 759.6V807.5M89.50 775.9V798.8M90.50 754.1V812.0M91.50 735.4V794.6M92.50 743.6V824.1M93.50 746.2V819.0M94.50 777.7V821.8M95.50 776.1V838.9M96.50 796.6V831.9M97.50 782.6V821.1M98.50 794.3V842.8M99.50 783.3V843.1M100.50 791.8V841.0M101.50 802.1V837.0M102.50 782.9V827.8M103.50 798.9V833.7M104.50 774.1V834.0M105.50 783.9V820.6M106.50 774.8V824.4M107.50 764.4V811.5M108.50 752.2V802.0M109.50 750.9V815.9M110.50 763.7V801.9M111.50 763.9V805.1M112.50 742.3V799.7M113.50 747.8V782.6M114.50 743.6V803.5M115.50 753.9V798.7M116.50 752.0V795.8M117.50 734.7V796.3M118.50 746.8V782.9M119.50 753.2V789.8M120.50 751.5V783.7M121.50 743.5V773.4M122.50 726.0V784.0M123.50 725.8V788.0M124.50 722.6V766.8M125.50 725.0V786.5M126.50 750.5V773.9M127.50 744.8V783.8M128.50 745.8V789.3M129.50 734.9V779.9M130.50 734.7V788.8M131.50 749.4V801.2M132.50 742.3V802.9M133.50 774.5V810.0M134.50 768.3V816.5M135.50 770.2V825.3M136.50 782.2V808.3M137.50 767.5V828.5M138.50 778.5V824.1M139.50 780.9V827.2M140.50 781.9V823.1M141.50 773.5V808.2M142.50 782.1V828.3M143.50 768.5V829.2M144.50 781.9V809.6M145.50 784.3V827.9M146.50 770.7V819.7M147.50 775.7V826.0M148.50 777.0V815.8M149.50 779.6V817.6M150.50 782.7V820.6M151.50 781.3V825.3M152.50 773.8V829.4M153.50 782.2V819.2M154.50 776.9V817.3M155.50 775.4V815.9M156.50 765.6V806.2M157.50 778.9V810.5M158.50 771.1V819.4M159.50 780.1V831.2M160.50 776.6V829.3M161.50 778.8V814.3M162.50 768.6V823.6M163.50 774.8V828.8M164.50 761.1V816.1M165.50 762.0V811.0M166.50 766.8V813.9M167.50 767.9V804.6M168.50 777.5V816.3M169.50 761.7V825.5M170.50 776.5V830.4M171.50 763.5V809.8M172.50 781.5V809.6M173.50 766.7V810.3M174.50 773.1V805.3M175.50 774.1V830.5M176.50 782.4V823.9M177.50 778.7V815.0M178.50 777.4V823.1M179.50 764.3V822.1M180.50 785.1V822.5M181.50 779.9V830.7M182.50 782.2V818.5M183.50 787.9V812.7M184.50 776.5V823.1M185.50 769.8V832.8M186.50 784.5V824.6M187.50 773.8V822.7M188.50 776.9V829.9M189.50 781.2V817.5M190.50 785.9V836.1M191.50 764.9V823.0M192.50 770.0V810.6M193.50 767.1V829.3M194.50 788.8V817.2M195.50 787.3V826.1M196.50 781.0V826.4M197.50 769.4V827.8M198.50 787.7V829.7M199.50 777.9V823.9M200.50 772.8V809.2M201.50 753.2V817.2M202.50 772.0V820.4M203.50 759.3V792.4M204.50 754.8V800.7M205.50 736.7V783.2M206.50 738.7V801.1M207.50 750.2V791.9M208.50 742.7V789.6M209.50 755.5V791.1M210.50 738.1V792.6M211.50 738.7V789.3M212.50 747.6V780.6M213.50 736.1V791.0M214.50 740.4V785.6M215.50 728.1V788.5M216.50 726.4V782.5M217.50 737.8V771.8M218.50 745.3V777.7M219.50 732.2V786.0M220.50 741.0V780.6M221.50 740.2V785.0M222.50 727.1V780.7M223.50 741.9V790.6M224.50 745.2V799.2M225.50 735.8V786.3M226.50 750.0V788.3M227.50 740.9V791.4M228.50 761.7V791.1M229.50 743.5V795.7M230.50 752.7V799.0M231.50 751.8V796.7M232.50 749.5V793.6M233.50 746.5V776.5M234.50 737.9V786.2M235.50 751.2V800.1M236.50 755.7V800.2M237.50 739.2V794.6M238.50 756.9V785.1M239.50 754.3V782.8M240.50 750.1V791.0M241.50 749.0V775.5M242.50 742.0V788.0M243.50 734.2V785.1M244.50 747.0V790.6M245.50 748.8V784.6M246.50 753.2V783.6M247.50 745.5V789.9M248.50 747.1V795.3M249.50 744.5V782.0M250.50 749.4V779.2M251.50 749.8V791.5M252.50 743.4V787.9M253.50 755.8V807.8M254.50 763.3V804.8M255.50 756.7V820.4M256.50 762.5V821.1M257.50 774.2V825.3M258.50 777.0V820.9M259.50 776.5V826.7M260.50 779.2V805.9M261.50 780.5V814.8M262.50 784.9V831.2M263.50 784.3V821.6M264.50 776.2V836.1M265.50 786.5V808.7M266.50 768.1V824.3M267.50 772.9V834.2M268.50 770.9V810.3M269.50 774.6V820.4M270.50 771.9V817.7M271.50 784.3V809.5M272.50 786.4V832.6M273.50 767.7V819.5M274.50 766.6V813.3M275.50 767.7V830.4M276.50 776.7V820.2M277.50 780.3V817.7M278.50 768.1V829.4M279.50 738.2V809.8M280.50 758.4V810.0M281.50 770.6V824.1M282.50 770.6V822.3M283.50 768.5V815.4M284.50 775.1V816.6M285.50 760.3V819.7M286.50 766.9V802.7M287.50 777.0V808.4M288.50 757.2V808.8M289.50 758.7V808.5M290.50 781.6V835.6M291.50 780.6V831.2M292.50 787.3V833.7M293.50 790.4V829.2M294.50 785.7V828.2M295.50 773.1V830.9M296.50 776.5V841.5M297.50 774.1V825.3M298.50 795.9V825.3M299.50 771.6V814.2M300.50 768.6V833.6M301.50 772.6V814.3M302.50 771.5V811.3M303.50 781.2V827.9M304.50 770.9V831.9M305.50 771.5V817.0M306.50 785.2V824.2M307.50 765.4V812.5M308.50 770.6V813.0M309.50 779.9V811.1M310.50 783.9V812.8M311.50 786.7V835.4M312.50 788.1V830.8M313.50 785.6V816.1M314.50 792.0V838.1M315.50 782.1V828.1M316.50 772.3V831.5M317.50 776.5V841.5M318.50 793.0V822.3M319.50 785.4V826.2M320.50 787.9V843.6M321.50 795.9V833.0M322.50 801.4V838.1M323.50 786.5V821.8M324.50 768.9V816.7M325.50 778.3V818.6M326.50 775.4V825.6M327.50 772.8V819.3M328.50 767.9V814.5M329.50 772.7V825.3M330.50 763.9V813.1M331.50 769.6V796.6M332.50 749.9V807.5M333.50 743.4V803.2M334.50 753.3V794.4M335.50 735.0V777.6M336.50 738.3V783.4M337.50 751.9V804.1M338.50 744.5V780.7M339.50 754.4V789.2M340.50 730.7V795.7M341.50 730.4V781.0M342.50 752.1V794.5M343.50 748.0V789.5M344.50 732.1V797.1M345.50 738.9V778.0M346.50 745.5V774.4M347.50 729.0V763.5M348.50 720.2V771.1M349.50 719.7V769.1M350.50 725.4V780.8M351.50 727.5V773.3M352.50 730.5V795.5M353.50 749.4V792.8M354.50 750.2V799.2M355.50 760.8V785.1M356.50 747.1V783.0M357.50 757.7V796.2M358.50 736.9V798.0M359.50 745.1V773.0M360.50 743.7V777.0M361.50 740.3V772.6M362.50 736.7V773.8M363.50 738.7V791.6M364.50 730.7V774.9M365.50 736.6V789.4M366.50 753.6V784.5M367.50 753.4V800.5M368.50 749.5V805.5M369.50 747.4V784.9M370.50 746.8V808.9M371.50 751.6V799.1M372.50 762.8V819.1M373.50 769.2V816.7M374.50 763.9V828.9M375.50 778.4V810.0M376.50 778.2V815.4M377.50 769.9V834.9M378.50 780.0V818.0M379.50 784.2V820.6M380.50 768.8V822.4M381.50 787.7V833.1M382.50 771.4V835.1M383.50 791.8V825.1M384.50 785.0V819.3M385.50 792.9V830.0M386.50 783.6V832.4M387.50 799.9V821.8M388.50 794.3V841.4M389.50 786.4V828.1M390.50 789.0V824.9M391.50 790.1V843.4M392.50 790.4V839.7M393.50 788.2V829.8M394.50 800.2V838.1M395.50 782.2V827.4M396.50 780.1V838.0M397.50 789.5V836.3M398.50 778.5V820.2M399.50 772.7V812.7M400.50 783.0V821.6M401.50 772.6V810.6M402.50 761.8V812.5M403.50 754.5V802.5M404.50 743.3V788.9M405.50 745.0V803.5M406.50 752.7V802.5M407.50 753.5V798.9M408.50 756.4V798.0M409.50 731.4V782.1M410.50 746.5V789.2M411.50 745.7V777.1M412.50 737.7V778.1M413.50 731.0V787.2M414.50 736.9V795.7M415.50 747.8V785.9M416.50 742.2V785.9M417.50 747.1V807.2M418.50 747.8V791.1M419.50 754.8V807.2M420.50 767.4V812.5M421.50 771.2V809.0M422.50 764.1V802.1M423.50 763.5V800.2M424.50 764.7V808.7M425.50 774.3V824.0M426.50 764.3V823.8M427.50 777.8V830.6M428.50 787.3V819.9M429.50 783.8V823.9M430.50 785.2V828.4M431.50 778.6V822.8M432.50 783.9V813.1M433.50 774.3V823.3M434.50 774.3V801.7M435.50 765.0V800.7M436.50 756.0V800.2M437.50 752.4V811.4M438.50 760.1V804.6M439.50 749.8V802.6M440.50 740.3V805.3M441.50 764.0V803.1M442.50 751.5V809.0M443.50 756.4V789.4M444.50 744.7V780.0M445.50 733.5V781.9M446.50 742.9V797.0M447.50 747.8V791.7M448.50 740.6V797.3M449.50 752.2V777.5M450.50 744.9V788.4M451.50 732.9V783.5M452.50 746.3V786.7M453.50 729.7V792.2M454.50 745.4V782.3M455.50 747.6V776.3M456.50 756.3V794.3M457.50 752.2V794.2M458.50 747.9V798.6M459.50 751.1V803.2M460.50 773.7V818.1M461.50 749.0V801.7M462.50 762.8V798.5M463.50 760.3V804.1M464.50 761.7V793.4M465.50 759.8V809.0M466.50 754.6V798.2M467.50 739.4V796.0M468.50 716.0V792.8M469.50 739.8V795.2M470.50 760.7V795.6M471.50 774.6V809.1M472.50 775.1V819.3M473.50 762.9V807.3M474.50 765.6V830.6M475.50 779.7V822.2M476.50 788.5V826.0M477.50 789.6V834.0M478.50 795.9V839.8M479.50 794.0V837.0M480.50 796.2V828.1M481.50 779.8V843.5M482.50 793.1V839.6M483.50 790.4V830.5M484.50 790.9V833.9M485.50 800.3V822.9M486.50 792.3V825.8M487.50 786.3V819.2M488.50 789.4V830.3M489.50 775.7V833.5M490.50 788.1V823.7M491.50 782.8V830.8M492.50 788.0V833.9M493.50 797.0V827.3M494.50 795.9V822.3M495.50 803.4V841.9M496.50 790.2V830.3M497.50 777.3V839.0M498.50 780.5V833.3M499.50 775.9V820.5M500.50 788.4V829.7M501.50 778.3V825.1M502.50 769.0V830.8M503.50 778.1V811.2M504.50 776.2V827.9M505.50 785.0V833.4M506.50 768.7V824.3M507.50 761.1V824.8M508.50 781.3V824.9M509.50 756.8V821.8M510.50 769.2V807.1M511.50 761.5V819.8M512.50 765.0V804.7M513.50 771.5V795.9M514.50 769.8V820.4M515.50 783.0V818.7M516.50 771.0V829.5M517.50 786.1V833.3M518.50 765.1V816.4M519.50 771.6V826.9M520.50 788.1V837.8M521.50 773.4V814.9M522.50 781.4V828.3M523.50 784.0V829.0M524.50 786.9V833.9M525.50 780.9V821.5M526.50 773.4V838.4M527.50 788.8V835.1M528.50 779.2V836.7M529.50 773.3V827.7M530.50 783.0V822.7M531.50 782.2V814.1M532.50 777.7V820.8M533.50 795.7V822.0M534.50 792.3V829.0M535.50 774.4V829.6M536.50 777.3V833.0M537.50 786.4V821.1M538.50 788.7V829.5M539.50 789.9V826.5M540.50 778.1V816.4M541.50 765.0V824.3M542.50 751.2V812.7M543.50 769.3V804.4M544.50 781.4V810.9M545.50 767.4V829.8M546.50 766.7V813.8M547.50 768.0V829.3M548.50 787.9V820.1M549.50 775.9V827.5M550.50 782.9V809.4M551.50 773.6V822.2M552.50 778.4V821.8M553.50 782.6V829.5M554.50 773.0V814.3M555.50 759.0V804.7M556.50 760.9V815.2M557.50 777.8V803.6M558.50 747.1V812.1M559.50 752.5V791.8M560.50 757.5V801.2M561.50 751.4V795.7M562.50 751.0V792.7M563.50 760.6V784.3M564.50 748.4V786.4M565.50 736.7V791.7M566.50 746.6V798.4M567.50 736.7V772.5M568.50 734.4V782.3M569.50 745.0V797.2M570.50 730.3V774.3M571.50 731.4V791.2M572.50 754.4V795.9M573.50 735.4V787.1M574.50 761.8V792.8M575.50 757.9V804.8M576.50 756.2V806.5M577.50 759.0V803.6M578.50 779.1V821.1M579.50 766.3V802.5M580.50 757.6V812.4M581.50 776.6V821.3M582.50 771.7V800.9M583.50 768.1V826.9M584.50 782.9V807.5M585.50 778.2V811.9M586.50 765.1V816.1M587.50 774.3V806.5M588.50 778.9V817.2M589.50 783.9V820.1M590.50 779.3V811.9M591.50 778.8V819.9M592.50 776.2V815.5M593.50 779.2V830.6M594.50 782.9V822.9M595.50 792.6V821.2M596.50 778.5V828.7M597.50 782.3V828.0M598.50 793.5V827.6M599.50 795.1V832.7M600.50 783.7V824.8M601.50 801.5V831.9M602.50 795.1V844.5M603.50 784.6V842.1M604.50 798.1V833.1M605.50 778.0V833.9M606.50 786.1V835.7M607.50 774.6V827.1M608.50 802.4V824.7M609.50 778.2V826.6M610.50 778.4V818.9M611.50 780.4V808.3M612.50 767.6V832.6M613.50 776.4V812.1M614.50 765.8V811.7M615.50 751.2V797.4M616.50 753.0V805.1M617.50 768.4V795.6M618.50 760.6V801.8M619.50 757.8V800.9M620.50 752.7V785.4M621.50 733.0V788.1M622.50 751.9V791.2M623.50 749.7V782.1M624.50 730.8V779.1M625.50 747.3V786.2" stroke="#1f77b4" stroke-width="1.0" stroke-opacity="0.2" fill="none"/>
<path d="M72.50 760.1V797.4M73.50 788.4V807.9M74.50 784.9V804.7M75.50 794.9V817.4M76.50 777.4V842.4M77.50 797.7V824.4M78.50 776.0V811.9M79.50 786.2V812.0M80.50 780.0V807.6M81.50 784.7V808.1M82.50 782.8V805.5M83.50 777.0V804.4M84.50 775.3V798.9M85.50 776.2V808.4M86.50 761.6V804.6M87.50 766.7V793.2M88.50 767.4V804.8M89.50 776.4V797.2M90.50 756.6V804.8M91.50 746.5V794.4M92.50 754.6V809.1M93.50 755.8V802.4M94.50 784.9V814.0M95.50 780.1V829.6M96.50 802.0V829.7M97.50 782.7V818.2M98.50 797.6V834.3M99.50 787.3V835.9M100.50 794.5V839.4M101.50 807.8V833.9M102.50 793.0V820.8M103.50 799.1V819.1M104.50 787.7V817.5M105.50 789.1V810.3M106.50 778.9V811.5M107.50 769.4V803.4M108.50 758.1V800.1M109.50 766.8V796.8M110.50 764.4V797.1M111.50 764.5V793.2M112.50 757.4V790.0M113.50 754.0V779.8M114.50 759.0V784.5M115.50 755.8V792.4M116.50 758.9V790.2M117.50 752.8V793.8M118.50 748.6V774.9M119.50 755.3V780.3M120.50 753.9V781.9M121.50 745.0V771.5M122.50 737.0V770.3M123.50 735.5V770.0M124.50 732.1V765.7M125.50 745.0V768.4M126.50 751.5V773.5M127.50 746.7V768.7M128.50 749.1V784.1M129.50 750.2V778.2M130.50 752.2V775.5M131.50 755.2V785.0M132.50 750.4V785.4M133.50 775.1V806.6M134.50 777.4V813.1M135.50 778.7V825.3M136.50 782.6V806.5M137.50 773.4V809.5M138.50 778.9V807.4M139.50 781.3V807.8M140.50 784.7V812.7M141.50 785.1V804.1M142.50 786.8V824.7M143.50 773.8V815.5M144.50 788.1V808.5M145.50 788.8V815.5M146.50 783.3V811.6M147.50 784.0V814.5M148.50 779.7V811.2M149.50 788.9V811.0M150.50 783.4V819.5M151.50 783.7V811.6M152.50 778.4V825.6M153.50 787.6V809.7M154.50 787.6V807.6M155.50 776.4V805.7M156.50 768.8V802.0M157.50 782.7V806.3M158.50 772.7V807.7M159.50 787.0V811.2M160.50 787.6V810.7M161.50 781.2V812.2M162.50 773.8V817.2M163.50 783.8V820.9M164.50 774.5V811.5M165.50 762.0V809.1M166.50 779.1V812.3M167.50 768.8V802.9M168.50 779.0V804.6M169.50 776.9V805.2M170.50 789.9V826.4M171.50 763.5V809.7M172.50 784.7V807.1M173.50 766.7V808.9M174.50 783.5V804.5M175.50 777.1V817.9M176.50 783.9V809.1M177.50 789.1V811.3M178.50 777.5V819.2M179.50 785.6V808.8M180.50 789.2V813.4M181.50 786.7V827.0M182.50 783.9V814.2M183.50 789.0V808.4M184.50 780.5V819.8M185.50 782.7V830.2M186.50 790.4V811.8M187.50 780.4V819.1M188.50 778.7V819.1M189.50 791.1V814.2M190.50 792.3V830.7M191.50 764.9V821.9M192.50 776.5V809.9M193.50 770.1V820.2M194.50 790.1V813.2M195.50 790.6V817.6M196.50 789.0V816.8M197.50 769.4V823.5M198.50 790.9V829.2M199.50 780.9V816.5M200.50 778.9V807.0M201.50 775.8V808.1M202.50 772.8V809.3M203.50 762.2V789.1M204.50 755.1V781.8M205.50 736.7V780.3M206.50 756.2V778.8M207.50 751.1V781.3M208.50 747.6V789.0M209.50 757.7V782.1M210.50 758.0V783.6M211.50 740.3V783.0M212.50 759.3V778.3M213.50 736.4V790.9M214.50 744.0V776.7M215.50 734.1V770.3M216.50 739.2V769.6M217.50 738.1V764.3M218.50 750.0V772.9M219.50 738.6V773.0M220.50 743.5V773.3M221.50 749.9V770.4M222.50 731.3V768.9M223.50 744.2V772.3M224.50 757.1V799.2M225.50 758.1V782.5M226.50 753.4V778.5M227.50 756.2V787.4M228.50 763.7V785.9M229.50 745.4V791.7M230.50 756.8V777.8M231.50 755.4V790.2M232.50 752.7V781.9M233.50 747.8V769.0M234.50 748.6V777.2M235.50 755.2V783.5M236.50 762.6V786.5M237.50 748.8V785.5M238.50 757.4V781.2M239.50 759.6V781.3M240.50 760.1V784.3M241.50 753.3V775.1M242.50 760.4V781.1M243.50 754.6V781.4M244.50 749.6V776.0M245.50 754.6V781.5M246.50 753.2V777.1M247.50 753.6V783.1M248.50 756.9V785.7M249.50 751.4V778.2M250.50 755.3V778.1M251.50 754.8V779.3M252.50 756.5V783.8M253.50 767.5V792.5M254.50 764.4V800.9M255.50 780.1V802.5M256.50 762.9V821.1M257.50 775.3V825.3M258.50 779.7V816.8M259.50 783.0V818.0M260.50 782.4V805.7M261.50 785.9V811.0M262.50 790.4V809.7M263.50 788.5V821.1M264.50 781.0V836.1M265.50 787.2V805.0M266.50 771.6V810.6M267.50 785.0V822.4M268.50 778.0V808.1M269.50 783.0V816.8M270.50 783.1V811.2M271.50 789.0V809.4M272.50 789.6V827.7M273.50 771.0V809.4M274.50 785.3V812.0M275.50 785.7V814.4M276.50 785.8V815.7M277.50 780.6V809.6M278.50 779.1V829.4M279.50 748.6V804.2M280.50 770.3V809.5M281.50 777.0V807.6M282.50 772.9V809.0M283.50 769.9V811.6M284.50 779.1V801.0M285.50 760.3V802.4M286.50 775.1V800.0M287.50 782.2V807.3M288.50 757.2V805.2M289.50 772.9V804.1M290.50 784.4V818.6M291.50 784.7V825.3M292.50 790.1V828.2M293.50 792.8V824.7M294.50 786.5V824.4M295.50 794.9V830.7M296.50 794.7V824.6M297.50 788.1V824.8M298.50 797.2V821.1M299.50 782.7V811.8M300.50 787.5V822.2M301.50 785.4V811.3M302.50 783.9V808.9M303.50 786.2V812.2M304.50 787.3V816.3M305.50 781.8V815.6M306.50 785.6V819.8M307.50 771.0V803.8M308.50 781.7V810.5M309.50 784.8V810.6M310.50 787.7V809.7M311.50 791.0V816.2M312.50 795.9V823.4M313.50 786.4V813.7M314.50 792.7V821.6M315.50 790.6V827.6M316.50 790.2V820.0M317.50 792.8V822.9M318.50 794.0V819.1M319.50 791.9V825.2M320.50 794.2V828.9M321.50 799.8V823.7M322.50 802.9V830.8M323.50 792.6V817.8M324.50 769.4V814.5M325.50 792.6V814.7M326.50 781.0V823.4M327.50 782.7V812.4M328.50 780.5V812.5M329.50 779.9V809.3M330.50 774.6V810.6M331.50 772.0V795.4M332.50 760.7V791.6M333.50 758.7V790.9M334.50 757.1V783.6M335.50 753.1V776.6M336.50 757.6V780.3M337.50 758.9V781.2M338.50 750.6V777.1M339.50 755.1V783.7M340.50 752.7V779.3M341.50 734.2V773.6M342.50 752.4V793.5M343.50 757.6V783.5M344.50 742.0V793.8M345.50 746.2V771.8M346.50 747.9V769.0M347.50 735.1V761.1M348.50 733.1V764.7M349.50 743.1V765.3M350.50 728.9V767.9M351.50 741.5V773.2M352.50 753.4V783.8M353.50 751.2V791.6M354.50 752.9V778.6M355.50 762.5V784.0M356.50 749.2V782.3M357.50 761.0V789.2M358.50 738.7V781.0M359.50 746.6V771.5M360.50 748.9V775.4M361.50 744.1V767.4M362.50 741.8V770.5M363.50 740.2V786.5M364.50 748.8V772.1M365.50 755.9V783.4M366.50 754.3V778.8M367.50 754.1V787.2M368.50 756.2V783.8M369.50 750.9V783.1M370.50 757.0V800.4M371.50 771.8V798.9M372.50 763.4V810.0M373.50 779.0V805.0M374.50 776.5V812.1M375.50 782.0V809.8M376.50 781.4V812.8M377.50 776.0V816.4M378.50 786.1V812.5M379.50 786.6V818.7M380.50 788.3V814.0M381.50 788.8V828.5M382.50 777.8V816.9M383.50 798.5V822.4M384.50 789.7V818.3M385.50 795.4V820.3M386.50 793.1V824.5M387.50 800.1V821.1M388.50 797.4V827.8M389.50 790.8V823.9M390.50 793.9V821.8M391.50 795.4V826.0M392.50 801.5V836.8M393.50 797.0V827.6M394.50 812.2V835.6M395.50 782.2V826.8M396.50 791.5V830.8M397.50 790.7V836.3M398.50 780.0V812.1M399.50 774.0V805.0M400.50 783.6V818.7M401.50 776.3V804.2M402.50 764.2V810.9M403.50 760.1V792.7M404.50 755.4V786.9M405.50 752.8V786.6M406.50 757.4V788.0M407.50 755.5V782.5M408.50 756.9V782.8M409.50 754.8V774.6M410.50 755.6V779.4M411.50 749.4V774.8M412.50 753.1V772.9M413.50 739.8V777.4M414.50 749.7V778.8M415.50 755.8V783.1M416.50 746.3V779.2M417.50 749.4V783.0M418.50 747.8V790.9M419.50 775.3V802.5M420.50 769.4V807.6M421.50 773.3V800.2M422.50 772.5V799.6M423.50 776.7V799.0M424.50 779.2V807.1M425.50 778.3V809.6M426.50 784.9V814.6M427.50 787.7V818.2M428.50 791.3V813.7M429.50 785.1V816.5M430.50 787.0V817.7M431.50 793.9V814.8M432.50 784.2V812.8M433.50 781.9V809.6M434.50 775.8V800.2M435.50 769.0V795.4M436.50 760.1V793.8M437.50 762.5V791.7M438.50 761.7V800.4M439.50 753.2V798.9M440.50 740.3V796.9M441.50 764.6V795.0M442.50 754.0V809.0M443.50 759.9V789.4M444.50 755.1V777.8M445.50 736.7V777.7M446.50 744.7V791.6M447.50 754.8V782.4M448.50 747.1V782.4M449.50 752.4V776.1M450.50 754.1V777.6M451.50 742.6V780.7M452.50 752.2V780.8M453.50 742.7V792.2M454.50 750.8V778.7M455.50 748.9V775.0M456.50 758.3V794.2M457.50 763.6V793.6M458.50 749.2V786.1M459.50 764.0V801.3M460.50 774.4V801.2M461.50 762.1V801.4M462.50 765.9V796.9M463.50 771.1V799.0M464.50 765.5V791.8M465.50 767.6V796.9M466.50 758.4V789.6M467.50 751.5V792.0M468.50 716.6V791.8M469.50 751.5V793.1M470.50 771.5V795.4M471.50 775.3V796.1M472.50 778.7V799.8M473.50 776.5V806.5M474.50 765.6V812.0M475.50 781.1V816.0M476.50 789.3V824.7M477.50 794.8V827.2M478.50 796.7V822.7M479.50 798.4V830.9M480.50 802.5V820.9M481.50 794.3V820.0M482.50 795.2V820.6M483.50 799.0V820.0M484.50 801.2V830.7M485.50 800.6V822.2M486.50 793.5V818.5M487.50 798.3V817.0M488.50 792.4V825.4M489.50 792.9V825.9M490.50 791.0V818.9M491.50 788.7V830.4M492.50 790.3V823.0M493.50 803.5V823.1M494.50 798.5V821.9M495.50 803.5V824.5M496.50 795.8V826.8M497.50 786.1V829.7M498.50 792.0V825.4M499.50 796.4V819.1M500.50 788.5V827.6M501.50 788.5V814.3M502.50 786.9V810.4M503.50 781.5V806.8M504.50 778.4V825.6M505.50 788.1V833.4M506.50 781.5V805.5M507.50 761.1V813.5M508.50 782.6V810.6M509.50 764.0V819.9M510.50 769.7V796.3M511.50 770.5V810.0M512.50 766.9V799.8M513.50 773.8V793.7M514.50 777.5V811.0M515.50 783.4V809.3M516.50 776.1V829.5M517.50 786.1V818.7M518.50 765.1V812.2M519.50 771.6V817.3M520.50 791.5V825.1M521.50 792.1V812.0M522.50 795.3V816.2M523.50 785.2V817.7M524.50 788.1V816.5M525.50 790.0V819.0M526.50 780.9V838.4M527.50 789.6V811.9M528.50 793.3V831.1M529.50 792.8V818.4M530.50 789.2V820.1M531.50 783.9V814.1M532.50 785.5V812.7M533.50 795.9V816.3M534.50 792.5V821.2M535.50 789.2V818.9M536.50 781.1V815.2M537.50 787.1V817.5M538.50 793.5V815.8M539.50 790.0V819.9M540.50 780.8V809.8M541.50 787.5V808.7M542.50 751.3V811.6M543.50 777.8V803.1M544.50 782.7V805.4M545.50 779.7V815.0M546.50 781.5V810.9M547.50 779.1V826.7M548.50 788.5V815.0M549.50 780.9V822.7M550.50 783.9V808.7M551.50 780.3V820.8M552.50 783.0V806.4M553.50 787.0V810.5M554.50 773.1V807.2M555.50 766.7V801.9M556.50 768.1V812.7M557.50 780.1V802.8M558.50 752.7V797.2M559.50 756.5V784.8M560.50 762.2V785.8M561.50 758.1V789.0M562.50 757.1V787.7M563.50 762.5V782.5M564.50 756.2V783.5M565.50 753.6V783.8M566.50 748.3V783.0M567.50 737.5V772.3M568.50 742.7V775.7M569.50 749.6V779.5M570.50 739.6V772.7M571.50 744.1V771.4M572.50 755.4V789.5M573.50 749.5V779.6M574.50 763.2V790.6M575.50 763.2V791.7M576.50 760.9V797.0M577.50 763.2V796.5M578.50 779.2V821.1M579.50 781.6V802.4M580.50 763.5V805.0M581.50 777.6V802.2M582.50 773.9V799.2M583.50 779.5V809.1M584.50 783.8V807.3M585.50 783.1V810.6M586.50 777.8V813.8M587.50 781.1V803.7M588.50 783.1V816.1M589.50 787.6V816.0M590.50 783.6V809.6M591.50 785.4V818.9M592.50 784.4V814.5M593.50 782.9V830.5M594.50 794.9V820.7M595.50 793.2V819.4M596.50 793.7V822.5M597.50 788.9V825.6M598.50 795.7V824.6M599.50 799.8V824.4M600.50 792.4V821.7M601.50 801.6V829.2M602.50 795.3V829.0M603.50 799.4V840.5M604.50 799.4V830.6M605.50 792.1V823.3M606.50 795.5V835.4M607.50 789.3V820.5M608.50 803.5V824.5M609.50 787.0V823.8M610.50 789.3V817.5M611.50 784.6V807.5M612.50 776.5V822.8M613.50 779.7V804.0M614.50 767.1V802.7M615.50 753.8V794.3M616.50 756.3V794.5M617.50 770.0V792.6M618.50 761.4V791.0M619.50 763.7V794.8M620.50 759.1V784.0M621.50 733.0V780.5M622.50 752.8V779.4M623.50 753.8V782.0M624.50 738.2V778.2M625.50 756.1V784.3" stroke="#1f77b4" stroke-width="1.0" stroke-opacity="0.4" fill="none"/>
<path d="M72.50 764.0V792.5M75.50 798.3V814.2M76.50 802.4V820.1M77.50 798.1V816.4M79.50 787.9V811.5M84.50 777.9V795.6M88.50 772.0V794.2M89.50 778.2V794.0M91.50 759.8V787.8M92.50 755.1V804.7M93.50 769.3V800.0M95.50 791.8V822.4M96.50 802.2V824.7M97.50 796.6V816.6M99.50 800.8V824.2M100.50 801.3V823.0M101.50 810.7V828.5M102.50 804.4V820.6M104.50 793.1V811.6M106.50 784.1V803.7M107.50 776.5V802.6M108.50 774.0V796.7M109.50 773.8V795.4M110.50 775.1V794.8M112.50 761.4V783.0M113.50 754.5V778.4M115.50 759.8V787.7M116.50 761.7V781.3M117.50 755.7V776.5M118.50 752.2V772.8M119.50 755.5V779.1M120.50 754.6V777.9M121.50 747.9V767.3M122.50 747.7V768.8M124.50 741.9V762.7M126.50 752.6V773.1M127.50 747.6V767.5M128.50 752.5V776.2M129.50 750.3V771.6M130.50 756.1V775.4M131.50 758.0V780.0M132.50 759.6V782.5M133.50 778.0V799.5M134.50 778.8V797.2M135.50 781.4V802.2M136.50 784.3V803.7M137.50 786.4V805.1M139.50 785.1V802.6M141.50 785.4V803.2M142.50 787.2V811.7M143.50 789.0V808.4M144.50 789.4V808.2M145.50 790.4V810.7M146.50 784.0V799.4M148.50 779.9V810.8M149.50 789.3V810.5M150.50 790.9V809.5M151.50 785.1V808.5M155.50 783.5V803.2M156.50 777.7V800.0M157.50 785.1V803.8M158.50 782.6V803.1M159.50 791.0V806.9M161.50 788.7V806.5M162.50 792.8V811.1M163.50 786.7V811.3M164.50 778.6V804.7M165.50 783.5V806.5M168.50 780.1V802.7M169.50 780.5V803.6M170.50 790.2V810.2M171.50 785.7V803.8M172.50 785.6V806.2M173.50 786.8V807.2M174.50 784.0V802.7M175.50 782.0V807.2M176.50 788.2V805.0M177.50 791.1V807.9M178.50 787.3V813.3M181.50 788.9V811.1M182.50 790.1V807.4M184.50 788.5V810.3M185.50 789.3V808.2M186.50 791.0V809.2M187.50 788.4V806.3M188.50 785.6V809.1M189.50 792.6V809.5M190.50 793.1V817.8M191.50 789.3V812.6M193.50 785.5V814.2M194.50 791.3V809.7M196.50 792.5V813.8M197.50 794.4V813.4M198.50 794.0V816.3M200.50 779.2V800.4M201.50 776.2V794.8M204.50 760.0V781.5M205.50 753.6V776.8M207.50 762.8V781.0M209.50 758.9V781.0M213.50 748.9V766.7M214.50 748.5V771.0M217.50 742.8V760.5M221.50 751.5V769.4M222.50 750.7V768.7M225.50 759.6V779.1M226.50 759.2V778.2M227.50 759.6V784.7M228.50 764.7V784.6M230.50 757.9V776.1M231.50 756.3V775.0M232.50 753.2V770.1M236.50 762.7V781.1M237.50 762.7V784.2M238.50 760.5V778.4M239.50 760.6V778.5M240.50 761.0V779.5M241.50 755.8V774.7M243.50 758.1V776.1M244.50 752.5V773.1M245.50 754.9V780.7M246.50 759.4V775.6M247.50 759.4V778.7M248.50 759.0V778.8M251.50 761.5V778.6M252.50 758.1V779.9M253.50 769.7V790.3M254.50 774.2V792.0M258.50 788.6V806.8M260.50 786.1V805.0M263.50 791.4V812.1M264.50 792.0V812.5M265.50 788.2V804.3M266.50 789.2V810.5M268.50 791.2V808.0M270.50 790.5V809.9M271.50 789.8V807.0M274.50 786.4V809.6M275.50 787.0V809.1M276.50 792.2V812.4M277.50 785.3V805.6M278.50 782.6V806.2M280.50 779.1V805.5M282.50 781.4V805.3M284.50 779.8V799.9M285.50 784.2V801.1M286.50 777.4V797.9M288.50 780.5V798.7M289.50 778.4V801.1M291.50 788.0V810.4M292.50 793.3V811.2M293.50 793.5V812.3M294.50 787.1V811.9M295.50 797.2V818.2M296.50 800.8V819.4M297.50 793.9V818.1M298.50 798.5V818.6M299.50 788.5V806.4M301.50 789.6V810.7M302.50 787.8V807.0M304.50 790.2V811.1M305.50 791.1V808.3M307.50 784.8V801.6M308.50 784.5V808.5M309.50 787.2V807.5M310.50 789.1V809.1M312.50 798.4V821.5M314.50 794.6V815.4M315.50 800.0V819.1M316.50 795.8V819.9M318.50 797.3V816.0M321.50 800.0V820.6M323.50 795.0V812.9M325.50 794.3V814.4M326.50 794.2V820.0M327.50 793.0V812.2M329.50 780.6V801.3M331.50 773.6V793.5M332.50 772.1V790.6M334.50 758.6V780.3M335.50 755.5V775.2M336.50 762.2V779.6M337.50 759.3V781.0M338.50 754.7V776.0M339.50 758.0V780.0M340.50 754.9V772.7M341.50 749.2V773.5M342.50 756.4V775.9M343.50 757.8V773.7M344.50 750.7V773.4M345.50 754.3V770.1M346.50 749.0V768.1M347.50 740.9V759.4M349.50 744.5V762.3M350.50 737.4V759.5M351.50 749.0V769.6M352.50 754.6V772.2M353.50 758.0V775.6M355.50 762.8V782.0M356.50 765.4V781.9M358.50 748.9V777.6M359.50 749.4V771.2M361.50 745.8V762.1M362.50 744.8V766.2M363.50 750.7V774.7M365.50 760.4V779.6M366.50 759.8V775.4M368.50 760.0V780.7M370.50 763.4V791.6M371.50 773.7V797.4M373.50 781.1V803.9M374.50 787.6V804.0M379.50 790.1V811.2M380.50 790.7V809.9M381.50 792.3V810.9M382.50 790.6V815.3M383.50 798.8V821.5M384.50 796.4V815.0M385.50 795.8V819.9M387.50 800.4V817.6M389.50 801.8V820.0M390.50 796.4V818.6M391.50 803.5V822.6M392.50 804.3V830.6M393.50 803.1V824.5M394.50 812.3V832.6M395.50 806.5V825.6M397.50 795.0V815.6M398.50 784.2V808.3M399.50 783.0V802.0M400.50 786.0V810.9M404.50 762.0V784.6M406.50 759.7V784.8M407.50 757.9V775.8M408.50 757.2V776.2M409.50 755.0V772.2M410.50 756.7V777.7M412.50 754.9V772.2M413.50 747.6V772.1M416.50 753.8V775.9M417.50 759.4V782.6M419.50 775.9V798.0M420.50 782.1V801.5M422.50 777.0V799.0M424.50 781.3V805.4M427.50 789.6V808.0M429.50 787.7V814.3M431.50 795.1V811.3M432.50 785.1V811.8M434.50 777.1V794.5M436.50 772.1V788.9M438.50 768.4V786.2M439.50 774.6V791.5M442.50 764.7V785.4M444.50 760.7V777.4M445.50 751.7V774.7M447.50 755.9V775.2M448.50 756.7V776.1M450.50 756.4V776.9M451.50 753.6V774.5M453.50 749.0V770.7M454.50 754.4V775.9M455.50 749.4V768.8M456.50 760.8V782.1M457.50 764.4V781.5M460.50 775.7V795.5M461.50 769.2V788.5M462.50 767.5V792.5M464.50 771.2V789.3M465.50 774.3V791.8M466.50 761.0V786.7M467.50 760.4V785.8M469.50 752.0V791.5M470.50 774.5V793.6M471.50 776.5V795.4M472.50 778.9V796.8M473.50 781.2V805.7M474.50 789.7V807.3M475.50 789.3V809.9M482.50 795.9V819.6M483.50 801.4V818.5M484.50 804.5V824.3M485.50 803.3V819.8M486.50 796.0V816.4M487.50 798.9V817.0M488.50 800.5V818.0M489.50 794.6V816.8M490.50 800.0V818.2M492.50 799.7V822.6M493.50 803.8V820.2M495.50 803.7V820.9M496.50 804.2V822.3M497.50 796.1V817.4M498.50 802.7V825.1M499.50 799.9V816.5M500.50 790.5V815.8M503.50 787.6V806.2M504.50 791.5V815.9M507.50 778.7V806.5M509.50 780.5V805.6M510.50 779.7V796.0M511.50 773.8V803.8M512.50 775.8V796.4M514.50 777.6V799.9M515.50 783.8V803.3M516.50 785.3V807.6M517.50 791.3V816.2M521.50 792.1V810.1M522.50 797.7V814.4M523.50 792.6V817.4M524.50 793.5V811.4M528.50 793.7V819.1M531.50 792.0V811.6M532.50 786.5V812.5M533.50 797.3V815.5M534.50 796.7V820.6M539.50 792.7V811.2M541.50 787.8V808.0M545.50 788.8V811.3M546.50 789.4V807.4M547.50 786.9V814.9M550.50 787.3V808.4M552.50 783.3V805.2M555.50 774.2V800.1M556.50 770.5V795.7M557.50 780.3V797.6M558.50 767.5V787.5M560.50 762.3V783.2M564.50 761.6V779.9M565.50 760.8V779.0M566.50 755.6V776.0M567.50 742.8V769.7M568.50 750.1V770.6M569.50 755.8V772.8M570.50 751.7V771.7M571.50 754.9V771.4M572.50 758.6V778.3M574.50 766.9V788.8M575.50 765.0V786.4M577.50 774.4V793.3M578.50 779.7V801.5M580.50 782.5V799.3M581.50 780.1V798.6M582.50 778.8V798.6M583.50 785.9V804.2M585.50 784.8V802.6M586.50 784.5V803.7M587.50 785.0V802.6M588.50 791.1V812.4M589.50 789.6V811.9M590.50 790.8V807.9M591.50 788.5V810.5M593.50 796.0V812.1M594.50 796.4V812.4M595.50 797.3V818.3M596.50 799.4V819.6M598.50 800.9V821.5M599.50 801.8V821.2M600.50 795.7V818.5M601.50 805.6V826.7M603.50 805.6V831.0M605.50 799.0V820.3M606.50 800.5V818.2M608.50 804.4V822.8M609.50 799.8V818.6M610.50 795.6V816.4M611.50 787.1V806.6M612.50 788.2V816.1M615.50 770.9V791.0M616.50 771.8V794.0M619.50 765.6V786.3M621.50 750.4V776.2M622.50 753.1V777.4M624.50 753.7V774.0M625.50 761.9V781.9" stroke="#1f77b4" stroke-width="1.0" stroke-opacity="0.92" fill="none"/>
<path d="M73.50 790.4V807.4M74.50 785.9V804.7M78.50 789.3V808.5M80.50 788.8V806.6M81.50 790.4V807.5M82.50 784.1V802.7M83.50 778.6V796.2M85.50 777.1V795.3M86.50 773.4V799.5M87.50 773.4V791.5M90.50 778.3V798.9M94.50 790.3V811.4M98.50 800.8V822.1M103.50 799.9V815.7M105.50 790.2V810.2M111.50 764.6V784.1M114.50 761.1V781.8M123.50 749.6V768.6M125.50 746.3V762.1M138.50 783.9V799.6M140.50 790.5V808.2M147.50 788.6V809.6M152.50 786.0V811.6M153.50 788.1V805.1M154.50 788.0V805.6M160.50 788.1V810.2M166.50 779.8V806.5M167.50 782.0V802.7M179.50 788.9V808.8M180.50 791.1V811.2M183.50 790.4V807.5M192.50 786.3V808.8M195.50 792.3V813.0M199.50 785.9V808.8M202.50 777.4V796.5M203.50 762.2V787.6M206.50 759.7V777.8M208.50 754.1V773.7M210.50 759.4V781.6M211.50 762.7V779.8M212.50 759.8V776.5M215.50 744.4V764.0M216.50 742.4V761.4M218.50 750.1V769.1M219.50 751.7V768.4M220.50 748.8V769.2M223.50 751.7V772.1M224.50 757.3V775.4M229.50 751.7V780.8M233.50 749.3V768.8M234.50 755.3V775.5M235.50 762.1V780.6M242.50 760.5V778.7M249.50 756.7V774.5M250.50 757.5V777.0M255.50 780.1V797.6M256.50 777.8V798.5M257.50 782.5V801.0M259.50 785.7V811.5M261.50 787.7V809.6M262.50 790.8V808.6M267.50 793.9V812.7M269.50 792.1V814.3M272.50 790.8V816.0M273.50 789.0V808.0M279.50 759.7V803.5M281.50 786.0V804.2M283.50 782.9V802.9M287.50 782.9V800.8M290.50 785.9V813.9M300.50 787.6V811.4M303.50 789.6V807.7M306.50 791.2V809.4M311.50 794.6V816.1M313.50 794.2V813.4M317.50 795.7V816.7M319.50 801.8V819.1M320.50 795.5V826.0M322.50 803.5V823.4M324.50 791.1V812.3M328.50 789.5V811.9M330.50 776.5V799.9M333.50 763.0V785.0M348.50 740.2V758.5M354.50 755.4V777.9M357.50 764.8V788.3M360.50 752.7V769.5M364.50 753.7V771.2M367.50 755.9V784.0M369.50 761.0V779.2M372.50 778.2V804.3M375.50 785.7V807.1M376.50 787.9V808.8M377.50 791.7V814.2M378.50 788.4V810.7M386.50 795.9V818.7M388.50 801.1V823.0M396.50 798.3V822.9M401.50 778.9V802.5M402.50 775.5V796.0M403.50 767.4V791.0M405.50 762.0V782.0M411.50 753.9V772.4M414.50 753.9V774.6M415.50 756.0V774.4M418.50 772.5V790.5M421.50 778.8V800.1M423.50 777.0V798.8M425.50 778.5V805.1M426.50 786.4V812.8M428.50 791.6V809.9M430.50 791.6V816.2M433.50 782.2V799.3M435.50 773.7V791.5M437.50 769.3V789.2M440.50 763.4V786.8M441.50 765.3V786.6M443.50 761.1V784.9M446.50 753.1V772.8M449.50 752.6V774.6M452.50 753.9V775.8M458.50 764.3V783.9M459.50 767.5V788.6M463.50 774.1V792.4M468.50 730.6V789.8M476.50 797.8V815.1M477.50 796.8V824.0M478.50 796.7V818.4M479.50 803.3V824.9M480.50 803.3V819.7M481.50 796.9V819.1M491.50 801.2V819.4M494.50 802.2V819.3M501.50 790.2V813.8M502.50 789.1V809.7M505.50 790.5V812.2M506.50 783.0V804.0M508.50 784.8V805.0M513.50 773.8V790.9M518.50 789.7V808.8M519.50 795.1V814.5M520.50 794.5V816.2M525.50 792.7V818.6M526.50 793.8V815.6M527.50 794.4V811.5M529.50 793.0V814.3M530.50 793.9V817.1M535.50 790.7V812.5M536.50 785.4V814.9M537.50 798.8V815.1M538.50 797.7V815.5M540.50 782.0V806.2M542.50 766.9V810.3M543.50 781.4V802.5M544.50 783.5V803.4M548.50 789.3V810.3M549.50 788.3V812.1M551.50 785.4V809.7M553.50 787.2V806.0M554.50 784.4V806.3M559.50 761.3V782.7M561.50 762.5V782.8M562.50 759.0V783.0M563.50 763.9V780.7M573.50 754.5V777.4M576.50 762.5V790.1M579.50 782.6V798.6M584.50 784.3V801.6M592.50 791.8V813.5M597.50 797.0V819.2M602.50 803.9V827.2M604.50 801.2V824.6M607.50 797.2V815.0M613.50 780.1V801.5M614.50 777.2V797.2M617.50 770.5V792.3M618.50 769.2V790.1M620.50 759.7V780.9M623.50 757.8V780.2" stroke="#1f77b4" stroke-width="1.0" stroke-opacity="0.55" fill="none"/>
<defs><linearGradient id="jg" x1="0" y1="0" x2="0" y2="1"><stop offset="0.0000" stop-color="#800000"/><stop offset="0.0312" stop-color="#a40000"/><stop offset="0.0625" stop-color="#c80000"/><stop offset="0.0938" stop-color="#ec0400"/><stop offset="0.1250" stop-color="#ff2100"/><stop offset="0.1562" stop-color="#ff3f00"/><stop offset="0.1875" stop-color="#ff5c00"/><stop offset="0.2188" stop-color="#ff7a00"/><stop offset="0.2500" stop-color="#ff9700"/><stop offset="0.2812" stop-color="#ffb500"/><stop offset="0.3125" stop-color="#ffd200"/><stop offset="0.3438" stop-color="#fcf000"/><stop offset="0.3750" stop-color="#e2ff15"/><stop offset="0.4062" stop-color="#c9ff2e"/><stop offset="0.4375" stop-color="#afff48"/><stop offset="0.4688" stop-color="#95ff62"/><stop offset="0.5000" stop-color="#7bff7b"/><stop offset="0.5312" stop-color="#62ff95"/><stop offset="0.5625" stop-color="#48ffaf"/><stop offset="0.5938" stop-color="#2effc9"/><stop offset="0.6250" stop-color="#15ffe2"/><stop offset="0.6562" stop-color="#00dffc"/><stop offset="0.6875" stop-color="#00bfff"/><stop offset="0.7188" stop-color="#009fff"/><stop offset="0.7500" stop-color="#0080ff"/><stop offset="0.7812" stop-color="#0060ff"/><stop offset="0.8125" stop-color="#0040ff"/><stop offset="0.8438" stop-color="#0020ff"/><stop offset="0.8750" stop-color="#0000ff"/><stop offset="0.9062" stop-color="#0000ec"/><stop offset="0.9375" stop-color="#0000c8"/><stop offset="0.9688" stop-color="#0000a4"/><stop offset="1.0000" stop-color="#000080"/></linearGradient></defs>
<rect x="641.3" y="194.3" width="14.0" height="458.40000000000003" fill="url(#jg)"/>
<rect x="641.5" y="194.5" width="14.0" height="458.0" stroke="#000" stroke-width="0.8" fill="none"/>
<rect x="72.5" y="45.5" width="554.0" height="140.0" stroke="#000" stroke-width="0.8" fill="none"/>
<rect x="72.5" y="205.5" width="554.0" height="490.0" stroke="#000" stroke-width="0.8" fill="none"/>
<rect x="72.5" y="715.5" width="554.0" height="140.0" stroke="#000" stroke-width="0.8" fill="none"/>
<path d="M72.5 185.5v3.9M164.5 185.5v3.9M256.5 185.5v3.9M349.5 185.5v3.9M441.5 185.5v3.9M534.5 185.5v3.9M626.5 185.5v3.9M72.5 855.5v3.9M164.5 855.5v3.9M256.5 855.5v3.9M349.5 855.5v3.9M441.5 855.5v3.9M534.5 855.5v3.9M626.5 855.5v3.9M72.5 184.5h-3.9M72.5 117.5h-3.9M72.5 51.5h-3.9M72.5 695.5h-3.9M72.5 633.5h-3.9M72.5 572.5h-3.9M72.5 511.5h-3.9M72.5 450.5h-3.9M72.5 388.5h-3.9M72.5 327.5h-3.9M72.5 266.5h-3.9M72.5 205.5h-3.9M72.5 843.5h-3.9M72.5 793.5h-3.9M72.5 743.5h-3.9M655.5 652.5h3.9M655.5 595.5h3.9M655.5 538.5h3.9M655.5 480.5h3.9M655.5 423.5h3.9M655.5 366.5h3.9M655.5 308.5h3.9M655.5 251.5h3.9M655.5 194.5h3.9" stroke="#000" stroke-width="0.8" fill="none"/>
<text x="65.20" y="189.70" font-size="15.3" text-anchor="end" textLength="22.66" lengthAdjust="spacingAndGlyphs">0.0</text>
<text x="65.20" y="123.27" font-size="15.3" text-anchor="end" textLength="22.66" lengthAdjust="spacingAndGlyphs">1.3</text>
<text x="65.20" y="56.84" font-size="15.3" text-anchor="end" textLength="22.66" lengthAdjust="spacingAndGlyphs">2.6</text>
<text x="65.20" y="700.70" font-size="15.3" text-anchor="end" textLength="8.35" lengthAdjust="spacingAndGlyphs">0</text>
<text x="65.20" y="639.45" font-size="15.3" text-anchor="end" textLength="32.21" lengthAdjust="spacingAndGlyphs">0.25</text>
<text x="65.20" y="578.20" font-size="15.3" text-anchor="end" textLength="22.66" lengthAdjust="spacingAndGlyphs">0.5</text>
<text x="65.20" y="516.95" font-size="15.3" text-anchor="end" textLength="32.21" lengthAdjust="spacingAndGlyphs">0.75</text>
<text x="65.20" y="455.70" font-size="15.3" text-anchor="end" textLength="8.35" lengthAdjust="spacingAndGlyphs">1</text>
<text x="65.20" y="394.45" font-size="15.3" text-anchor="end" textLength="32.21" lengthAdjust="spacingAndGlyphs">1.25</text>
<text x="65.20" y="333.20" font-size="15.3" text-anchor="end" textLength="22.66" lengthAdjust="spacingAndGlyphs">1.5</text>
<text x="65.20" y="271.95" font-size="15.3" text-anchor="end" textLength="32.21" lengthAdjust="spacingAndGlyphs">1.75</text>
<text x="65.20" y="210.70" font-size="15.3" text-anchor="end" textLength="8.35" lengthAdjust="spacingAndGlyphs">2</text>
<text x="65.20" y="849.00" font-size="15.3" text-anchor="end" textLength="8.35" lengthAdjust="spacingAndGlyphs">0</text>
<text x="65.20" y="799.00" font-size="15.3" text-anchor="end" textLength="17.89" lengthAdjust="spacingAndGlyphs">20</text>
<text x="65.20" y="749.00" font-size="15.3" text-anchor="end" textLength="17.89" lengthAdjust="spacingAndGlyphs">40</text>
<text x="72.30" y="872.60" font-size="15.3" text-anchor="middle" textLength="8.35" lengthAdjust="spacingAndGlyphs">0</text>
<text x="164.70" y="872.60" font-size="15.3" text-anchor="middle" textLength="17.89" lengthAdjust="spacingAndGlyphs">10</text>
<text x="257.10" y="872.60" font-size="15.3" text-anchor="middle" textLength="17.89" lengthAdjust="spacingAndGlyphs">20</text>
<text x="349.50" y="872.60" font-size="15.3" text-anchor="middle" textLength="17.89" lengthAdjust="spacingAndGlyphs">30</text>
<text x="441.90" y="872.60" font-size="15.3" text-anchor="middle" textLength="17.89" lengthAdjust="spacingAndGlyphs">40</text>
<text x="534.30" y="872.60" font-size="15.3" text-anchor="middle" textLength="17.89" lengthAdjust="spacingAndGlyphs">50</text>
<text x="626.70" y="872.60" font-size="15.3" text-anchor="middle" textLength="17.89" lengthAdjust="spacingAndGlyphs">60</text>
<text x="661.20" y="658.40" font-size="15.3" text-anchor="start" textLength="32.21" lengthAdjust="spacingAndGlyphs">0.00</text>
<text x="661.20" y="601.10" font-size="15.3" text-anchor="start" textLength="32.21" lengthAdjust="spacingAndGlyphs">0.25</text>
<text x="661.20" y="543.80" font-size="15.3" text-anchor="start" textLength="32.21" lengthAdjust="spacingAndGlyphs">0.50</text>
<text x="661.20" y="486.50" font-size="15.3" text-anchor="start" textLength="32.21" lengthAdjust="spacingAndGlyphs">0.75</text>
<text x="661.20" y="429.20" font-size="15.3" text-anchor="start" textLength="32.21" lengthAdjust="spacingAndGlyphs">1.00</text>
<text x="661.20" y="371.90" font-size="15.3" text-anchor="start" textLength="32.21" lengthAdjust="spacingAndGlyphs">1.25</text>
<text x="661.20" y="314.60" font-size="15.3" text-anchor="start" textLength="32.21" lengthAdjust="spacingAndGlyphs">1.50</text>
<text x="661.20" y="257.30" font-size="15.3" text-anchor="start" textLength="32.21" lengthAdjust="spacingAndGlyphs">1.75</text>
<text x="661.20" y="200.00" font-size="15.3" text-anchor="start" textLength="32.21" lengthAdjust="spacingAndGlyphs">2.00</text>
<text x="35.00" y="116.00" font-size="15.3" text-anchor="middle" textLength="82.40" lengthAdjust="spacingAndGlyphs" transform="rotate(-90 35.00 116.00)">Wind [m/s]</text>
<text x="24.60" y="450.50" font-size="15.3" text-anchor="middle" textLength="137.80" lengthAdjust="spacingAndGlyphs" transform="rotate(-90 24.60 450.50)">FFT Frequenz [Hz]</text>
<text x="39.80" y="786.00" font-size="15.3" text-anchor="middle" textLength="64.20" lengthAdjust="spacingAndGlyphs" transform="rotate(-90 39.80 786.00)">SPL [dB]</text>
<text x="349.30" y="890.50" font-size="15.3" text-anchor="middle" textLength="79.50" lengthAdjust="spacingAndGlyphs">time [min]</text>
<text x="360.00" y="31.60" font-size="18.3" text-anchor="middle" textLength="322.66" lengthAdjust="spacingAndGlyphs">2017-05-15 17:00-17:00 (80.00_Hz)</text>
</svg></body></html>
